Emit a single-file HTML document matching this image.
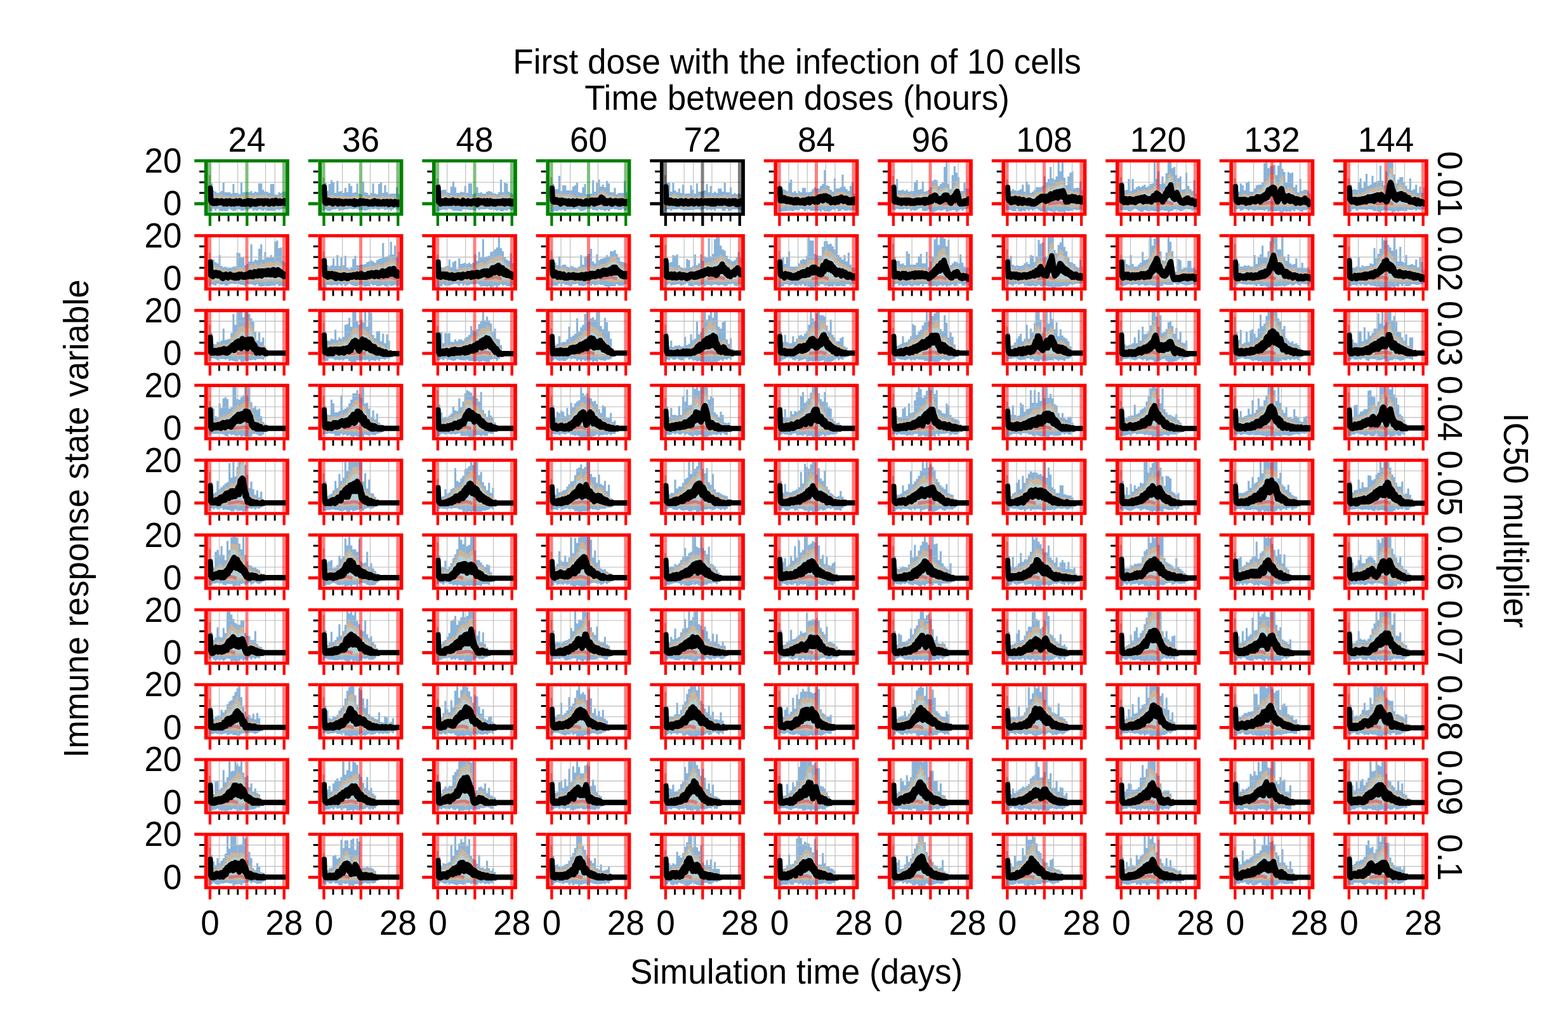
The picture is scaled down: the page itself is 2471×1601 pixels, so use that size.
<!DOCTYPE html><html><head><meta charset="utf-8"><style>html,body{margin:0;padding:0;background:#fff;}svg{display:block;}text{font-family:"Liberation Sans",Arial,sans-serif;font-size:53px;fill:#000;}</style></head><body>
<svg width="2471" height="1601" viewBox="0 0 2471 1601">
<rect width="2471" height="1601" fill="#fff"/>
<defs><clipPath id="pc" clipPathUnits="userSpaceOnUse"><rect x="327.7" y="256.1" width="122.4" height="78.9"/></clipPath></defs>
<text transform="translate(1256,115.5) scale(1,1.04)" text-anchor="middle">First dose with the infection of 10 cells</text>
<text transform="translate(1256,173.2) scale(1,1.04)" text-anchor="middle">Time between doses (hours)</text>
<text transform="translate(1255,1550) scale(1,1.04)" text-anchor="middle">Simulation time (days)</text>
<text transform="translate(139,817.3) rotate(-90) scale(1,1.04)" text-anchor="middle">Immune response state variable</text>
<text transform="translate(2370,820) rotate(90) scale(1,1.04)" text-anchor="middle">IC50 multiplier</text>
<text transform="translate(388.9,239) scale(1,1.04)" text-anchor="middle">24</text>
<text transform="translate(568.4,239) scale(1,1.04)" text-anchor="middle">36</text>
<text transform="translate(747.9,239) scale(1,1.04)" text-anchor="middle">48</text>
<text transform="translate(927.4,239) scale(1,1.04)" text-anchor="middle">60</text>
<text transform="translate(1106.9,239) scale(1,1.04)" text-anchor="middle">72</text>
<text transform="translate(1286.4,239) scale(1,1.04)" text-anchor="middle">84</text>
<text transform="translate(1465.9,239) scale(1,1.04)" text-anchor="middle">96</text>
<text transform="translate(1645.4,239) scale(1,1.04)" text-anchor="middle">108</text>
<text transform="translate(1824.9,239) scale(1,1.04)" text-anchor="middle">120</text>
<text transform="translate(2004.4,239) scale(1,1.04)" text-anchor="middle">132</text>
<text transform="translate(2183.9,239) scale(1,1.04)" text-anchor="middle">144</text>
<text transform="translate(286.5,272) scale(1,1.04)" text-anchor="end">20</text>
<text transform="translate(286.5,339.2) scale(1,1.04)" text-anchor="end">0</text>
<text transform="translate(2266,289.7) rotate(90) scale(1,1.04)" text-anchor="middle">0.01</text>
<text transform="translate(286.5,389.9) scale(1,1.04)" text-anchor="end">20</text>
<text transform="translate(286.5,457.1) scale(1,1.04)" text-anchor="end">0</text>
<text transform="translate(2266,407.6) rotate(90) scale(1,1.04)" text-anchor="middle">0.02</text>
<text transform="translate(286.5,507.8) scale(1,1.04)" text-anchor="end">20</text>
<text transform="translate(286.5,575) scale(1,1.04)" text-anchor="end">0</text>
<text transform="translate(2266,525.5) rotate(90) scale(1,1.04)" text-anchor="middle">0.03</text>
<text transform="translate(286.5,625.8) scale(1,1.04)" text-anchor="end">20</text>
<text transform="translate(286.5,693) scale(1,1.04)" text-anchor="end">0</text>
<text transform="translate(2266,643.5) rotate(90) scale(1,1.04)" text-anchor="middle">0.04</text>
<text transform="translate(286.5,743.7) scale(1,1.04)" text-anchor="end">20</text>
<text transform="translate(286.5,810.9) scale(1,1.04)" text-anchor="end">0</text>
<text transform="translate(2266,761.4) rotate(90) scale(1,1.04)" text-anchor="middle">0.05</text>
<text transform="translate(286.5,861.6) scale(1,1.04)" text-anchor="end">20</text>
<text transform="translate(286.5,928.8) scale(1,1.04)" text-anchor="end">0</text>
<text transform="translate(2266,879.3) rotate(90) scale(1,1.04)" text-anchor="middle">0.06</text>
<text transform="translate(286.5,979.5) scale(1,1.04)" text-anchor="end">20</text>
<text transform="translate(286.5,1046.7) scale(1,1.04)" text-anchor="end">0</text>
<text transform="translate(2266,997.2) rotate(90) scale(1,1.04)" text-anchor="middle">0.07</text>
<text transform="translate(286.5,1097.4) scale(1,1.04)" text-anchor="end">20</text>
<text transform="translate(286.5,1164.6) scale(1,1.04)" text-anchor="end">0</text>
<text transform="translate(2266,1115.1) rotate(90) scale(1,1.04)" text-anchor="middle">0.08</text>
<text transform="translate(286.5,1215.4) scale(1,1.04)" text-anchor="end">20</text>
<text transform="translate(286.5,1282.6) scale(1,1.04)" text-anchor="end">0</text>
<text transform="translate(2266,1233.1) rotate(90) scale(1,1.04)" text-anchor="middle">0.09</text>
<text transform="translate(286.5,1333.3) scale(1,1.04)" text-anchor="end">20</text>
<text transform="translate(286.5,1400.5) scale(1,1.04)" text-anchor="end">0</text>
<text transform="translate(2266,1351) rotate(90) scale(1,1.04)" text-anchor="middle">0.1</text>
<text transform="translate(330.9,1472.6) scale(1,1.04)" text-anchor="middle">0</text>
<text transform="translate(447.7,1472.6) scale(1,1.04)" text-anchor="middle">28</text>
<text transform="translate(510.4,1472.6) scale(1,1.04)" text-anchor="middle">0</text>
<text transform="translate(627.2,1472.6) scale(1,1.04)" text-anchor="middle">28</text>
<text transform="translate(689.9,1472.6) scale(1,1.04)" text-anchor="middle">0</text>
<text transform="translate(806.7,1472.6) scale(1,1.04)" text-anchor="middle">28</text>
<text transform="translate(869.4,1472.6) scale(1,1.04)" text-anchor="middle">0</text>
<text transform="translate(986.2,1472.6) scale(1,1.04)" text-anchor="middle">28</text>
<text transform="translate(1048.9,1472.6) scale(1,1.04)" text-anchor="middle">0</text>
<text transform="translate(1165.7,1472.6) scale(1,1.04)" text-anchor="middle">28</text>
<text transform="translate(1228.4,1472.6) scale(1,1.04)" text-anchor="middle">0</text>
<text transform="translate(1345.2,1472.6) scale(1,1.04)" text-anchor="middle">28</text>
<text transform="translate(1407.9,1472.6) scale(1,1.04)" text-anchor="middle">0</text>
<text transform="translate(1524.7,1472.6) scale(1,1.04)" text-anchor="middle">28</text>
<text transform="translate(1587.4,1472.6) scale(1,1.04)" text-anchor="middle">0</text>
<text transform="translate(1704.2,1472.6) scale(1,1.04)" text-anchor="middle">28</text>
<text transform="translate(1766.9,1472.6) scale(1,1.04)" text-anchor="middle">0</text>
<text transform="translate(1883.7,1472.6) scale(1,1.04)" text-anchor="middle">28</text>
<text transform="translate(1946.4,1472.6) scale(1,1.04)" text-anchor="middle">0</text>
<text transform="translate(2063.2,1472.6) scale(1,1.04)" text-anchor="middle">28</text>
<text transform="translate(2125.9,1472.6) scale(1,1.04)" text-anchor="middle">0</text>
<text transform="translate(2242.7,1472.6) scale(1,1.04)" text-anchor="middle">28</text>
<g transform="translate(0,0)">
<g clip-path="url(#pc)">
<path transform="translate(328.8 0)scale(3.128 1)" d="M0 333V289h1V289h1V300h1V302h1V304h1V303h1V301h1V288h1V303h1V303h1V303h1V305h1V290h1V304h1V304h1V306h1V288h1V303h1V303h1V302h1V303h1V301h1V304h1V302h1V303h1V289h1V289h1V299h1V302h1V302h1V304h1V290h1V290h1V306h1V307h1V303h1V304h1V302h1V302h1V297h1V332h-1V329h-1V329h-1V330h-1V331h-1V330h-1V332h-1V332h-1V332h-1V332h-1V332h-1V330h-1V332h-1V331h-1V330h-1V332h-1V331h-1V332h-1V329h-1V330h-1V332h-1V330h-1V332h-1V332h-1V330h-1V330h-1V332h-1V333h-1V331h-1V329h-1V332h-1V333h-1V332h-1V333h-1V332h-1V329h-1V332h-1V329h-1V333h-1V333h-1Z" fill="#88b3da"/>
<path transform="translate(328.8 0)scale(3.128 1)" d="M0 327V276h1V295h1V306h1V308h1V309h1V308h1V306h1V309h1V308h1V309h1V309h1V310h1V308h1V310h1V310h1V310h1V309h1V309h1V308h1V307h1V308h1V308h1V309h1V307h1V308h1V308h1V307h1V307h1V308h1V308h1V310h1V309h1V310h1V309h1V310h1V309h1V308h1V307h1V308h1V309h1V326h-1V325h-1V325h-1V326h-1V326h-1V325h-1V326h-1V327h-1V326h-1V326h-1V327h-1V327h-1V327h-1V326h-1V326h-1V326h-1V326h-1V326h-1V326h-1V325h-1V326h-1V327h-1V326h-1V326h-1V325h-1V325h-1V326h-1V325h-1V325h-1V326h-1V326h-1V326h-1V326h-1V325h-1V326h-1V325h-1V325h-1V326h-1V326h-1V327h-1Z" fill="#cdb498"/>
<path transform="translate(328.8 0)scale(3.128 1)" d="M0 322V284h1V300h1V310h1V312h1V312h1V311h1V311h1V312h1V311h1V311h1V312h1V312h1V312h1V313h1V313h1V313h1V313h1V313h1V313h1V312h1V312h1V311h1V313h1V311h1V311h1V311h1V311h1V311h1V311h1V312h1V313h1V312h1V313h1V313h1V313h1V312h1V312h1V311h1V311h1V312h1V322h-1V322h-1V322h-1V322h-1V322h-1V322h-1V322h-1V322h-1V322h-1V322h-1V322h-1V322h-1V322h-1V322h-1V322h-1V322h-1V322h-1V322h-1V322h-1V322h-1V322h-1V322h-1V322h-1V322h-1V322h-1V322h-1V322h-1V322h-1V322h-1V322h-1V322h-1V322h-1V322h-1V322h-1V322h-1V322h-1V322h-1V322h-1V322h-1V322h-1Z" fill="#b3cfd4"/>
<path d="M345.5 256.1V335M374.7 256.1V335M418.5 256.1V335M433.1 256.1V335M327.7 287.2H450.1" stroke="#bababa" stroke-width="1.1" fill="none"/>
<path d="M330.6 256.1V335M389 256.1V335M447.4 256.1V335" stroke="#008000" stroke-opacity="0.5" stroke-width="5" fill="none"/>

<g fill="#000" stroke="#000" stroke-linejoin="round"><path d="M330.9 296.5l0.5 0 0.8 16 1.6 3 1.6 1 1.6 0 1.6 1 1.6-1 1.6 0 1.6 0 1.6 1 1.6 0 1.6-1 1.6 0 1.6 1 1.6 1 1.6-1 1.6-1 1.6 1 1.6 0 1.6-1 1.6 0 1.6 2 1.6-1 1.6 0 1.6 0 1.6 0 1.6-1 1.6 1 1.6 0 1.6-1 1.6 0 1.6 2 1.6 0 1.6 0 1.6-1 1.6 1 1.6-1 1.6-1 1.6 0 1.6 0 1.6 2 1.6-2 1.6 1 1.6 0 1.6 1 1.6-1 1.6 0 1.6-1 1.6 0 1.6 1 1.6-1 1.6 1 1.6-1 1.6 2 1.6-2 1.6 0 1.6 1 1.6-1 1.6 2 1.6 0 1.6-1 1.6-1 1.6 0 1.6 1 1.6 0 1.6-2 1.6 2 1.6 0 1.6 0 1.6-1 1.6 1 1.6 0 1.6 0 1.6-1 1.6 0 0 4-1.6-2-1.6 1-1.6 0-1.6 1-1.6-1-1.6 1-1.6 0-1.6-1-1.6-1-1.6 2-1.6 1-1.6-2-1.6-1-1.6 1-1.6 2-1.6 0-1.6-1-1.6-1-1.6 0-1.6 0-1.6 2-1.6-3-1.6 1-1.6-1-1.6 2-1.6-2-1.6 2-1.6 1-1.6 0-1.6 0-1.6-1-1.6 0-1.6-1-1.6 3-1.6-3-1.6-1-1.6 1-1.6 2-1.6 0-1.6 0-1.6 0-1.6 0-1.6 0-1.6-2-1.6 0-1.6 1-1.6 0-1.6 0-1.6 0-1.6 1-1.6-1-1.6 0-1.6 1-1.6-1-1.6-1-1.6 1-1.6 1-1.6-1-1.6 0-1.6 1-1.6-2-1.6 0-1.6-1-1.6 1-1.6 0-1.6 0-1.6 1-1.6-1-1.6 1-1.6 0-1.6 0-1.6-1-1.6-3-0.8-16-0.5 0Z" stroke-width="8.4"/></g>
</g>
<path d="M321.9 251H455.9V339.9H321.9ZM327.7 256.1V335H450.1V256.1Z" fill="#008000" fill-rule="evenodd"/>
<path d="M306.3 253.4H321.9M306.3 321H321.9" stroke="#008000" stroke-width="4.8"/>
<path d="M314.2 304.1H321.9M314.2 287.2H321.9M314.2 270.3H321.9" stroke="#000" stroke-width="3"/>
<path d="M330.9 339.9V355.9M389.3 339.9V355.9M447.7 339.9V355.9" stroke="#008000" stroke-width="4.3"/>
<path d="M345.5 339.9V348.7M360.1 339.9V348.7M374.7 339.9V348.7M403.9 339.9V348.7M418.5 339.9V348.7M433.1 339.9V348.7" stroke="#000" stroke-width="2.9"/>
</g>
<g transform="translate(179.5,0)">
<g clip-path="url(#pc)">
<path transform="translate(328.8 0)scale(3.128 1)" d="M0 332V289h1V288h1V301h1V290h1V284h1V287h1V304h1V285h1V302h1V301h1V304h1V296h1V303h1V289h1V293h1V304h1V303h1V289h1V305h1V306h1V286h1V303h1V304h1V307h1V304h1V289h1V305h1V306h1V290h1V287h1V304h1V292h1V303h1V306h1V305h1V305h1V305h1V295h1V306h1V306h1V332h-1V331h-1V330h-1V328h-1V330h-1V332h-1V330h-1V330h-1V331h-1V329h-1V329h-1V331h-1V330h-1V329h-1V330h-1V329h-1V330h-1V331h-1V332h-1V331h-1V331h-1V331h-1V329h-1V329h-1V330h-1V329h-1V329h-1V330h-1V330h-1V331h-1V331h-1V332h-1V329h-1V330h-1V330h-1V331h-1V333h-1V332h-1V330h-1V332h-1Z" fill="#88b3da"/>
<path transform="translate(328.8 0)scale(3.128 1)" d="M0 325V280h1V297h1V309h1V309h1V307h1V308h1V309h1V309h1V309h1V308h1V309h1V310h1V309h1V310h1V310h1V309h1V307h1V309h1V310h1V310h1V309h1V309h1V310h1V311h1V309h1V309h1V310h1V310h1V311h1V309h1V308h1V310h1V309h1V310h1V310h1V309h1V311h1V311h1V312h1V311h1V325h-1V326h-1V325h-1V326h-1V326h-1V326h-1V325h-1V326h-1V326h-1V325h-1V327h-1V326h-1V325h-1V325h-1V325h-1V326h-1V325h-1V326h-1V325h-1V325h-1V324h-1V325h-1V325h-1V325h-1V325h-1V326h-1V325h-1V325h-1V327h-1V326h-1V325h-1V326h-1V326h-1V326h-1V326h-1V326h-1V326h-1V326h-1V325h-1V325h-1Z" fill="#cdb498"/>
<path transform="translate(328.8 0)scale(3.128 1)" d="M0 322V287h1V303h1V312h1V311h1V311h1V312h1V312h1V313h1V313h1V312h1V313h1V313h1V313h1V313h1V313h1V312h1V311h1V312h1V312h1V312h1V312h1V312h1V314h1V314h1V313h1V312h1V314h1V313h1V313h1V313h1V312h1V313h1V312h1V313h1V313h1V312h1V313h1V314h1V314h1V314h1V322h-1V322h-1V322h-1V322h-1V322h-1V322h-1V322h-1V322h-1V322h-1V322h-1V322h-1V322h-1V322h-1V322h-1V322h-1V322h-1V322h-1V322h-1V322h-1V322h-1V322h-1V322h-1V322h-1V322h-1V322h-1V322h-1V322h-1V322h-1V322h-1V322h-1V322h-1V322h-1V322h-1V322h-1V322h-1V322h-1V322h-1V322h-1V322h-1V322h-1Z" fill="#b3cfd4"/>
<path d="M360.1 256.1V335M403.9 256.1V335M433.1 256.1V335M327.7 287.2H450.1" stroke="#bababa" stroke-width="1.1" fill="none"/>
<path d="M330.6 256.1V335M389 256.1V335M447.4 256.1V335" stroke="#008000" stroke-opacity="0.5" stroke-width="5" fill="none"/>

<g fill="#000" stroke="#000" stroke-linejoin="round"><path d="M330.9 294.4l0.5 0 0.8 20 1.6 2 1.6 0 1.6-1 1.6 0 1.6 1 1.6 0 1.6 0 1.6 2 1.6-2 1.6 0 1.6 0 1.6 1 1.6 1 1.6-2 1.6 2 1.6-1 1.6 0 1.6 1 1.6 0 1.6-1 1.6 0 1.6 0 1.6 1 1.6-1 1.6 0 1.6 0 1.6 1 1.6 0 1.6-2 1.6 2 1.6-1 1.6 1 1.6 0 1.6 0 1.6-2 1.6 1 1.6 0 1.6-1 1.6 1 1.6 1 1.6-1 1.6 0 1.6 2 1.6-1 1.6 0 1.6 0 1.6-1 1.6 1 1.6-2 1.6 1 1.6 0 1.6 1 1.6-1 1.6 1 1.6 0 1.6 1 1.6-1 1.6-1 1.6 1 1.6 0 1.6-1 1.6 0 1.6 2 1.6-1 1.6-1 1.6 1 1.6 0 1.6 0 1.6-1 1.6 1 1.6 0 1.6 1 1.6-1 0 3-1.6 1-1.6-1-1.6 0-1.6 0-1.6 1-1.6-1-1.6 0-1.6-2-1.6 2-1.6 1-1.6-2-1.6 0-1.6 0-1.6 1-1.6-1-1.6 0-1.6 1-1.6-1-1.6 1-1.6 0-1.6 0-1.6-1-1.6 0-1.6-1-1.6 2-1.6-1-1.6 1-1.6 0-1.6-1-1.6 1-1.6-2-1.6 1-1.6 0-1.6 0-1.6 0-1.6 0-1.6-1-1.6 0-1.6 2-1.6 0-1.6-1-1.6 0-1.6 2-1.6-2-1.6 1-1.6-1-1.6 0-1.6 0-1.6-1-1.6 1-1.6-1-1.6 0-1.6 0-1.6 2-1.6 0-1.6-1-1.6-1-1.6 1-1.6-1-1.6 2-1.6-1-1.6-2-1.6 1-1.6 0-1.6 2-1.6-1-1.6-1-1.6 0-1.6-1-1.6 1-1.6 1-1.6 0-1.6-2-0.8-20-0.5 0Z" stroke-width="8.4"/></g>
</g>
<path d="M321.9 251H455.9V339.9H321.9ZM327.7 256.1V335H450.1V256.1Z" fill="#008000" fill-rule="evenodd"/>
<path d="M306.3 253.4H321.9M306.3 321H321.9" stroke="#008000" stroke-width="4.8"/>
<path d="M314.2 304.1H321.9M314.2 287.2H321.9M314.2 270.3H321.9" stroke="#000" stroke-width="3"/>
<path d="M330.9 339.9V355.9M389.3 339.9V355.9M447.7 339.9V355.9" stroke="#008000" stroke-width="4.3"/>
<path d="M345.5 339.9V348.7M360.1 339.9V348.7M374.7 339.9V348.7M403.9 339.9V348.7M418.5 339.9V348.7M433.1 339.9V348.7" stroke="#000" stroke-width="2.9"/>
</g>
<g transform="translate(359,0)">
<g clip-path="url(#pc)">
<path transform="translate(328.8 0)scale(3.128 1)" d="M0 333V290h1V290h1V300h1V299h1V299h1V303h1V304h1V294h1V286h1V295h1V304h1V304h1V302h1V303h1V293h1V304h1V289h1V289h1V306h1V304h1V295h1V304h1V303h1V305h1V305h1V302h1V301h1V302h1V304h1V305h1V306h1V303h1V283h1V303h1V288h1V289h1V302h1V304h1V306h1V304h1V330h-1V331h-1V331h-1V330h-1V332h-1V331h-1V333h-1V333h-1V331h-1V332h-1V331h-1V330h-1V331h-1V330h-1V329h-1V330h-1V330h-1V330h-1V331h-1V329h-1V332h-1V331h-1V331h-1V331h-1V330h-1V330h-1V330h-1V333h-1V333h-1V332h-1V332h-1V332h-1V330h-1V329h-1V330h-1V331h-1V330h-1V331h-1V332h-1V333h-1Z" fill="#88b3da"/>
<path transform="translate(328.8 0)scale(3.128 1)" d="M0 326V281h1V298h1V307h1V305h1V306h1V308h1V310h1V307h1V308h1V309h1V310h1V309h1V308h1V307h1V308h1V309h1V310h1V310h1V310h1V310h1V308h1V309h1V309h1V310h1V309h1V308h1V307h1V307h1V308h1V308h1V310h1V309h1V307h1V307h1V307h1V308h1V308h1V309h1V310h1V310h1V326h-1V326h-1V325h-1V325h-1V326h-1V326h-1V327h-1V327h-1V326h-1V326h-1V325h-1V326h-1V326h-1V326h-1V326h-1V326h-1V326h-1V326h-1V325h-1V325h-1V326h-1V326h-1V327h-1V326h-1V325h-1V325h-1V325h-1V326h-1V326h-1V326h-1V325h-1V325h-1V325h-1V325h-1V325h-1V325h-1V325h-1V325h-1V325h-1V326h-1Z" fill="#cdb498"/>
<path transform="translate(328.8 0)scale(3.128 1)" d="M0 322V285h1V301h1V310h1V309h1V310h1V311h1V312h1V311h1V312h1V312h1V313h1V312h1V311h1V311h1V311h1V312h1V313h1V312h1V312h1V313h1V312h1V312h1V313h1V313h1V312h1V312h1V312h1V312h1V312h1V311h1V312h1V312h1V311h1V311h1V311h1V311h1V311h1V312h1V312h1V312h1V322h-1V322h-1V322h-1V322h-1V322h-1V322h-1V322h-1V322h-1V322h-1V322h-1V322h-1V322h-1V322h-1V322h-1V322h-1V322h-1V322h-1V322h-1V322h-1V322h-1V322h-1V322h-1V322h-1V322h-1V322h-1V322h-1V322h-1V322h-1V322h-1V322h-1V322h-1V322h-1V322h-1V322h-1V322h-1V322h-1V322h-1V322h-1V322h-1V322h-1Z" fill="#b3cfd4"/>
<path d="M345.5 256.1V335M374.7 256.1V335M418.5 256.1V335M327.7 287.2H450.1" stroke="#bababa" stroke-width="1.1" fill="none"/>
<path d="M330.6 256.1V335M389 256.1V335M447.4 256.1V335" stroke="#008000" stroke-opacity="0.5" stroke-width="5" fill="none"/>

<g fill="#000" stroke="#000" stroke-linejoin="round"><path d="M330.9 295.4l0.5 0 0.8 19 1.6 1 1.6 1 1.6 0 1.6 1 1.6-1 1.6 1 1.6-2 1.6 1 1.6 0 1.6 1 1.6-1 1.6 0 1.6 1 1.6-2 1.6 1 1.6 0 1.6 2 1.6-2 1.6 0 1.6 2 1.6 0 1.6 0 1.6 0 1.6-3 1.6 3 1.6-1 1.6 0 1.6 0 1.6-1 1.6 2 1.6-1 1.6 0 1.6 0 1.6-1 1.6 0 1.6 2 1.6-2 1.6 2 1.6-3 1.6 2 1.6-1 1.6 0 1.6 1 1.6 0 1.6-1 1.6 2 1.6 0 1.6-2 1.6 1 1.6 1 1.6-2 1.6 1 1.6 0 1.6 1 1.6-1 1.6 1 1.6-1 1.6 0 1.6 0 1.6 0 1.6 0 1.6 0 1.6-1 1.6 0 1.6 2 1.6-2 1.6 2 1.6-1 1.6-1 1.6 0 1.6 2 1.6-1 1.6 0 0 4-1.6 0-1.6 0-1.6-1-1.6 0-1.6-1-1.6 1-1.6-1-1.6 2-1.6-1-1.6-2-1.6 2-1.6 0-1.6 0-1.6-1-1.6 1-1.6 0-1.6 1-1.6-1-1.6 1-1.6-1-1.6-1-1.6 0-1.6 2-1.6 0-1.6-2-1.6 2-1.6 0-1.6-2-1.6 0-1.6 0-1.6-1-1.6 0-1.6 2-1.6-2-1.6 4-1.6-4-1.6 2-1.6-1-1.6 0-1.6 1-1.6 1-1.6-2-1.6 1-1.6-1-1.6 2-1.6-1-1.6 0-1.6 0-1.6-2-1.6 3-1.6-1-1.6 0-1.6 0-1.6-1-1.6 0-1.6 1-1.6-1-1.6 0-1.6-1-1.6 2-1.6 0-1.6-2-1.6 2-1.6-1-1.6 1-1.6-1-1.6 1-1.6-1-1.6 1-1.6 0-1.6 1-1.6-2-1.6-1-0.8-19-0.5 0Z" stroke-width="8.4"/></g>
</g>
<path d="M321.9 251H455.9V339.9H321.9ZM327.7 256.1V335H450.1V256.1Z" fill="#008000" fill-rule="evenodd"/>
<path d="M306.3 253.4H321.9M306.3 321H321.9" stroke="#008000" stroke-width="4.8"/>
<path d="M314.2 304.1H321.9M314.2 287.2H321.9M314.2 270.3H321.9" stroke="#000" stroke-width="3"/>
<path d="M330.9 339.9V355.9M389.3 339.9V355.9M447.7 339.9V355.9" stroke="#008000" stroke-width="4.3"/>
<path d="M345.5 339.9V348.7M360.1 339.9V348.7M374.7 339.9V348.7M403.9 339.9V348.7M418.5 339.9V348.7M433.1 339.9V348.7" stroke="#000" stroke-width="2.9"/>
</g>
<g transform="translate(538.5,0)">
<g clip-path="url(#pc)">
<path transform="translate(328.8 0)scale(3.128 1)" d="M0 334V291h1V290h1V298h1V298h1V277h1V301h1V292h1V292h1V300h1V300h1V300h1V294h1V292h1V288h1V303h1V304h1V295h1V290h1V306h1V306h1V305h1V284h1V302h1V288h1V283h1V294h1V291h1V295h1V285h1V289h1V303h1V303h1V296h1V306h1V304h1V304h1V304h1V285h1V303h1V304h1V330h-1V331h-1V332h-1V329h-1V331h-1V331h-1V330h-1V330h-1V329h-1V330h-1V333h-1V331h-1V333h-1V331h-1V331h-1V330h-1V332h-1V331h-1V331h-1V329h-1V329h-1V329h-1V331h-1V332h-1V333h-1V331h-1V329h-1V330h-1V330h-1V330h-1V330h-1V330h-1V333h-1V331h-1V331h-1V331h-1V333h-1V332h-1V334h-1V334h-1Z" fill="#88b3da"/>
<path transform="translate(328.8 0)scale(3.128 1)" d="M0 325V279h1V295h1V304h1V305h1V305h1V307h1V306h1V306h1V306h1V306h1V307h1V307h1V310h1V310h1V309h1V310h1V309h1V309h1V310h1V309h1V309h1V308h1V307h1V308h1V305h1V301h1V300h1V302h1V305h1V307h1V307h1V307h1V309h1V310h1V309h1V309h1V310h1V309h1V310h1V309h1V327h-1V326h-1V327h-1V326h-1V326h-1V326h-1V325h-1V325h-1V325h-1V325h-1V326h-1V325h-1V326h-1V325h-1V326h-1V326h-1V326h-1V325h-1V325h-1V326h-1V326h-1V326h-1V325h-1V326h-1V326h-1V325h-1V326h-1V326h-1V326h-1V327h-1V326h-1V326h-1V325h-1V326h-1V325h-1V325h-1V325h-1V325h-1V326h-1V325h-1Z" fill="#cdb498"/>
<path transform="translate(328.8 0)scale(3.128 1)" d="M0 322V289h1V301h1V309h1V309h1V310h1V311h1V309h1V309h1V309h1V310h1V310h1V311h1V313h1V313h1V313h1V313h1V312h1V312h1V313h1V312h1V312h1V311h1V311h1V311h1V309h1V306h1V305h1V307h1V309h1V310h1V310h1V310h1V312h1V313h1V312h1V313h1V313h1V313h1V313h1V313h1V322h-1V322h-1V322h-1V322h-1V322h-1V322h-1V322h-1V322h-1V322h-1V322h-1V322h-1V322h-1V322h-1V322h-1V322h-1V322h-1V322h-1V322h-1V322h-1V322h-1V322h-1V322h-1V322h-1V322h-1V322h-1V322h-1V322h-1V322h-1V322h-1V322h-1V322h-1V322h-1V322h-1V322h-1V322h-1V322h-1V322h-1V322h-1V322h-1V322h-1Z" fill="#b3cfd4"/>
<path d="M345.5 256.1V335M360.1 256.1V335M403.9 256.1V335M327.7 287.2H450.1" stroke="#bababa" stroke-width="1.1" fill="none"/>
<path d="M330.6 256.1V335M389 256.1V335M447.4 256.1V335" stroke="#008000" stroke-opacity="0.5" stroke-width="5" fill="none"/>

<g fill="#000" stroke="#000" stroke-linejoin="round"><path d="M330.9 296.5l0.5 0 0.8 17 1.6 2 1.6-1 1.6 0 1.6 0 1.6 2 1.6 0 1.6-1 1.6 2 1.6-2 1.6 0 1.6 2 1.6 0 1.6-1 1.6 2 1.6-1 1.6-1 1.6 2 1.6 0 1.6-1 1.6-1 1.6 2 1.6-1 1.6 1 1.6-2 1.6 1 1.6 0 1.6 0 1.6 0 1.6 1 1.6 0 1.6 0 1.6 0 1.6-2 1.6 0 1.6 2 1.6 0 1.6-2 1.6-1 1.6 0 1.6 0 1.6 2 1.6-2 1.6 2 1.6-2 1.6 1 1.6-2 1.6-1 1.6-3 1.6 1 1.6 1 1.6 4 1.6 0 1.6 0 1.6 0 1.6 0 1.6 0 1.6-1 1.6 2 1.6 0 1.6 0 1.6-1 1.6 0 1.6 0 1.6 1 1.6 0 1.6-1 1.6 1 1.6-1 1.6 0 1.6 1 1.6 1 1.6 0 1.6-1 0 3-1.6 0-1.6 0-1.6 0-1.6-2-1.6 1-1.6 2-1.6-1-1.6 1-1.6-1-1.6-1-1.6 0-1.6 0-1.6 1-1.6 1-1.6 0-1.6-2-1.6 0-1.6-1-1.6 2-1.6 0-1.6 0-1.6 0-1.6-3-1.6 0-1.6-2-1.6 3-1.6-1-1.6 2-1.6-1-1.6 2-1.6-1-1.6 2-1.6-2-1.6-1-1.6 0-1.6 0-1.6 3-1.6 0-1.6-2-1.6 0-1.6 2-1.6-1-1.6 1-1.6 0-1.6-1-1.6-1-1.6 0-1.6 1-1.6-1-1.6 2-1.6-1-1.6 2-1.6-2-1.6 0-1.6 1-1.6 0-1.6-2-1.6 2-1.6-1-1.6-1-1.6 0-1.6 0-1.6-2-1.6 0-1.6 4-1.6-2-1.6 0-1.6-1-1.6 0-1.6 0-1.6-1-1.6 1-1.6-2-0.8-16-0.5 0Z" stroke-width="8.4"/></g>
</g>
<path d="M321.9 251H455.9V339.9H321.9ZM327.7 256.1V335H450.1V256.1Z" fill="#008000" fill-rule="evenodd"/>
<path d="M306.3 253.4H321.9M306.3 321H321.9" stroke="#008000" stroke-width="4.8"/>
<path d="M314.2 304.1H321.9M314.2 287.2H321.9M314.2 270.3H321.9" stroke="#000" stroke-width="3"/>
<path d="M330.9 339.9V355.9M389.3 339.9V355.9M447.7 339.9V355.9" stroke="#008000" stroke-width="4.3"/>
<path d="M345.5 339.9V348.7M360.1 339.9V348.7M374.7 339.9V348.7M403.9 339.9V348.7M418.5 339.9V348.7M433.1 339.9V348.7" stroke="#000" stroke-width="2.9"/>
</g>
<g transform="translate(718,0)">
<g clip-path="url(#pc)">
<path transform="translate(328.8 0)scale(3.128 1)" d="M0 333V287h1V288h1V288h1V302h1V288h1V300h1V303h1V297h1V304h1V291h1V305h1V305h1V305h1V292h1V299h1V305h1V289h1V302h1V302h1V301h1V300h1V290h1V303h1V293h1V304h1V302h1V304h1V297h1V297h1V302h1V288h1V303h1V303h1V295h1V306h1V304h1V306h1V305h1V306h1V307h1V331h-1V331h-1V330h-1V330h-1V330h-1V330h-1V332h-1V332h-1V329h-1V332h-1V332h-1V329h-1V329h-1V329h-1V332h-1V330h-1V331h-1V330h-1V331h-1V329h-1V330h-1V331h-1V330h-1V330h-1V330h-1V331h-1V331h-1V331h-1V331h-1V331h-1V331h-1V330h-1V329h-1V330h-1V330h-1V330h-1V332h-1V330h-1V330h-1V333h-1Z" fill="#88b3da"/>
<path transform="translate(328.8 0)scale(3.128 1)" d="M0 327V276h1V298h1V308h1V308h1V306h1V306h1V308h1V310h1V310h1V308h1V309h1V310h1V309h1V309h1V311h1V311h1V310h1V308h1V308h1V308h1V307h1V309h1V309h1V309h1V310h1V308h1V310h1V310h1V309h1V308h1V306h1V309h1V309h1V311h1V310h1V310h1V310h1V309h1V310h1V312h1V326h-1V326h-1V325h-1V325h-1V326h-1V326h-1V326h-1V326h-1V326h-1V326h-1V326h-1V326h-1V326h-1V325h-1V326h-1V326h-1V326h-1V326h-1V326h-1V326h-1V326h-1V326h-1V326h-1V325h-1V325h-1V326h-1V326h-1V326h-1V327h-1V326h-1V326h-1V326h-1V325h-1V326h-1V326h-1V325h-1V325h-1V325h-1V327h-1V327h-1Z" fill="#cdb498"/>
<path transform="translate(328.8 0)scale(3.128 1)" d="M0 322V286h1V304h1V312h1V311h1V310h1V310h1V312h1V313h1V313h1V312h1V312h1V313h1V313h1V312h1V314h1V313h1V313h1V312h1V311h1V311h1V311h1V311h1V312h1V312h1V313h1V311h1V313h1V313h1V312h1V311h1V311h1V312h1V313h1V314h1V314h1V312h1V313h1V313h1V313h1V314h1V322h-1V322h-1V322h-1V322h-1V322h-1V322h-1V322h-1V322h-1V322h-1V322h-1V322h-1V322h-1V322h-1V322h-1V322h-1V322h-1V322h-1V322h-1V322h-1V322h-1V322h-1V322h-1V322h-1V322h-1V322h-1V322h-1V322h-1V322h-1V322h-1V322h-1V322h-1V322h-1V322h-1V322h-1V322h-1V322h-1V322h-1V322h-1V322h-1V322h-1Z" fill="#b3cfd4"/>
<path d="M360.1 256.1V335M374.7 256.1V335M403.9 256.1V335M433.1 256.1V335M327.7 287.2H450.1" stroke="#bababa" stroke-width="1.1" fill="none"/>
<path d="M330.6 256.1V335M389 256.1V335M447.4 256.1V335" stroke="#000000" stroke-opacity="0.5" stroke-width="5" fill="none"/>

<g fill="#000" stroke="#000" stroke-linejoin="round"><path d="M330.9 294.4l0.5 0 0.8 20 1.6 2 1.6-1 1.6 2 1.6-2 1.6 1 1.6 0 1.6 1 1.6 1 1.6-2 1.6 2 1.6 0 1.6-1 1.6 0 1.6-1 1.6 0 1.6 1 1.6 1 1.6-1 1.6-1 1.6 2 1.6-1 1.6 1 1.6 0 1.6-2 1.6 0 1.6 0 1.6 2 1.6 0 1.6-1 1.6-1 1.6 1 1.6 1 1.6-1 1.6-1 1.6 2 1.6 0 1.6-1 1.6-1 1.6 1 1.6-1 1.6 0 1.6 0 1.6 0 1.6 2 1.6-2 1.6 1 1.6-1 1.6 2 1.6-2 1.6 0 1.6 0 1.6 1 1.6 0 1.6-1 1.6 2 1.6-2 1.6 0 1.6 0 1.6 1 1.6 1 1.6 0 1.6-2 1.6 2 1.6 0 1.6-2 1.6 0 1.6 0 1.6 0 1.6 2 1.6 0 1.6 0 1.6-1 1.6-1 0 4-1.6 1-1.6 0-1.6 1-1.6 0-1.6-3-1.6 1-1.6 0-1.6 0-1.6 0-1.6 1-1.6-2-1.6 2-1.6-1-1.6 0-1.6-2-1.6 0-1.6 0-1.6 2-1.6-1-1.6 1-1.6 0-1.6-1-1.6-1-1.6 1-1.6 2-1.6-1-1.6 1-1.6-2-1.6 2-1.6-1-1.6-1-1.6 1-1.6 0-1.6-1-1.6 0-1.6 0-1.6 1-1.6 0-1.6-2-1.6 1-1.6 2-1.6-1-1.6-1-1.6 0-1.6 1-1.6 1-1.6-2-1.6 1-1.6-1-1.6 1-1.6 1-1.6 0-1.6-1-1.6-1-1.6 1-1.6 1-1.6-1-1.6 0-1.6 0-1.6 0-1.6 1-1.6 0-1.6 0-1.6-1-1.6 0-1.6 0-1.6 0-1.6-1-1.6-1-1.6 2-1.6-1-1.6 0-1.6 0-0.8-21-0.5 0Z" stroke-width="8.4"/></g>
</g>
<path d="M321.9 251H455.9V339.9H321.9ZM327.7 256.1V335H450.1V256.1Z" fill="#000000" fill-rule="evenodd"/>
<path d="M306.3 253.4H321.9M306.3 321H321.9" stroke="#000000" stroke-width="4.8"/>
<path d="M314.2 304.1H321.9M314.2 287.2H321.9M314.2 270.3H321.9" stroke="#000" stroke-width="3"/>
<path d="M330.9 339.9V355.9M389.3 339.9V355.9M447.7 339.9V355.9" stroke="#000000" stroke-width="4.3"/>
<path d="M345.5 339.9V348.7M360.1 339.9V348.7M374.7 339.9V348.7M403.9 339.9V348.7M418.5 339.9V348.7M433.1 339.9V348.7" stroke="#000" stroke-width="2.9"/>
</g>
<g transform="translate(897.5,0)">
<g clip-path="url(#pc)">
<path transform="translate(328.8 0)scale(3.128 1)" d="M0 334V294h1V294h1V298h1V299h1V301h1V288h1V283h1V303h1V301h1V304h1V301h1V303h1V296h1V296h1V303h1V303h1V302h1V298h1V295h1V297h1V297h1V293h1V290h1V268h1V292h1V293h1V299h1V302h1V281h1V297h1V297h1V295h1V275h1V294h1V298h1V301h1V293h1V287h1V305h1V302h1V333h-1V332h-1V331h-1V332h-1V331h-1V332h-1V332h-1V330h-1V332h-1V333h-1V329h-1V331h-1V330h-1V332h-1V334h-1V333h-1V333h-1V331h-1V334h-1V332h-1V332h-1V332h-1V332h-1V332h-1V330h-1V330h-1V333h-1V330h-1V329h-1V331h-1V331h-1V331h-1V333h-1V332h-1V332h-1V332h-1V333h-1V333h-1V334h-1V334h-1Z" fill="#88b3da"/>
<path transform="translate(328.8 0)scale(3.128 1)" d="M0 327V285h1V299h1V305h1V305h1V305h1V305h1V308h1V309h1V308h1V309h1V307h1V308h1V308h1V309h1V307h1V309h1V308h1V305h1V302h1V305h1V303h1V302h1V298h1V299h1V299h1V300h1V306h1V307h1V307h1V303h1V302h1V302h1V302h1V303h1V305h1V305h1V308h1V309h1V309h1V309h1V325h-1V326h-1V327h-1V327h-1V326h-1V325h-1V325h-1V325h-1V325h-1V325h-1V326h-1V326h-1V325h-1V325h-1V325h-1V325h-1V325h-1V326h-1V325h-1V325h-1V326h-1V326h-1V326h-1V325h-1V325h-1V325h-1V326h-1V325h-1V325h-1V326h-1V325h-1V325h-1V325h-1V326h-1V326h-1V325h-1V325h-1V327h-1V327h-1V327h-1Z" fill="#cdb498"/>
<path transform="translate(328.8 0)scale(3.128 1)" d="M0 322V290h1V303h1V308h1V308h1V309h1V310h1V311h1V312h1V312h1V312h1V310h1V312h1V312h1V312h1V311h1V312h1V311h1V310h1V307h1V308h1V307h1V306h1V304h1V304h1V304h1V304h1V309h1V311h1V310h1V307h1V307h1V307h1V308h1V307h1V309h1V309h1V311h1V312h1V312h1V312h1V322h-1V322h-1V322h-1V322h-1V322h-1V322h-1V322h-1V322h-1V322h-1V322h-1V322h-1V322h-1V322h-1V322h-1V322h-1V322h-1V322h-1V322h-1V322h-1V322h-1V322h-1V322h-1V322h-1V322h-1V322h-1V322h-1V322h-1V322h-1V322h-1V322h-1V322h-1V322h-1V322h-1V322h-1V322h-1V322h-1V322h-1V322h-1V322h-1V322h-1Z" fill="#b3cfd4"/>
<path d="M345.5 256.1V335M360.1 256.1V335M374.7 256.1V335M403.9 256.1V335M418.5 256.1V335M327.7 287.2H450.1" stroke="#bababa" stroke-width="1.1" fill="none"/>
<path d="M330.6 256.1V335M389 256.1V335M447.4 256.1V335" stroke="#ff0000" stroke-opacity="0.5" stroke-width="5" fill="none"/>

<g fill="#000" stroke="#000" stroke-linejoin="round"><path d="M330.9 297.5l0.5 0 0.8 13 1.6 2 1.6 1 1.6-2 1.6 0 1.6 1 1.6 1 1.6 1 1.6-1 1.6 1 1.6 1 1.6-1 1.6 1 1.6 0 1.6 1 1.6-2 1.6 1 1.6-1 1.6 2 1.6 1 1.6-1 1.6 1 1.6-2 1.6 0 1.6 1 1.6-1 1.6-1 1.6 1 1.6-2 1.6 2 1.6-1 1.6-1 1.6 0 1.6 0 1.6 2 1.6-1 1.6-2 1.6 1 1.6-3 1.6 0 1.6-1 1.6 2 1.6-1 1.6-2 1.6 1 1.6-1 1.6 1 1.6 2 1.6-1 1.6 3 1.6 2 1.6 0 1.6-1 1.6-1 1.6 2 1.6-1 1.6-2 1.6 1 1.6-1 1.6-1 1.6-1 1.6 1 1.6 2 1.6-1 1.6 0 1.6 0 1.6 1 1.6 1 1.6 1 1.6 0 1.6-1 1.6 0 1.6 1 1.6-2 0 3-1.6 3-1.6-2-1.6 1-1.6 1-1.6-1-1.6 1-1.6-1-1.6-1-1.6-1-1.6 0-1.6 1-1.6-2-1.6-1-1.6 1-1.6 1-1.6 2-1.6-2-1.6 1-1.6 2-1.6-2-1.6 1-1.6-1-1.6 2-1.6-3-1.6-1-1.6 1-1.6-3-1.6 0-1.6 0-1.6-1-1.6 4-1.6-1-1.6-1-1.6 1-1.6 0-1.6 3-1.6-3-1.6 2-1.6 1-1.6-1-1.6-1-1.6 0-1.6 1-1.6 2-1.6-2-1.6 1-1.6 0-1.6 0-1.6 2-1.6-3-1.6 0-1.6 2-1.6 0-1.6 0-1.6-1-1.6-1-1.6 2-1.6-1-1.6 1-1.6 0-1.6-1-1.6-1-1.6 1-1.6-1-1.6 0-1.6 0-1.6 0-1.6-1-1.6 0-1.6-1-1.6 1-1.6-1-1.6 1-0.8-16-0.5 0Z" stroke-width="8.4"/></g>
</g>
<path d="M321.9 251H455.9V339.9H321.9ZM327.7 256.1V335H450.1V256.1Z" fill="#ff0000" fill-rule="evenodd"/>
<path d="M306.3 253.4H321.9M306.3 321H321.9" stroke="#ff0000" stroke-width="4.8"/>
<path d="M314.2 304.1H321.9M314.2 287.2H321.9M314.2 270.3H321.9" stroke="#000" stroke-width="3"/>
<path d="M330.9 339.9V355.9M389.3 339.9V355.9M447.7 339.9V355.9" stroke="#ff0000" stroke-width="4.3"/>
<path d="M345.5 339.9V348.7M360.1 339.9V348.7M374.7 339.9V348.7M403.9 339.9V348.7M418.5 339.9V348.7M433.1 339.9V348.7" stroke="#000" stroke-width="2.9"/>
</g>
<g transform="translate(1077,0)">
<g clip-path="url(#pc)">
<path transform="translate(328.8 0)scale(3.128 1)" d="M0 330V289h1V290h1V282h1V300h1V300h1V299h1V301h1V299h1V302h1V301h1V301h1V287h1V284h1V299h1V298h1V286h1V302h1V301h1V299h1V295h1V285h1V283h1V284h1V293h1V290h1V287h1V263h1V253h1V290h1V298h1V276h1V262h1V272h1V279h1V301h1V301h1V288h1V297h1V297h1V299h1V332h-1V329h-1V329h-1V330h-1V332h-1V330h-1V332h-1V334h-1V331h-1V331h-1V332h-1V333h-1V334h-1V330h-1V331h-1V332h-1V331h-1V332h-1V334h-1V335h-1V333h-1V330h-1V332h-1V333h-1V332h-1V328h-1V329h-1V331h-1V332h-1V331h-1V332h-1V329h-1V330h-1V329h-1V330h-1V330h-1V330h-1V329h-1V331h-1V330h-1Z" fill="#88b3da"/>
<path transform="translate(328.8 0)scale(3.128 1)" d="M0 325V277h1V297h1V306h1V306h1V307h1V305h1V306h1V305h1V308h1V306h1V308h1V309h1V307h1V307h1V305h1V305h1V306h1V306h1V303h1V301h1V293h1V291h1V293h1V300h1V297h1V297h1V295h1V294h1V298h1V305h1V297h1V291h1V285h1V290h1V308h1V307h1V305h1V303h1V304h1V304h1V326h-1V326h-1V325h-1V326h-1V326h-1V324h-1V325h-1V325h-1V326h-1V326h-1V326h-1V325h-1V326h-1V326h-1V325h-1V325h-1V325h-1V326h-1V325h-1V327h-1V326h-1V325h-1V326h-1V326h-1V325h-1V325h-1V326h-1V325h-1V326h-1V325h-1V327h-1V327h-1V325h-1V326h-1V325h-1V325h-1V325h-1V326h-1V325h-1V325h-1Z" fill="#cdb498"/>
<path transform="translate(328.8 0)scale(3.128 1)" d="M0 322V286h1V302h1V310h1V311h1V310h1V309h1V311h1V310h1V312h1V311h1V311h1V311h1V311h1V310h1V308h1V308h1V309h1V308h1V307h1V306h1V299h1V298h1V301h1V306h1V302h1V301h1V299h1V297h1V302h1V308h1V302h1V296h1V293h1V296h1V312h1V312h1V310h1V308h1V308h1V309h1V322h-1V322h-1V322h-1V322h-1V322h-1V322h-1V322h-1V322h-1V322h-1V322h-1V322h-1V322h-1V322h-1V322h-1V322h-1V322h-1V322h-1V322h-1V322h-1V322h-1V322h-1V322h-1V322h-1V322h-1V322h-1V322h-1V322h-1V322h-1V322h-1V322h-1V322h-1V322h-1V322h-1V322h-1V322h-1V322h-1V322h-1V322h-1V322h-1V322h-1Z" fill="#b3cfd4"/>
<path d="M360.1 256.1V335M418.5 256.1V335M433.1 256.1V335M327.7 287.2H450.1" stroke="#bababa" stroke-width="1.1" fill="none"/>
<path d="M330.6 256.1V335M389 256.1V335M447.4 256.1V335" stroke="#ff0000" stroke-opacity="0.5" stroke-width="5" fill="none"/>
<path d="M407.6 321L418.1 319.9L425.6 318.9L431.4 320.3L434.8 321.6" fill="none" stroke="#f00" stroke-opacity="0.4" stroke-width="5" stroke-linejoin="round"/>
<g fill="#000" stroke="#000" stroke-linejoin="round"><path d="M330.9 295.4l0.5 0 0.8 17 1.6 2 1.6-1 1.6 1 1.6 1 1.6 0 1.6 0 1.6 1 1.6-1 1.6 0 1.6 2 1.6-2 1.6 1 1.6-1 1.6 2 1.6-2 1.6 2 1.6-1 1.6 1 1.6-1 1.6 1 1.6-1 1.6-1 1.6 0 1.6 0 1.6 0 1.6 1 1.6-1 1.6 0 1.6-1 1.6 1 1.6-1 1.6 0 1.6 2 1.6-1 1.6-2 1.6-3 1.6 1 1.6-2 1.6-1 1.6-1 1.6 1 1.6 4 1.6 0 1.6 2 1.6 1 1.6-3 1.6 0 1.6-1 1.6-3 1.6-1 1.6 0 1.6 0 1.6 3 1.6 1 1.6 4 1.6 1 1.6-4 1.6-2 1.6-2 1.6-2 1.6-3 1.6-2 1.6 6 1.6 7 1.6 4 1.6 0 1.6 0 1.6 0 1.6-2 1.6 0 1.6 0 1.6 0 1.6-3 0 4-1.6 3-1.6-1-1.6 1-1.6-1-1.6 2-1.6 0-1.6-1-1.6 1-1.6-3-1.6-7-1.6-3-1.6 3-1.6 2-1.6 3-1.6 0-1.6 0-1.6 4-1.6-1-1.6-3-1.6-3-1.6 0-1.6 1-1.6 0-1.6-1-1.6 2-1.6 1-1.6-1-1.6 3-1.6-1-1.6-2-1.6 1-1.6-4-1.6 2-1.6 0-1.6 0-1.6 3-1.6-3-1.6 4-1.6-1-1.6 2-1.6-2-1.6 0-1.6 3-1.6-2-1.6-1-1.6 1-1.6 1-1.6 0-1.6 0-1.6 0-1.6 0-1.6 0-1.6 1-1.6 0-1.6 0-1.6-1-1.6 1-1.6-2-1.6 1-1.6 0-1.6 1-1.6-3-1.6 2-1.6-1-1.6 1-1.6 1-1.6-1-1.6 0-1.6 0-1.6-2-1.6 1-1.6 0-1.6-1-0.8-18-0.5 0Z" stroke-width="8.4"/></g>
</g>
<path d="M321.9 251H455.9V339.9H321.9ZM327.7 256.1V335H450.1V256.1Z" fill="#ff0000" fill-rule="evenodd"/>
<path d="M306.3 253.4H321.9M306.3 321H321.9" stroke="#ff0000" stroke-width="4.8"/>
<path d="M314.2 304.1H321.9M314.2 287.2H321.9M314.2 270.3H321.9" stroke="#000" stroke-width="3"/>
<path d="M330.9 339.9V355.9M389.3 339.9V355.9M447.7 339.9V355.9" stroke="#ff0000" stroke-width="4.3"/>
<path d="M345.5 339.9V348.7M360.1 339.9V348.7M374.7 339.9V348.7M403.9 339.9V348.7M418.5 339.9V348.7M433.1 339.9V348.7" stroke="#000" stroke-width="2.9"/>
</g>
<g transform="translate(1256.5,0)">
<g clip-path="url(#pc)">
<path transform="translate(328.8 0)scale(3.128 1)" d="M0 331V291h1V291h1V301h1V298h1V300h1V301h1V300h1V298h1V291h1V302h1V286h1V291h1V304h1V302h1V299h1V295h1V295h1V295h1V293h1V278h1V287h1V282h1V263h1V281h1V283h1V278h1V250h1V270h1V250h1V280h1V292h1V278h1V272h1V270h1V297h1V296h1V296h1V286h1V299h1V278h1V333h-1V332h-1V330h-1V331h-1V331h-1V330h-1V332h-1V332h-1V333h-1V332h-1V335h-1V334h-1V334h-1V334h-1V332h-1V335h-1V334h-1V333h-1V332h-1V335h-1V334h-1V333h-1V333h-1V331h-1V329h-1V330h-1V332h-1V330h-1V332h-1V330h-1V333h-1V332h-1V334h-1V333h-1V329h-1V333h-1V333h-1V331h-1V331h-1V331h-1Z" fill="#88b3da"/>
<path transform="translate(328.8 0)scale(3.128 1)" d="M0 325V283h1V296h1V306h1V305h1V306h1V307h1V306h1V306h1V307h1V306h1V308h1V307h1V307h1V307h1V306h1V303h1V302h1V302h1V299h1V297h1V295h1V292h1V294h1V293h1V292h1V288h1V287h1V284h1V284h1V290h1V299h1V301h1V300h1V302h1V303h1V302h1V303h1V305h1V305h1V304h1V325h-1V325h-1V325h-1V326h-1V327h-1V327h-1V326h-1V327h-1V326h-1V325h-1V325h-1V326h-1V326h-1V326h-1V325h-1V325h-1V325h-1V327h-1V326h-1V326h-1V326h-1V326h-1V327h-1V326h-1V326h-1V326h-1V325h-1V326h-1V325h-1V326h-1V326h-1V326h-1V327h-1V326h-1V326h-1V325h-1V325h-1V326h-1V325h-1V325h-1Z" fill="#cdb498"/>
<path transform="translate(328.8 0)scale(3.128 1)" d="M0 322V290h1V301h1V308h1V308h1V310h1V310h1V310h1V309h1V310h1V310h1V311h1V310h1V310h1V310h1V310h1V308h1V306h1V306h1V303h1V301h1V301h1V297h1V299h1V298h1V297h1V294h1V293h1V291h1V291h1V296h1V304h1V305h1V304h1V305h1V306h1V306h1V307h1V308h1V308h1V308h1V322h-1V322h-1V322h-1V322h-1V322h-1V322h-1V322h-1V322h-1V322h-1V322h-1V322h-1V322h-1V322h-1V322h-1V322h-1V322h-1V322h-1V322h-1V322h-1V322h-1V322h-1V322h-1V322h-1V322h-1V322h-1V322h-1V322h-1V322h-1V322h-1V322h-1V322h-1V322h-1V322h-1V322h-1V322h-1V322h-1V322h-1V322h-1V322h-1V322h-1Z" fill="#b3cfd4"/>
<path d="M345.5 256.1V335M360.1 256.1V335M374.7 256.1V335M403.9 256.1V335M433.1 256.1V335M327.7 287.2H450.1" stroke="#bababa" stroke-width="1.1" fill="none"/>
<path d="M330.6 256.1V335M389 256.1V335M447.4 256.1V335" stroke="#ff0000" stroke-opacity="0.5" stroke-width="5" fill="none"/>
<path d="M395.1 321L405.6 319.9L413.1 318.9L418.9 320.3L422.2 321.6" fill="none" stroke="#f00" stroke-opacity="0.4" stroke-width="5" stroke-linejoin="round"/>
<g fill="#000" stroke="#000" stroke-linejoin="round"><path d="M330.9 295.4l0.5 0 0.8 16 1.6 1 1.6 2 1.6 0 1.6-1 1.6 0 1.6 2 1.6-3 1.6 1 1.6 1 1.6 1 1.6-2 1.6 1 1.6 1 1.6 1 1.6-2 1.6 2 1.6 0 1.6 1 1.6 0 1.6-2 1.6 0 1.6 1 1.6 1 1.6 1 1.6-1 1.6 0 1.6 0 1.6-1 1.6-2 1.6-2 1.6 0 1.6-2 1.6-1 1.6 0 1.6 1 1.6-1 1.6 1 1.6-1 1.6 0 1.6-1 1.6-1 1.6-2 1.6 3 1.6-1 1.6-2 1.6-2 1.6 0 1.6-1 1.6 2 1.6-1 1.6-2 1.6 0 1.6 1 1.6-2 1.6 4 1.6 4 1.6 5 1.6-1 1.6 1 1.6-3 1.6 1 1.6 1 1.6-3 1.6 2 1.6 0 1.6-1 1.6 2 1.6 0 1.6 1 1.6-2 1.6 3 1.6-1 1.6-1 0 5-1.6 1-1.6-1-1.6 0-1.6 0-1.6 0-1.6 0-1.6-2-1.6 0-1.6 1-1.6-2-1.6 2-1.6-2-1.6 1-1.6 3-1.6-1-1.6 1-1.6-5-1.6-2-1.6-4-1.6 3-1.6-2-1.6-1-1.6 3-1.6 2-1.6-4-1.6 2-1.6-1-1.6 3-1.6 0-1.6 1-1.6 0-1.6 1-1.6-1-1.6 3-1.6 0-1.6 1-1.6-2-1.6 0-1.6-1-1.6-1-1.6 0-1.6 3-1.6 0-1.6 2-1.6 1-1.6 1-1.6 1-1.6-1-1.6 1-1.6 0-1.6-1-1.6-2-1.6-1-1.6 3-1.6-1-1.6 0-1.6 0-1.6 0-1.6 1-1.6-1-1.6 0-1.6-2-1.6 3-1.6-2-1.6-1-1.6-2-1.6 3-1.6-1-1.6 1-1.6 1-1.6-2-1.6-1-1.6-2-0.8-15-0.5 0Z" stroke-width="8.4"/></g>
</g>
<path d="M321.9 251H455.9V339.9H321.9ZM327.7 256.1V335H450.1V256.1Z" fill="#ff0000" fill-rule="evenodd"/>
<path d="M306.3 253.4H321.9M306.3 321H321.9" stroke="#ff0000" stroke-width="4.8"/>
<path d="M314.2 304.1H321.9M314.2 287.2H321.9M314.2 270.3H321.9" stroke="#000" stroke-width="3"/>
<path d="M330.9 339.9V355.9M389.3 339.9V355.9M447.7 339.9V355.9" stroke="#ff0000" stroke-width="4.3"/>
<path d="M345.5 339.9V348.7M360.1 339.9V348.7M374.7 339.9V348.7M403.9 339.9V348.7M418.5 339.9V348.7M433.1 339.9V348.7" stroke="#000" stroke-width="2.9"/>
</g>
<g transform="translate(1436,0)">
<g clip-path="url(#pc)">
<path transform="translate(328.8 0)scale(3.128 1)" d="M0 331V289h1V287h1V300h1V299h1V282h1V301h1V282h1V298h1V295h1V293h1V295h1V293h1V291h1V295h1V293h1V290h1V289h1V252h1V282h1V270h1V290h1V278h1V289h1V273h1V250h1V255h1V265h1V263h1V276h1V281h1V278h1V299h1V298h1V272h1V293h1V298h1V301h1V284h1V305h1V305h1V331h-1V331h-1V330h-1V332h-1V330h-1V330h-1V329h-1V330h-1V332h-1V333h-1V331h-1V330h-1V330h-1V332h-1V333h-1V335h-1V332h-1V332h-1V331h-1V332h-1V334h-1V333h-1V333h-1V332h-1V332h-1V333h-1V332h-1V331h-1V334h-1V334h-1V332h-1V330h-1V329h-1V331h-1V333h-1V333h-1V331h-1V331h-1V331h-1V331h-1Z" fill="#88b3da"/>
<path transform="translate(328.8 0)scale(3.128 1)" d="M0 325V279h1V295h1V305h1V306h1V305h1V305h1V305h1V304h1V303h1V300h1V301h1V299h1V299h1V301h1V300h1V298h1V297h1V293h1V292h1V294h1V298h1V302h1V296h1V283h1V275h1V273h1V278h1V292h1V286h1V288h1V301h1V304h1V305h1V301h1V299h1V304h1V307h1V308h1V309h1V309h1V325h-1V325h-1V325h-1V326h-1V326h-1V326h-1V324h-1V325h-1V326h-1V325h-1V324h-1V324h-1V325h-1V325h-1V326h-1V325h-1V325h-1V326h-1V326h-1V325h-1V326h-1V326h-1V326h-1V325h-1V326h-1V325h-1V325h-1V325h-1V325h-1V326h-1V326h-1V325h-1V325h-1V326h-1V326h-1V325h-1V326h-1V326h-1V325h-1V325h-1Z" fill="#cdb498"/>
<path transform="translate(328.8 0)scale(3.128 1)" d="M0 322V287h1V301h1V309h1V309h1V308h1V310h1V310h1V309h1V308h1V307h1V307h1V304h1V303h1V305h1V305h1V305h1V303h1V299h1V296h1V298h1V301h1V304h1V299h1V289h1V281h1V280h1V287h1V299h1V296h1V295h1V307h1V310h1V310h1V307h1V305h1V309h1V311h1V311h1V313h1V314h1V322h-1V322h-1V322h-1V322h-1V322h-1V322h-1V322h-1V322h-1V322h-1V322h-1V322h-1V322h-1V322h-1V322h-1V322h-1V322h-1V322h-1V322h-1V322h-1V322h-1V322h-1V322h-1V322h-1V322h-1V322h-1V322h-1V322h-1V322h-1V322h-1V322h-1V322h-1V322h-1V322h-1V322h-1V322h-1V322h-1V322h-1V322h-1V322h-1V322h-1Z" fill="#b3cfd4"/>
<path d="M345.5 256.1V335M374.7 256.1V335M418.5 256.1V335M433.1 256.1V335M327.7 287.2H450.1" stroke="#bababa" stroke-width="1.1" fill="none"/>
<path d="M330.6 256.1V335M389 256.1V335M447.4 256.1V335" stroke="#ff0000" stroke-opacity="0.5" stroke-width="5" fill="none"/>
<path d="M386 321L396.4 319.9L403.9 318.9L409.7 320.3L413.1 321.6" fill="none" stroke="#f00" stroke-opacity="0.4" stroke-width="5" stroke-linejoin="round"/>
<g fill="#000" stroke="#000" stroke-linejoin="round"><path d="M330.9 292.2l0.5 0 0.8 19 1.6 2 1.6 1 1.6-1 1.6 0 1.6 2 1.6 0 1.6-2 1.6 0 1.6 2 1.6-1 1.6 0 1.6 1 1.6 0 1.6-2 1.6 1 1.6-2 1.6 0 1.6 0 1.6-1 1.6 0 1.6 1 1.6-2 1.6 2 1.6 0 1.6 1 1.6 0 1.6 0 1.6 0 1.6 0 1.6-2 1.6-3 1.6 1 1.6-1 1.6-4 1.6 2 1.6 0 1.6 2 1.6 1 1.6 3 1.6 2 1.6-5 1.6-1 1.6-4 1.6-2 1.6-4 1.6-2 1.6-1 1.6-4 1.6 10 1.6 5 1.6 2 1.6 1 1.6-4 1.6-2 1.6 4 1.6 4 1.6 3 1.6 2 1.6 1 1.6 0 1.6 0 1.6-3 1.6 1 1.6-3 1.6 0 1.6 3 1.6 0 1.6 2 1.6-2 1.6 1 1.6 1 1.6 2 1.6-2 0 3-1.6 2-1.6-3-1.6 1-1.6-2-1.6 2-1.6-1-1.6 0-1.6-3-1.6 1-1.6 2-1.6-1-1.6 2-1.6 0-1.6-1-1.6 0-1.6-2-1.6-2-1.6-2-1.6-3-1.6 2-1.6 2-1.6-1-1.6-2-1.6-4-1.6-6-1.6 6-1.6 0-1.6-1-1.6 3-1.6 1-1.6 4-1.6 0-1.6 4-1.6-3-1.6-3-1.6 1-1.6 1-1.6 0-1.6-3-1.6 4-1.6-2-1.6 0-1.6 2-1.6 3-1.6-2-1.6 1-1.6-1-1.6 1-1.6 0-1.6-1-1.6 0-1.6 2-1.6-3-1.6-1-1.6 1-1.6 1-1.6 0-1.6 1-1.6-1-1.6 3-1.6-1-1.6 0-1.6 0-1.6 0-1.6-1-1.6-1-1.6 3-1.6 0-1.6-1-1.6-2-1.6 3-1.6-2-1.6 0-0.8-21-0.5 0Z" stroke-width="8.4"/></g>
</g>
<path d="M321.9 251H455.9V339.9H321.9ZM327.7 256.1V335H450.1V256.1Z" fill="#ff0000" fill-rule="evenodd"/>
<path d="M306.3 253.4H321.9M306.3 321H321.9" stroke="#ff0000" stroke-width="4.8"/>
<path d="M314.2 304.1H321.9M314.2 287.2H321.9M314.2 270.3H321.9" stroke="#000" stroke-width="3"/>
<path d="M330.9 339.9V355.9M389.3 339.9V355.9M447.7 339.9V355.9" stroke="#ff0000" stroke-width="4.3"/>
<path d="M345.5 339.9V348.7M360.1 339.9V348.7M374.7 339.9V348.7M403.9 339.9V348.7M418.5 339.9V348.7M433.1 339.9V348.7" stroke="#000" stroke-width="2.9"/>
</g>
<g transform="translate(1615.5,0)">
<g clip-path="url(#pc)">
<path transform="translate(328.8 0)scale(3.128 1)" d="M0 334V289h1V289h1V302h1V289h1V292h1V300h1V288h1V286h1V302h1V302h1V297h1V292h1V291h1V291h1V288h1V257h1V250h1V265h1V262h1V261h1V260h1V276h1V261h1V250h1V266h1V271h1V288h1V271h1V273h1V272h1V295h1V291h1V303h1V282h1V301h1V299h1V299h1V301h1V305h1V304h1V331h-1V331h-1V329h-1V331h-1V331h-1V334h-1V333h-1V331h-1V330h-1V333h-1V331h-1V334h-1V333h-1V334h-1V333h-1V336h-1V336h-1V332h-1V333h-1V333h-1V333h-1V332h-1V334h-1V330h-1V332h-1V331h-1V331h-1V331h-1V331h-1V332h-1V331h-1V330h-1V332h-1V330h-1V329h-1V331h-1V332h-1V329h-1V330h-1V334h-1Z" fill="#88b3da"/>
<path transform="translate(328.8 0)scale(3.128 1)" d="M0 325V281h1V297h1V308h1V308h1V306h1V305h1V306h1V308h1V306h1V307h1V304h1V302h1V298h1V299h1V295h1V288h1V284h1V279h1V275h1V275h1V275h1V286h1V290h1V279h1V277h1V294h1V298h1V295h1V296h1V298h1V301h1V305h1V307h1V306h1V305h1V305h1V305h1V308h1V311h1V310h1V326h-1V326h-1V326h-1V325h-1V326h-1V326h-1V326h-1V326h-1V325h-1V325h-1V325h-1V326h-1V326h-1V326h-1V325h-1V325h-1V325h-1V325h-1V326h-1V325h-1V325h-1V326h-1V326h-1V326h-1V326h-1V326h-1V326h-1V326h-1V326h-1V325h-1V325h-1V326h-1V325h-1V326h-1V325h-1V325h-1V325h-1V325h-1V325h-1V325h-1Z" fill="#cdb498"/>
<path transform="translate(328.8 0)scale(3.128 1)" d="M0 322V288h1V303h1V311h1V311h1V310h1V310h1V310h1V311h1V310h1V309h1V308h1V305h1V303h1V303h1V300h1V294h1V290h1V286h1V283h1V282h1V282h1V293h1V297h1V287h1V284h1V300h1V303h1V301h1V302h1V304h1V306h1V308h1V311h1V309h1V308h1V309h1V309h1V311h1V314h1V314h1V322h-1V322h-1V322h-1V322h-1V322h-1V322h-1V322h-1V322h-1V322h-1V322h-1V322h-1V322h-1V322h-1V322h-1V322h-1V322h-1V322h-1V322h-1V322h-1V322h-1V322h-1V322h-1V322h-1V322h-1V322h-1V322h-1V322h-1V322h-1V322h-1V322h-1V322h-1V322h-1V322h-1V322h-1V322h-1V322h-1V322h-1V322h-1V322h-1V322h-1Z" fill="#b3cfd4"/>
<path d="M360.1 256.1V335M403.9 256.1V335M433.1 256.1V335M327.7 287.2H450.1" stroke="#bababa" stroke-width="1.1" fill="none"/>
<path d="M330.6 256.1V335M389 256.1V335M447.4 256.1V335" stroke="#ff0000" stroke-opacity="0.5" stroke-width="5" fill="none"/>
<path d="M368 321L378.4 319.9L386 318.9L391.8 320.3L395.1 321.6" fill="none" stroke="#f00" stroke-opacity="0.4" stroke-width="5" stroke-linejoin="round"/>
<g fill="#000" stroke="#000" stroke-linejoin="round"><path d="M330.9 294.2l0.5 0 0.8 19 1.6 3 1.6 0 1.6-1 1.6-1 1.6 1 1.6-1 1.6 1 1.6-1 1.6 0 1.6 2 1.6-1 1.6 1 1.6-1 1.6 1 1.6-3 1.6 1 1.6-1 1.6 0 1.6 0 1.6-1 1.6-2 1.6 1 1.6-1 1.6 1 1.6-1 1.6 0 1.6-2 1.6-1 1.6-1 1.6 0 1.6-3 1.6-4 1.6 1 1.6-2 1.6-2 1.6-1 1.6 0 1.6 1 1.6 8 1.6 6 1.6 3 1.6-3 1.6-4 1.6-7 1.6-2 1.6 7 1.6 3 1.6 7 1.6-2 1.6-3 1.6 0 1.6-1 1.6 3 1.6-1 1.6 0 1.6 1 1.6 1 1.6 1 1.6 2 1.6-2 1.6 2 1.6-1 1.6 2 1.6 0 1.6-1 1.6-1 1.6 0 1.6-2 1.6 3 1.6 0 1.6 1 1.6 3 1.6 0 0 2-1.6 1-1.6-3-1.6 0-1.6 0-1.6-4-1.6 3-1.6 0-1.6 1-1.6 0-1.6 1-1.6-3-1.6 1-1.6-1-1.6 3-1.6-2-1.6-2-1.6 1-1.6-2-1.6 2-1.6 0-1.6-4-1.6 0-1.6 1-1.6 2-1.6 2-1.6-5-1.6 0-1.6-5-1.6-1-1.6 5-1.6 3-1.6 3-1.6-3-1.6-5-1.6-4-1.6-2-1.6 1-1.6-1-1.6 1-1.6 1-1.6 0-1.6 5-1.6 0-1.6 2-1.6-2-1.6 1-1.6 3-1.6 0-1.6 3-1.6-3-1.6 0-1.6-1-1.6 3-1.6 1-1.6-2-1.6 1-1.6 0-1.6-1-1.6 3-1.6-2-1.6 2-1.6-2-1.6 3-1.6-2-1.6-1-1.6 1-1.6 0-1.6-1-1.6 0-1.6 2-1.6 0-1.6-1-1.6-2-0.8-18-0.5 0Z" stroke-width="8.4"/></g>
</g>
<path d="M321.9 251H455.9V339.9H321.9ZM327.7 256.1V335H450.1V256.1Z" fill="#ff0000" fill-rule="evenodd"/>
<path d="M306.3 253.4H321.9M306.3 321H321.9" stroke="#ff0000" stroke-width="4.8"/>
<path d="M314.2 304.1H321.9M314.2 287.2H321.9M314.2 270.3H321.9" stroke="#000" stroke-width="3"/>
<path d="M330.9 339.9V355.9M389.3 339.9V355.9M447.7 339.9V355.9" stroke="#ff0000" stroke-width="4.3"/>
<path d="M345.5 339.9V348.7M360.1 339.9V348.7M374.7 339.9V348.7M403.9 339.9V348.7M418.5 339.9V348.7M433.1 339.9V348.7" stroke="#000" stroke-width="2.9"/>
</g>
<g transform="translate(1795,0)">
<g clip-path="url(#pc)">
<path transform="translate(328.8 0)scale(3.128 1)" d="M0 337V292h1V291h1V299h1V298h1V299h1V287h1V281h1V296h1V286h1V274h1V293h1V291h1V277h1V288h1V286h1V285h1V261h1V285h1V292h1V270h1V250h1V250h1V250h1V275h1V289h1V283h1V279h1V279h1V287h1V293h1V298h1V281h1V300h1V298h1V291h1V304h1V294h1V304h1V295h1V306h1V332h-1V330h-1V330h-1V331h-1V330h-1V332h-1V330h-1V331h-1V331h-1V330h-1V333h-1V332h-1V332h-1V332h-1V334h-1V332h-1V334h-1V335h-1V332h-1V332h-1V332h-1V331h-1V332h-1V335h-1V334h-1V332h-1V333h-1V331h-1V330h-1V330h-1V331h-1V330h-1V330h-1V330h-1V330h-1V332h-1V329h-1V330h-1V334h-1V337h-1Z" fill="#88b3da"/>
<path transform="translate(328.8 0)scale(3.128 1)" d="M0 325V281h1V297h1V306h1V306h1V307h1V304h1V306h1V303h1V302h1V299h1V300h1V297h1V297h1V295h1V295h1V295h1V292h1V294h1V298h1V297h1V278h1V265h1V265h1V286h1V298h1V293h1V289h1V291h1V296h1V299h1V302h1V303h1V306h1V305h1V308h1V309h1V307h1V309h1V312h1V312h1V325h-1V326h-1V326h-1V325h-1V325h-1V326h-1V326h-1V326h-1V327h-1V327h-1V325h-1V327h-1V326h-1V326h-1V326h-1V325h-1V326h-1V327h-1V326h-1V327h-1V327h-1V326h-1V326h-1V325h-1V325h-1V327h-1V326h-1V325h-1V325h-1V325h-1V326h-1V326h-1V326h-1V325h-1V326h-1V326h-1V325h-1V325h-1V325h-1V325h-1Z" fill="#cdb498"/>
<path transform="translate(328.8 0)scale(3.128 1)" d="M0 322V289h1V301h1V308h1V309h1V309h1V309h1V310h1V307h1V306h1V304h1V304h1V302h1V303h1V302h1V301h1V301h1V300h1V300h1V303h1V303h1V285h1V274h1V278h1V294h1V303h1V299h1V295h1V298h1V302h1V304h1V307h1V308h1V310h1V309h1V311h1V312h1V311h1V312h1V315h1V315h1V322h-1V322h-1V322h-1V322h-1V322h-1V322h-1V322h-1V322h-1V322h-1V322h-1V322h-1V322h-1V322h-1V322h-1V322h-1V322h-1V322h-1V322h-1V322h-1V322h-1V322h-1V322h-1V322h-1V322h-1V322h-1V322h-1V322h-1V322h-1V322h-1V322h-1V322h-1V322h-1V322h-1V322h-1V322h-1V322h-1V322h-1V322h-1V322h-1V322h-1Z" fill="#b3cfd4"/>
<path d="M345.5 256.1V335M374.7 256.1V335M403.9 256.1V335M418.5 256.1V335M327.7 287.2H450.1" stroke="#bababa" stroke-width="1.1" fill="none"/>
<path d="M330.6 256.1V335M389 256.1V335M447.4 256.1V335" stroke="#ff0000" stroke-opacity="0.5" stroke-width="5" fill="none"/>
<path d="M373.4 321L383.9 319.9L391.4 318.9L397.2 320.3L400.6 321.6" fill="none" stroke="#f00" stroke-opacity="0.4" stroke-width="5" stroke-linejoin="round"/>
<g fill="#000" stroke="#000" stroke-linejoin="round"><path d="M330.9 296.3l0.5 0 0.8 15 1.6 2 1.6 1 1.6 0 1.6 1 1.6-1 1.6 0 1.6 2 1.6 0 1.6-2 1.6 1 1.6 0 1.6-2 1.6 2 1.6-1 1.6-2 1.6 2 1.6-2 1.6-2 1.6 1 1.6-1 1.6 0 1.6 1 1.6-2 1.6 1 1.6-2 1.6 0 1.6-1 1.6 0 1.6 1 1.6-1 1.6-1 1.6 2 1.6 2 1.6 1 1.6-1 1.6 3 1.6-2 1.6-9 1.6-9 1.6-6 1.6 3 1.6 7 1.6 4 1.6 5 1.6 3 1.6-1 1.6-1 1.6-1 1.6 0 1.6-1 1.6 0 1.6 3 1.6 0 1.6-1 1.6 2 1.6 2 1.6 1 1.6-1 1.6 3 1.6 1 1.6 0 1.6 0 1.6 0 1.6-1 1.6 2 1.6 1 1.6-2 1.6 3 1.6 0 1.6-1 1.6 1 1.6 0 1.6 1 0 2-1.6-1-1.6 0-1.6-1-1.6 2-1.6-1-1.6-2-1.6 3-1.6-1-1.6-3-1.6 2-1.6-1-1.6 0-1.6 0-1.6 0-1.6-4-1.6 1-1.6 0-1.6 0-1.6-1-1.6 0-1.6 0-1.6-4-1.6-1-1.6 3-1.6 0-1.6 0-1.6 3-1.6-1-1.6-1-1.6-3-1.6-3-1.6-8-1.6 1-1.6 5-1.6 7-1.6 4-1.6 2-1.6-4-1.6 1-1.6-1-1.6 0-1.6-2-1.6 3-1.6-1-1.6-1-1.6 0-1.6 1-1.6 0-1.6 3-1.6-1-1.6 0-1.6 0-1.6-1-1.6 1-1.6-1-1.6 1-1.6 2-1.6-2-1.6 1-1.6 1-1.6-2-1.6 2-1.6 1-1.6 0-1.6 0-1.6 1-1.6-1-1.6-1-1.6 0-1.6-1-1.6 1-1.6-2-1.6-2-0.8-14-0.5 0Z" stroke-width="8.4"/></g>
</g>
<path d="M321.9 251H455.9V339.9H321.9ZM327.7 256.1V335H450.1V256.1Z" fill="#ff0000" fill-rule="evenodd"/>
<path d="M306.3 253.4H321.9M306.3 321H321.9" stroke="#ff0000" stroke-width="4.8"/>
<path d="M314.2 304.1H321.9M314.2 287.2H321.9M314.2 270.3H321.9" stroke="#000" stroke-width="3"/>
<path d="M330.9 339.9V355.9M389.3 339.9V355.9M447.7 339.9V355.9" stroke="#ff0000" stroke-width="4.3"/>
<path d="M345.5 339.9V348.7M360.1 339.9V348.7M374.7 339.9V348.7M403.9 339.9V348.7M418.5 339.9V348.7M433.1 339.9V348.7" stroke="#000" stroke-width="2.9"/>
</g>
<g transform="translate(0,117.9)">
<g clip-path="url(#pc)">
<path transform="translate(328.8 0)scale(3.128 1)" d="M0 333V291h1V290h1V291h1V295h1V297h1V284h1V301h1V303h1V302h1V304h1V304h1V304h1V302h1V302h1V280h1V281h1V287h1V288h1V300h1V298h1V294h1V267h1V294h1V291h1V292h1V274h1V267h1V291h1V279h1V288h1V288h1V284h1V288h1V263h1V261h1V273h1V272h1V293h1V295h1V294h1V330h-1V334h-1V333h-1V332h-1V333h-1V330h-1V332h-1V332h-1V332h-1V333h-1V333h-1V332h-1V333h-1V334h-1V333h-1V330h-1V332h-1V331h-1V330h-1V330h-1V330h-1V333h-1V331h-1V331h-1V330h-1V329h-1V330h-1V329h-1V329h-1V330h-1V332h-1V332h-1V330h-1V331h-1V330h-1V329h-1V332h-1V331h-1V330h-1V333h-1Z" fill="#88b3da"/>
<path transform="translate(328.8 0)scale(3.128 1)" d="M0 327V280h1V292h1V299h1V301h1V303h1V305h1V307h1V308h1V307h1V309h1V309h1V309h1V307h1V308h1V306h1V304h1V304h1V306h1V306h1V305h1V301h1V299h1V300h1V297h1V300h1V300h1V296h1V298h1V298h1V295h1V295h1V294h1V296h1V295h1V293h1V295h1V297h1V300h1V302h1V302h1V326h-1V326h-1V325h-1V326h-1V325h-1V326h-1V325h-1V326h-1V325h-1V325h-1V326h-1V326h-1V326h-1V327h-1V326h-1V325h-1V325h-1V325h-1V326h-1V326h-1V326h-1V325h-1V325h-1V325h-1V325h-1V325h-1V325h-1V325h-1V326h-1V326h-1V325h-1V325h-1V326h-1V326h-1V325h-1V325h-1V325h-1V326h-1V327h-1V327h-1Z" fill="#cdb498"/>
<path transform="translate(328.8 0)scale(3.128 1)" d="M0 322V289h1V299h1V304h1V305h1V307h1V309h1V309h1V311h1V310h1V311h1V312h1V312h1V311h1V312h1V311h1V309h1V310h1V310h1V309h1V309h1V306h1V305h1V305h1V304h1V304h1V304h1V302h1V303h1V304h1V302h1V302h1V301h1V301h1V300h1V299h1V300h1V301h1V305h1V308h1V308h1V322h-1V322h-1V322h-1V322h-1V322h-1V322h-1V322h-1V322h-1V322h-1V322h-1V322h-1V322h-1V322h-1V322h-1V322h-1V322h-1V322h-1V322h-1V322h-1V322h-1V322h-1V322h-1V322h-1V322h-1V322h-1V322h-1V322h-1V322h-1V322h-1V322h-1V322h-1V322h-1V322h-1V322h-1V322h-1V322h-1V322h-1V322h-1V322h-1V322h-1Z" fill="#b3cfd4"/>
<path d="M345.5 256.1V335M374.7 256.1V335M418.5 256.1V335M433.1 256.1V335M327.7 304.1H450.1M327.7 287.2H450.1" stroke="#bababa" stroke-width="1.1" fill="none"/>
<path d="M330.6 256.1V335M389 256.1V335M447.4 256.1V335" stroke="#ff0000" stroke-opacity="0.5" stroke-width="5" fill="none"/>

<g fill="#000" stroke="#000" stroke-linejoin="round"><path d="M330.9 295.1l0.5 0 0.8 14 1.6 1 1.6 2 1.6 0 1.6 0 1.6-1 1.6 2 1.6 0 1.6-1 1.6 1 1.6 1 1.6 1 1.6 1 1.6-1 1.6 0 1.6-1 1.6 3 1.6-1 1.6-1 1.6-1 1.6 1 1.6 1 1.6 0 1.6 0 1.6 0 1.6 0 1.6-1 1.6 1 1.6-2 1.6 1 1.6-1 1.6 1 1.6 1 1.6-1 1.6 0 1.6-1 1.6 1 1.6-1 1.6-2 1.6-1 1.6 2 1.6 0 1.6 0 1.6-3 1.6 2 1.6-1 1.6 1 1.6-3 1.6 3 1.6-3 1.6 2 1.6-2 1.6 2 1.6-2 1.6 0 1.6 0 1.6-1 1.6 0 1.6 2 1.6-1 1.6 1 1.6-3 1.6 0 1.6 3 1.6 0 1.6-1 1.6-2 1.6 1 1.6 2 1.6 0 1.6 2 1.6 1 1.6 1 1.6 0 0 3-1.6 1-1.6-1-1.6-1-1.6-2-1.6 1-1.6-1-1.6-3-1.6 3-1.6 2-1.6 0-1.6-4-1.6 0-1.6 3-1.6-2-1.6 2-1.6-3-1.6 1-1.6 2-1.6-2-1.6 1-1.6 1-1.6-1-1.6 3-1.6-2-1.6 1-1.6-2-1.6 3-1.6-1-1.6-1-1.6-1-1.6 4-1.6-1-1.6 1-1.6-3-1.6 1-1.6 2-1.6 0-1.6 0-1.6 1-1.6-1-1.6 1-1.6-1-1.6 0-1.6 0-1.6 0-1.6 2-1.6-2-1.6 2-1.6 0-1.6 0-1.6-1-1.6 0-1.6-1-1.6-1-1.6 1-1.6 2-1.6-1-1.6-2-1.6 1-1.6 1-1.6 2-1.6-1-1.6-3-1.6 0-1.6-2-1.6 2-1.6-1-1.6-2-1.6 1-1.6 2-1.6 1-1.6-4-1.6 2-0.8-17-0.5 0Z" stroke-width="8.4"/></g>
</g>
<path d="M321.9 251H455.9V339.9H321.9ZM327.7 256.1V335H450.1V256.1Z" fill="#ff0000" fill-rule="evenodd"/>
<path d="M306.3 253.4H321.9M306.3 321H321.9" stroke="#ff0000" stroke-width="4.8"/>
<path d="M314.2 304.1H321.9M314.2 287.2H321.9M314.2 270.3H321.9" stroke="#000" stroke-width="3"/>
<path d="M330.9 339.9V355.9M389.3 339.9V355.9M447.7 339.9V355.9" stroke="#ff0000" stroke-width="4.3"/>
<path d="M345.5 339.9V348.7M360.1 339.9V348.7M374.7 339.9V348.7M403.9 339.9V348.7M418.5 339.9V348.7M433.1 339.9V348.7" stroke="#000" stroke-width="2.9"/>
</g>
<g transform="translate(179.5,117.9)">
<g clip-path="url(#pc)">
<path transform="translate(328.8 0)scale(3.128 1)" d="M0 335V288h1V288h1V300h1V302h1V300h1V289h1V301h1V284h1V301h1V288h1V300h1V285h1V304h1V306h1V303h1V290h1V285h1V300h1V300h1V299h1V299h1V298h1V295h1V294h1V292h1V294h1V296h1V292h1V290h1V289h1V265h1V287h1V286h1V284h1V263h1V283h1V269h1V287h1V279h1V296h1V331h-1V332h-1V333h-1V331h-1V332h-1V333h-1V331h-1V334h-1V333h-1V331h-1V332h-1V333h-1V333h-1V331h-1V332h-1V330h-1V333h-1V333h-1V334h-1V332h-1V330h-1V331h-1V333h-1V333h-1V332h-1V331h-1V329h-1V331h-1V333h-1V330h-1V332h-1V330h-1V332h-1V331h-1V331h-1V332h-1V331h-1V331h-1V335h-1V335h-1Z" fill="#88b3da"/>
<path transform="translate(328.8 0)scale(3.128 1)" d="M0 327V278h1V296h1V307h1V308h1V308h1V308h1V308h1V308h1V307h1V308h1V307h1V307h1V308h1V309h1V308h1V309h1V307h1V307h1V308h1V305h1V304h1V303h1V302h1V302h1V301h1V301h1V301h1V299h1V298h1V299h1V299h1V295h1V295h1V294h1V289h1V291h1V294h1V295h1V300h1V303h1V325h-1V325h-1V325h-1V325h-1V325h-1V325h-1V325h-1V326h-1V325h-1V326h-1V325h-1V325h-1V325h-1V325h-1V325h-1V326h-1V326h-1V325h-1V325h-1V326h-1V326h-1V327h-1V327h-1V326h-1V326h-1V326h-1V327h-1V326h-1V327h-1V326h-1V326h-1V326h-1V325h-1V325h-1V326h-1V325h-1V327h-1V326h-1V327h-1V327h-1Z" fill="#cdb498"/>
<path transform="translate(328.8 0)scale(3.128 1)" d="M0 322V282h1V300h1V310h1V311h1V311h1V311h1V311h1V311h1V312h1V312h1V310h1V311h1V311h1V312h1V311h1V312h1V310h1V311h1V311h1V310h1V309h1V308h1V308h1V307h1V307h1V307h1V306h1V305h1V302h1V304h1V303h1V301h1V301h1V300h1V297h1V297h1V299h1V302h1V304h1V307h1V322h-1V322h-1V322h-1V322h-1V322h-1V322h-1V322h-1V322h-1V322h-1V322h-1V322h-1V322h-1V322h-1V322h-1V322h-1V322h-1V322h-1V322h-1V322h-1V322h-1V322h-1V322h-1V322h-1V322h-1V322h-1V322h-1V322h-1V322h-1V322h-1V322h-1V322h-1V322h-1V322h-1V322h-1V322h-1V322h-1V322h-1V322h-1V322h-1V322h-1Z" fill="#b3cfd4"/>
<path d="M360.1 256.1V335M403.9 256.1V335M433.1 256.1V335M327.7 304.1H450.1M327.7 287.2H450.1" stroke="#bababa" stroke-width="1.1" fill="none"/>
<path d="M330.6 256.1V335M389 256.1V335M447.4 256.1V335" stroke="#ff0000" stroke-opacity="0.5" stroke-width="5" fill="none"/>
<path d="M418.1 321L428.5 319.9L436 318.9L441.8 320.3L445.2 321.6" fill="none" stroke="#f00" stroke-opacity="0.4" stroke-width="5" stroke-linejoin="round"/>
<g fill="#000" stroke="#000" stroke-linejoin="round"><path d="M330.9 293l0.5 0 0.8 19 1.6 3 1.6-2 1.6 3 1.6-3 1.6 2 1.6 0 1.6-2 1.6 2 1.6 1 1.6-2 1.6 2 1.6-1 1.6 1 1.6 0 1.6 0 1.6 1 1.6-1 1.6 0 1.6-1 1.6 1 1.6 0 1.6 1 1.6 0 1.6-1 1.6 0 1.6 0 1.6 0 1.6-1 1.6 0 1.6 0 1.6 1 1.6-2 1.6 1 1.6 0 1.6-1 1.6-1 1.6 2 1.6 1 1.6-1 1.6 0 1.6 0 1.6-1 1.6-1 1.6 2 1.6-2 1.6-1 1.6 2 1.6-2 1.6 2 1.6-2 1.6-1 1.6 1 1.6 1 1.6-1 1.6 0 1.6-2 1.6-1 1.6 2 1.6-1 1.6 0 1.6-1 1.6 0 1.6-2 1.6-1 1.6 0 1.6 2 1.6-2 1.6-1 1.6 4 1.6 1 1.6 0 1.6 2 1.6 0 0 5-1.6-1-1.6 1-1.6-1-1.6-1-1.6-2-1.6 0-1.6 1-1.6-3-1.6 2-1.6 0-1.6 3-1.6 0-1.6-1-1.6 1-1.6 1-1.6-2-1.6-2-1.6 3-1.6 0-1.6 2-1.6-2-1.6 0-1.6 1-1.6 1-1.6-3-1.6 2-1.6-1-1.6 0-1.6 2-1.6-1-1.6 1-1.6 1-1.6-1-1.6 1-1.6 0-1.6 0-1.6-3-1.6 3-1.6 0-1.6-1-1.6-1-1.6 2-1.6-1-1.6 0-1.6-1-1.6 2-1.6 0-1.6 0-1.6 0-1.6 2-1.6 0-1.6-2-1.6 1-1.6-2-1.6 1-1.6 2-1.6 0-1.6-2-1.6 1-1.6 0-1.6-1-1.6 2-1.6-3-1.6 1-1.6-1-1.6-2-1.6 2-1.6 0-1.6-2-1.6 3-1.6-3-1.6 1-1.6-1-0.8-20-0.5 0Z" stroke-width="8.4"/></g>
</g>
<path d="M321.9 251H455.9V339.9H321.9ZM327.7 256.1V335H450.1V256.1Z" fill="#ff0000" fill-rule="evenodd"/>
<path d="M306.3 253.4H321.9M306.3 321H321.9" stroke="#ff0000" stroke-width="4.8"/>
<path d="M314.2 304.1H321.9M314.2 287.2H321.9M314.2 270.3H321.9" stroke="#000" stroke-width="3"/>
<path d="M330.9 339.9V355.9M389.3 339.9V355.9M447.7 339.9V355.9" stroke="#ff0000" stroke-width="4.3"/>
<path d="M345.5 339.9V348.7M360.1 339.9V348.7M374.7 339.9V348.7M403.9 339.9V348.7M418.5 339.9V348.7M433.1 339.9V348.7" stroke="#000" stroke-width="2.9"/>
</g>
<g transform="translate(359,117.9)">
<g clip-path="url(#pc)">
<path transform="translate(328.8 0)scale(3.128 1)" d="M0 337V291h1V291h1V303h1V304h1V302h1V301h1V291h1V303h1V295h1V293h1V306h1V289h1V298h1V297h1V296h1V298h1V296h1V298h1V296h1V283h1V293h1V279h1V288h1V259h1V287h1V286h1V285h1V279h1V278h1V275h1V272h1V250h1V273h1V278h1V287h1V291h1V293h1V281h1V297h1V298h1V333h-1V331h-1V334h-1V333h-1V333h-1V331h-1V332h-1V330h-1V332h-1V335h-1V332h-1V334h-1V335h-1V333h-1V334h-1V333h-1V333h-1V334h-1V331h-1V329h-1V330h-1V330h-1V330h-1V331h-1V332h-1V330h-1V332h-1V329h-1V332h-1V330h-1V329h-1V330h-1V331h-1V332h-1V332h-1V332h-1V330h-1V333h-1V335h-1V337h-1Z" fill="#88b3da"/>
<path transform="translate(328.8 0)scale(3.128 1)" d="M0 325V283h1V296h1V307h1V308h1V306h1V305h1V307h1V309h1V310h1V310h1V311h1V306h1V305h1V305h1V304h1V305h1V303h1V305h1V304h1V300h1V299h1V297h1V295h1V296h1V297h1V294h1V292h1V290h1V290h1V288h1V287h1V284h1V285h1V290h1V296h1V299h1V302h1V303h1V304h1V305h1V326h-1V326h-1V325h-1V326h-1V326h-1V326h-1V325h-1V327h-1V326h-1V327h-1V326h-1V326h-1V325h-1V326h-1V325h-1V325h-1V325h-1V325h-1V325h-1V326h-1V326h-1V325h-1V325h-1V326h-1V326h-1V325h-1V326h-1V325h-1V325h-1V326h-1V326h-1V326h-1V325h-1V326h-1V326h-1V325h-1V325h-1V326h-1V325h-1V325h-1Z" fill="#cdb498"/>
<path transform="translate(328.8 0)scale(3.128 1)" d="M0 322V289h1V302h1V310h1V311h1V310h1V310h1V310h1V312h1V313h1V313h1V313h1V311h1V309h1V309h1V309h1V309h1V307h1V308h1V308h1V306h1V304h1V302h1V302h1V302h1V302h1V300h1V298h1V296h1V297h1V295h1V293h1V293h1V292h1V295h1V299h1V303h1V305h1V306h1V309h1V308h1V322h-1V322h-1V322h-1V322h-1V322h-1V322h-1V322h-1V322h-1V322h-1V322h-1V322h-1V322h-1V322h-1V322h-1V322h-1V322h-1V322h-1V322h-1V322h-1V322h-1V322h-1V322h-1V322h-1V322h-1V322h-1V322h-1V322h-1V322h-1V322h-1V322h-1V322h-1V322h-1V322h-1V322h-1V322h-1V322h-1V322h-1V322h-1V322h-1V322h-1Z" fill="#b3cfd4"/>
<path d="M345.5 256.1V335M374.7 256.1V335M418.5 256.1V335M327.7 304.1H450.1M327.7 287.2H450.1" stroke="#bababa" stroke-width="1.1" fill="none"/>
<path d="M330.6 256.1V335M389 256.1V335M447.4 256.1V335" stroke="#ff0000" stroke-opacity="0.5" stroke-width="5" fill="none"/>
<path d="M404.3 321L414.7 319.9L422.2 318.9L428.1 320.3L431.4 321.6" fill="none" stroke="#f00" stroke-opacity="0.4" stroke-width="5" stroke-linejoin="round"/>
<g fill="#000" stroke="#000" stroke-linejoin="round"><path d="M330.9 295.1l0.5 0 0.8 17 1.6 2 1.6 1 1.6-1 1.6 0 1.6 0 1.6 0 1.6 1 1.6-1 1.6 1 1.6 1 1.6 0 1.6 0 1.6-1 1.6 2 1.6-1 1.6 1 1.6-1 1.6 1 1.6-2 1.6 1 1.6-1 1.6 1 1.6 0 1.6-2 1.6 1 1.6 0 1.6 0 1.6-1 1.6-1 1.6 1 1.6-1 1.6 2 1.6-3 1.6 1 1.6 0 1.6-1 1.6 0 1.6-1 1.6 1 1.6 0 1.6 0 1.6 0 1.6-2 1.6 1 1.6-2 1.6 1 1.6-1 1.6 0 1.6 1 1.6-1 1.6 0 1.6-2 1.6-3 1.6 0 1.6 2 1.6-3 1.6-1 1.6-1 1.6-1 1.6 4 1.6-1 1.6 1 1.6 0 1.6 4 1.6 1 1.6-1 1.6 3 1.6-1 1.6 2 1.6 1 1.6 0 1.6 1 1.6 1 0 4-1.6-2-1.6 0-1.6 0-1.6-1-1.6-1-1.6 1-1.6-2-1.6 1-1.6-1-1.6-3-1.6-2-1.6 0-1.6 4-1.6-5-1.6 0-1.6 3-1.6 0-1.6 1-1.6-3-1.6 0-1.6 4-1.6 2-1.6 0-1.6 1-1.6 0-1.6-3-1.6 1-1.6-1-1.6 2-1.6 0-1.6 1-1.6 1-1.6 0-1.6 1-1.6-2-1.6 0-1.6 1-1.6 1-1.6 0-1.6-3-1.6 4-1.6-2-1.6 0-1.6-1-1.6 2-1.6-1-1.6 0-1.6 1-1.6 0-1.6 2-1.6 0-1.6-2-1.6 1-1.6-2-1.6 2-1.6 0-1.6 2-1.6-1-1.6 1-1.6-2-1.6 0-1.6 1-1.6 0-1.6-2-1.6-1-1.6 2-1.6-2-1.6 0-1.6 1-1.6 0-1.6 1-1.6-1-1.6 0-0.8-19-0.5 0Z" stroke-width="8.4"/></g>
</g>
<path d="M321.9 251H455.9V339.9H321.9ZM327.7 256.1V335H450.1V256.1Z" fill="#ff0000" fill-rule="evenodd"/>
<path d="M306.3 253.4H321.9M306.3 321H321.9" stroke="#ff0000" stroke-width="4.8"/>
<path d="M314.2 304.1H321.9M314.2 287.2H321.9M314.2 270.3H321.9" stroke="#000" stroke-width="3"/>
<path d="M330.9 339.9V355.9M389.3 339.9V355.9M447.7 339.9V355.9" stroke="#ff0000" stroke-width="4.3"/>
<path d="M345.5 339.9V348.7M360.1 339.9V348.7M374.7 339.9V348.7M403.9 339.9V348.7M418.5 339.9V348.7M433.1 339.9V348.7" stroke="#000" stroke-width="2.9"/>
</g>
<g transform="translate(538.5,117.9)">
<g clip-path="url(#pc)">
<path transform="translate(328.8 0)scale(3.128 1)" d="M0 337V290h1V289h1V296h1V300h1V286h1V301h1V299h1V299h1V302h1V303h1V301h1V302h1V304h1V305h1V302h1V284h1V299h1V286h1V285h1V282h1V274h1V294h1V297h1V283h1V292h1V290h1V289h1V288h1V284h1V286h1V278h1V278h1V276h1V282h1V288h1V294h1V295h1V296h1V297h1V276h1V331h-1V330h-1V330h-1V332h-1V332h-1V332h-1V330h-1V333h-1V333h-1V333h-1V335h-1V334h-1V333h-1V331h-1V331h-1V330h-1V331h-1V332h-1V330h-1V332h-1V330h-1V330h-1V332h-1V333h-1V332h-1V332h-1V329h-1V330h-1V330h-1V333h-1V332h-1V331h-1V331h-1V329h-1V333h-1V329h-1V332h-1V332h-1V332h-1V337h-1Z" fill="#88b3da"/>
<path transform="translate(328.8 0)scale(3.128 1)" d="M0 325V277h1V292h1V303h1V305h1V306h1V305h1V305h1V305h1V308h1V309h1V307h1V307h1V309h1V309h1V306h1V304h1V305h1V303h1V304h1V303h1V300h1V301h1V303h1V301h1V300h1V298h1V298h1V298h1V295h1V293h1V289h1V287h1V285h1V291h1V296h1V301h1V302h1V303h1V304h1V306h1V326h-1V325h-1V326h-1V326h-1V326h-1V326h-1V326h-1V327h-1V326h-1V326h-1V326h-1V325h-1V324h-1V324h-1V324h-1V325h-1V325h-1V325h-1V325h-1V325h-1V326h-1V327h-1V326h-1V325h-1V325h-1V326h-1V326h-1V326h-1V325h-1V326h-1V325h-1V326h-1V326h-1V325h-1V327h-1V326h-1V326h-1V326h-1V326h-1V325h-1Z" fill="#cdb498"/>
<path transform="translate(328.8 0)scale(3.128 1)" d="M0 322V284h1V298h1V306h1V308h1V309h1V309h1V309h1V309h1V312h1V312h1V311h1V311h1V312h1V311h1V310h1V310h1V310h1V308h1V308h1V308h1V305h1V306h1V307h1V305h1V304h1V302h1V303h1V302h1V301h1V298h1V296h1V294h1V294h1V297h1V300h1V304h1V305h1V306h1V307h1V309h1V322h-1V322h-1V322h-1V322h-1V322h-1V322h-1V322h-1V322h-1V322h-1V322h-1V322h-1V322h-1V322h-1V322h-1V322h-1V322h-1V322h-1V322h-1V322h-1V322h-1V322h-1V322h-1V322h-1V322h-1V322h-1V322h-1V322h-1V322h-1V322h-1V322h-1V322h-1V322h-1V322h-1V322h-1V322h-1V322h-1V322h-1V322h-1V322h-1V322h-1Z" fill="#b3cfd4"/>
<path d="M345.5 256.1V335M360.1 256.1V335M403.9 256.1V335M327.7 304.1H450.1M327.7 287.2H450.1" stroke="#bababa" stroke-width="1.1" fill="none"/>
<path d="M330.6 256.1V335M389 256.1V335M447.4 256.1V335" stroke="#ff0000" stroke-opacity="0.5" stroke-width="5" fill="none"/>
<path d="M406.8 321L417.2 319.9L424.7 318.9L430.6 320.3L433.9 321.6" fill="none" stroke="#f00" stroke-opacity="0.4" stroke-width="5" stroke-linejoin="round"/>
<g fill="#000" stroke="#000" stroke-linejoin="round"><path d="M330.9 295.1l0.5 0 0.8 16 1.6 1 1.6-1 1.6 0 1.6 1 1.6 2 1.6 1 1.6-2 1.6 3 1.6-2 1.6 2 1.6-2 1.6 3 1.6 0 1.6 0 1.6 0 1.6-2 1.6 1 1.6 0 1.6 0 1.6-1 1.6 0 1.6 1 1.6 0 1.6 0 1.6 0 1.6 1 1.6-1 1.6-1 1.6 0 1.6 0 1.6 2 1.6 0 1.6-3 1.6 2 1.6 0 1.6 0 1.6-3 1.6 0 1.6 0 1.6 0 1.6 0 1.6 0 1.6 0 1.6-1 1.6-2 1.6 2 1.6 0 1.6-2 1.6-1 1.6-1 1.6 0 1.6 0 1.6 1 1.6-1 1.6 0 1.6-1 1.6-1 1.6 1 1.6-3 1.6-1 1.6 1 1.6-1 1.6 4 1.6 0 1.6 2 1.6 1 1.6 1 1.6 1 1.6 1 1.6 1 1.6-1 1.6 1 1.6-1 0 5-1.6 0-1.6 0-1.6 0-1.6-1-1.6 0-1.6-2-1.6-2-1.6-1-1.6-1-1.6 1-1.6-2-1.6 2-1.6-3-1.6 3-1.6 1-1.6-2-1.6 1-1.6 1-1.6 1-1.6 0-1.6 0-1.6-2-1.6 0-1.6 3-1.6-2-1.6 4-1.6-1-1.6-1-1.6 2-1.6 0-1.6 1-1.6-2-1.6 1-1.6 1-1.6-1-1.6 0-1.6 3-1.6 0-1.6-1-1.6-1-1.6 3-1.6 0-1.6-2-1.6 0-1.6 1-1.6 0-1.6 0-1.6-1-1.6-1-1.6 2-1.6 0-1.6-2-1.6 1-1.6 0-1.6 0-1.6 0-1.6-1-1.6 2-1.6 0-1.6 0-1.6 0-1.6-3-1.6 2-1.6-1-1.6 1-1.6-2-1.6 1-1.6 1-1.6-2-1.6-1-1.6 0-1.6 1-1.6-3-0.8-15-0.5 0Z" stroke-width="8.4"/></g>
</g>
<path d="M321.9 251H455.9V339.9H321.9ZM327.7 256.1V335H450.1V256.1Z" fill="#ff0000" fill-rule="evenodd"/>
<path d="M306.3 253.4H321.9M306.3 321H321.9" stroke="#ff0000" stroke-width="4.8"/>
<path d="M314.2 304.1H321.9M314.2 287.2H321.9M314.2 270.3H321.9" stroke="#000" stroke-width="3"/>
<path d="M330.9 339.9V355.9M389.3 339.9V355.9M447.7 339.9V355.9" stroke="#ff0000" stroke-width="4.3"/>
<path d="M345.5 339.9V348.7M360.1 339.9V348.7M374.7 339.9V348.7M403.9 339.9V348.7M418.5 339.9V348.7M433.1 339.9V348.7" stroke="#000" stroke-width="2.9"/>
</g>
<g transform="translate(718,117.9)">
<g clip-path="url(#pc)">
<path transform="translate(328.8 0)scale(3.128 1)" d="M0 335V286h1V287h1V296h1V295h1V284h1V285h1V283h1V300h1V303h1V305h1V305h1V290h1V292h1V303h1V301h1V283h1V300h1V297h1V283h1V293h1V286h1V288h1V257h1V286h1V282h1V259h1V250h1V250h1V269h1V275h1V277h1V285h1V290h1V292h1V294h1V292h1V287h1V279h1V288h1V297h1V333h-1V331h-1V330h-1V333h-1V332h-1V329h-1V330h-1V330h-1V332h-1V333h-1V331h-1V331h-1V332h-1V331h-1V330h-1V331h-1V332h-1V331h-1V331h-1V333h-1V330h-1V331h-1V333h-1V331h-1V331h-1V333h-1V333h-1V332h-1V328h-1V330h-1V331h-1V332h-1V330h-1V330h-1V331h-1V331h-1V332h-1V329h-1V331h-1V335h-1Z" fill="#88b3da"/>
<path transform="translate(328.8 0)scale(3.128 1)" d="M0 326V268h1V293h1V303h1V302h1V304h1V306h1V305h1V304h1V307h1V308h1V309h1V308h1V309h1V308h1V305h1V305h1V305h1V304h1V303h1V300h1V295h1V296h1V294h1V296h1V293h1V291h1V289h1V288h1V283h1V287h1V288h1V294h1V297h1V298h1V300h1V299h1V295h1V289h1V295h1V303h1V325h-1V327h-1V326h-1V327h-1V326h-1V326h-1V325h-1V325h-1V326h-1V326h-1V327h-1V326h-1V326h-1V326h-1V326h-1V326h-1V325h-1V326h-1V325h-1V325h-1V326h-1V327h-1V326h-1V326h-1V326h-1V327h-1V326h-1V326h-1V326h-1V325h-1V325h-1V326h-1V325h-1V326h-1V325h-1V326h-1V327h-1V326h-1V326h-1V326h-1Z" fill="#cdb498"/>
<path transform="translate(328.8 0)scale(3.128 1)" d="M0 322V281h1V299h1V308h1V307h1V309h1V309h1V308h1V307h1V310h1V311h1V312h1V311h1V311h1V310h1V309h1V308h1V308h1V307h1V306h1V304h1V300h1V300h1V299h1V301h1V299h1V298h1V296h1V294h1V290h1V293h1V293h1V299h1V302h1V303h1V304h1V303h1V300h1V297h1V301h1V307h1V322h-1V322h-1V322h-1V322h-1V322h-1V322h-1V322h-1V322h-1V322h-1V322h-1V322h-1V322h-1V322h-1V322h-1V322h-1V322h-1V322h-1V322h-1V322h-1V322h-1V322h-1V322h-1V322h-1V322h-1V322h-1V322h-1V322h-1V322h-1V322h-1V322h-1V322h-1V322h-1V322h-1V322h-1V322h-1V322h-1V322h-1V322h-1V322h-1V322h-1Z" fill="#b3cfd4"/>
<path d="M360.1 256.1V335M374.7 256.1V335M403.9 256.1V335M433.1 256.1V335M327.7 304.1H450.1M327.7 287.2H450.1" stroke="#bababa" stroke-width="1.1" fill="none"/>
<path d="M330.6 256.1V335M389 256.1V335M447.4 256.1V335" stroke="#ff0000" stroke-opacity="0.5" stroke-width="5" fill="none"/>
<path d="M397.2 321L407.6 319.9L415.2 318.9L421 320.3L424.3 321.6" fill="none" stroke="#f00" stroke-opacity="0.4" stroke-width="5" stroke-linejoin="round"/>
<g fill="#000" stroke="#000" stroke-linejoin="round"><path d="M330.9 293l0.5 0 0.8 19 1.6 2 1.6 0 1.6 1 1.6 0 1.6-1 1.6 2 1.6-1 1.6-1 1.6 2 1.6 0 1.6 0 1.6-1 1.6-1 1.6 2 1.6 1 1.6-2 1.6 0 1.6 1 1.6 0 1.6 1 1.6-1 1.6 0 1.6-1 1.6-1 1.6 0 1.6 0 1.6 1 1.6-1 1.6 1 1.6-2 1.6 1 1.6-2 1.6 1 1.6-2 1.6-1 1.6 1 1.6 0 1.6-3 1.6 1 1.6 0 1.6-3 1.6 3 1.6-1 1.6-1 1.6 1 1.6-1 1.6 0 1.6-1 1.6 2 1.6-1 1.6-2 1.6-1 1.6-1 1.6-2 1.6-3 1.6 5 1.6 0 1.6 2 1.6 4 1.6-2 1.6 4 1.6 0 1.6 1 1.6-1 1.6 0 1.6-1 1.6-1 1.6-2 1.6 0 1.6-3 1.6 2 1.6 2 1.6 3 0 4-1.6-2-1.6-2-1.6-2-1.6 3-1.6 0-1.6 3-1.6-1-1.6 1-1.6 0-1.6 3-1.6-2-1.6 1-1.6-5-1.6 2-1.6-2-1.6-3-1.6-1-1.6-3-1.6 5-1.6-1-1.6 0-1.6 2-1.6 4-1.6 1-1.6-3-1.6 1-1.6 0-1.6 0-1.6-2-1.6 1-1.6 1-1.6-2-1.6 0-1.6 1-1.6-1-1.6 3-1.6 1-1.6-1-1.6 0-1.6 2-1.6-1-1.6 2-1.6-1-1.6 2-1.6-2-1.6 2-1.6-1-1.6-1-1.6 1-1.6 0-1.6 2-1.6-1-1.6 2-1.6-1-1.6-1-1.6 0-1.6-1-1.6 2-1.6-2-1.6 0-1.6 1-1.6 0-1.6 1-1.6 0-1.6-4-1.6 2-1.6 2-1.6-3-1.6 2-1.6 0-1.6-1-1.6 1-1.6-1-0.8-22-0.5 0Z" stroke-width="8.4"/></g>
</g>
<path d="M321.9 251H455.9V339.9H321.9ZM327.7 256.1V335H450.1V256.1Z" fill="#ff0000" fill-rule="evenodd"/>
<path d="M306.3 253.4H321.9M306.3 321H321.9" stroke="#ff0000" stroke-width="4.8"/>
<path d="M314.2 304.1H321.9M314.2 287.2H321.9M314.2 270.3H321.9" stroke="#000" stroke-width="3"/>
<path d="M330.9 339.9V355.9M389.3 339.9V355.9M447.7 339.9V355.9" stroke="#ff0000" stroke-width="4.3"/>
<path d="M345.5 339.9V348.7M360.1 339.9V348.7M374.7 339.9V348.7M403.9 339.9V348.7M418.5 339.9V348.7M433.1 339.9V348.7" stroke="#000" stroke-width="2.9"/>
</g>
<g transform="translate(897.5,117.9)">
<g clip-path="url(#pc)">
<path transform="translate(328.8 0)scale(3.128 1)" d="M0 337V290h1V289h1V288h1V298h1V287h1V278h1V302h1V302h1V302h1V302h1V297h1V292h1V290h1V291h1V285h1V251h1V261h1V261h1V282h1V284h1V285h1V285h1V271h1V262h1V262h1V267h1V266h1V270h1V275h1V255h1V284h1V288h1V291h1V284h1V294h1V280h1V299h1V304h1V304h1V306h1V330h-1V330h-1V329h-1V332h-1V330h-1V330h-1V333h-1V333h-1V332h-1V333h-1V333h-1V331h-1V334h-1V333h-1V334h-1V332h-1V332h-1V330h-1V330h-1V333h-1V331h-1V334h-1V335h-1V335h-1V334h-1V332h-1V333h-1V330h-1V332h-1V331h-1V332h-1V332h-1V330h-1V331h-1V332h-1V330h-1V330h-1V333h-1V334h-1V337h-1Z" fill="#88b3da"/>
<path transform="translate(328.8 0)scale(3.128 1)" d="M0 326V277h1V294h1V305h1V305h1V304h1V305h1V307h1V308h1V307h1V306h1V302h1V297h1V299h1V299h1V297h1V292h1V291h1V292h1V292h1V294h1V293h1V292h1V283h1V277h1V274h1V279h1V278h1V281h1V285h1V290h1V293h1V296h1V298h1V299h1V301h1V304h1V305h1V309h1V310h1V312h1V325h-1V325h-1V325h-1V326h-1V326h-1V326h-1V325h-1V325h-1V325h-1V326h-1V326h-1V325h-1V326h-1V326h-1V326h-1V327h-1V327h-1V326h-1V326h-1V326h-1V326h-1V325h-1V326h-1V325h-1V326h-1V325h-1V326h-1V325h-1V325h-1V325h-1V325h-1V325h-1V325h-1V325h-1V326h-1V326h-1V327h-1V327h-1V326h-1V326h-1Z" fill="#cdb498"/>
<path transform="translate(328.8 0)scale(3.128 1)" d="M0 322V284h1V299h1V309h1V309h1V309h1V309h1V310h1V312h1V311h1V309h1V307h1V303h1V304h1V303h1V302h1V299h1V298h1V298h1V298h1V299h1V301h1V299h1V291h1V285h1V285h1V288h1V287h1V290h1V295h1V296h1V300h1V301h1V304h1V305h1V306h1V309h1V310h1V313h1V314h1V314h1V322h-1V322h-1V322h-1V322h-1V322h-1V322h-1V322h-1V322h-1V322h-1V322h-1V322h-1V322h-1V322h-1V322h-1V322h-1V322h-1V322h-1V322h-1V322h-1V322h-1V322h-1V322h-1V322h-1V322h-1V322h-1V322h-1V322h-1V322h-1V322h-1V322h-1V322h-1V322h-1V322h-1V322h-1V322h-1V322h-1V322h-1V322h-1V322h-1V322h-1Z" fill="#b3cfd4"/>
<path d="M345.5 256.1V335M360.1 256.1V335M374.7 256.1V335M403.9 256.1V335M418.5 256.1V335M327.7 304.1H450.1M327.7 287.2H450.1" stroke="#bababa" stroke-width="1.1" fill="none"/>
<path d="M330.6 256.1V335M389 256.1V335M447.4 256.1V335" stroke="#ff0000" stroke-opacity="0.5" stroke-width="5" fill="none"/>
<path d="M381.4 321L391.8 319.9L399.3 318.9L405.1 320.3L408.5 321.6" fill="none" stroke="#f00" stroke-opacity="0.4" stroke-width="5" stroke-linejoin="round"/>
<g fill="#000" stroke="#000" stroke-linejoin="round"><path d="M330.9 295.1l0.5 0 0.8 17 1.6 2 1.6 0 1.6 1 1.6 1 1.6-3 1.6 2 1.6 0 1.6-1 1.6 3 1.6-2 1.6 2 1.6 0 1.6 0 1.6-1 1.6 1 1.6-2 1.6 0 1.6-2 1.6 1 1.6 0 1.6-3 1.6 1 1.6-2 1.6 1 1.6-1 1.6 0 1.6-3 1.6 2 1.6 0 1.6-3 1.6-2 1.6-1 1.6 3 1.6-3 1.6 2 1.6 2 1.6-1 1.6 1 1.6 1 1.6 2 1.6-3 1.6-7 1.6 1 1.6-2 1.6-5 1.6 3 1.6-1 1.6 2 1.6-1 1.6 1 1.6 5 1.6-1 1.6 3 1.6 1 1.6 2 1.6 0 1.6 1 1.6-1 1.6 2 1.6 2 1.6-3 1.6 2 1.6 0 1.6 0 1.6 2 1.6 2 1.6 1 1.6-2 1.6 1 1.6 1 1.6 2 1.6-1 1.6 0 0 3-1.6-1-1.6 1-1.6-2-1.6 0-1.6 0-1.6 1-1.6 0-1.6-1-1.6-3-1.6 1-1.6-1-1.6 0-1.6 2-1.6-2-1.6-2-1.6 0-1.6-1-1.6 3-1.6-3-1.6-1-1.6-3-1.6 1-1.6-3-1.6 0-1.6 1-1.6-2-1.6 0-1.6-1-1.6 3-1.6 3-1.6-2-1.6 6-1.6 1-1.6-2-1.6 1-1.6-2-1.6 0-1.6 0-1.6-1-1.6 1-1.6 0-1.6 0-1.6 0-1.6 1-1.6 2-1.6-3-1.6 3-1.6 1-1.6 0-1.6 0-1.6 0-1.6-2-1.6 3-1.6 1-1.6-2-1.6 4-1.6-1-1.6 1-1.6-1-1.6 1-1.6 0-1.6 0-1.6-2-1.6 1-1.6-1-1.6-1-1.6 1-1.6-1-1.6 3-1.6-2-1.6-1-1.6 0-1.6-2-0.8-16-0.5 0Z" stroke-width="8.4"/></g>
</g>
<path d="M321.9 251H455.9V339.9H321.9ZM327.7 256.1V335H450.1V256.1Z" fill="#ff0000" fill-rule="evenodd"/>
<path d="M306.3 253.4H321.9M306.3 321H321.9" stroke="#ff0000" stroke-width="4.8"/>
<path d="M314.2 304.1H321.9M314.2 287.2H321.9M314.2 270.3H321.9" stroke="#000" stroke-width="3"/>
<path d="M330.9 339.9V355.9M389.3 339.9V355.9M447.7 339.9V355.9" stroke="#ff0000" stroke-width="4.3"/>
<path d="M345.5 339.9V348.7M360.1 339.9V348.7M374.7 339.9V348.7M403.9 339.9V348.7M418.5 339.9V348.7M433.1 339.9V348.7" stroke="#000" stroke-width="2.9"/>
</g>
<g transform="translate(1077,117.9)">
<g clip-path="url(#pc)">
<path transform="translate(328.8 0)scale(3.128 1)" d="M0 334V287h1V287h1V293h1V293h1V298h1V297h1V300h1V278h1V282h1V299h1V299h1V299h1V296h1V286h1V282h1V297h1V297h1V279h1V303h1V294h1V286h1V259h1V255h1V268h1V250h1V256h1V258h1V270h1V260h1V300h1V297h1V294h1V295h1V297h1V283h1V296h1V302h1V305h1V303h1V305h1V331h-1V332h-1V329h-1V332h-1V332h-1V329h-1V329h-1V332h-1V333h-1V330h-1V332h-1V332h-1V334h-1V331h-1V333h-1V331h-1V332h-1V334h-1V332h-1V333h-1V332h-1V332h-1V330h-1V330h-1V333h-1V330h-1V332h-1V332h-1V331h-1V333h-1V333h-1V331h-1V332h-1V332h-1V333h-1V331h-1V332h-1V329h-1V330h-1V334h-1Z" fill="#88b3da"/>
<path transform="translate(328.8 0)scale(3.128 1)" d="M0 326V266h1V288h1V300h1V302h1V304h1V304h1V305h1V303h1V303h1V306h1V305h1V305h1V302h1V303h1V303h1V304h1V304h1V307h1V309h1V301h1V296h1V290h1V288h1V279h1V276h1V273h1V273h1V283h1V296h1V306h1V305h1V302h1V301h1V303h1V308h1V311h1V310h1V312h1V309h1V311h1V326h-1V325h-1V325h-1V326h-1V326h-1V325h-1V326h-1V326h-1V326h-1V327h-1V326h-1V326h-1V326h-1V325h-1V326h-1V326h-1V325h-1V326h-1V325h-1V325h-1V325h-1V326h-1V325h-1V326h-1V326h-1V325h-1V326h-1V326h-1V325h-1V326h-1V326h-1V325h-1V325h-1V325h-1V326h-1V325h-1V325h-1V326h-1V325h-1V326h-1Z" fill="#cdb498"/>
<path transform="translate(328.8 0)scale(3.128 1)" d="M0 322V275h1V295h1V305h1V307h1V308h1V309h1V310h1V309h1V309h1V309h1V309h1V309h1V307h1V308h1V308h1V308h1V309h1V310h1V312h1V306h1V302h1V298h1V296h1V290h1V288h1V283h1V284h1V289h1V300h1V309h1V309h1V305h1V304h1V306h1V311h1V314h1V314h1V315h1V313h1V315h1V322h-1V322h-1V322h-1V322h-1V322h-1V322h-1V322h-1V322h-1V322h-1V322h-1V322h-1V322h-1V322h-1V322h-1V322h-1V322h-1V322h-1V322h-1V322h-1V322h-1V322h-1V322h-1V322h-1V322h-1V322h-1V322h-1V322h-1V322h-1V322h-1V322h-1V322h-1V322h-1V322h-1V322h-1V322h-1V322h-1V322h-1V322h-1V322h-1V322h-1Z" fill="#b3cfd4"/>
<path d="M360.1 256.1V335M418.5 256.1V335M433.1 256.1V335M327.7 304.1H450.1M327.7 287.2H450.1" stroke="#bababa" stroke-width="1.1" fill="none"/>
<path d="M330.6 256.1V335M389 256.1V335M447.4 256.1V335" stroke="#ff0000" stroke-opacity="0.5" stroke-width="5" fill="none"/>
<path d="M387.6 321L398.1 319.9L405.6 318.9L411.4 320.3L414.7 321.6" fill="none" stroke="#f00" stroke-opacity="0.4" stroke-width="5" stroke-linejoin="round"/>
<g fill="#000" stroke="#000" stroke-linejoin="round"><path d="M330.9 295.1l0.5 0 0.8 18 1.6 1 1.6 0 1.6-1 1.6 0 1.6 1 1.6 1 1.6-1 1.6-1 1.6 0 1.6 1 1.6-1 1.6 2 1.6 0 1.6 0 1.6-1 1.6 0 1.6 1 1.6-2 1.6 0 1.6 1 1.6-2 1.6 1 1.6 0 1.6-1 1.6 2 1.6-1 1.6-1 1.6 1 1.6 0 1.6 1 1.6-1 1.6 1 1.6 1 1.6 1 1.6 0 1.6-2 1.6-2 1.6-1 1.6-2 1.6-2 1.6-2 1.6 0 1.6-4 1.6 0 1.6-1 1.6-4 1.6 1 1.6 0 1.6-5 1.6 6 1.6 4 1.6 4 1.6 5 1.6 2 1.6 3 1.6 1 1.6 0 1.6-3 1.6-2 1.6-1 1.6 1 1.6-2 1.6 3 1.6 2 1.6 1 1.6 1 1.6 1 1.6-2 1.6 1 1.6 0 1.6 0 1.6 1 1.6 1 0 3-1.6-2-1.6-1-1.6 1-1.6 0-1.6-1-1.6 2-1.6-1-1.6 0-1.6-2-1.6-1-1.6-3-1.6 3-1.6-1-1.6 0-1.6 2-1.6 2-1.6 0-1.6-1-1.6-3-1.6 0-1.6-2-1.6-2-1.6-4-1.6-5-1.6 4-1.6 0-1.6-3-1.6 5-1.6-2-1.6 2-1.6 2-1.6 1-1.6 2-1.6 1-1.6 2-1.6 0-1.6 2-1.6 1-1.6 1-1.6-2-1.6-1-1.6 0-1.6 0-1.6 0-1.6-1-1.6-1-1.6 2-1.6 0-1.6-1-1.6 1-1.6 0-1.6-1-1.6 2-1.6-2-1.6 0-1.6 1-1.6 0-1.6 1-1.6 0-1.6 0-1.6 1-1.6-3-1.6 2-1.6-2-1.6 0-1.6 1-1.6 2-1.6-1-1.6-1-1.6-1-1.6 1-1.6 0-1.6 0-0.8-19-0.5 0Z" stroke-width="8.4"/></g>
</g>
<path d="M321.9 251H455.9V339.9H321.9ZM327.7 256.1V335H450.1V256.1Z" fill="#ff0000" fill-rule="evenodd"/>
<path d="M306.3 253.4H321.9M306.3 321H321.9" stroke="#ff0000" stroke-width="4.8"/>
<path d="M314.2 304.1H321.9M314.2 287.2H321.9M314.2 270.3H321.9" stroke="#000" stroke-width="3"/>
<path d="M330.9 339.9V355.9M389.3 339.9V355.9M447.7 339.9V355.9" stroke="#ff0000" stroke-width="4.3"/>
<path d="M345.5 339.9V348.7M360.1 339.9V348.7M374.7 339.9V348.7M403.9 339.9V348.7M418.5 339.9V348.7M433.1 339.9V348.7" stroke="#000" stroke-width="2.9"/>
</g>
<g transform="translate(1256.5,117.9)">
<g clip-path="url(#pc)">
<path transform="translate(328.8 0)scale(3.128 1)" d="M0 334V290h1V289h1V285h1V299h1V301h1V300h1V301h1V301h1V300h1V297h1V295h1V298h1V284h1V285h1V295h1V286h1V260h1V266h1V264h1V288h1V286h1V250h1V253h1V250h1V276h1V281h1V268h1V264h1V250h1V271h1V278h1V288h1V295h1V296h1V298h1V302h1V304h1V291h1V302h1V304h1V330h-1V328h-1V329h-1V329h-1V329h-1V330h-1V331h-1V330h-1V332h-1V334h-1V332h-1V333h-1V334h-1V334h-1V334h-1V336h-1V336h-1V334h-1V334h-1V333h-1V332h-1V334h-1V333h-1V331h-1V333h-1V333h-1V332h-1V333h-1V333h-1V332h-1V332h-1V329h-1V330h-1V331h-1V329h-1V330h-1V333h-1V331h-1V330h-1V334h-1Z" fill="#88b3da"/>
<path transform="translate(328.8 0)scale(3.128 1)" d="M0 325V275h1V294h1V305h1V304h1V307h1V308h1V308h1V307h1V307h1V306h1V303h1V305h1V305h1V304h1V302h1V296h1V289h1V293h1V294h1V296h1V293h1V279h1V266h1V264h1V284h1V289h1V278h1V275h1V278h1V285h1V288h1V298h1V302h1V303h1V306h1V309h1V310h1V309h1V308h1V309h1V326h-1V326h-1V326h-1V326h-1V327h-1V327h-1V327h-1V325h-1V326h-1V326h-1V326h-1V326h-1V327h-1V326h-1V326h-1V326h-1V326h-1V326h-1V325h-1V325h-1V326h-1V325h-1V325h-1V325h-1V325h-1V325h-1V325h-1V325h-1V326h-1V326h-1V326h-1V326h-1V326h-1V325h-1V326h-1V325h-1V325h-1V325h-1V326h-1V325h-1Z" fill="#cdb498"/>
<path transform="translate(328.8 0)scale(3.128 1)" d="M0 322V282h1V299h1V308h1V308h1V310h1V311h1V310h1V311h1V310h1V310h1V308h1V308h1V309h1V308h1V306h1V302h1V296h1V298h1V298h1V301h1V299h1V286h1V274h1V274h1V291h1V295h1V286h1V283h1V286h1V293h1V297h1V302h1V306h1V307h1V309h1V311h1V312h1V312h1V311h1V312h1V322h-1V322h-1V322h-1V322h-1V322h-1V322h-1V322h-1V322h-1V322h-1V322h-1V322h-1V322h-1V322h-1V322h-1V322h-1V322h-1V322h-1V322h-1V322h-1V322h-1V322h-1V322h-1V322h-1V322h-1V322h-1V322h-1V322h-1V322h-1V322h-1V322h-1V322h-1V322h-1V322h-1V322h-1V322h-1V322h-1V322h-1V322h-1V322h-1V322h-1Z" fill="#b3cfd4"/>
<path d="M345.5 256.1V335M360.1 256.1V335M374.7 256.1V335M403.9 256.1V335M433.1 256.1V335M327.7 304.1H450.1M327.7 287.2H450.1" stroke="#bababa" stroke-width="1.1" fill="none"/>
<path d="M330.6 256.1V335M389 256.1V335M447.4 256.1V335" stroke="#ff0000" stroke-opacity="0.5" stroke-width="5" fill="none"/>
<path d="M378.4 321L388.9 319.9L396.4 318.9L402.2 320.3L405.6 321.6" fill="none" stroke="#f00" stroke-opacity="0.4" stroke-width="5" stroke-linejoin="round"/>
<g fill="#000" stroke="#000" stroke-linejoin="round"><path d="M330.9 295.1l0.5 0 0.8 17 1.6 3 1.6-2 1.6 3 1.6-1 1.6-1 1.6 0 1.6 1 1.6-1 1.6 2 1.6 1 1.6-2 1.6 1 1.6 0 1.6 0 1.6-1 1.6 0 1.6 0 1.6 1 1.6-1 1.6 0 1.6-1 1.6-1 1.6 2 1.6-2 1.6-2 1.6 2 1.6-2 1.6-3 1.6 0 1.6 0 1.6-4 1.6-2 1.6 4 1.6 1 1.6 2 1.6-1 1.6 0 1.6 3 1.6-7 1.6-4 1.6-5 1.6-4 1.6-6 1.6 9 1.6 11 1.6 9 1.6-4 1.6-2 1.6-3 1.6-3 1.6-5 1.6 1 1.6 2 1.6 3 1.6 1 1.6 1 1.6 2 1.6 0 1.6 2 1.6 2 1.6 0 1.6 1 1.6 4 1.6-2 1.6 2 1.6-2 1.6 0 1.6 2 1.6 1 1.6 1 1.6-2 1.6 1 1.6 0 0 3-1.6 0-1.6 0-1.6 0-1.6 0-1.6-1-1.6-1-1.6-1-1.6 2-1.6-1-1.6 1-1.6-2-1.6-1-1.6-1-1.6-1-1.6-3-1.6 2-1.6-3-1.6 1-1.6-2-1.6 0-1.6-2-1.6-4-1.6 5-1.6 3-1.6 3-1.6-1-1.6 4-1.6-5-1.6-9-1.6-7-1.6 5-1.6 4-1.6 4-1.6 1-1.6 7-1.6-5-1.6 3-1.6 1-1.6-2-1.6-2-1.6-1-1.6 1-1.6 3-1.6 0-1.6-1-1.6 2-1.6 1-1.6-1-1.6 0-1.6 1-1.6 0-1.6 1-1.6-1-1.6 1-1.6 1-1.6-1-1.6 0-1.6 0-1.6 1-1.6 0-1.6 0-1.6 0-1.6 1-1.6-1-1.6-1-1.6 1-1.6-2-1.6 0-1.6 1-1.6 1-1.6-3-1.6 2-1.6 0-0.8-19-0.5 0Z" stroke-width="8.4"/></g>
</g>
<path d="M321.9 251H455.9V339.9H321.9ZM327.7 256.1V335H450.1V256.1Z" fill="#ff0000" fill-rule="evenodd"/>
<path d="M306.3 253.4H321.9M306.3 321H321.9" stroke="#ff0000" stroke-width="4.8"/>
<path d="M314.2 304.1H321.9M314.2 287.2H321.9M314.2 270.3H321.9" stroke="#000" stroke-width="3"/>
<path d="M330.9 339.9V355.9M389.3 339.9V355.9M447.7 339.9V355.9" stroke="#ff0000" stroke-width="4.3"/>
<path d="M345.5 339.9V348.7M360.1 339.9V348.7M374.7 339.9V348.7M403.9 339.9V348.7M418.5 339.9V348.7M433.1 339.9V348.7" stroke="#000" stroke-width="2.9"/>
</g>
<g transform="translate(1436,117.9)">
<g clip-path="url(#pc)">
<path transform="translate(328.8 0)scale(3.128 1)" d="M0 331V291h1V290h1V291h1V298h1V300h1V284h1V298h1V302h1V302h1V299h1V296h1V279h1V292h1V291h1V289h1V250h1V269h1V258h1V250h1V250h1V278h1V292h1V293h1V280h1V250h1V263h1V278h1V312h1V310h1V290h1V292h1V306h1V304h1V303h1V293h1V293h1V305h1V305h1V307h1V294h1V332h-1V331h-1V331h-1V330h-1V331h-1V331h-1V332h-1V331h-1V330h-1V329h-1V331h-1V330h-1V328h-1V331h-1V331h-1V331h-1V331h-1V330h-1V332h-1V333h-1V336h-1V336h-1V332h-1V332h-1V331h-1V331h-1V332h-1V332h-1V330h-1V331h-1V332h-1V330h-1V330h-1V331h-1V331h-1V330h-1V331h-1V332h-1V333h-1V331h-1Z" fill="#88b3da"/>
<path transform="translate(328.8 0)scale(3.128 1)" d="M0 327V284h1V298h1V306h1V304h1V306h1V306h1V306h1V307h1V307h1V306h1V303h1V302h1V300h1V298h1V295h1V287h1V280h1V274h1V267h1V272h1V287h1V297h1V298h1V290h1V280h1V276h1V287h1V315h1V314h1V310h1V308h1V310h1V309h1V308h1V311h1V311h1V311h1V311h1V312h1V312h1V326h-1V327h-1V326h-1V326h-1V326h-1V326h-1V326h-1V326h-1V326h-1V326h-1V326h-1V326h-1V326h-1V325h-1V326h-1V326h-1V326h-1V326h-1V326h-1V326h-1V326h-1V325h-1V326h-1V325h-1V325h-1V326h-1V326h-1V325h-1V326h-1V326h-1V325h-1V326h-1V326h-1V326h-1V326h-1V326h-1V325h-1V326h-1V326h-1V327h-1Z" fill="#cdb498"/>
<path transform="translate(328.8 0)scale(3.128 1)" d="M0 322V287h1V301h1V309h1V309h1V310h1V309h1V310h1V311h1V310h1V310h1V309h1V308h1V306h1V304h1V302h1V295h1V290h1V284h1V277h1V281h1V292h1V301h1V304h1V298h1V288h1V285h1V295h1V318h1V316h1V314h1V313h1V314h1V314h1V313h1V314h1V314h1V314h1V314h1V316h1V315h1V322h-1V322h-1V322h-1V322h-1V322h-1V322h-1V322h-1V322h-1V322h-1V322h-1V322h-1V322h-1V322h-1V322h-1V322h-1V322h-1V322h-1V322h-1V322h-1V322h-1V322h-1V322h-1V322h-1V322h-1V322h-1V322h-1V322h-1V322h-1V322h-1V322h-1V322h-1V322h-1V322h-1V322h-1V322h-1V322h-1V322h-1V322h-1V322h-1V322h-1Z" fill="#b3cfd4"/>
<path d="M345.5 256.1V335M374.7 256.1V335M418.5 256.1V335M433.1 256.1V335M327.7 304.1H450.1M327.7 287.2H450.1" stroke="#bababa" stroke-width="1.1" fill="none"/>
<path d="M330.6 256.1V335M389 256.1V335M447.4 256.1V335" stroke="#ff0000" stroke-opacity="0.5" stroke-width="5" fill="none"/>
<path d="M363.9 321L374.3 319.9L381.8 318.9L387.6 320.3L391 321.6" fill="none" stroke="#f00" stroke-opacity="0.4" stroke-width="5" stroke-linejoin="round"/>
<g fill="#000" stroke="#000" stroke-linejoin="round"><path d="M330.9 295.3l0.5 0 0.8 18 1.6 3 1.6-1 1.6 0 1.6-1 1.6 2 1.6-2 1.6 2 1.6 0 1.6 1 1.6-2 1.6 1 1.6-1 1.6 1 1.6-1 1.6 0 1.6 0 1.6 1 1.6-2 1.6-1 1.6 1 1.6-1 1.6 1 1.6-1 1.6 0 1.6 0 1.6-2 1.6 1 1.6-3 1.6-4 1.6-3 1.6-3 1.6-3 1.6-3 1.6-4 1.6 2 1.6 8 1.6 2 1.6 5 1.6 3 1.6 0 1.6 1 1.6 3 1.6-1 1.6-3 1.6-5 1.6-2 1.6-5 1.6-3 1.6 11 1.6 10 1.6 7 1.6-1 1.6-1 1.6-1 1.6 1 1.6-1 1.6 0 1.6-1 1.6 1 1.6-2 1.6 0 1.6 0 1.6 0 1.6 1 1.6 0 1.6-1 1.6 1 1.6 0 1.6-1 1.6 0 1.6 1 1.6 1 1.6-1 0 2-1.6 2-1.6-2-1.6 0-1.6-1-1.6 1-1.6 0-1.6 0-1.6 1-1.6 0-1.6-2-1.6 1-1.6 0-1.6 0-1.6 1-1.6-1-1.6 2-1.6 0-1.6 0-1.6-1-1.6 1-1.6-1-1.6 1-1.6-4-1.6-9-1.6-5-1.6 3-1.6 3-1.6 0-1.6 4-1.6 2-1.6 1-1.6-2-1.6 1-1.6-2-1.6-3-1.6-4-1.6 2-1.6-9-1.6-3-1.6 6-1.6 2-1.6 4-1.6 0-1.6 3-1.6 1-1.6 5-1.6-1-1.6 1-1.6 0-1.6-1-1.6 2-1.6-2-1.6 0-1.6 1-1.6 0-1.6 1-1.6-1-1.6 1-1.6-1-1.6 2-1.6-1-1.6-1-1.6 0-1.6 2-1.6 0-1.6-1-1.6-2-1.6 2-1.6-1-1.6 0-1.6 1-1.6 1-1.6-3-0.8-18-0.5 0Z" stroke-width="8.4"/></g>
</g>
<path d="M321.9 251H455.9V339.9H321.9ZM327.7 256.1V335H450.1V256.1Z" fill="#ff0000" fill-rule="evenodd"/>
<path d="M306.3 253.4H321.9M306.3 321H321.9" stroke="#ff0000" stroke-width="4.8"/>
<path d="M314.2 304.1H321.9M314.2 287.2H321.9M314.2 270.3H321.9" stroke="#000" stroke-width="3"/>
<path d="M330.9 339.9V355.9M389.3 339.9V355.9M447.7 339.9V355.9" stroke="#ff0000" stroke-width="4.3"/>
<path d="M345.5 339.9V348.7M360.1 339.9V348.7M374.7 339.9V348.7M403.9 339.9V348.7M418.5 339.9V348.7M433.1 339.9V348.7" stroke="#000" stroke-width="2.9"/>
</g>
<g transform="translate(1615.5,117.9)">
<g clip-path="url(#pc)">
<path transform="translate(328.8 0)scale(3.128 1)" d="M0 336V287h1V289h1V297h1V302h1V302h1V300h1V301h1V300h1V302h1V302h1V284h1V298h1V287h1V283h1V269h1V288h1V288h1V278h1V262h1V250h1V250h1V250h1V275h1V275h1V252h1V286h1V293h1V283h1V297h1V299h1V298h1V289h1V304h1V304h1V296h1V305h1V305h1V304h1V307h1V308h1V329h-1V329h-1V332h-1V330h-1V330h-1V329h-1V332h-1V331h-1V329h-1V331h-1V332h-1V330h-1V331h-1V332h-1V334h-1V332h-1V333h-1V333h-1V334h-1V333h-1V337h-1V336h-1V336h-1V334h-1V332h-1V333h-1V333h-1V330h-1V333h-1V331h-1V330h-1V331h-1V330h-1V331h-1V330h-1V330h-1V329h-1V329h-1V331h-1V336h-1Z" fill="#88b3da"/>
<path transform="translate(328.8 0)scale(3.128 1)" d="M0 327V267h1V295h1V308h1V307h1V307h1V307h1V308h1V306h1V307h1V307h1V306h1V304h1V302h1V299h1V297h1V297h1V297h1V288h1V276h1V263h1V266h1V280h1V287h1V287h1V287h1V295h1V301h1V304h1V305h1V305h1V305h1V307h1V310h1V310h1V312h1V310h1V310h1V310h1V311h1V312h1V326h-1V325h-1V325h-1V325h-1V327h-1V326h-1V326h-1V326h-1V325h-1V327h-1V327h-1V326h-1V326h-1V326h-1V325h-1V325h-1V325h-1V325h-1V327h-1V326h-1V326h-1V327h-1V326h-1V327h-1V327h-1V326h-1V325h-1V325h-1V327h-1V326h-1V326h-1V325h-1V327h-1V326h-1V325h-1V326h-1V327h-1V327h-1V326h-1V327h-1Z" fill="#cdb498"/>
<path transform="translate(328.8 0)scale(3.128 1)" d="M0 322V277h1V301h1V312h1V311h1V310h1V311h1V311h1V310h1V310h1V311h1V310h1V309h1V307h1V304h1V302h1V302h1V302h1V293h1V281h1V272h1V274h1V287h1V294h1V293h1V293h1V301h1V306h1V308h1V309h1V309h1V310h1V310h1V312h1V313h1V314h1V313h1V314h1V314h1V315h1V315h1V322h-1V322h-1V322h-1V322h-1V322h-1V322h-1V322h-1V322h-1V322h-1V322h-1V322h-1V322h-1V322h-1V322h-1V322h-1V322h-1V322h-1V322h-1V322h-1V322h-1V322h-1V322h-1V322h-1V322h-1V322h-1V322h-1V322h-1V322h-1V322h-1V322h-1V322h-1V322h-1V322h-1V322h-1V322h-1V322h-1V322h-1V322h-1V322h-1V322h-1Z" fill="#b3cfd4"/>
<path d="M360.1 256.1V335M403.9 256.1V335M433.1 256.1V335M327.7 304.1H450.1M327.7 287.2H450.1" stroke="#bababa" stroke-width="1.1" fill="none"/>
<path d="M330.6 256.1V335M389 256.1V335M447.4 256.1V335" stroke="#ff0000" stroke-opacity="0.5" stroke-width="5" fill="none"/>
<path d="M368 321L378.4 319.9L386 318.9L391.8 320.3L395.1 321.6" fill="none" stroke="#f00" stroke-opacity="0.4" stroke-width="5" stroke-linejoin="round"/>
<g fill="#000" stroke="#000" stroke-linejoin="round"><path d="M330.9 295.3l0.5 0 0.8 20 1.6 3 1.6-2 1.6 2 1.6-2 1.6 1 1.6 0 1.6 0 1.6 0 1.6 0 1.6 0 1.6-2 1.6 0 1.6 2 1.6-1 1.6-1 1.6 2 1.6-1 1.6 0 1.6-1 1.6 1 1.6-1 1.6 0 1.6-1 1.6-2 1.6 2 1.6-3 1.6 0 1.6 1 1.6-3 1.6 1 1.6-1 1.6-2 1.6-5 1.6-4 1.6-4 1.6-6 1.6-4 1.6 6 1.6 7 1.6 3 1.6 3 1.6 1 1.6-5 1.6 2 1.6 3 1.6 4 1.6 0 1.6 4 1.6-1 1.6-1 1.6 2 1.6 1 1.6 0 1.6 2 1.6 0 1.6 1 1.6-1 1.6 0 1.6 1 1.6 0 1.6 2 1.6 0 1.6 1 1.6-2 1.6 2 1.6-1 1.6 1 1.6-2 1.6 0 1.6 1 1.6 0 1.6 0 1.6 1 0 2-1.6-1-1.6 0-1.6 0-1.6-1-1.6 1-1.6 1-1.6 0-1.6 0-1.6-1-1.6 1-1.6 0-1.6 0-1.6-2-1.6-1-1.6 0-1.6 0-1.6 2-1.6-2-1.6 0-1.6-2-1.6 2-1.6-2-1.6-2-1.6 3-1.6 0-1.6-5-1.6 0-1.6-2-1.6-4-1.6 1-1.6 4-1.6-1-1.6-3-1.6-1-1.6-7-1.6-3-1.6 5-1.6 3-1.6 2-1.6 3-1.6 3-1.6 1-1.6 2-1.6 0-1.6 2-1.6 0-1.6-1-1.6 2-1.6-3-1.6 3-1.6 1-1.6-1-1.6 1-1.6 0-1.6 1-1.6-1-1.6 1-1.6-1-1.6 0-1.6 0-1.6-1-1.6 1-1.6 1-1.6 0-1.6-1-1.6 1-1.6-1-1.6 0-1.6 0-1.6 2-1.6-1-1.6 1-1.6-1-0.8-21-0.5 0Z" stroke-width="8.4"/></g>
</g>
<path d="M321.9 251H455.9V339.9H321.9ZM327.7 256.1V335H450.1V256.1Z" fill="#ff0000" fill-rule="evenodd"/>
<path d="M306.3 253.4H321.9M306.3 321H321.9" stroke="#ff0000" stroke-width="4.8"/>
<path d="M314.2 304.1H321.9M314.2 287.2H321.9M314.2 270.3H321.9" stroke="#000" stroke-width="3"/>
<path d="M330.9 339.9V355.9M389.3 339.9V355.9M447.7 339.9V355.9" stroke="#ff0000" stroke-width="4.3"/>
<path d="M345.5 339.9V348.7M360.1 339.9V348.7M374.7 339.9V348.7M403.9 339.9V348.7M418.5 339.9V348.7M433.1 339.9V348.7" stroke="#000" stroke-width="2.9"/>
</g>
<g transform="translate(1795,117.9)">
<g clip-path="url(#pc)">
<path transform="translate(328.8 0)scale(3.128 1)" d="M0 335V287h1V287h1V304h1V304h1V302h1V287h1V303h1V300h1V302h1V301h1V301h1V297h1V298h1V273h1V289h1V282h1V274h1V250h1V261h1V261h1V268h1V272h1V277h1V255h1V275h1V294h1V271h1V294h1V296h1V284h1V300h1V299h1V298h1V300h1V291h1V303h1V287h1V295h1V307h1V305h1V332h-1V328h-1V330h-1V330h-1V331h-1V331h-1V330h-1V330h-1V332h-1V333h-1V333h-1V330h-1V333h-1V330h-1V334h-1V333h-1V335h-1V334h-1V336h-1V336h-1V337h-1V337h-1V337h-1V336h-1V334h-1V334h-1V333h-1V332h-1V332h-1V330h-1V332h-1V332h-1V330h-1V332h-1V330h-1V332h-1V331h-1V331h-1V333h-1V335h-1Z" fill="#88b3da"/>
<path transform="translate(328.8 0)scale(3.128 1)" d="M0 327V270h1V295h1V310h1V310h1V308h1V307h1V309h1V308h1V307h1V307h1V305h1V303h1V303h1V302h1V299h1V293h1V288h1V283h1V274h1V273h1V279h1V282h1V285h1V291h1V300h1V301h1V301h1V301h1V302h1V302h1V306h1V305h1V306h1V306h1V308h1V308h1V310h1V311h1V313h1V311h1V325h-1V326h-1V325h-1V325h-1V326h-1V326h-1V326h-1V327h-1V325h-1V326h-1V326h-1V326h-1V325h-1V327h-1V326h-1V327h-1V326h-1V326h-1V326h-1V325h-1V326h-1V326h-1V326h-1V326h-1V325h-1V325h-1V325h-1V326h-1V327h-1V325h-1V327h-1V326h-1V327h-1V326h-1V325h-1V325h-1V325h-1V325h-1V325h-1V327h-1Z" fill="#cdb498"/>
<path transform="translate(328.8 0)scale(3.128 1)" d="M0 322V280h1V300h1V313h1V313h1V311h1V310h1V312h1V311h1V311h1V310h1V309h1V307h1V307h1V306h1V302h1V298h1V294h1V290h1V282h1V283h1V287h1V289h1V292h1V296h1V305h1V306h1V305h1V306h1V307h1V306h1V308h1V309h1V310h1V310h1V311h1V311h1V312h1V314h1V316h1V314h1V322h-1V322h-1V322h-1V322h-1V322h-1V322h-1V322h-1V322h-1V322h-1V322h-1V322h-1V322h-1V322h-1V322h-1V322h-1V322h-1V322h-1V322h-1V322h-1V322h-1V322h-1V322h-1V322h-1V322h-1V322h-1V322h-1V322h-1V322h-1V322h-1V322h-1V322h-1V322h-1V322h-1V322h-1V322h-1V322h-1V322h-1V322h-1V322h-1V322h-1Z" fill="#b3cfd4"/>
<path d="M345.5 256.1V335M374.7 256.1V335M403.9 256.1V335M418.5 256.1V335M327.7 304.1H450.1M327.7 287.2H450.1" stroke="#bababa" stroke-width="1.1" fill="none"/>
<path d="M330.6 256.1V335M389 256.1V335M447.4 256.1V335" stroke="#ff0000" stroke-opacity="0.5" stroke-width="5" fill="none"/>
<path d="M365.5 321L375.9 319.9L383.5 318.9L389.3 320.3L392.6 321.6" fill="none" stroke="#f00" stroke-opacity="0.4" stroke-width="5" stroke-linejoin="round"/>
<g fill="#000" stroke="#000" stroke-linejoin="round"><path d="M330.9 293.1l0.5 0 0.8 22 1.6 3 1.6 1 1.6-1 1.6 0 1.6-2 1.6 2 1.6-1 1.6-1 1.6 0 1.6 0 1.6 0 1.6 0 1.6-1 1.6 2 1.6-3 1.6 2 1.6-2 1.6 1 1.6 0 1.6-2 1.6 1 1.6-2 1.6 1 1.6-1 1.6-2 1.6 0 1.6 0 1.6-1 1.6-1 1.6-3 1.6-2 1.6-3 1.6 0 1.6-6 1.6 0 1.6-2 1.6 4 1.6 2 1.6 0 1.6 1 1.6 1 1.6 2 1.6 2 1.6 6 1.6 1 1.6 1 1.6-1 1.6 2 1.6-3 1.6 1 1.6 2 1.6-1 1.6 1 1.6-1 1.6 0 1.6 2 1.6 0 1.6-1 1.6 0 1.6 2 1.6-1 1.6 2 1.6-1 1.6 0 1.6 2 1.6-1 1.6 0 1.6 1 1.6 0 1.6 2 1.6-1 1.6 1 1.6 0 0 3-1.6-1-1.6-1-1.6 2-1.6-3-1.6 0-1.6 0-1.6 0-1.6 1-1.6-3-1.6 3-1.6-1-1.6-1-1.6 0-1.6 0-1.6-1-1.6-1-1.6 1-1.6-1-1.6 1-1.6 1-1.6-1-1.6 0-1.6-1-1.6-1-1.6 2-1.6-1-1.6 0-1.6 0-1.6-2-1.6-3-1.6-4-1.6 0-1.6 2-1.6-2-1.6-2-1.6-1-1.6-4-1.6 6-1.6-4-1.6 5-1.6-1-1.6 4-1.6 1-1.6 1-1.6 1-1.6 2-1.6 0-1.6-2-1.6 4-1.6 1-1.6-2-1.6 1-1.6 1-1.6-1-1.6 1-1.6-1-1.6 3-1.6-2-1.6 2-1.6-2-1.6 2-1.6-1-1.6 1-1.6-1-1.6 0-1.6 2-1.6 0-1.6-2-1.6 1-1.6 0-1.6 1-1.6-1-1.6-1-0.8-22-0.5 0Z" stroke-width="8.4"/></g>
</g>
<path d="M321.9 251H455.9V339.9H321.9ZM327.7 256.1V335H450.1V256.1Z" fill="#ff0000" fill-rule="evenodd"/>
<path d="M306.3 253.4H321.9M306.3 321H321.9" stroke="#ff0000" stroke-width="4.8"/>
<path d="M314.2 304.1H321.9M314.2 287.2H321.9M314.2 270.3H321.9" stroke="#000" stroke-width="3"/>
<path d="M330.9 339.9V355.9M389.3 339.9V355.9M447.7 339.9V355.9" stroke="#ff0000" stroke-width="4.3"/>
<path d="M345.5 339.9V348.7M360.1 339.9V348.7M374.7 339.9V348.7M403.9 339.9V348.7M418.5 339.9V348.7M433.1 339.9V348.7" stroke="#000" stroke-width="2.9"/>
</g>
<g transform="translate(0,235.8)">
<g clip-path="url(#pc)">
<path transform="translate(328.8 0)scale(3.128 1)" d="M0 333V288h1V289h1V306h1V307h1V303h1V303h1V301h1V282h1V300h1V299h1V298h1V289h1V259h1V276h1V250h1V250h1V250h1V264h1V251h1V250h1V259h1V266h1V271h1V287h1V301h1V288h1V303h1V296h1V310h1V321h1V321h-1V328h-1V331h-1V330h-1V330h-1V330h-1V332h-1V331h-1V332h-1V332h-1V333h-1V333h-1V335h-1V335h-1V331h-1V334h-1V334h-1V333h-1V332h-1V333h-1V330h-1V331h-1V330h-1V330h-1V330h-1V332h-1V330h-1V329h-1V329h-1V333h-1Z" fill="#88b3da"/>
<path transform="translate(328.8 0)scale(3.128 1)" d="M0 327V276h1V298h1V310h1V311h1V308h1V308h1V307h1V306h1V307h1V306h1V304h1V296h1V294h1V289h1V286h1V280h1V278h1V278h1V281h1V277h1V270h1V276h1V283h1V296h1V308h1V310h1V309h1V308h1V313h1V321h1V321h-1V325h-1V327h-1V326h-1V326h-1V325h-1V325h-1V325h-1V325h-1V326h-1V327h-1V326h-1V325h-1V325h-1V325h-1V326h-1V325h-1V326h-1V325h-1V325h-1V326h-1V325h-1V326h-1V325h-1V325h-1V325h-1V326h-1V325h-1V326h-1V327h-1Z" fill="#cdb498"/>
<path transform="translate(328.8 0)scale(3.128 1)" d="M0 322V286h1V304h1V314h1V314h1V312h1V312h1V311h1V309h1V310h1V309h1V308h1V303h1V301h1V298h1V294h1V291h1V287h1V287h1V290h1V287h1V281h1V285h1V291h1V300h1V311h1V312h1V312h1V312h1V316h1V321h1V321h-1V322h-1V322h-1V322h-1V322h-1V322h-1V322h-1V322h-1V322h-1V322h-1V322h-1V322h-1V322h-1V322h-1V322h-1V322h-1V322h-1V322h-1V322h-1V322h-1V322h-1V322h-1V322h-1V322h-1V322h-1V322h-1V322h-1V322h-1V322h-1V322h-1Z" fill="#b3cfd4"/>
<path d="M345.5 256.1V335M374.7 256.1V335M418.5 256.1V335M433.1 256.1V335M327.7 287.2H450.1M327.7 270.3H450.1" stroke="#bababa" stroke-width="1.1" fill="none"/>
<path d="M330.6 256.1V335M389 256.1V335M447.4 256.1V335" stroke="#ff0000" stroke-opacity="0.5" stroke-width="5" fill="none"/>
<path d="M372.6 321L383 319.9L390.5 318.9L396.4 320.3L399.7 321.6" fill="none" stroke="#f00" stroke-opacity="0.4" stroke-width="5" stroke-linejoin="round"/>
<g fill="#000" stroke="#000" stroke-linejoin="round"><path d="M330.9 295.6l0.5 0 0.8 19 1.6 3 1.6 0 1.6-1 1.6 0 1.6 0 1.6 0 1.6 1 1.6-2 1.6 1 1.6-1 1.6-1 1.6 1 1.6-2 1.6 1 1.6 0 1.6 0 1.6-1 1.6 1 1.6-3 1.6 0 1.6-3 1.6-1 1.6 2 1.6-4 1.6-2 1.6 1 1.6-3 1.6 0 1.6 0 1.6 1 1.6-5 1.6 3 1.6 0 1.6-1 1.6 3 1.6 0 1.6-4 1.6 1 1.6-1 1.6 0 1.6 5 1.6 2 1.6 2 1.6 3 1.6 5 1.6-1 1.6 0 1.6 1 1.6 0 1.6 0 1.6 1 1.6-1 1.6 3 1.6 0 1.6 2 0.8 0 29.2 0 0 0-29.2 0-0.8 1-1.6 0-1.6-1-1.6-2-1.6 1-1.6-1-1.6 1-1.6 1-1.6-1-1.6 0-1.6 1-1.6-5-1.6 0-1.6-1-1.6-2-1.6-3-1.6 1-1.6-3-1.6-1-1.6 7-1.6-1-1.6-6-1.6 2-1.6 0-1.6-1-1.6 6-1.6-2-1.6 0-1.6 0-1.6 1-1.6 0-1.6 2-1.6 2-1.6-3-1.6-1-1.6 3-1.6 1-1.6 2-1.6 1-1.6 1-1.6 0-1.6-2-1.6-1-1.6 2-1.6-2-1.6 1-1.6 2-1.6-2-1.6 2-1.6 0-1.6-1-1.6 0-1.6 1-1.6 0-1.6 0-1.6-1-0.8-21-0.5 0Z" stroke-width="8.4"/></g>
</g>
<path d="M321.9 251H455.9V339.9H321.9ZM327.7 256.1V335H450.1V256.1Z" fill="#ff0000" fill-rule="evenodd"/>
<path d="M306.3 253.4H321.9M306.3 321H321.9" stroke="#ff0000" stroke-width="4.8"/>
<path d="M314.2 304.1H321.9M314.2 287.2H321.9M314.2 270.3H321.9" stroke="#000" stroke-width="3"/>
<path d="M330.9 339.9V355.9M389.3 339.9V355.9M447.7 339.9V355.9" stroke="#ff0000" stroke-width="4.3"/>
<path d="M345.5 339.9V348.7M360.1 339.9V348.7M374.7 339.9V348.7M403.9 339.9V348.7M418.5 339.9V348.7M433.1 339.9V348.7" stroke="#000" stroke-width="2.9"/>
</g>
<g transform="translate(179.5,235.8)">
<g clip-path="url(#pc)">
<path transform="translate(328.8 0)scale(3.128 1)" d="M0 331V287h1V286h1V301h1V301h1V298h1V299h1V284h1V300h1V296h1V298h1V295h1V276h1V275h1V265h1V279h1V250h1V250h1V270h1V276h1V268h1V272h1V250h1V279h1V252h1V257h1V292h1V297h1V286h1V286h1V302h1V290h1V305h1V291h1V301h1V317h1V321h1V321h-1V324h-1V330h-1V329h-1V331h-1V330h-1V330h-1V333h-1V331h-1V333h-1V332h-1V332h-1V334h-1V331h-1V332h-1V331h-1V332h-1V332h-1V332h-1V336h-1V335h-1V335h-1V333h-1V330h-1V330h-1V332h-1V331h-1V332h-1V331h-1V332h-1V330h-1V329h-1V329h-1V333h-1V333h-1V331h-1Z" fill="#88b3da"/>
<path transform="translate(328.8 0)scale(3.128 1)" d="M0 326V273h1V294h1V307h1V307h1V306h1V305h1V305h1V304h1V302h1V304h1V302h1V300h1V301h1V295h1V289h1V281h1V281h1V281h1V288h1V281h1V283h1V283h1V287h1V290h1V294h1V298h1V303h1V303h1V306h1V307h1V308h1V311h1V312h1V313h1V318h1V321h1V321h-1V323h-1V325h-1V326h-1V326h-1V326h-1V326h-1V325h-1V326h-1V326h-1V326h-1V325h-1V325h-1V325h-1V324h-1V325h-1V326h-1V325h-1V325h-1V325h-1V325h-1V326h-1V327h-1V326h-1V326h-1V325h-1V325h-1V326h-1V326h-1V326h-1V326h-1V325h-1V325h-1V326h-1V326h-1V326h-1Z" fill="#cdb498"/>
<path transform="translate(328.8 0)scale(3.128 1)" d="M0 322V279h1V299h1V310h1V310h1V309h1V309h1V309h1V309h1V308h1V308h1V306h1V304h1V306h1V302h1V297h1V291h1V290h1V290h1V296h1V291h1V291h1V292h1V293h1V297h1V301h1V304h1V307h1V308h1V310h1V311h1V311h1V313h1V314h1V316h1V319h1V321h1V321h-1V322h-1V322h-1V322h-1V322h-1V322h-1V322h-1V322h-1V322h-1V322h-1V322h-1V322h-1V322h-1V322h-1V322h-1V322h-1V322h-1V322h-1V322h-1V322h-1V322h-1V322h-1V322h-1V322h-1V322h-1V322h-1V322h-1V322h-1V322h-1V322h-1V322h-1V322h-1V322h-1V322h-1V322h-1V322h-1Z" fill="#b3cfd4"/>
<path d="M360.1 256.1V335M403.9 256.1V335M433.1 256.1V335M327.7 287.2H450.1M327.7 270.3H450.1" stroke="#bababa" stroke-width="1.1" fill="none"/>
<path d="M330.6 256.1V335M389 256.1V335M447.4 256.1V335" stroke="#ff0000" stroke-opacity="0.5" stroke-width="5" fill="none"/>
<path d="M369.7 321L380.1 319.9L387.6 318.9L393.5 320.3L396.8 321.6" fill="none" stroke="#f00" stroke-opacity="0.4" stroke-width="5" stroke-linejoin="round"/>
<g fill="#000" stroke="#000" stroke-linejoin="round"><path d="M330.9 292.5l0.5 0 0.8 22 1.6 1 1.6 1 1.6 0 1.6-1 1.6 0 1.6-1 1.6 1 1.6 0 1.6-1 1.6 0 1.6 0 1.6 0 1.6 0 1.6 1 1.6-1 1.6 0 1.6 0 1.6-1 1.6 0 1.6 0 1.6 0 1.6-1 1.6 0 1.6 1 1.6-4 1.6-2 1.6-2 1.6-3 1.6 0 1.6-2 1.6 1 1.6 1 1.6 3 1.6 3 1.6-3 1.6-3 1.6-4 1.6 3 1.6-1 1.6 0 1.6 3 1.6 0 1.6 0 1.6 2 1.6 3 1.6 1 1.6 0 1.6 1 1.6 0 1.6 3 1.6 1 1.6 1 1.6 0 1.6 0 1.6 2 1.6 0 1.6 0 1.6 2 1.6 0 1.6-1 1.6 2 1.6 0 1.6 1 1.6 0 1.6-1 1.6 2 1.1-1 11.3 0 0 0-11.3 0-1.1 1-1.6 0-1.6 0-1.6 0-1.6 0-1.6 0-1.6-1-1.6 1-1.6 0-1.6-2-1.6 1-1.6-1-1.6-1-1.6 1-1.6 0-1.6 0-1.6-1-1.6-3-1.6 1-1.6 0-1.6-1-1.6 0-1.6-4-1.6-2-1.6 0-1.6 3-1.6-4-1.6-1-1.6 3-1.6-5-1.6 5-1.6 3-1.6 3-1.6-2-1.6-3-1.6-2-1.6-1-1.6 1-1.6 0-1.6 2-1.6 4-1.6-1-1.6 3-1.6-2-1.6 1-1.6 1-1.6-1-1.6 3-1.6-1-1.6 0-1.6 0-1.6-1-1.6 2-1.6-1-1.6-1-1.6-1-1.6 1-1.6 1-1.6 2-1.6 0-1.6-3-1.6 3-1.6 0-1.6 0-1.6-2-1.6 1-1.6-1-0.8-23-0.5 0Z" stroke-width="8.4"/></g>
</g>
<path d="M321.9 251H455.9V339.9H321.9ZM327.7 256.1V335H450.1V256.1Z" fill="#ff0000" fill-rule="evenodd"/>
<path d="M306.3 253.4H321.9M306.3 321H321.9" stroke="#ff0000" stroke-width="4.8"/>
<path d="M314.2 304.1H321.9M314.2 287.2H321.9M314.2 270.3H321.9" stroke="#000" stroke-width="3"/>
<path d="M330.9 339.9V355.9M389.3 339.9V355.9M447.7 339.9V355.9" stroke="#ff0000" stroke-width="4.3"/>
<path d="M345.5 339.9V348.7M360.1 339.9V348.7M374.7 339.9V348.7M403.9 339.9V348.7M418.5 339.9V348.7M433.1 339.9V348.7" stroke="#000" stroke-width="2.9"/>
</g>
<g transform="translate(359,235.8)">
<g clip-path="url(#pc)">
<path transform="translate(328.8 0)scale(3.128 1)" d="M0 332V288h1V287h1V288h1V305h1V289h1V290h1V289h1V303h1V303h1V299h1V302h1V299h1V299h1V301h1V297h1V295h1V292h1V278h1V285h1V286h1V283h1V275h1V270h1V250h1V269h1V263h1V269h1V274h1V287h1V282h1V298h1V299h1V308h1V321h1V321h-1V326h-1V330h-1V333h-1V330h-1V330h-1V331h-1V335h-1V335h-1V334h-1V333h-1V334h-1V335h-1V333h-1V334h-1V333h-1V333h-1V333h-1V331h-1V332h-1V332h-1V332h-1V331h-1V330h-1V332h-1V333h-1V332h-1V331h-1V331h-1V329h-1V332h-1V330h-1V332h-1V332h-1Z" fill="#88b3da"/>
<path transform="translate(328.8 0)scale(3.128 1)" d="M0 325V278h1V298h1V310h1V310h1V309h1V308h1V308h1V307h1V308h1V306h1V308h1V307h1V306h1V307h1V303h1V302h1V299h1V296h1V293h1V295h1V293h1V286h1V282h1V281h1V282h1V277h1V279h1V285h1V296h1V301h1V304h1V310h1V316h1V321h1V321h-1V324h-1V325h-1V326h-1V326h-1V326h-1V325h-1V325h-1V326h-1V326h-1V325h-1V325h-1V326h-1V326h-1V325h-1V325h-1V326h-1V326h-1V325h-1V325h-1V325h-1V325h-1V326h-1V327h-1V326h-1V327h-1V326h-1V325h-1V327h-1V326h-1V326h-1V326h-1V326h-1V325h-1Z" fill="#cdb498"/>
<path transform="translate(328.8 0)scale(3.128 1)" d="M0 322V287h1V303h1V314h1V313h1V313h1V312h1V311h1V310h1V311h1V310h1V311h1V310h1V310h1V310h1V307h1V307h1V305h1V301h1V300h1V300h1V298h1V294h1V292h1V290h1V291h1V286h1V285h1V291h1V300h1V304h1V308h1V314h1V318h1V321h1V321h-1V322h-1V322h-1V322h-1V322h-1V322h-1V322h-1V322h-1V322h-1V322h-1V322h-1V322h-1V322h-1V322h-1V322h-1V322h-1V322h-1V322h-1V322h-1V322h-1V322h-1V322h-1V322h-1V322h-1V322h-1V322h-1V322h-1V322h-1V322h-1V322h-1V322h-1V322h-1V322h-1V322h-1Z" fill="#b3cfd4"/>
<path d="M345.5 256.1V335M374.7 256.1V335M418.5 256.1V335M327.7 287.2H450.1M327.7 270.3H450.1" stroke="#bababa" stroke-width="1.1" fill="none"/>
<path d="M330.6 256.1V335M389 256.1V335M447.4 256.1V335" stroke="#ff0000" stroke-opacity="0.5" stroke-width="5" fill="none"/>
<path d="M387.6 321L398.1 319.9L405.6 318.9L411.4 320.3L414.7 321.6" fill="none" stroke="#f00" stroke-opacity="0.4" stroke-width="5" stroke-linejoin="round"/>
<g fill="#000" stroke="#000" stroke-linejoin="round"><path d="M330.9 292.5l0.5 0 0.8 23 1.6 3 1.6 0 1.6 0 1.6-1 1.6 0 1.6 0 1.6 0 1.6-1 1.6 1 1.6 0 1.6 0 1.6 0 1.6-2 1.6 0 1.6 1 1.6-2 1.6 1 1.6 0 1.6 1 1.6-1 1.6 0 1.6 0 1.6 0 1.6-1 1.6-1 1.6 1 1.6-2 1.6 0 1.6 1 1.6-1 1.6-2 1.6 1 1.6-1 1.6 0 1.6-2 1.6 1 1.6-2 1.6-2 1.6 0 1.6-1 1.6-1 1.6-2 1.6 0 1.6-2 1.6 2 1.6-2 1.6-3 1.6 2 1.6-1 1.6 2 1.6 3 1.6 2 1.6 3 1.6 1 1.6 3 1.6 2 1.6 0 1.6 3 1.6 3 1.6 1 1.6 0 1.6 2 1.6-1 0.5 0 16.7 0 0 0-16.7 0-0.5 1-1.6-1-1.6 1-1.6-1-1.6 1-1.6-3-1.6 0-1.6 0-1.6-2-1.6-2-1.6-2-1.6-3-1.6 1-1.6-4-1.6-2-1.6 2-1.6-2-1.6 5-1.6 0-1.6-2-1.6 4-1.6 0-1.6-1-1.6 0-1.6 0-1.6-1-1.6 5-1.6 0-1.6 1-1.6 1-1.6-1-1.6 1-1.6-1-1.6 2-1.6 1-1.6 0-1.6-1-1.6 2-1.6-2-1.6 0-1.6 1-1.6-1-1.6 2-1.6-1-1.6 1-1.6 0-1.6 0-1.6-2-1.6 3-1.6-1-1.6-1-1.6 2-1.6 0-1.6 1-1.6-2-1.6-1-1.6 1-1.6 1-1.6-1-1.6 1-1.6 0-1.6 0-1.6 1-1.6-3-0.8-23-0.5 0Z" stroke-width="8.4"/></g>
</g>
<path d="M321.9 251H455.9V339.9H321.9ZM327.7 256.1V335H450.1V256.1Z" fill="#ff0000" fill-rule="evenodd"/>
<path d="M306.3 253.4H321.9M306.3 321H321.9" stroke="#ff0000" stroke-width="4.8"/>
<path d="M314.2 304.1H321.9M314.2 287.2H321.9M314.2 270.3H321.9" stroke="#000" stroke-width="3"/>
<path d="M330.9 339.9V355.9M389.3 339.9V355.9M447.7 339.9V355.9" stroke="#ff0000" stroke-width="4.3"/>
<path d="M345.5 339.9V348.7M360.1 339.9V348.7M374.7 339.9V348.7M403.9 339.9V348.7M418.5 339.9V348.7M433.1 339.9V348.7" stroke="#000" stroke-width="2.9"/>
</g>
<g transform="translate(538.5,235.8)">
<g clip-path="url(#pc)">
<path transform="translate(328.8 0)scale(3.128 1)" d="M0 337V290h1V291h1V309h1V306h1V294h1V304h1V303h1V303h1V299h1V279h1V295h1V293h1V290h1V266h1V286h1V280h1V276h1V259h1V256h1V271h1V266h1V264h1V268h1V255h1V254h1V278h1V283h1V265h1V272h1V286h1V298h1V313h1V319h1V322h-1V327h-1V330h-1V331h-1V331h-1V333h-1V332h-1V332h-1V331h-1V334h-1V333h-1V335h-1V332h-1V331h-1V332h-1V333h-1V331h-1V334h-1V331h-1V333h-1V330h-1V329h-1V330h-1V329h-1V331h-1V333h-1V333h-1V332h-1V333h-1V332h-1V330h-1V332h-1V337h-1Z" fill="#88b3da"/>
<path transform="translate(328.8 0)scale(3.128 1)" d="M0 326V282h1V302h1V312h1V310h1V309h1V309h1V309h1V308h1V306h1V306h1V304h1V302h1V300h1V298h1V294h1V292h1V289h1V285h1V286h1V281h1V277h1V278h1V280h1V283h1V287h1V287h1V293h1V297h1V303h1V307h1V310h1V316h1V320h1V322h-1V324h-1V326h-1V326h-1V325h-1V325h-1V326h-1V327h-1V327h-1V326h-1V327h-1V325h-1V327h-1V326h-1V326h-1V326h-1V327h-1V326h-1V326h-1V326h-1V325h-1V325h-1V326h-1V325h-1V326h-1V326h-1V325h-1V326h-1V326h-1V327h-1V326h-1V326h-1V326h-1Z" fill="#cdb498"/>
<path transform="translate(328.8 0)scale(3.128 1)" d="M0 322V286h1V305h1V314h1V313h1V313h1V313h1V312h1V312h1V310h1V310h1V309h1V307h1V305h1V303h1V302h1V298h1V296h1V294h1V293h1V289h1V288h1V288h1V290h1V293h1V294h1V294h1V299h1V303h1V307h1V309h1V312h1V317h1V321h1V321h-1V322h-1V322h-1V322h-1V322h-1V322h-1V322h-1V322h-1V322h-1V322h-1V322h-1V322h-1V322h-1V322h-1V322h-1V322h-1V322h-1V322h-1V322h-1V322h-1V322h-1V322h-1V322h-1V322h-1V322h-1V322h-1V322h-1V322h-1V322h-1V322h-1V322h-1V322h-1V322h-1Z" fill="#b3cfd4"/>
<path d="M345.5 256.1V335M360.1 256.1V335M403.9 256.1V335M327.7 287.2H450.1M327.7 270.3H450.1" stroke="#bababa" stroke-width="1.1" fill="none"/>
<path d="M330.6 256.1V335M389 256.1V335M447.4 256.1V335" stroke="#ff0000" stroke-opacity="0.5" stroke-width="5" fill="none"/>
<path d="M370.9 321L381.4 319.9L388.9 318.9L394.7 320.3L398.1 321.6" fill="none" stroke="#f00" stroke-opacity="0.4" stroke-width="5" stroke-linejoin="round"/>
<g fill="#000" stroke="#000" stroke-linejoin="round"><path d="M330.9 294.6l0.5 0 0.8 21 1.6 1 1.6 0 1.6 2 1.6-2 1.6 0 1.6 1 1.6-1 1.6-1 1.6 1 1.6 0 1.6 0 1.6 0 1.6 0 1.6 0 1.6 0 1.6 0 1.6-2 1.6-2 1.6 1 1.6-2 1.6 0 1.6 1 1.6-1 1.6-1 1.6 0 1.6-1 1.6-2 1.6-1 1.6 1 1.6-1 1.6-2 1.6 0 1.6-2 1.6 2 1.6-2 1.6-3 1.6-2 1.6-1 1.6 3 1.6-2 1.6 3 1.6 3 1.6-1 1.6 0 1.6 1 1.6-1 1.6-2 1.6 4 1.6 0 1.6 3 1.6 1 1.6 2 1.6 2 1.6-1 1.6 2 1.6 2 1.6 1 1.6 1 1.6 3 1.6 0 1.6 0 1.2 0 19.2 0 0 0-19.2 0-1.2 1-1.6 0-1.6 0-1.6 0-1.6-2-1.6 0-1.6 0-1.6-4-1.6 2-1.6-1-1.6-3-1.6 2-1.6-4-1.6 0-1.6 0-1.6 0-1.6-1-1.6 1-1.6 0-1.6 0-1.6 1-1.6-3-1.6 1-1.6-3-1.6 1-1.6-2-1.6 3-1.6 4-1.6-1-1.6 1-1.6-2-1.6 1-1.6 3-1.6-2-1.6 0-1.6 4-1.6-2-1.6 2-1.6-2-1.6 3-1.6 0-1.6-2-1.6 2-1.6 0-1.6 1-1.6 1-1.6 1-1.6 0-1.6-1-1.6 0-1.6 1-1.6-1-1.6-1-1.6 2-1.6 0-1.6 0-1.6 0-1.6-2-1.6 2-1.6-1-1.6 0-1.6 1-0.8-24-0.5 0Z" stroke-width="8.4"/></g>
</g>
<path d="M321.9 251H455.9V339.9H321.9ZM327.7 256.1V335H450.1V256.1Z" fill="#ff0000" fill-rule="evenodd"/>
<path d="M306.3 253.4H321.9M306.3 321H321.9" stroke="#ff0000" stroke-width="4.8"/>
<path d="M314.2 304.1H321.9M314.2 287.2H321.9M314.2 270.3H321.9" stroke="#000" stroke-width="3"/>
<path d="M330.9 339.9V355.9M389.3 339.9V355.9M447.7 339.9V355.9" stroke="#ff0000" stroke-width="4.3"/>
<path d="M345.5 339.9V348.7M360.1 339.9V348.7M374.7 339.9V348.7M403.9 339.9V348.7M418.5 339.9V348.7M433.1 339.9V348.7" stroke="#000" stroke-width="2.9"/>
</g>
<g transform="translate(718,235.8)">
<g clip-path="url(#pc)">
<path transform="translate(328.8 0)scale(3.128 1)" d="M0 335V288h1V289h1V310h1V301h1V311h1V309h1V309h1V308h1V310h1V310h1V295h1V308h1V306h1V291h1V300h1V298h1V271h1V291h1V288h1V281h1V250h1V268h1V261h1V250h1V265h1V250h1V250h1V279h1V282h1V272h1V270h1V299h1V306h1V297h1V314h1V321h1V321h-1V326h-1V331h-1V329h-1V331h-1V330h-1V333h-1V331h-1V333h-1V336h-1V335h-1V337h-1V336h-1V335h-1V336h-1V336h-1V335h-1V334h-1V333h-1V334h-1V332h-1V332h-1V330h-1V331h-1V328h-1V329h-1V332h-1V332h-1V331h-1V329h-1V331h-1V331h-1V329h-1V332h-1V331h-1V335h-1Z" fill="#88b3da"/>
<path transform="translate(328.8 0)scale(3.128 1)" d="M0 326V276h1V299h1V315h1V316h1V315h1V314h1V314h1V313h1V314h1V314h1V313h1V313h1V312h1V311h1V309h1V305h1V302h1V300h1V297h1V290h1V283h1V278h1V272h1V272h1V277h1V273h1V284h1V298h1V303h1V301h1V300h1V306h1V311h1V311h1V317h1V321h1V321h-1V323h-1V325h-1V325h-1V326h-1V326h-1V327h-1V327h-1V326h-1V326h-1V325h-1V326h-1V326h-1V326h-1V326h-1V326h-1V326h-1V326h-1V327h-1V326h-1V326h-1V326h-1V326h-1V325h-1V325h-1V325h-1V325h-1V326h-1V325h-1V325h-1V325h-1V326h-1V326h-1V326h-1V326h-1V326h-1Z" fill="#cdb498"/>
<path transform="translate(328.8 0)scale(3.128 1)" d="M0 322V282h1V303h1V317h1V318h1V317h1V316h1V316h1V315h1V316h1V316h1V316h1V315h1V315h1V314h1V312h1V309h1V306h1V303h1V301h1V297h1V291h1V289h1V283h1V283h1V285h1V283h1V290h1V302h1V307h1V306h1V305h1V309h1V314h1V315h1V319h1V321h1V321h-1V321h-1V322h-1V322h-1V322h-1V322h-1V322h-1V322h-1V322h-1V322h-1V322h-1V322h-1V322h-1V322h-1V322h-1V322h-1V322h-1V322h-1V322h-1V322h-1V322h-1V322h-1V322h-1V322h-1V322h-1V322h-1V322h-1V322h-1V322h-1V322h-1V322h-1V322h-1V322h-1V322h-1V322h-1V322h-1Z" fill="#b3cfd4"/>
<path d="M360.1 256.1V335M374.7 256.1V335M403.9 256.1V335M433.1 256.1V335M327.7 287.2H450.1M327.7 270.3H450.1" stroke="#bababa" stroke-width="1.1" fill="none"/>
<path d="M330.6 256.1V335M389 256.1V335M447.4 256.1V335" stroke="#ff0000" stroke-opacity="0.5" stroke-width="5" fill="none"/>
<path d="M384.7 321L395.1 319.9L402.6 318.9L408.5 320.3L411.8 321.6" fill="none" stroke="#f00" stroke-opacity="0.4" stroke-width="5" stroke-linejoin="round"/>
<g fill="#000" stroke="#000" stroke-linejoin="round"><path d="M330.9 294.6l0.5 0 0.8 20 1.6 4 1.6 1 1.6 2 1.6-2 1.6 0 1.6 1 1.6 0 1.6-1 1.6 0 1.6 1 1.6-2 1.6 1 1.6 0 1.6 0 1.6-1 1.6 0 1.6-1 1.6 2 1.6 0 1.6-2 1.6 1 1.6-1 1.6 1 1.6 1 1.6-2 1.6 2 1.6-3 1.6-1 1.6-1 1.6-3 1.6-2 1.6 1 1.6-4 1.6 0 1.6 0 1.6-1 1.6-4 1.6-1 1.6 1 1.6-4 1.6 4 1.6-4 1.6-2 1.6 1 1.6 1 1.6-5 1.6 3 1.6-1 1.6 8 1.6 3 1.6 4 1.6 4 1.6 0 1.6 1 1.6-1 1.6-3 1.6 1 1.6 3 1.6 2 1.6 1 1.6 0 1.6 1 1.6 2 1.6-1 1.6 1 1.6 0 1.5 0 10.9 0 0 0-10.9 0-1.5 0-1.6 1-1.6-1-1.6 0-1.6 0-1.6 0-1.6 0-1.6 0-1.6 0-1.6-4-1.6 0-1.6 1-1.6 2-1.6-2-1.6 1-1.6-3-1.6-2-1.6-1-1.6-8-1.6 4-1.6-2-1.6 2-1.6 0-1.6-5-1.6 7-1.6 0-1.6-6-1.6 6-1.6-4-1.6 4-1.6 2-1.6 1-1.6 2-1.6 0-1.6 2-1.6-3-1.6 2-1.6 2-1.6 1-1.6 1-1.6 0-1.6 0-1.6 1-1.6 0-1.6 0-1.6 0-1.6 0-1.6 0-1.6 0-1.6-1-1.6 1-1.6 0-1.6 0-1.6 0-1.6 0-1.6-1-1.6 0-1.6 1-1.6 0-1.6-1-1.6 1-1.6 0-1.6 0-1.6 0-1.6 0-1.6 0-1.6-4-0.8-20-0.5 0Z" stroke-width="8.4"/></g>
</g>
<path d="M321.9 251H455.9V339.9H321.9ZM327.7 256.1V335H450.1V256.1Z" fill="#ff0000" fill-rule="evenodd"/>
<path d="M306.3 253.4H321.9M306.3 321H321.9" stroke="#ff0000" stroke-width="4.8"/>
<path d="M314.2 304.1H321.9M314.2 287.2H321.9M314.2 270.3H321.9" stroke="#000" stroke-width="3"/>
<path d="M330.9 339.9V355.9M389.3 339.9V355.9M447.7 339.9V355.9" stroke="#ff0000" stroke-width="4.3"/>
<path d="M345.5 339.9V348.7M360.1 339.9V348.7M374.7 339.9V348.7M403.9 339.9V348.7M418.5 339.9V348.7M433.1 339.9V348.7" stroke="#000" stroke-width="2.9"/>
</g>
<g transform="translate(897.5,235.8)">
<g clip-path="url(#pc)">
<path transform="translate(328.8 0)scale(3.128 1)" d="M0 337V286h1V287h1V303h1V292h1V303h1V305h1V305h1V294h1V303h1V298h1V293h1V292h1V294h1V290h1V286h1V276h1V250h1V266h1V270h1V258h1V253h1V261h1V261h1V263h1V277h1V286h1V268h1V292h1V296h1V302h1V302h1V297h1V295h1V310h1V312h1V321h1V321h-1V325h-1V328h-1V331h-1V330h-1V332h-1V329h-1V331h-1V333h-1V335h-1V335h-1V335h-1V336h-1V332h-1V333h-1V334h-1V332h-1V333h-1V335h-1V333h-1V334h-1V334h-1V330h-1V331h-1V332h-1V333h-1V330h-1V332h-1V331h-1V329h-1V328h-1V328h-1V330h-1V331h-1V333h-1V337h-1Z" fill="#88b3da"/>
<path transform="translate(328.8 0)scale(3.128 1)" d="M0 327V269h1V296h1V310h1V309h1V309h1V311h1V311h1V311h1V309h1V304h1V299h1V299h1V300h1V299h1V295h1V287h1V282h1V276h1V282h1V285h1V284h1V273h1V272h1V273h1V283h1V293h1V295h1V300h1V302h1V306h1V307h1V310h1V311h1V313h1V318h1V321h1V321h-1V324h-1V326h-1V326h-1V325h-1V326h-1V325h-1V326h-1V325h-1V326h-1V326h-1V326h-1V325h-1V325h-1V325h-1V326h-1V326h-1V326h-1V325h-1V327h-1V326h-1V326h-1V327h-1V327h-1V326h-1V325h-1V325h-1V324h-1V325h-1V325h-1V325h-1V325h-1V326h-1V325h-1V325h-1V327h-1Z" fill="#cdb498"/>
<path transform="translate(328.8 0)scale(3.128 1)" d="M0 322V275h1V301h1V313h1V313h1V313h1V315h1V315h1V314h1V311h1V308h1V305h1V305h1V304h1V303h1V300h1V295h1V290h1V286h1V290h1V292h1V290h1V284h1V282h1V283h1V290h1V298h1V301h1V304h1V307h1V310h1V311h1V315h1V314h1V316h1V319h1V321h1V321h-1V322h-1V322h-1V322h-1V322h-1V322h-1V322h-1V322h-1V322h-1V322h-1V322h-1V322h-1V322h-1V322h-1V322h-1V322h-1V322h-1V322h-1V322h-1V322h-1V322h-1V322h-1V322h-1V322h-1V322h-1V322h-1V322h-1V322h-1V322h-1V322h-1V322h-1V322h-1V322h-1V322h-1V322h-1V322h-1Z" fill="#b3cfd4"/>
<path d="M345.5 256.1V335M360.1 256.1V335M374.7 256.1V335M403.9 256.1V335M418.5 256.1V335M327.7 287.2H450.1M327.7 270.3H450.1" stroke="#bababa" stroke-width="1.1" fill="none"/>
<path d="M330.6 256.1V335M389 256.1V335M447.4 256.1V335" stroke="#ff0000" stroke-opacity="0.5" stroke-width="5" fill="none"/>
<path d="M377.6 321L388 319.9L395.6 318.9L401.4 320.3L404.7 321.6" fill="none" stroke="#f00" stroke-opacity="0.4" stroke-width="5" stroke-linejoin="round"/>
<g fill="#000" stroke="#000" stroke-linejoin="round"><path d="M330.9 294.6l0.5 0 0.8 20 1.6 3 1.6 0 1.6 1 1.6-2 1.6 1 1.6 0 1.6 0 1.6 1 1.6-1 1.6 1 1.6-1 1.6 1 1.6-1 1.6-1 1.6 0 1.6-3 1.6 0 1.6-2 1.6-2 1.6 0 1.6 2 1.6-1 1.6-2 1.6 0 1.6 0 1.6 0 1.6-1 1.6-4 1.6-1 1.6-4 1.6 0 1.6-1 1.6 3 1.6 0 1.6 3 1.6 3 1.6-2 1.6-2 1.6-2 1.6-1 1.6-4 1.6-3 1.6-1 1.6 5 1.6 1 1.6 6 1.6 0 1.6 2 1.6 2 1.6 2 1.6 1 1.6 2 1.6 0 1.6 1 1.6 3 1.6 0 1.6-1 1.6 3 1.6-1 1.6 1 1.6 0 1.6 1 1.6 0 1.6 0 1.6 2 1.6-1 1.5 0 10.9 0 0 0-10.9 0-1.5 1-1.6 0-1.6 0-1.6 0-1.6 0-1.6-1-1.6 1-1.6-1-1.6 0-1.6 0-1.6 1-1.6 0-1.6-4-1.6-1-1.6 2-1.6-3-1.6 0-1.6-1-1.6-2-1.6 0-1.6-2-1.6-5-1.6 0-1.6-5-1.6 1-1.6 3-1.6 3-1.6 0-1.6 2-1.6 1-1.6 2-1.6 0-1.6-4-1.6 1-1.6-3-1.6-1-1.6 4-1.6 0-1.6 0-1.6 4-1.6 1-1.6 1-1.6 1-1.6 0-1.6 1-1.6 0-1.6-1-1.6 0-1.6 0-1.6 1-1.6 1-1.6 1-1.6 0-1.6 2-1.6 0-1.6-1-1.6 1-1.6-1-1.6 0-1.6 1-1.6-1-1.6 1-1.6-1-1.6 0-1.6 0-1.6 0-1.6-1-0.8-22-0.5 0Z" stroke-width="8.4"/></g>
</g>
<path d="M321.9 251H455.9V339.9H321.9ZM327.7 256.1V335H450.1V256.1Z" fill="#ff0000" fill-rule="evenodd"/>
<path d="M306.3 253.4H321.9M306.3 321H321.9" stroke="#ff0000" stroke-width="4.8"/>
<path d="M314.2 304.1H321.9M314.2 287.2H321.9M314.2 270.3H321.9" stroke="#000" stroke-width="3"/>
<path d="M330.9 339.9V355.9M389.3 339.9V355.9M447.7 339.9V355.9" stroke="#ff0000" stroke-width="4.3"/>
<path d="M345.5 339.9V348.7M360.1 339.9V348.7M374.7 339.9V348.7M403.9 339.9V348.7M418.5 339.9V348.7M433.1 339.9V348.7" stroke="#000" stroke-width="2.9"/>
</g>
<g transform="translate(1077,235.8)">
<g clip-path="url(#pc)">
<path transform="translate(328.8 0)scale(3.128 1)" d="M0 333V290h1V290h1V309h1V308h1V306h1V294h1V304h1V303h1V299h1V294h1V275h1V277h1V292h1V286h1V284h1V277h1V272h1V250h1V270h1V250h1V262h1V258h1V253h1V250h1V283h1V286h1V261h1V273h1V296h1V288h1V295h1V307h1V315h1V321h1V321h-1V326h-1V329h-1V330h-1V331h-1V333h-1V332h-1V331h-1V330h-1V332h-1V335h-1V335h-1V335h-1V334h-1V334h-1V336h-1V333h-1V333h-1V331h-1V331h-1V331h-1V330h-1V332h-1V331h-1V332h-1V330h-1V331h-1V332h-1V331h-1V331h-1V330h-1V329h-1V333h-1V333h-1Z" fill="#88b3da"/>
<path transform="translate(328.8 0)scale(3.128 1)" d="M0 326V281h1V301h1V313h1V313h1V311h1V309h1V308h1V308h1V306h1V301h1V299h1V299h1V299h1V296h1V294h1V290h1V285h1V284h1V279h1V275h1V275h1V273h1V268h1V274h1V292h1V296h1V295h1V298h1V303h1V307h1V309h1V311h1V317h1V321h1V321h-1V323h-1V325h-1V325h-1V326h-1V325h-1V326h-1V325h-1V326h-1V326h-1V325h-1V326h-1V326h-1V325h-1V326h-1V326h-1V326h-1V326h-1V326h-1V326h-1V326h-1V326h-1V326h-1V326h-1V326h-1V326h-1V326h-1V325h-1V326h-1V325h-1V325h-1V326h-1V325h-1V326h-1Z" fill="#cdb498"/>
<path transform="translate(328.8 0)scale(3.128 1)" d="M0 322V288h1V305h1V316h1V315h1V314h1V312h1V311h1V311h1V309h1V307h1V306h1V304h1V303h1V300h1V300h1V297h1V294h1V293h1V287h1V282h1V281h1V282h1V281h1V283h1V298h1V302h1V300h1V303h1V307h1V311h1V312h1V314h1V318h1V321h1V321h-1V322h-1V322h-1V322h-1V322h-1V322h-1V322h-1V322h-1V322h-1V322h-1V322h-1V322h-1V322h-1V322h-1V322h-1V322h-1V322h-1V322h-1V322h-1V322h-1V322h-1V322h-1V322h-1V322h-1V322h-1V322h-1V322h-1V322h-1V322h-1V322h-1V322h-1V322h-1V322h-1V322h-1Z" fill="#b3cfd4"/>
<path d="M360.1 256.1V335M418.5 256.1V335M433.1 256.1V335M327.7 287.2H450.1M327.7 270.3H450.1" stroke="#bababa" stroke-width="1.1" fill="none"/>
<path d="M330.6 256.1V335M389 256.1V335M447.4 256.1V335" stroke="#ff0000" stroke-opacity="0.5" stroke-width="5" fill="none"/>
<path d="M376.4 321L386.8 319.9L394.3 318.9L400.1 320.3L403.5 321.6" fill="none" stroke="#f00" stroke-opacity="0.4" stroke-width="5" stroke-linejoin="round"/>
<g fill="#000" stroke="#000" stroke-linejoin="round"><path d="M330.9 294.6l0.5 0 0.8 21 1.6 3 1.6 0 1.6 1 1.6 0 1.6-2 1.6 0 1.6-1 1.6 1 1.6 0 1.6-1 1.6-1 1.6-1 1.6 1 1.6 0 1.6 1 1.6-3 1.6 0 1.6 0 1.6-2 1.6-1 1.6 0 1.6 0 1.6-2 1.6 0 1.6-1 1.6-2 1.6-1 1.6-2 1.6 2 1.6-2 1.6 2 1.6-3 1.6-3 1.6 2 1.6-4 1.6 0 1.6-4 1.6 1 1.6 0 1.6-1 1.6 2 1.6-2 1.6 5 1.6 6 1.6 5 1.6 0 1.6-2 1.6 2 1.6-1 1.6 4 1.6-1 1.6 2 1.6 1 1.6 3 1.6-2 1.6 1 1.6 2 1.6 0 1.6 1 1.6 2 1.6 0 1.6 0 1.6-1 0.1 1 17.1 0 0 0-17.1 0-0.1 0-1.6 1-1.6 0-1.6 0-1.6 0-1.6-1-1.6 0-1.6 0-1.6-1-1.6 1-1.6-2-1.6 0-1.6-3-1.6 3-1.6-3-1.6 1-1.6-2-1.6 3-1.6-1-1.6-6-1.6-1-1.6-7-1.6-1-1.6 1-1.6 2-1.6 0-1.6-3-1.6 3-1.6 2-1.6 2-1.6-1-1.6 0-1.6 4-1.6-1-1.6 2-1.6-3-1.6 1-1.6 3-1.6 1-1.6 1-1.6 0-1.6 2-1.6-1-1.6-1-1.6 1-1.6 3-1.6 0-1.6-1-1.6 2-1.6-1-1.6-1-1.6 0-1.6 0-1.6 2-1.6 1-1.6-1-1.6 0-1.6 1-1.6 0-1.6-1-1.6 0-1.6 1-1.6 0-1.6-1-0.8-23-0.5 0Z" stroke-width="8.4"/></g>
</g>
<path d="M321.9 251H455.9V339.9H321.9ZM327.7 256.1V335H450.1V256.1Z" fill="#ff0000" fill-rule="evenodd"/>
<path d="M306.3 253.4H321.9M306.3 321H321.9" stroke="#ff0000" stroke-width="4.8"/>
<path d="M314.2 304.1H321.9M314.2 287.2H321.9M314.2 270.3H321.9" stroke="#000" stroke-width="3"/>
<path d="M330.9 339.9V355.9M389.3 339.9V355.9M447.7 339.9V355.9" stroke="#ff0000" stroke-width="4.3"/>
<path d="M345.5 339.9V348.7M360.1 339.9V348.7M374.7 339.9V348.7M403.9 339.9V348.7M418.5 339.9V348.7M433.1 339.9V348.7" stroke="#000" stroke-width="2.9"/>
</g>
<g transform="translate(1256.5,235.8)">
<g clip-path="url(#pc)">
<path transform="translate(328.8 0)scale(3.128 1)" d="M0 334V291h1V289h1V309h1V308h1V304h1V298h1V294h1V290h1V302h1V298h1V276h1V298h1V282h1V288h1V273h1V250h1V250h1V268h1V289h1V280h1V250h1V274h1V250h1V267h1V283h1V272h1V294h1V283h1V293h1V296h1V298h1V302h1V310h1V319h1V323h-1V328h-1V330h-1V330h-1V333h-1V332h-1V331h-1V333h-1V331h-1V330h-1V332h-1V332h-1V332h-1V333h-1V332h-1V333h-1V331h-1V334h-1V333h-1V333h-1V330h-1V331h-1V329h-1V329h-1V331h-1V331h-1V332h-1V331h-1V329h-1V328h-1V329h-1V330h-1V330h-1V334h-1Z" fill="#88b3da"/>
<path transform="translate(328.8 0)scale(3.128 1)" d="M0 326V279h1V298h1V313h1V311h1V310h1V310h1V310h1V308h1V308h1V304h1V302h1V303h1V299h1V296h1V283h1V278h1V277h1V282h1V297h1V288h1V286h1V285h1V280h1V281h1V292h1V302h1V302h1V301h1V301h1V304h1V306h1V309h1V315h1V320h1V322h-1V325h-1V325h-1V326h-1V327h-1V326h-1V326h-1V326h-1V326h-1V326h-1V326h-1V325h-1V326h-1V326h-1V326h-1V325h-1V326h-1V325h-1V326h-1V326h-1V325h-1V325h-1V326h-1V325h-1V326h-1V326h-1V325h-1V327h-1V326h-1V326h-1V327h-1V325h-1V326h-1V326h-1Z" fill="#cdb498"/>
<path transform="translate(328.8 0)scale(3.128 1)" d="M0 322V285h1V303h1V315h1V314h1V313h1V313h1V313h1V311h1V311h1V309h1V306h1V308h1V306h1V301h1V289h1V285h1V283h1V288h1V301h1V296h1V293h1V290h1V287h1V288h1V296h1V305h1V306h1V307h1V306h1V309h1V310h1V313h1V317h1V320h1V321h-1V322h-1V322h-1V322h-1V322h-1V322h-1V322h-1V322h-1V322h-1V322h-1V322h-1V322h-1V322h-1V322h-1V322h-1V322h-1V322h-1V322h-1V322h-1V322h-1V322h-1V322h-1V322h-1V322h-1V322h-1V322h-1V322h-1V322h-1V322h-1V322h-1V322h-1V322h-1V322h-1V322h-1Z" fill="#b3cfd4"/>
<path d="M345.5 256.1V335M360.1 256.1V335M374.7 256.1V335M403.9 256.1V335M433.1 256.1V335M327.7 287.2H450.1M327.7 270.3H450.1" stroke="#bababa" stroke-width="1.1" fill="none"/>
<path d="M330.6 256.1V335M389 256.1V335M447.4 256.1V335" stroke="#ff0000" stroke-opacity="0.5" stroke-width="5" fill="none"/>
<path d="M356.8 321L367.2 319.9L374.7 318.9L380.5 320.3L383.9 321.6" fill="none" stroke="#f00" stroke-opacity="0.4" stroke-width="5" stroke-linejoin="round"/>
<g fill="#000" stroke="#000" stroke-linejoin="round"><path d="M330.9 294.6l0.5 0 0.8 20 1.6 4 1.6 1 1.6-1 1.6 0 1.6 1 1.6-1 1.6-2 1.6 2 1.6-1 1.6-1 1.6-2 1.6 0 1.6 1 1.6 1 1.6-3 1.6 1 1.6 0 1.6-1 1.6-1 1.6 0 1.6 1 1.6 0 1.6-2 1.6 0 1.6-1 1.6-4 1.6-5 1.6 0 1.6-8 1.6 0 1.6 3 1.6 7 1.6 3 1.6 3 1.6-2 1.6-2 1.6-1 1.6-4 1.6 1 1.6-2 1.6-1 1.6-3 1.6 0 1.6 4 1.6 3 1.6 4 1.6 4 1.6 0 1.6 0 1.6 0 1.6 1 1.6 2 1.6-2 1.6 1 1.6 2 1.6-1 1.6 3 1.6 0 1.6 2 1.6 0 1.6 1 1.6 1 1.6 0 1.3 0 15.9 0 0 0-15.9 0-1.3 0-1.6 0-1.6 1-1.6 0-1.6 0-1.6-1-1.6 0-1.6-1-1.6 0-1.6-1-1.6-3-1.6 2-1.6 0-1.6-1-1.6 1-1.6-1-1.6-2-1.6 0-1.6-6-1.6-2-1.6 1-1.6-1-1.6 0-1.6 1-1.6 5-1.6-5-1.6 4-1.6 2-1.6 0-1.6 3-1.6-3-1.6 0-1.6-6-1.6-3-1.6-1-1.6 8-1.6-2-1.6 4-1.6 3-1.6 2-1.6-2-1.6 3-1.6-2-1.6 1-1.6-2-1.6 3-1.6 1-1.6-2-1.6 0-1.6 3-1.6 0-1.6-3-1.6 1-1.6 0-1.6 2-1.6 0-1.6-1-1.6 1-1.6 0-1.6-1-1.6 1-1.6 0-1.6-1-1.6-3-0.8-20-0.5 0Z" stroke-width="8.4"/></g>
</g>
<path d="M321.9 251H455.9V339.9H321.9ZM327.7 256.1V335H450.1V256.1Z" fill="#ff0000" fill-rule="evenodd"/>
<path d="M306.3 253.4H321.9M306.3 321H321.9" stroke="#ff0000" stroke-width="4.8"/>
<path d="M314.2 304.1H321.9M314.2 287.2H321.9M314.2 270.3H321.9" stroke="#000" stroke-width="3"/>
<path d="M330.9 339.9V355.9M389.3 339.9V355.9M447.7 339.9V355.9" stroke="#ff0000" stroke-width="4.3"/>
<path d="M345.5 339.9V348.7M360.1 339.9V348.7M374.7 339.9V348.7M403.9 339.9V348.7M418.5 339.9V348.7M433.1 339.9V348.7" stroke="#000" stroke-width="2.9"/>
</g>
<g transform="translate(1436,235.8)">
<g clip-path="url(#pc)">
<path transform="translate(328.8 0)scale(3.128 1)" d="M0 333V287h1V286h1V307h1V309h1V308h1V307h1V305h1V296h1V305h1V284h1V301h1V279h1V291h1V290h1V286h1V277h1V250h1V250h1V263h1V279h1V261h1V289h1V287h1V283h1V272h1V270h1V278h1V290h1V281h1V299h1V287h1V304h1V305h1V301h1V317h1V322h-1V327h-1V329h-1V332h-1V329h-1V331h-1V333h-1V334h-1V335h-1V335h-1V336h-1V333h-1V330h-1V330h-1V332h-1V333h-1V337h-1V335h-1V332h-1V331h-1V332h-1V333h-1V330h-1V332h-1V330h-1V329h-1V331h-1V332h-1V331h-1V330h-1V329h-1V330h-1V330h-1V331h-1V333h-1Z" fill="#88b3da"/>
<path transform="translate(328.8 0)scale(3.128 1)" d="M0 326V269h1V294h1V312h1V313h1V313h1V311h1V311h1V311h1V310h1V309h1V306h1V303h1V299h1V297h1V293h1V288h1V277h1V271h1V275h1V288h1V296h1V296h1V294h1V291h1V282h1V281h1V287h1V298h1V303h1V304h1V306h1V309h1V311h1V313h1V319h1V322h-1V325h-1V325h-1V325h-1V326h-1V326h-1V326h-1V326h-1V326h-1V326h-1V325h-1V325h-1V325h-1V326h-1V326h-1V325h-1V327h-1V327h-1V327h-1V326h-1V327h-1V327h-1V326h-1V326h-1V326h-1V327h-1V327h-1V326h-1V326h-1V326h-1V326h-1V325h-1V326h-1V326h-1V326h-1Z" fill="#cdb498"/>
<path transform="translate(328.8 0)scale(3.128 1)" d="M0 322V279h1V299h1V315h1V315h1V315h1V314h1V314h1V314h1V313h1V312h1V310h1V308h1V304h1V301h1V298h1V295h1V286h1V279h1V282h1V296h1V302h1V301h1V300h1V298h1V290h1V291h1V296h1V304h1V309h1V309h1V311h1V313h1V315h1V316h1V320h1V321h-1V322h-1V322h-1V322h-1V322h-1V322h-1V322h-1V322h-1V322h-1V322h-1V322h-1V322h-1V322h-1V322h-1V322h-1V322h-1V322h-1V322h-1V322h-1V322h-1V322h-1V322h-1V322h-1V322h-1V322h-1V322h-1V322h-1V322h-1V322h-1V322h-1V322h-1V322h-1V322h-1V322h-1V322h-1Z" fill="#b3cfd4"/>
<path d="M345.5 256.1V335M374.7 256.1V335M418.5 256.1V335M433.1 256.1V335M327.7 287.2H450.1M327.7 270.3H450.1" stroke="#bababa" stroke-width="1.1" fill="none"/>
<path d="M330.6 256.1V335M389 256.1V335M447.4 256.1V335" stroke="#ff0000" stroke-opacity="0.5" stroke-width="5" fill="none"/>
<path d="M362.2 321L372.6 319.9L380.1 318.9L386 320.3L389.3 321.6" fill="none" stroke="#f00" stroke-opacity="0.4" stroke-width="5" stroke-linejoin="round"/>
<g fill="#000" stroke="#000" stroke-linejoin="round"><path d="M330.9 292.5l0.5 0 0.8 23 1.6 4 1.6 2 1.6-2 1.6 0 1.6 1 1.6-1 1.6-1 1.6 1 1.6-1 1.6 0 1.6 1 1.6-1 1.6 1 1.6-1 1.6-2 1.6-1 1.6-1 1.6 0 1.6 1 1.6-1 1.6-2 1.6-1 1.6 0 1.6 1 1.6-3 1.6 0 1.6-1 1.6-3 1.6-1 1.6-2 1.6-2 1.6-5 1.6-3 1.6 5 1.6 8 1.6 4 1.6 0 1.6-2 1.6 0 1.6 3 1.6-1 1.6-2 1.6 0 1.6-1 1.6 0 1.6-3 1.6-1 1.6 0 1.6 4 1.6 4 1.6 2 1.6 2 1.6-1 1.6 2 1.6 1 1.6-1 1.6 2 1.6 0 1.6 0 1.6 1 1.6 1 1.6 1 1.6 1 1.6 0 1.6 1 1.5-1 12.5 0 0 0-12.5 0-1.5 0-1.6 1-1.6 0-1.6-1-1.6 1-1.6-1-1.6 0-1.6 0-1.6 0-1.6-1-1.6-1-1.6 0-1.6-2-1.6 4-1.6-2-1.6-4-1.6-3-1.6-3-1.6 2-1.6 2-1.6 1-1.6-3-1.6 3-1.6 0-1.6 2-1.6 0-1.6-2-1.6-1-1.6 3-1.6-1-1.6-3-1.6-6-1.6 0-1.6 2-1.6 1-1.6 2-1.6 0-1.6 3-1.6-1-1.6 3-1.6-1-1.6 2-1.6-1-1.6 1-1.6 0-1.6 2-1.6 1-1.6-1-1.6 0-1.6 1-1.6 0-1.6 0-1.6 2-1.6-1-1.6 1-1.6 0-1.6 0-1.6-1-1.6 0-1.6 1-1.6 0-1.6 0-1.6 0-1.6 0-1.6 0-1.6-1-0.8-25-0.5 0Z" stroke-width="8.4"/></g>
</g>
<path d="M321.9 251H455.9V339.9H321.9ZM327.7 256.1V335H450.1V256.1Z" fill="#ff0000" fill-rule="evenodd"/>
<path d="M306.3 253.4H321.9M306.3 321H321.9" stroke="#ff0000" stroke-width="4.8"/>
<path d="M314.2 304.1H321.9M314.2 287.2H321.9M314.2 270.3H321.9" stroke="#000" stroke-width="3"/>
<path d="M330.9 339.9V355.9M389.3 339.9V355.9M447.7 339.9V355.9" stroke="#ff0000" stroke-width="4.3"/>
<path d="M345.5 339.9V348.7M360.1 339.9V348.7M374.7 339.9V348.7M403.9 339.9V348.7M418.5 339.9V348.7M433.1 339.9V348.7" stroke="#000" stroke-width="2.9"/>
</g>
<g transform="translate(1615.5,235.8)">
<g clip-path="url(#pc)">
<path transform="translate(328.8 0)scale(3.128 1)" d="M0 335V287h1V288h1V300h1V284h1V306h1V304h1V287h1V303h1V285h1V283h1V290h1V296h1V282h1V260h1V278h1V274h1V262h1V250h1V254h1V250h1V250h1V250h1V266h1V271h1V283h1V278h1V297h1V301h1V304h1V302h1V306h1V305h1V308h1V312h1V320h1V322h-1V328h-1V332h-1V330h-1V331h-1V330h-1V332h-1V330h-1V332h-1V332h-1V331h-1V333h-1V336h-1V338h-1V337h-1V334h-1V338h-1V335h-1V337h-1V335h-1V335h-1V333h-1V334h-1V332h-1V332h-1V333h-1V331h-1V330h-1V330h-1V330h-1V328h-1V329h-1V330h-1V332h-1V335h-1Z" fill="#88b3da"/>
<path transform="translate(328.8 0)scale(3.128 1)" d="M0 326V264h1V290h1V305h1V306h1V310h1V309h1V308h1V309h1V308h1V306h1V305h1V302h1V300h1V296h1V291h1V287h1V275h1V271h1V266h1V259h1V261h1V272h1V277h1V282h1V291h1V299h1V304h1V307h1V309h1V309h1V310h1V311h1V312h1V315h1V320h1V321h-1V325h-1V325h-1V326h-1V327h-1V326h-1V326h-1V326h-1V326h-1V326h-1V327h-1V327h-1V327h-1V327h-1V326h-1V327h-1V326h-1V325h-1V326h-1V326h-1V326h-1V326h-1V325h-1V325h-1V326h-1V326h-1V326h-1V326h-1V326h-1V325h-1V326h-1V325h-1V327h-1V326h-1V326h-1Z" fill="#cdb498"/>
<path transform="translate(328.8 0)scale(3.128 1)" d="M0 322V272h1V298h1V309h1V312h1V314h1V313h1V312h1V313h1V312h1V311h1V309h1V307h1V305h1V302h1V298h1V293h1V285h1V279h1V275h1V268h1V271h1V279h1V285h1V288h1V296h1V302h1V306h1V309h1V312h1V312h1V313h1V313h1V315h1V317h1V320h1V321h-1V322h-1V322h-1V322h-1V322h-1V322h-1V322h-1V322h-1V322h-1V322h-1V322h-1V322h-1V322h-1V322h-1V322h-1V322h-1V322h-1V322h-1V322h-1V322h-1V322h-1V322h-1V322h-1V322h-1V322h-1V322h-1V322h-1V322h-1V322h-1V322h-1V322h-1V322h-1V322h-1V322h-1V322h-1Z" fill="#b3cfd4"/>
<path d="M360.1 256.1V335M403.9 256.1V335M433.1 256.1V335M327.7 287.2H450.1M327.7 270.3H450.1" stroke="#bababa" stroke-width="1.1" fill="none"/>
<path d="M330.6 256.1V335M389 256.1V335M447.4 256.1V335" stroke="#ff0000" stroke-opacity="0.5" stroke-width="5" fill="none"/>
<path d="M367.6 321L378 319.9L385.5 318.9L391.4 320.3L394.7 321.6" fill="none" stroke="#f00" stroke-opacity="0.4" stroke-width="5" stroke-linejoin="round"/>
<g fill="#000" stroke="#000" stroke-linejoin="round"><path d="M330.9 295.6l0.5 0 0.8 18 1.6 3 1.6 0 1.6 1 1.6 0 1.6-1 1.6 0 1.6 1 1.6 1 1.6 0 1.6-2 1.6 1 1.6-1 1.6 0 1.6 1 1.6-3 1.6 1 1.6 1 1.6-2 1.6 0 1.6-1 1.6-3 1.6 0 1.6-1 1.6-2 1.6 2 1.6-5 1.6 2 1.6-4 1.6 0 1.6-6 1.6-2 1.6 1 1.6-3 1.6-5 1.6 2 1.6-4 1.6 1 1.6 2 1.6 4 1.6-2 1.6 5 1.6 2 1.6 1 1.6-1 1.6 6 1.6 6 1.6-1 1.6 0 1.6 2 1.6 2 1.6 1 1.6 0 1.6 1 1.6 1 1.6 0 1.6 1 1.6 1 1.6-1 1.6 0 1.6 3 1.6 0 1.6-1 1.6 1 1.6 0 1.6 0 1.1 1 12.9 0 0 0-12.9 0-1.1 1-1.6 0-1.6 0-1.6 0-1.6 0-1.6-1-1.6 0-1.6-1-1.6 2-1.6-3-1.6 0-1.6 1-1.6-1-1.6-1-1.6 0-1.6 1-1.6-3-1.6-1-1.6 1-1.6 0-1.6-6-1.6-3-1.6 2-1.6-3-1.6 1-1.6-3-1.6 1-1.6 0-1.6-2-1.6-5-1.6 5-1.6-1-1.6 4-1.6 2-1.6-5-1.6 3-1.6 5-1.6 0-1.6 3-1.6-3-1.6 6-1.6-4-1.6 3-1.6 2-1.6-1-1.6 1-1.6 0-1.6 1-1.6 1-1.6 0-1.6 0-1.6 1-1.6 0-1.6 0-1.6 0-1.6 0-1.6 1-1.6 0-1.6 0-1.6-1-1.6 0-1.6 1-1.6 0-1.6-1-1.6 0-1.6-1-0.8-21-0.5 0Z" stroke-width="8.4"/></g>
</g>
<path d="M321.9 251H455.9V339.9H321.9ZM327.7 256.1V335H450.1V256.1Z" fill="#ff0000" fill-rule="evenodd"/>
<path d="M306.3 253.4H321.9M306.3 321H321.9" stroke="#ff0000" stroke-width="4.8"/>
<path d="M314.2 304.1H321.9M314.2 287.2H321.9M314.2 270.3H321.9" stroke="#000" stroke-width="3"/>
<path d="M330.9 339.9V355.9M389.3 339.9V355.9M447.7 339.9V355.9" stroke="#ff0000" stroke-width="4.3"/>
<path d="M345.5 339.9V348.7M360.1 339.9V348.7M374.7 339.9V348.7M403.9 339.9V348.7M418.5 339.9V348.7M433.1 339.9V348.7" stroke="#000" stroke-width="2.9"/>
</g>
<g transform="translate(1795,235.8)">
<g clip-path="url(#pc)">
<path transform="translate(328.8 0)scale(3.128 1)" d="M0 333V287h1V287h1V299h1V304h1V305h1V286h1V286h1V302h1V280h1V299h1V287h1V293h1V289h1V282h1V282h1V258h1V274h1V256h1V277h1V272h1V250h1V250h1V269h1V262h1V271h1V287h1V288h1V296h1V301h1V291h1V309h1V296h1V296h1V316h1V321h1V321h-1V326h-1V331h-1V330h-1V329h-1V329h-1V331h-1V332h-1V333h-1V331h-1V330h-1V330h-1V332h-1V332h-1V336h-1V334h-1V330h-1V331h-1V332h-1V332h-1V331h-1V330h-1V330h-1V330h-1V333h-1V332h-1V329h-1V329h-1V331h-1V330h-1V331h-1V331h-1V329h-1V331h-1V333h-1Z" fill="#88b3da"/>
<path transform="translate(328.8 0)scale(3.128 1)" d="M0 325V276h1V298h1V312h1V310h1V310h1V310h1V309h1V306h1V305h1V306h1V305h1V300h1V295h1V292h1V291h1V288h1V284h1V282h1V285h1V283h1V276h1V274h1V286h1V292h1V293h1V296h1V299h1V302h1V306h1V308h1V311h1V311h1V313h1V317h1V321h1V321h-1V324h-1V326h-1V326h-1V327h-1V327h-1V326h-1V326h-1V326h-1V326h-1V327h-1V326h-1V326h-1V327h-1V326h-1V326h-1V325h-1V325h-1V327h-1V326h-1V325h-1V325h-1V326h-1V326h-1V327h-1V327h-1V326h-1V326h-1V326h-1V326h-1V326h-1V326h-1V325h-1V325h-1V325h-1Z" fill="#cdb498"/>
<path transform="translate(328.8 0)scale(3.128 1)" d="M0 322V285h1V303h1V315h1V313h1V313h1V313h1V311h1V310h1V309h1V310h1V308h1V305h1V302h1V299h1V299h1V296h1V291h1V290h1V292h1V289h1V283h1V283h1V293h1V299h1V299h1V301h1V304h1V306h1V310h1V311h1V314h1V314h1V315h1V319h1V321h1V321h-1V322h-1V322h-1V322h-1V322h-1V322h-1V322h-1V322h-1V322h-1V322h-1V322h-1V322h-1V322h-1V322h-1V322h-1V322h-1V322h-1V322h-1V322h-1V322h-1V322h-1V322h-1V322h-1V322h-1V322h-1V322h-1V322h-1V322h-1V322h-1V322h-1V322h-1V322h-1V322h-1V322h-1V322h-1Z" fill="#b3cfd4"/>
<path d="M345.5 256.1V335M374.7 256.1V335M403.9 256.1V335M418.5 256.1V335M327.7 287.2H450.1M327.7 270.3H450.1" stroke="#bababa" stroke-width="1.1" fill="none"/>
<path d="M330.6 256.1V335M389 256.1V335M447.4 256.1V335" stroke="#ff0000" stroke-opacity="0.5" stroke-width="5" fill="none"/>
<path d="M370.9 321L381.4 319.9L388.9 318.9L394.7 320.3L398.1 321.6" fill="none" stroke="#f00" stroke-opacity="0.4" stroke-width="5" stroke-linejoin="round"/>
<g fill="#000" stroke="#000" stroke-linejoin="round"><path d="M330.9 292.6l0.5 0 0.8 22 1.6 3 1.6 1 1.6-2 1.6 0 1.6-1 1.6 2 1.6-2 1.6 1 1.6-1 1.6 1 1.6 0 1.6-1 1.6 0 1.6 0 1.6-1 1.6-1 1.6 0 1.6-1 1.6 2 1.6-3 1.6-2 1.6-1 1.6-1 1.6-1 1.6-1 1.6 2 1.6-3 1.6 1 1.6-4 1.6 2 1.6-3 1.6-2 1.6 0 1.6 4 1.6 1 1.6-3 1.6-2 1.6-7 1.6 0 1.6 5 1.6 6 1.6 1 1.6 1 1.6 0 1.6 2 1.6 3 1.6 1 1.6-1 1.6 2 1.6 0 1.6 1 1.6 1 1.6 1 1.6 0 1.6 2 1.6 0 1.6 1 1.6 0 1.6 2 1.6-1 1.6 2 1.6 0 1.6 0 1.6-1 1.6 1 0.2 0 13.8 0 0 0-13.8 0-0.2 1-1.6 0-1.6 0-1.6 0-1.6 0-1.6 0-1.6 0-1.6-1-1.6 1-1.6-2-1.6 1-1.6-1-1.6-1-1.6 0-1.6-2-1.6 0-1.6 2-1.6-4-1.6 1-1.6 2-1.6-4-1.6-1-1.6 0-1.6 0-1.6-3-1.6-5-1.6 1-1.6-2-1.6 2-1.6 2-1.6 3-1.6 0-1.6-2-1.6-1-1.6 3-1.6 1-1.6-1-1.6 4-1.6-4-1.6 3-1.6 1-1.6 0-1.6 1-1.6-1-1.6 1-1.6 3-1.6 1-1.6-1-1.6 1-1.6-2-1.6 1-1.6 1-1.6 1-1.6-1-1.6 1-1.6 0-1.6 0-1.6 1-1.6-2-1.6 1-1.6 0-1.6 0-1.6 0-1.6 1-1.6 0-1.6-2-0.8-24-0.5 0Z" stroke-width="8.4"/></g>
</g>
<path d="M321.9 251H455.9V339.9H321.9ZM327.7 256.1V335H450.1V256.1Z" fill="#ff0000" fill-rule="evenodd"/>
<path d="M306.3 253.4H321.9M306.3 321H321.9" stroke="#ff0000" stroke-width="4.8"/>
<path d="M314.2 304.1H321.9M314.2 287.2H321.9M314.2 270.3H321.9" stroke="#000" stroke-width="3"/>
<path d="M330.9 339.9V355.9M389.3 339.9V355.9M447.7 339.9V355.9" stroke="#ff0000" stroke-width="4.3"/>
<path d="M345.5 339.9V348.7M360.1 339.9V348.7M374.7 339.9V348.7M403.9 339.9V348.7M418.5 339.9V348.7M433.1 339.9V348.7" stroke="#000" stroke-width="2.9"/>
</g>
<g transform="translate(0,353.8)">
<g clip-path="url(#pc)">
<path transform="translate(328.8 0)scale(3.128 1)" d="M0 332V288h1V287h1V290h1V302h1V303h1V282h1V289h1V274h1V272h1V275h1V290h1V288h1V256h1V250h1V275h1V276h1V272h1V269h1V250h1V269h1V250h1V280h1V289h1V286h1V292h1V290h1V302h1V311h1V314h1V321h1V321h-1V327h-1V331h-1V333h-1V333h-1V331h-1V330h-1V330h-1V334h-1V336h-1V334h-1V334h-1V333h-1V335h-1V332h-1V333h-1V333h-1V331h-1V332h-1V330h-1V334h-1V333h-1V331h-1V330h-1V330h-1V330h-1V330h-1V330h-1V330h-1V332h-1Z" fill="#88b3da"/>
<path transform="translate(328.8 0)scale(3.128 1)" d="M0 325V278h1V300h1V310h1V309h1V308h1V306h1V304h1V300h1V301h1V299h1V297h1V295h1V290h1V289h1V285h1V286h1V283h1V281h1V279h1V279h1V281h1V289h1V297h1V306h1V309h1V310h1V312h1V314h1V317h1V321h1V321h-1V323h-1V325h-1V326h-1V326h-1V326h-1V326h-1V325h-1V326h-1V325h-1V325h-1V325h-1V325h-1V325h-1V326h-1V326h-1V325h-1V325h-1V325h-1V326h-1V326h-1V325h-1V327h-1V326h-1V325h-1V326h-1V326h-1V325h-1V325h-1V325h-1Z" fill="#cdb498"/>
<path transform="translate(328.8 0)scale(3.128 1)" d="M0 322V283h1V303h1V312h1V312h1V311h1V309h1V308h1V305h1V306h1V304h1V302h1V301h1V296h1V294h1V292h1V293h1V290h1V289h1V288h1V286h1V287h1V296h1V304h1V310h1V313h1V314h1V315h1V317h1V319h1V321h1V321h-1V322h-1V322h-1V322h-1V322h-1V322h-1V322h-1V322h-1V322h-1V322h-1V322h-1V322h-1V322h-1V322h-1V322h-1V322h-1V322h-1V322h-1V322h-1V322h-1V322h-1V322h-1V322h-1V322h-1V322h-1V322h-1V322h-1V322h-1V322h-1V322h-1Z" fill="#b3cfd4"/>
<path d="M345.5 256.1V335M374.7 256.1V335M418.5 256.1V335M433.1 256.1V335M327.7 304.1H450.1M327.7 287.2H450.1M327.7 270.3H450.1" stroke="#bababa" stroke-width="1.1" fill="none"/>
<path d="M330.6 256.1V335M389 256.1V335M447.4 256.1V335" stroke="#ff0000" stroke-opacity="0.5" stroke-width="5" fill="none"/>
<path d="M367.2 321L377.6 319.9L385.1 318.9L391 320.3L394.3 321.6" fill="none" stroke="#f00" stroke-opacity="0.4" stroke-width="5" stroke-linejoin="round"/>
<g fill="#000" stroke="#000" stroke-linejoin="round"><path d="M330.9 292.2l0.5 0 0.8 23 1.6 2 1.6-1 1.6 0 1.6 0 1.6 0 1.6 0 1.6-1 1.6 0 1.6 0 1.6-1 1.6-1 1.6-1 1.6 0 1.6 1 1.6-1 1.6-1 1.6 0 1.6 0 1.6 0 1.6 0 1.6-3 1.6 2 1.6-5 1.6 0 1.6-3 1.6 1 1.6-4 1.6 0 1.6 1 1.6-2 1.6 0 1.6 0 1.6-1 1.6-3 1.6 0 1.6 3 1.6-2 1.6 4 1.6 3 1.6 7 1.6 4 1.6 3 1.6 0 1.6-1 1.6 3 1.6-2 1.6 2 1.6 1 1.6-1 1.6 2 1.6 1 1.6 0 1.6 0 1.6-1 1.6 0 0.8 1 29.2 0 0 0-29.2 0-0.8 1-1.6 0-1.6 0-1.6 0-1.6 0-1.6 0-1.6-2-1.6 2-1.6 0-1.6-1-1.6 1-1.6-3-1.6 1-1.6 0-1.6-2-1.6-2-1.6-8-1.6-3-1.6-1-1.6 4-1.6-5-1.6 3-1.6-1-1.6 2-1.6 1-1.6-2-1.6 4-1.6-3-1.6-1-1.6 4-1.6-3-1.6 4-1.6 0-1.6 4-1.6 0-1.6 4-1.6-1-1.6 0-1.6-3-1.6 1-1.6 1-1.6 3-1.6-2-1.6 1-1.6 0-1.6 2-1.6-1-1.6 0-1.6-1-1.6 1-1.6 0-1.6 0-1.6 0-1.6 0-1.6 2-1.6-3-0.8-23-0.5 0Z" stroke-width="8.4"/></g>
</g>
<path d="M321.9 251H455.9V339.9H321.9ZM327.7 256.1V335H450.1V256.1Z" fill="#ff0000" fill-rule="evenodd"/>
<path d="M306.3 253.4H321.9M306.3 321H321.9" stroke="#ff0000" stroke-width="4.8"/>
<path d="M314.2 304.1H321.9M314.2 287.2H321.9M314.2 270.3H321.9" stroke="#000" stroke-width="3"/>
<path d="M330.9 339.9V355.9M389.3 339.9V355.9M447.7 339.9V355.9" stroke="#ff0000" stroke-width="4.3"/>
<path d="M345.5 339.9V348.7M360.1 339.9V348.7M374.7 339.9V348.7M403.9 339.9V348.7M418.5 339.9V348.7M433.1 339.9V348.7" stroke="#000" stroke-width="2.9"/>
</g>
<g transform="translate(179.5,353.8)">
<g clip-path="url(#pc)">
<path transform="translate(328.8 0)scale(3.128 1)" d="M0 331V285h1V286h1V300h1V300h1V276h1V282h1V296h1V296h1V294h1V269h1V292h1V290h1V288h1V282h1V276h1V266h1V266h1V261h1V267h1V273h1V254h1V282h1V281h1V290h1V303h1V293h1V307h1V298h1V312h1V315h1V321h1V321h-1V328h-1V329h-1V330h-1V332h-1V332h-1V331h-1V333h-1V332h-1V331h-1V335h-1V335h-1V336h-1V334h-1V333h-1V335h-1V334h-1V332h-1V333h-1V331h-1V332h-1V330h-1V333h-1V333h-1V333h-1V330h-1V330h-1V329h-1V330h-1V330h-1V331h-1Z" fill="#88b3da"/>
<path transform="translate(328.8 0)scale(3.128 1)" d="M0 327V271h1V295h1V306h1V305h1V303h1V302h1V302h1V303h1V301h1V299h1V300h1V297h1V296h1V290h1V287h1V281h1V277h1V276h1V280h1V282h1V286h1V289h1V298h1V305h1V308h1V310h1V311h1V314h1V316h1V318h1V321h1V321h-1V324h-1V325h-1V326h-1V325h-1V325h-1V326h-1V326h-1V327h-1V326h-1V326h-1V326h-1V327h-1V326h-1V327h-1V326h-1V326h-1V326h-1V326h-1V326h-1V325h-1V325h-1V326h-1V326h-1V325h-1V326h-1V325h-1V326h-1V326h-1V326h-1V327h-1Z" fill="#cdb498"/>
<path transform="translate(328.8 0)scale(3.128 1)" d="M0 322V282h1V301h1V310h1V309h1V308h1V306h1V305h1V306h1V305h1V304h1V303h1V301h1V300h1V295h1V292h1V287h1V285h1V284h1V288h1V289h1V292h1V296h1V303h1V308h1V312h1V314h1V314h1V316h1V318h1V319h1V321h1V321h-1V322h-1V322h-1V322h-1V322h-1V322h-1V322h-1V322h-1V322h-1V322h-1V322h-1V322h-1V322h-1V322h-1V322h-1V322h-1V322h-1V322h-1V322h-1V322h-1V322h-1V322h-1V322h-1V322h-1V322h-1V322h-1V322h-1V322h-1V322h-1V322h-1V322h-1Z" fill="#b3cfd4"/>
<path d="M360.1 256.1V335M403.9 256.1V335M433.1 256.1V335M327.7 304.1H450.1M327.7 287.2H450.1M327.7 270.3H450.1" stroke="#bababa" stroke-width="1.1" fill="none"/>
<path d="M330.6 256.1V335M389 256.1V335M447.4 256.1V335" stroke="#ff0000" stroke-opacity="0.5" stroke-width="5" fill="none"/>
<path d="M361.3 321L371.8 319.9L379.3 318.9L385.1 320.3L388.5 321.6" fill="none" stroke="#f00" stroke-opacity="0.4" stroke-width="5" stroke-linejoin="round"/>
<g fill="#000" stroke="#000" stroke-linejoin="round"><path d="M330.9 292.2l0.5 0 0.8 21 1.6 2 1.6-1 1.6 1 1.6-1 1.6 1 1.6 0 1.6 0 1.6-1 1.6-2 1.6 1 1.6-1 1.6 1 1.6 0 1.6-1 1.6-1 1.6-1 1.6-1 1.6 1 1.6 1 1.6-2 1.6 1 1.6-2 1.6 0 1.6-1 1.6-2 1.6-2 1.6 1 1.6-5 1.6 3 1.6-3 1.6-1 1.6-4 1.6 0 1.6 4 1.6-2 1.6 4 1.6 1 1.6 3 1.6 0 1.6 5 1.6 1 1.6 0 1.6 4 1.6 2 1.6 0 1.6 0 1.6 2 1.6-1 1.6 0 1.6 1 1.6 1 1.6 1 1.6 1 1.6-1 1.6 1 1.6 1 1.6-2 0.9 1 25.9 0 0 0-25.9 0-0.9 1-1.6-1-1.6 1-1.6 0-1.6 0-1.6 0-1.6-1-1.6 0-1.6 1-1.6-1-1.6 1-1.6 0-1.6-1-1.6-1-1.6-1-1.6-2-1.6-1-1.6 1-1.6-6-1.6 3-1.6-6-1.6 1-1.6-2-1.6 0-1.6-5-1.6 3-1.6 3-1.6 4-1.6 1-1.6-5-1.6 3-1.6 1-1.6 0-1.6 3-1.6 1-1.6-2-1.6 2-1.6 1-1.6 0-1.6-2-1.6-1-1.6 1-1.6 1-1.6 2-1.6-1-1.6 2-1.6-3-1.6 2-1.6 1-1.6 0-1.6 2-1.6 0-1.6-1-1.6-1-1.6 2-1.6-1-1.6 0-1.6-1-0.8-23-0.5 0Z" stroke-width="8.4"/></g>
</g>
<path d="M321.9 251H455.9V339.9H321.9ZM327.7 256.1V335H450.1V256.1Z" fill="#ff0000" fill-rule="evenodd"/>
<path d="M306.3 253.4H321.9M306.3 321H321.9" stroke="#ff0000" stroke-width="4.8"/>
<path d="M314.2 304.1H321.9M314.2 287.2H321.9M314.2 270.3H321.9" stroke="#000" stroke-width="3"/>
<path d="M330.9 339.9V355.9M389.3 339.9V355.9M447.7 339.9V355.9" stroke="#ff0000" stroke-width="4.3"/>
<path d="M345.5 339.9V348.7M360.1 339.9V348.7M374.7 339.9V348.7M403.9 339.9V348.7M418.5 339.9V348.7M433.1 339.9V348.7" stroke="#000" stroke-width="2.9"/>
</g>
<g transform="translate(359,353.8)">
<g clip-path="url(#pc)">
<path transform="translate(328.8 0)scale(3.128 1)" d="M0 337V284h1V284h1V296h1V305h1V303h1V304h1V301h1V298h1V287h1V293h1V294h1V274h1V288h1V279h1V266h1V261h1V263h1V265h1V270h1V250h1V274h1V279h1V264h1V292h1V298h1V303h1V293h1V301h1V304h1V312h1V319h1V322h-1V326h-1V330h-1V330h-1V329h-1V333h-1V333h-1V332h-1V334h-1V332h-1V332h-1V332h-1V336h-1V337h-1V336h-1V333h-1V333h-1V333h-1V333h-1V329h-1V330h-1V331h-1V330h-1V331h-1V330h-1V330h-1V331h-1V330h-1V330h-1V333h-1V337h-1Z" fill="#88b3da"/>
<path transform="translate(328.8 0)scale(3.128 1)" d="M0 326V261h1V292h1V311h1V310h1V309h1V309h1V307h1V304h1V303h1V299h1V299h1V298h1V297h1V289h1V279h1V276h1V276h1V277h1V283h1V286h1V285h1V289h1V294h1V298h1V303h1V307h1V307h1V308h1V310h1V316h1V320h1V321h-1V324h-1V326h-1V325h-1V325h-1V325h-1V325h-1V326h-1V326h-1V325h-1V325h-1V325h-1V325h-1V325h-1V325h-1V325h-1V327h-1V326h-1V326h-1V326h-1V326h-1V326h-1V325h-1V326h-1V325h-1V325h-1V326h-1V325h-1V325h-1V326h-1V326h-1Z" fill="#cdb498"/>
<path transform="translate(328.8 0)scale(3.128 1)" d="M0 322V279h1V299h1V315h1V314h1V313h1V313h1V311h1V309h1V308h1V304h1V305h1V302h1V303h1V297h1V289h1V284h1V285h1V285h1V288h1V290h1V293h1V297h1V300h1V303h1V307h1V310h1V310h1V311h1V313h1V317h1V320h1V321h-1V322h-1V322h-1V322h-1V322h-1V322h-1V322h-1V322h-1V322h-1V322h-1V322h-1V322h-1V322h-1V322h-1V322h-1V322h-1V322h-1V322h-1V322h-1V322h-1V322h-1V322h-1V322h-1V322h-1V322h-1V322h-1V322h-1V322h-1V322h-1V322h-1V322h-1Z" fill="#b3cfd4"/>
<path d="M345.5 256.1V335M374.7 256.1V335M418.5 256.1V335M327.7 304.1H450.1M327.7 287.2H450.1M327.7 270.3H450.1" stroke="#bababa" stroke-width="1.1" fill="none"/>
<path d="M330.6 256.1V335M389 256.1V335M447.4 256.1V335" stroke="#ff0000" stroke-opacity="0.5" stroke-width="5" fill="none"/>
<path d="M356.3 321L366.8 319.9L374.3 318.9L380.1 320.3L383.5 321.6" fill="none" stroke="#f00" stroke-opacity="0.4" stroke-width="5" stroke-linejoin="round"/>
<g fill="#000" stroke="#000" stroke-linejoin="round"><path d="M330.9 292.2l0.5 0 0.8 23 1.6 4 1.6-1 1.6 2 1.6 0 1.6-2 1.6 1 1.6 0 1.6-1 1.6-1 1.6 1 1.6-1 1.6-1 1.6 0 1.6 0 1.6-2 1.6-1 1.6 1 1.6-1 1.6 0 1.6-2 1.6 0 1.6-1 1.6 1 1.6-3 1.6 0 1.6-6 1.6-3 1.6-2 1.6-3 1.6-1 1.6 3 1.6 0 1.6 0 1.6 2 1.6 2 1.6 0 1.6 2 1.6 1 1.6-1 1.6 3 1.6 2 1.6 3 1.6-1 1.6 2 1.6 2 1.6 1 1.6 3 1.6-1 1.6 0 1.6 2 1.6-2 1.6 3 1.6-1 1.6 3 1.6-2 1.6 2 1.6-1 1.3 1 25.5 0 0 0-25.5 0-1.3 1-1.6 0-1.6 0-1.6 0-1.6 0-1.6 0-1.6-2-1.6 2-1.6-1-1.6-1-1.6 1-1.6-4-1.6 0-1.6 1-1.6-4-1.6 2-1.6-2-1.6-2-1.6-3-1.6 0-1.6 0-1.6-1-1.6 3-1.6-5-1.6 1-1.6-1-1.6 0-1.6-1-1.6 1-1.6 0-1.6 0-1.6 3-1.6 5-1.6-1-1.6 2-1.6 0-1.6 3-1.6 1-1.6 1-1.6-1-1.6 0-1.6-1-1.6 0-1.6 3-1.6-2-1.6 0-1.6 2-1.6 1-1.6 0-1.6 0-1.6 0-1.6 0-1.6 0-1.6 0-1.6 0-1.6 0-1.6 0-1.6-1-0.8-25-0.5 0Z" stroke-width="8.4"/></g>
</g>
<path d="M321.9 251H455.9V339.9H321.9ZM327.7 256.1V335H450.1V256.1Z" fill="#ff0000" fill-rule="evenodd"/>
<path d="M306.3 253.4H321.9M306.3 321H321.9" stroke="#ff0000" stroke-width="4.8"/>
<path d="M314.2 304.1H321.9M314.2 287.2H321.9M314.2 270.3H321.9" stroke="#000" stroke-width="3"/>
<path d="M330.9 339.9V355.9M389.3 339.9V355.9M447.7 339.9V355.9" stroke="#ff0000" stroke-width="4.3"/>
<path d="M345.5 339.9V348.7M360.1 339.9V348.7M374.7 339.9V348.7M403.9 339.9V348.7M418.5 339.9V348.7M433.1 339.9V348.7" stroke="#000" stroke-width="2.9"/>
</g>
<g transform="translate(538.5,353.8)">
<g clip-path="url(#pc)">
<path transform="translate(328.8 0)scale(3.128 1)" d="M0 335V285h1V285h1V305h1V295h1V297h1V293h1V295h1V302h1V289h1V300h1V281h1V288h1V282h1V279h1V277h1V250h1V266h1V269h1V266h1V273h1V274h1V279h1V278h1V283h1V291h1V297h1V285h1V287h1V305h1V305h1V297h1V311h1V309h1V318h1V324h-1V330h-1V330h-1V332h-1V330h-1V332h-1V331h-1V332h-1V332h-1V334h-1V331h-1V333h-1V334h-1V336h-1V334h-1V335h-1V336h-1V335h-1V336h-1V334h-1V332h-1V333h-1V332h-1V331h-1V329h-1V329h-1V331h-1V330h-1V330h-1V332h-1V330h-1V331h-1V330h-1V335h-1Z" fill="#88b3da"/>
<path transform="translate(328.8 0)scale(3.128 1)" d="M0 327V270h1V295h1V310h1V312h1V309h1V311h1V310h1V310h1V309h1V307h1V303h1V296h1V292h1V288h1V286h1V281h1V280h1V282h1V291h1V285h1V283h1V287h1V290h1V295h1V300h1V304h1V308h1V309h1V311h1V312h1V312h1V315h1V316h1V319h1V323h-1V325h-1V326h-1V325h-1V326h-1V326h-1V325h-1V326h-1V327h-1V325h-1V326h-1V326h-1V325h-1V326h-1V326h-1V326h-1V325h-1V325h-1V326h-1V325h-1V326h-1V325h-1V326h-1V326h-1V326h-1V326h-1V325h-1V326h-1V325h-1V325h-1V325h-1V326h-1V327h-1V327h-1Z" fill="#cdb498"/>
<path transform="translate(328.8 0)scale(3.128 1)" d="M0 322V282h1V301h1V314h1V315h1V313h1V314h1V313h1V313h1V312h1V310h1V306h1V301h1V298h1V295h1V292h1V288h1V287h1V289h1V296h1V290h1V289h1V292h1V295h1V299h1V303h1V308h1V311h1V312h1V314h1V315h1V315h1V318h1V318h1V320h1V321h-1V322h-1V322h-1V322h-1V322h-1V322h-1V322h-1V322h-1V322h-1V322h-1V322h-1V322h-1V322h-1V322h-1V322h-1V322h-1V322h-1V322h-1V322h-1V322h-1V322h-1V322h-1V322h-1V322h-1V322h-1V322h-1V322h-1V322h-1V322h-1V322h-1V322h-1V322h-1V322h-1V322h-1Z" fill="#b3cfd4"/>
<path d="M345.5 256.1V335M360.1 256.1V335M403.9 256.1V335M327.7 304.1H450.1M327.7 287.2H450.1M327.7 270.3H450.1" stroke="#bababa" stroke-width="1.1" fill="none"/>
<path d="M330.6 256.1V335M389 256.1V335M447.4 256.1V335" stroke="#ff0000" stroke-opacity="0.5" stroke-width="5" fill="none"/>
<path d="M358.4 321L368.9 319.9L376.4 318.9L382.2 320.3L385.5 321.6" fill="none" stroke="#f00" stroke-opacity="0.4" stroke-width="5" stroke-linejoin="round"/>
<g fill="#000" stroke="#000" stroke-linejoin="round"><path d="M330.9 292.2l0.5 0 0.8 23 1.6 2 1.6 1 1.6-2 1.6 2 1.6 0 1.6 0 1.6-1 1.6 1 1.6-2 1.6 2 1.6 0 1.6 0 1.6-1 1.6 0 1.6 0 1.6-1 1.6-2 1.6 0 1.6 0 1.6-3 1.6 0 1.6-3 1.6-3 1.6-1 1.6 0 1.6-2 1.6-3 1.6-2 1.6 1 1.6-3 1.6 1 1.6 5 1.6 6 1.6-1 1.6-4 1.6-3 1.6-4 1.6 2 1.6 1 1.6 6 1.6 2 1.6-1 1.6 2 1.6 3 1.6 2 1.6-2 1.6 3 1.6 2 1.6-1 1.6 1 1.6 0 1.6 2 1.6 1 1.6 0 1.6 0 1.6 1 1.6 0 1.6 1 1.6 0 1.6 0 1.6 1 1.6 1 1.6-1 1.6-1 0.6 1 15 0 0 0-15 0-0.6 1-1.6-1-1.6 1-1.6 0-1.6 0-1.6 0-1.6 0-1.6 0-1.6 0-1.6-1-1.6 0-1.6 0-1.6-1-1.6-1-1.6-1-1.6 1-1.6 0-1.6 0-1.6-4-1.6 2-1.6-1-1.6-1-1.6-2-1.6 0-1.6 1-1.6-9-1.6 0-1.6-1-1.6 4-1.6 4-1.6 3-1.6 1-1.6-7-1.6-3-1.6-1-1.6 1-1.6-1-1.6 4-1.6 2-1.6 3-1.6-2-1.6 2-1.6 1-1.6 2-1.6 1-1.6 0-1.6 3-1.6 0-1.6 1-1.6-1-1.6 0-1.6 1-1.6-1-1.6 1-1.6-1-1.6 0-1.6 0-1.6 0-1.6 0-1.6 1-1.6 0-1.6-2-1.6 1-1.6 0-1.6-2-0.8-23-0.5 0Z" stroke-width="8.4"/></g>
</g>
<path d="M321.9 251H455.9V339.9H321.9ZM327.7 256.1V335H450.1V256.1Z" fill="#ff0000" fill-rule="evenodd"/>
<path d="M306.3 253.4H321.9M306.3 321H321.9" stroke="#ff0000" stroke-width="4.8"/>
<path d="M314.2 304.1H321.9M314.2 287.2H321.9M314.2 270.3H321.9" stroke="#000" stroke-width="3"/>
<path d="M330.9 339.9V355.9M389.3 339.9V355.9M447.7 339.9V355.9" stroke="#ff0000" stroke-width="4.3"/>
<path d="M345.5 339.9V348.7M360.1 339.9V348.7M374.7 339.9V348.7M403.9 339.9V348.7M418.5 339.9V348.7M433.1 339.9V348.7" stroke="#000" stroke-width="2.9"/>
</g>
<g transform="translate(718,353.8)">
<g clip-path="url(#pc)">
<path transform="translate(328.8 0)scale(3.128 1)" d="M0 337V287h1V287h1V303h1V289h1V300h1V300h1V301h1V286h1V300h1V271h1V279h1V260h1V285h1V284h1V250h1V259h1V250h1V262h1V250h1V250h1V250h1V250h1V276h1V271h1V273h1V296h1V299h1V303h1V295h1V300h1V312h1V313h1V312h1V321h1V321h-1V327h-1V332h-1V331h-1V329h-1V332h-1V330h-1V332h-1V331h-1V331h-1V332h-1V333h-1V337h-1V338h-1V337h-1V331h-1V332h-1V333h-1V332h-1V335h-1V333h-1V332h-1V330h-1V332h-1V329h-1V331h-1V331h-1V329h-1V331h-1V329h-1V331h-1V332h-1V331h-1V337h-1Z" fill="#88b3da"/>
<path transform="translate(328.8 0)scale(3.128 1)" d="M0 327V273h1V296h1V309h1V309h1V307h1V307h1V308h1V306h1V306h1V301h1V298h1V294h1V292h1V292h1V284h1V274h1V272h1V275h1V282h1V267h1V261h1V269h1V290h1V300h1V301h1V304h1V307h1V309h1V312h1V314h1V316h1V316h1V318h1V321h1V321h-1V323h-1V326h-1V326h-1V326h-1V326h-1V326h-1V326h-1V327h-1V326h-1V326h-1V326h-1V325h-1V325h-1V325h-1V326h-1V325h-1V325h-1V325h-1V326h-1V326h-1V327h-1V327h-1V326h-1V326h-1V326h-1V325h-1V325h-1V325h-1V326h-1V326h-1V325h-1V326h-1V327h-1Z" fill="#cdb498"/>
<path transform="translate(328.8 0)scale(3.128 1)" d="M0 322V280h1V300h1V312h1V312h1V310h1V311h1V312h1V310h1V309h1V306h1V304h1V301h1V300h1V298h1V291h1V285h1V282h1V286h1V291h1V275h1V270h1V278h1V297h1V306h1V306h1V308h1V310h1V313h1V315h1V317h1V317h1V318h1V319h1V321h1V321h-1V322h-1V322h-1V322h-1V322h-1V322h-1V322h-1V322h-1V322h-1V322h-1V322h-1V322h-1V322h-1V322h-1V322h-1V322h-1V322h-1V322h-1V322h-1V322h-1V322h-1V322h-1V322h-1V322h-1V322h-1V322h-1V322h-1V322h-1V322h-1V322h-1V322h-1V322h-1V322h-1V322h-1Z" fill="#b3cfd4"/>
<path d="M360.1 256.1V335M374.7 256.1V335M403.9 256.1V335M433.1 256.1V335M327.7 304.1H450.1M327.7 287.2H450.1M327.7 270.3H450.1" stroke="#bababa" stroke-width="1.1" fill="none"/>
<path d="M330.6 256.1V335M389 256.1V335M447.4 256.1V335" stroke="#ff0000" stroke-opacity="0.5" stroke-width="5" fill="none"/>
<path d="M370.1 321L380.5 319.9L388 318.9L393.9 320.3L397.2 321.6" fill="none" stroke="#f00" stroke-opacity="0.4" stroke-width="5" stroke-linejoin="round"/>
<g fill="#000" stroke="#000" stroke-linejoin="round"><path d="M330.9 294.3l0.5 0 0.8 21 1.6 2 1.6 0 1.6 0 1.6 0 1.6 0 1.6-1 1.6 1 1.6 0 1.6-2 1.6 0 1.6 0 1.6 0 1.6-1 1.6 2 1.6-2 1.6 0 1.6-1 1.6-2 1.6 1 1.6-1 1.6-1 1.6-1 1.6-1 1.6-2 1.6 0 1.6-3 1.6 1 1.6-3 1.6-6 1.6 1 1.6 0 1.6 3 1.6 1 1.6 3 1.6-4 1.6-5 1.6-6 1.6-3 1.6 5 1.6 6 1.6 9 1.6 7 1.6 1 1.6 0 1.6-1 1.6 2 1.6 1 1.6 1 1.6 0 1.6 0 1.6 1 1.6 2 1.6 0 1.6 1 1.6 0 1.6 0 1.6 0 1.6 0 1.6 0 1.6 1 1.6-1 1.6 0 1.6 2 0.1-1 17.1 0 0 0-17.1 0-0.1 1-1.6 0-1.6 0-1.6 0-1.6 0-1.6 0-1.6 0-1.6-1-1.6 0-1.6 1-1.6 0-1.6-1-1.6 1-1.6-2-1.6 1-1.6 0-1.6-2-1.6 0-1.6-2-1.6 1-1.6 2-1.6-2-1.6-4-1.6-10-1.6-3-1.6 1-1.6-1-1.6 5-1.6 2-1.6 3-1.6-3-1.6-1-1.6 1-1.6-1-1.6-3-1.6 5-1.6 1-1.6 1-1.6 5-1.6-1-1.6 2-1.6 0-1.6 0-1.6 0-1.6 1-1.6-2-1.6 3-1.6 0-1.6 0-1.6 0-1.6 1-1.6-1-1.6 0-1.6 1-1.6 0-1.6 1-1.6 0-1.6 0-1.6 0-1.6 1-1.6-2-1.6 1-1.6 0-1.6-3-0.8-20-0.5 0Z" stroke-width="8.4"/></g>
</g>
<path d="M321.9 251H455.9V339.9H321.9ZM327.7 256.1V335H450.1V256.1Z" fill="#ff0000" fill-rule="evenodd"/>
<path d="M306.3 253.4H321.9M306.3 321H321.9" stroke="#ff0000" stroke-width="4.8"/>
<path d="M314.2 304.1H321.9M314.2 287.2H321.9M314.2 270.3H321.9" stroke="#000" stroke-width="3"/>
<path d="M330.9 339.9V355.9M389.3 339.9V355.9M447.7 339.9V355.9" stroke="#ff0000" stroke-width="4.3"/>
<path d="M345.5 339.9V348.7M360.1 339.9V348.7M374.7 339.9V348.7M403.9 339.9V348.7M418.5 339.9V348.7M433.1 339.9V348.7" stroke="#000" stroke-width="2.9"/>
</g>
<g transform="translate(897.5,353.8)">
<g clip-path="url(#pc)">
<path transform="translate(328.8 0)scale(3.128 1)" d="M0 336V286h1V287h1V304h1V291h1V304h1V304h1V294h1V299h1V294h1V295h1V293h1V270h1V264h1V281h1V278h1V274h1V265h1V250h1V250h1V254h1V266h1V275h1V279h1V264h1V280h1V288h1V290h1V306h1V310h1V313h1V312h1V321h1V321h-1V325h-1V330h-1V331h-1V331h-1V331h-1V332h-1V332h-1V334h-1V331h-1V333h-1V336h-1V336h-1V335h-1V337h-1V333h-1V333h-1V334h-1V331h-1V333h-1V332h-1V332h-1V332h-1V329h-1V330h-1V332h-1V332h-1V331h-1V331h-1V330h-1V331h-1V336h-1Z" fill="#88b3da"/>
<path transform="translate(328.8 0)scale(3.128 1)" d="M0 327V276h1V299h1V310h1V311h1V310h1V309h1V308h1V305h1V302h1V301h1V300h1V298h1V295h1V291h1V289h1V284h1V275h1V264h1V269h1V269h1V278h1V286h1V289h1V295h1V303h1V307h1V309h1V311h1V314h1V316h1V319h1V321h1V321h-1V323h-1V325h-1V325h-1V326h-1V325h-1V326h-1V326h-1V327h-1V326h-1V326h-1V326h-1V325h-1V325h-1V325h-1V326h-1V325h-1V325h-1V326h-1V326h-1V327h-1V325h-1V325h-1V325h-1V325h-1V326h-1V326h-1V326h-1V325h-1V326h-1V327h-1V327h-1Z" fill="#cdb498"/>
<path transform="translate(328.8 0)scale(3.128 1)" d="M0 322V281h1V302h1V313h1V314h1V312h1V312h1V311h1V309h1V307h1V305h1V305h1V302h1V300h1V296h1V294h1V291h1V285h1V275h1V276h1V276h1V283h1V292h1V295h1V300h1V306h1V310h1V312h1V314h1V316h1V317h1V319h1V321h1V321h-1V322h-1V322h-1V322h-1V322h-1V322h-1V322h-1V322h-1V322h-1V322h-1V322h-1V322h-1V322h-1V322h-1V322h-1V322h-1V322h-1V322h-1V322h-1V322h-1V322h-1V322h-1V322h-1V322h-1V322h-1V322h-1V322h-1V322h-1V322h-1V322h-1V322h-1V322h-1Z" fill="#b3cfd4"/>
<path d="M345.5 256.1V335M360.1 256.1V335M374.7 256.1V335M403.9 256.1V335M418.5 256.1V335M327.7 304.1H450.1M327.7 287.2H450.1M327.7 270.3H450.1" stroke="#bababa" stroke-width="1.1" fill="none"/>
<path d="M330.6 256.1V335M389 256.1V335M447.4 256.1V335" stroke="#ff0000" stroke-opacity="0.5" stroke-width="5" fill="none"/>
<path d="M363 321L373.4 319.9L381 318.9L386.8 320.3L390.1 321.6" fill="none" stroke="#f00" stroke-opacity="0.4" stroke-width="5" stroke-linejoin="round"/>
<g fill="#000" stroke="#000" stroke-linejoin="round"><path d="M330.9 292.2l0.5 0 0.8 23 1.6 2 1.6 2 1.6-2 1.6 0 1.6 1 1.6-2 1.6 1 1.6-1 1.6 1 1.6-1 1.6-2 1.6 1 1.6 0 1.6 0 1.6 0 1.6-3 1.6-1 1.6 1 1.6-1 1.6 1 1.6-3 1.6-1 1.6-1 1.6-1 1.6 1 1.6-3 1.6-2 1.6 1 1.6-2 1.6 2 1.6-2 1.6-3 1.6-5 1.6-2 1.6 1 1.6-1 1.6 7 1.6 3 1.6 2 1.6-1 1.6 3 1.6 2 1.6 1 1.6 1 1.6 4 1.6 1 1.6 0 1.6 1 1.6 0 1.6 3 1.6-1 1.6 3 1.6-1 1.6 1 1.6 0 1.6 0 1.6 1 1.6 0 1.6-1 0.2 1 23.4 0 0 0-23.4 0-0.2 1-1.6 0-1.6 0-1.6-1-1.6 1-1.6 0-1.6 0-1.6 0-1.6-2-1.6 1-1.6-1-1.6-1-1.6-1-1.6 1-1.6 0-1.6-3-1.6-2-1.6 1-1.6-2-1.6-4-1.6 1-1.6-1-1.6 1-1.6-6-1.6-3-1.6 7-1.6-1-1.6-1-1.6 4-1.6 4-1.6-7-1.6 1-1.6 0-1.6 3-1.6 4-1.6-3-1.6 1-1.6 0-1.6 2-1.6 2-1.6-1-1.6 2-1.6-2-1.6 0-1.6 3-1.6 1-1.6 1-1.6 0-1.6-1-1.6 1-1.6 1-1.6-1-1.6 1-1.6-1-1.6 1-1.6 0-1.6 0-1.6 0-1.6 0-1.6-3-0.8-23-0.5 0Z" stroke-width="8.4"/></g>
</g>
<path d="M321.9 251H455.9V339.9H321.9ZM327.7 256.1V335H450.1V256.1Z" fill="#ff0000" fill-rule="evenodd"/>
<path d="M306.3 253.4H321.9M306.3 321H321.9" stroke="#ff0000" stroke-width="4.8"/>
<path d="M314.2 304.1H321.9M314.2 287.2H321.9M314.2 270.3H321.9" stroke="#000" stroke-width="3"/>
<path d="M330.9 339.9V355.9M389.3 339.9V355.9M447.7 339.9V355.9" stroke="#ff0000" stroke-width="4.3"/>
<path d="M345.5 339.9V348.7M360.1 339.9V348.7M374.7 339.9V348.7M403.9 339.9V348.7M418.5 339.9V348.7M433.1 339.9V348.7" stroke="#000" stroke-width="2.9"/>
</g>
<g transform="translate(1077,353.8)">
<g clip-path="url(#pc)">
<path transform="translate(328.8 0)scale(3.128 1)" d="M0 331V285h1V286h1V302h1V304h1V304h1V290h1V288h1V302h1V282h1V297h1V296h1V277h1V264h1V255h1V259h1V273h1V269h1V262h1V250h1V261h1V251h1V267h1V261h1V291h1V293h1V297h1V298h1V282h1V285h1V300h1V304h1V306h1V307h1V309h1V315h1V321h1V321h-1V325h-1V329h-1V331h-1V331h-1V330h-1V332h-1V329h-1V329h-1V330h-1V330h-1V330h-1V333h-1V330h-1V335h-1V333h-1V336h-1V337h-1V334h-1V334h-1V332h-1V334h-1V334h-1V330h-1V330h-1V332h-1V332h-1V332h-1V333h-1V331h-1V331h-1V331h-1V330h-1V332h-1V330h-1V331h-1Z" fill="#88b3da"/>
<path transform="translate(328.8 0)scale(3.128 1)" d="M0 324V267h1V295h1V307h1V308h1V309h1V309h1V309h1V309h1V307h1V305h1V304h1V298h1V296h1V293h1V288h1V285h1V283h1V275h1V273h1V272h1V266h1V279h1V291h1V299h1V301h1V303h1V305h1V304h1V307h1V306h1V310h1V312h1V312h1V314h1V317h1V321h1V321h-1V323h-1V326h-1V325h-1V325h-1V327h-1V326h-1V325h-1V326h-1V326h-1V325h-1V325h-1V325h-1V325h-1V326h-1V325h-1V326h-1V325h-1V325h-1V326h-1V327h-1V326h-1V325h-1V326h-1V326h-1V326h-1V326h-1V326h-1V325h-1V325h-1V325h-1V326h-1V326h-1V325h-1V325h-1V324h-1Z" fill="#cdb498"/>
<path transform="translate(328.8 0)scale(3.128 1)" d="M0 322V276h1V300h1V311h1V311h1V313h1V312h1V313h1V313h1V311h1V308h1V307h1V303h1V300h1V297h1V294h1V293h1V289h1V284h1V280h1V280h1V275h1V286h1V297h1V304h1V306h1V308h1V308h1V308h1V311h1V311h1V313h1V315h1V315h1V317h1V319h1V321h1V321h-1V322h-1V322h-1V322h-1V322h-1V322h-1V322h-1V322h-1V322h-1V322h-1V322h-1V322h-1V322h-1V322h-1V322h-1V322h-1V322h-1V322h-1V322h-1V322h-1V322h-1V322h-1V322h-1V322h-1V322h-1V322h-1V322h-1V322h-1V322h-1V322h-1V322h-1V322h-1V322h-1V322h-1V322h-1V322h-1Z" fill="#b3cfd4"/>
<path d="M360.1 256.1V335M418.5 256.1V335M433.1 256.1V335M327.7 304.1H450.1M327.7 287.2H450.1M327.7 270.3H450.1" stroke="#bababa" stroke-width="1.1" fill="none"/>
<path d="M330.6 256.1V335M389 256.1V335M447.4 256.1V335" stroke="#ff0000" stroke-opacity="0.5" stroke-width="5" fill="none"/>
<path d="M368 321L378.4 319.9L386 318.9L391.8 320.3L395.1 321.6" fill="none" stroke="#f00" stroke-opacity="0.4" stroke-width="5" stroke-linejoin="round"/>
<g fill="#000" stroke="#000" stroke-linejoin="round"><path d="M330.9 292.2l0.5 0 0.8 23 1.6 2 1.6 1 1.6 0 1.6 0 1.6 0 1.6-1 1.6 1 1.6-1 1.6 0 1.6-1 1.6 1 1.6 0 1.6-2 1.6 1 1.6-1 1.6 1 1.6 0 1.6-3 1.6-1 1.6 1 1.6-2 1.6 1 1.6-3 1.6 0 1.6-3 1.6 2 1.6-1 1.6-1 1.6-4 1.6-1 1.6-3 1.6-1 1.6 1 1.6-4 1.6 0 1.6-3 1.6 1 1.6-1 1.6 8 1.6 4 1.6 5 1.6 1 1.6 2 1.6 0 1.6 2 1.6 1 1.6 0 1.6 0 1.6 0 1.6 0 1.6 2 1.6 0 1.6 0 1.6-1 1.6 2 1.6 0 1.6 1 1.6 0 1.6 0 1.6 0 1.6 3 1.6-2 1.6 1 1.6 1 1.6-1 1.6 1 1.5 0 10.9 0 0 0-10.9 0-1.5 1-1.6-1-1.6 0-1.6 1-1.6-1-1.6 1-1.6-1-1.6 1-1.6-1-1.6 1-1.6-1-1.6 0-1.6-2-1.6 1-1.6 1-1.6-1-1.6-2-1.6 2-1.6-2-1.6 0-1.6 0-1.6 1-1.6-1-1.6-1-1.6-3-1.6 0-1.6-1-1.6-4-1.6-6-1.6 0-1.6-4-1.6 7-1.6-3-1.6 8-1.6-4-1.6-1-1.6 4-1.6 1-1.6 6-1.6-1-1.6-2-1.6-2-1.6 4-1.6 0-1.6 1-1.6 0-1.6 2-1.6-3-1.6 1-1.6 3-1.6 0-1.6-1-1.6 0-1.6 0-1.6 2-1.6 0-1.6-3-1.6 3-1.6 0-1.6 0-1.6-1-1.6 2-1.6 0-1.6 0-1.6-1-1.6 1-1.6-4-0.8-22-0.5 0Z" stroke-width="8.4"/></g>
</g>
<path d="M321.9 251H455.9V339.9H321.9ZM327.7 256.1V335H450.1V256.1Z" fill="#ff0000" fill-rule="evenodd"/>
<path d="M306.3 253.4H321.9M306.3 321H321.9" stroke="#ff0000" stroke-width="4.8"/>
<path d="M314.2 304.1H321.9M314.2 287.2H321.9M314.2 270.3H321.9" stroke="#000" stroke-width="3"/>
<path d="M330.9 339.9V355.9M389.3 339.9V355.9M447.7 339.9V355.9" stroke="#ff0000" stroke-width="4.3"/>
<path d="M345.5 339.9V348.7M360.1 339.9V348.7M374.7 339.9V348.7M403.9 339.9V348.7M418.5 339.9V348.7M433.1 339.9V348.7" stroke="#000" stroke-width="2.9"/>
</g>
<g transform="translate(1256.5,353.8)">
<g clip-path="url(#pc)">
<path transform="translate(328.8 0)scale(3.128 1)" d="M0 336V290h1V288h1V300h1V285h1V300h1V302h1V301h1V281h1V284h1V295h1V291h1V290h1V261h1V281h1V261h1V281h1V264h1V278h1V250h1V274h1V250h1V273h1V267h1V274h1V283h1V285h1V297h1V304h1V297h1V305h1V307h1V303h1V303h1V312h1V320h1V322h-1V328h-1V331h-1V331h-1V329h-1V331h-1V329h-1V332h-1V333h-1V333h-1V333h-1V332h-1V332h-1V337h-1V336h-1V333h-1V334h-1V334h-1V333h-1V332h-1V334h-1V333h-1V331h-1V331h-1V329h-1V329h-1V329h-1V332h-1V330h-1V330h-1V330h-1V330h-1V332h-1V335h-1V336h-1Z" fill="#88b3da"/>
<path transform="translate(328.8 0)scale(3.128 1)" d="M0 326V279h1V296h1V307h1V308h1V306h1V307h1V307h1V306h1V305h1V302h1V300h1V299h1V296h1V292h1V292h1V291h1V291h1V288h1V284h1V286h1V284h1V283h1V281h1V286h1V290h1V293h1V303h1V309h1V310h1V311h1V312h1V314h1V314h1V316h1V320h1V321h-1V325h-1V326h-1V325h-1V326h-1V326h-1V325h-1V325h-1V325h-1V326h-1V326h-1V326h-1V326h-1V325h-1V325h-1V326h-1V326h-1V326h-1V326h-1V326h-1V325h-1V326h-1V326h-1V325h-1V326h-1V326h-1V326h-1V327h-1V326h-1V325h-1V326h-1V325h-1V327h-1V326h-1V326h-1Z" fill="#cdb498"/>
<path transform="translate(328.8 0)scale(3.128 1)" d="M0 322V284h1V300h1V310h1V311h1V310h1V311h1V311h1V310h1V308h1V307h1V304h1V302h1V300h1V299h1V299h1V298h1V298h1V294h1V290h1V291h1V290h1V289h1V289h1V292h1V295h1V298h1V306h1V313h1V314h1V314h1V315h1V316h1V317h1V318h1V321h1V321h-1V322h-1V322h-1V322h-1V322h-1V322h-1V322h-1V322h-1V322h-1V322h-1V322h-1V322h-1V322h-1V322h-1V322h-1V322h-1V322h-1V322h-1V322h-1V322h-1V322h-1V322h-1V322h-1V322h-1V322h-1V322h-1V322h-1V322h-1V322h-1V322h-1V322h-1V322h-1V322h-1V322h-1V322h-1Z" fill="#b3cfd4"/>
<path d="M345.5 256.1V335M360.1 256.1V335M374.7 256.1V335M403.9 256.1V335M433.1 256.1V335M327.7 304.1H450.1M327.7 287.2H450.1M327.7 270.3H450.1" stroke="#bababa" stroke-width="1.1" fill="none"/>
<path d="M330.6 256.1V335M389 256.1V335M447.4 256.1V335" stroke="#ff0000" stroke-opacity="0.5" stroke-width="5" fill="none"/>
<path d="M373.4 321L383.9 319.9L391.4 318.9L397.2 320.3L400.6 321.6" fill="none" stroke="#f00" stroke-opacity="0.4" stroke-width="5" stroke-linejoin="round"/>
<g fill="#000" stroke="#000" stroke-linejoin="round"><path d="M330.9 294.3l0.5 0 0.8 20 1.6 1 1.6 0 1.6 0 1.6 1 1.6 0 1.6 0 1.6-1 1.6 1 1.6-2 1.6 1 1.6 0 1.6 1 1.6-1 1.6 0 1.6-1 1.6-1 1.6 1 1.6-1 1.6-2 1.6 0 1.6-2 1.6 3 1.6-3 1.6-2 1.6 0 1.6 1 1.6-2 1.6 1 1.6-1 1.6-3 1.6 2 1.6 1 1.6-2 1.6-2 1.6 2 1.6-6 1.6 3 1.6-4 1.6 2 1.6-2 1.6 3 1.6 1 1.6-2 1.6 4 1.6 3 1.6 1 1.6 1 1.6 2 1.6 2 1.6 4 1.6 1 1.6 1 1.6 1 1.6-1 1.6 1 1.6 1 1.6-2 1.6 2 1.6-1 1.6 0 1.6 1 1.6 1 1.6-1 1.6 0 1.6 1 1.1 0 12.9 0 0 0-12.9 0-1.1 1-1.6 0-1.6-1-1.6 0-1.6 1-1.6 0-1.6 0-1.6 0-1.6-1-1.6 1-1.6-1-1.6 1-1.6 0-1.6-1-1.6-1-1.6-1-1.6-3-1.6 1-1.6-2-1.6-2-1.6 1-1.6-1-1.6-7-1.6 3-1.6 0-1.6-1-1.6 0-1.6 0-1.6 0-1.6-1-1.6 4-1.6-2-1.6 5-1.6-3-1.6 2-1.6 1-1.6 1-1.6 1-1.6-3-1.6 3-1.6-1-1.6-2-1.6 4-1.6 2-1.6-4-1.6 2-1.6-1-1.6 4-1.6 0-1.6-1-1.6-1-1.6 1-1.6 2-1.6 0-1.6 0-1.6-1-1.6-1-1.6 3-1.6-1-1.6-1-1.6 1-1.6 0-1.6-2-1.6 1-1.6 0-1.6-3-0.8-19-0.5 0Z" stroke-width="8.4"/></g>
</g>
<path d="M321.9 251H455.9V339.9H321.9ZM327.7 256.1V335H450.1V256.1Z" fill="#ff0000" fill-rule="evenodd"/>
<path d="M306.3 253.4H321.9M306.3 321H321.9" stroke="#ff0000" stroke-width="4.8"/>
<path d="M314.2 304.1H321.9M314.2 287.2H321.9M314.2 270.3H321.9" stroke="#000" stroke-width="3"/>
<path d="M330.9 339.9V355.9M389.3 339.9V355.9M447.7 339.9V355.9" stroke="#ff0000" stroke-width="4.3"/>
<path d="M345.5 339.9V348.7M360.1 339.9V348.7M374.7 339.9V348.7M403.9 339.9V348.7M418.5 339.9V348.7M433.1 339.9V348.7" stroke="#000" stroke-width="2.9"/>
</g>
<g transform="translate(1436,353.8)">
<g clip-path="url(#pc)">
<path transform="translate(328.8 0)scale(3.128 1)" d="M0 334V289h1V288h1V305h1V305h1V302h1V301h1V301h1V284h1V299h1V297h1V292h1V290h1V288h1V279h1V270h1V258h1V250h1V250h1V258h1V275h1V282h1V258h1V291h1V296h1V300h1V300h1V302h1V303h1V299h1V308h1V312h1V318h1V324h-1V328h-1V329h-1V331h-1V331h-1V331h-1V331h-1V333h-1V332h-1V331h-1V333h-1V334h-1V335h-1V336h-1V334h-1V336h-1V332h-1V332h-1V331h-1V332h-1V330h-1V330h-1V330h-1V331h-1V329h-1V330h-1V333h-1V331h-1V332h-1V333h-1V333h-1V334h-1Z" fill="#88b3da"/>
<path transform="translate(328.8 0)scale(3.128 1)" d="M0 327V278h1V297h1V311h1V310h1V309h1V308h1V306h1V306h1V305h1V303h1V299h1V298h1V296h1V288h1V282h1V275h1V262h1V262h1V273h1V287h1V292h1V296h1V299h1V303h1V307h1V307h1V309h1V309h1V312h1V313h1V315h1V319h1V323h-1V326h-1V326h-1V326h-1V326h-1V325h-1V326h-1V326h-1V326h-1V326h-1V327h-1V326h-1V325h-1V325h-1V325h-1V326h-1V326h-1V325h-1V325h-1V326h-1V326h-1V326h-1V325h-1V327h-1V327h-1V326h-1V325h-1V325h-1V326h-1V325h-1V325h-1V327h-1Z" fill="#cdb498"/>
<path transform="translate(328.8 0)scale(3.128 1)" d="M0 322V283h1V301h1V314h1V313h1V311h1V311h1V310h1V310h1V309h1V306h1V303h1V302h1V300h1V295h1V291h1V285h1V272h1V273h1V279h1V290h1V296h1V299h1V303h1V306h1V309h1V311h1V312h1V312h1V314h1V315h1V317h1V320h1V321h-1V322h-1V322h-1V322h-1V322h-1V322h-1V322h-1V322h-1V322h-1V322h-1V322h-1V322h-1V322h-1V322h-1V322h-1V322h-1V322h-1V322h-1V322h-1V322h-1V322h-1V322h-1V322h-1V322h-1V322h-1V322h-1V322h-1V322h-1V322h-1V322h-1V322h-1V322h-1Z" fill="#b3cfd4"/>
<path d="M345.5 256.1V335M374.7 256.1V335M418.5 256.1V335M433.1 256.1V335M327.7 304.1H450.1M327.7 287.2H450.1M327.7 270.3H450.1" stroke="#bababa" stroke-width="1.1" fill="none"/>
<path d="M330.6 256.1V335M389 256.1V335M447.4 256.1V335" stroke="#ff0000" stroke-opacity="0.5" stroke-width="5" fill="none"/>
<path d="M360.1 321L370.5 319.9L378 318.9L383.9 320.3L387.2 321.6" fill="none" stroke="#f00" stroke-opacity="0.4" stroke-width="5" stroke-linejoin="round"/>
<g fill="#000" stroke="#000" stroke-linejoin="round"><path d="M330.9 294.3l0.5 0 0.8 21 1.6 3 1.6-2 1.6 2 1.6 0 1.6 0 1.6-1 1.6 0 1.6-2 1.6 2 1.6 0 1.6-1 1.6 1 1.6-2 1.6 0 1.6 0 1.6-1 1.6-1 1.6 0 1.6-1 1.6-3 1.6 0 1.6 0 1.6-2 1.6 0 1.6-3 1.6 1 1.6-2 1.6-3 1.6-6 1.6-4 1.6-2 1.6-3 1.6 6 1.6 3 1.6 5 1.6-1 1.6 5 1.6 0 1.6 3 1.6 0 1.6 4 1.6 1 1.6 0 1.6 1 1.6 3 1.6 1 1.6 0 1.6 0 1.6 1 1.6 0 1.6 2 1.6 1 1.6 0 1.6-1 1.6 2 1.6 0 1.6-1 1.6 0 1.6 2 1.6-1 0.7 0 21.3 0 0 0-21.3 0-0.7 1-1.6-1-1.6 1-1.6 0-1.6-1-1.6 1-1.6 0-1.6 0-1.6-1-1.6 1-1.6-2-1.6 1-1.6-1-1.6 1-1.6-2-1.6 1-1.6-1-1.6-1-1.6 0-1.6-2-1.6-4-1.6-1-1.6-3-1.6 3-1.6-3-1.6 0-1.6-3-1.6 0-1.6-8-1.6 5-1.6-1-1.6 5-1.6 1-1.6 6-1.6-1-1.6 1-1.6 1-1.6 2-1.6 1-1.6-1-1.6-2-1.6 4-1.6-1-1.6 2-1.6-1-1.6 1-1.6 1-1.6 0-1.6 1-1.6-1-1.6 1-1.6-1-1.6-1-1.6 1-1.6 0-1.6 1-1.6 0-1.6 0-1.6 0-1.6 0-1.6-1-0.8-22-0.5 0Z" stroke-width="8.4"/></g>
</g>
<path d="M321.9 251H455.9V339.9H321.9ZM327.7 256.1V335H450.1V256.1Z" fill="#ff0000" fill-rule="evenodd"/>
<path d="M306.3 253.4H321.9M306.3 321H321.9" stroke="#ff0000" stroke-width="4.8"/>
<path d="M314.2 304.1H321.9M314.2 287.2H321.9M314.2 270.3H321.9" stroke="#000" stroke-width="3"/>
<path d="M330.9 339.9V355.9M389.3 339.9V355.9M447.7 339.9V355.9" stroke="#ff0000" stroke-width="4.3"/>
<path d="M345.5 339.9V348.7M360.1 339.9V348.7M374.7 339.9V348.7M403.9 339.9V348.7M418.5 339.9V348.7M433.1 339.9V348.7" stroke="#000" stroke-width="2.9"/>
</g>
<g transform="translate(1615.5,353.8)">
<g clip-path="url(#pc)">
<path transform="translate(328.8 0)scale(3.128 1)" d="M0 331V288h1V289h1V303h1V294h1V304h1V302h1V301h1V290h1V299h1V277h1V297h1V292h1V274h1V286h1V286h1V277h1V269h1V250h1V250h1V250h1V261h1V278h1V254h1V281h1V292h1V297h1V288h1V304h1V303h1V306h1V291h1V302h1V304h1V310h1V311h1V303h1V302h1V318h1V324h-1V329h-1V330h-1V329h-1V330h-1V331h-1V330h-1V331h-1V332h-1V333h-1V333h-1V332h-1V332h-1V332h-1V334h-1V333h-1V333h-1V335h-1V332h-1V333h-1V334h-1V335h-1V333h-1V333h-1V332h-1V332h-1V332h-1V332h-1V331h-1V332h-1V332h-1V331h-1V330h-1V331h-1V332h-1V330h-1V332h-1V331h-1Z" fill="#88b3da"/>
<path transform="translate(328.8 0)scale(3.128 1)" d="M0 325V271h1V297h1V308h1V307h1V309h1V307h1V306h1V304h1V304h1V304h1V303h1V298h1V297h1V294h1V292h1V286h1V282h1V267h1V262h1V258h1V271h1V285h1V292h1V293h1V301h1V305h1V305h1V308h1V307h1V311h1V310h1V313h1V313h1V313h1V314h1V314h1V316h1V319h1V323h-1V326h-1V327h-1V327h-1V326h-1V326h-1V326h-1V326h-1V326h-1V325h-1V326h-1V326h-1V325h-1V325h-1V325h-1V326h-1V327h-1V326h-1V325h-1V325h-1V325h-1V326h-1V326h-1V325h-1V326h-1V325h-1V325h-1V325h-1V325h-1V326h-1V326h-1V326h-1V326h-1V325h-1V325h-1V326h-1V326h-1V325h-1Z" fill="#cdb498"/>
<path transform="translate(328.8 0)scale(3.128 1)" d="M0 322V281h1V302h1V311h1V311h1V312h1V311h1V310h1V308h1V307h1V308h1V307h1V303h1V303h1V301h1V298h1V292h1V287h1V275h1V272h1V269h1V280h1V291h1V298h1V300h1V306h1V310h1V310h1V312h1V312h1V315h1V315h1V316h1V317h1V316h1V317h1V317h1V318h1V320h1V321h-1V322h-1V322h-1V322h-1V322h-1V322h-1V322h-1V322h-1V322h-1V322h-1V322h-1V322h-1V322h-1V322h-1V322h-1V322h-1V322h-1V322h-1V322h-1V322h-1V322h-1V322h-1V322h-1V322h-1V322h-1V322h-1V322h-1V322h-1V322h-1V322h-1V322h-1V322h-1V322h-1V322h-1V322h-1V322h-1V322h-1V322h-1Z" fill="#b3cfd4"/>
<path d="M360.1 256.1V335M403.9 256.1V335M433.1 256.1V335M327.7 304.1H450.1M327.7 287.2H450.1M327.7 270.3H450.1" stroke="#bababa" stroke-width="1.1" fill="none"/>
<path d="M330.6 256.1V335M389 256.1V335M447.4 256.1V335" stroke="#ff0000" stroke-opacity="0.5" stroke-width="5" fill="none"/>
<path d="M364.3 321L374.7 319.9L382.2 318.9L388 320.3L391.4 321.6" fill="none" stroke="#f00" stroke-opacity="0.4" stroke-width="5" stroke-linejoin="round"/>
<g fill="#000" stroke="#000" stroke-linejoin="round"><path d="M330.9 294.1l0.5 0 0.8 21 1.6 2 1.6 1 1.6-1 1.6 0 1.6 2 1.6-1 1.6 1 1.6-1 1.6 1 1.6-2 1.6-1 1.6 1 1.6 0 1.6-1 1.6 0 1.6-2 1.6 0 1.6 1 1.6-2 1.6-2 1.6-1 1.6 0 1.6 1 1.6-2 1.6-2 1.6-2 1.6 1 1.6-3 1.6 1 1.6-4 1.6-2 1.6-4 1.6-5 1.6-2 1.6-1 1.6 3 1.6 1 1.6 4 1.6 7 1.6 3 1.6 1 1.6 0 1.6 3 1.6 0 1.6 4 1.6 3 1.6-1 1.6 0 1.6 2 1.6 0 1.6 0 1.6 1 1.6 0 1.6 1 1.6 0 1.6 0 1.6 2 1.6-1 1.6 0 1.6 2 1.6-2 1.6 1 1.6 0 1.6-1 1.6 2 1.6 0 1.6-1 1.6 0 1.6 0 1.6 0 1.6 2 1.6-2 0.3 1 2.5 0 0 0-2.5 0-0.3 1-1.6 0-1.6 0-1.6 0-1.6 0-1.6 0-1.6 0-1.6 0-1.6 0-1.6 0-1.6 0-1.6-1-1.6 1-1.6-1-1.6 1-1.6 0-1.6 0-1.6-1-1.6 1-1.6-2-1.6 0-1.6 0-1.6 1-1.6-1-1.6-2-1.6 0-1.6 3-1.6-2-1.6-4-1.6 2-1.6-3-1.6-1-1.6-2-1.6-1-1.6-5-1.6-1-1.6-3-1.6-1-1.6-3-1.6 4-1.6 5-1.6 3-1.6-1-1.6 4-1.6-3-1.6 4-1.6-1-1.6 3-1.6 2-1.6-1-1.6 1-1.6-2-1.6 0-1.6 2-1.6 3-1.6-1-1.6-2-1.6 4-1.6 0-1.6 0-1.6 0-1.6-2-1.6 2-1.6 1-1.6-1-1.6 0-1.6 0-1.6 1-1.6 0-1.6 0-1.6 0-1.6-1-1.6-2-0.8-21-0.5 0Z" stroke-width="8.4"/></g>
</g>
<path d="M321.9 251H455.9V339.9H321.9ZM327.7 256.1V335H450.1V256.1Z" fill="#ff0000" fill-rule="evenodd"/>
<path d="M306.3 253.4H321.9M306.3 321H321.9" stroke="#ff0000" stroke-width="4.8"/>
<path d="M314.2 304.1H321.9M314.2 287.2H321.9M314.2 270.3H321.9" stroke="#000" stroke-width="3"/>
<path d="M330.9 339.9V355.9M389.3 339.9V355.9M447.7 339.9V355.9" stroke="#ff0000" stroke-width="4.3"/>
<path d="M345.5 339.9V348.7M360.1 339.9V348.7M374.7 339.9V348.7M403.9 339.9V348.7M418.5 339.9V348.7M433.1 339.9V348.7" stroke="#000" stroke-width="2.9"/>
</g>
<g transform="translate(1795,353.8)">
<g clip-path="url(#pc)">
<path transform="translate(328.8 0)scale(3.128 1)" d="M0 334V285h1V287h1V303h1V285h1V284h1V299h1V295h1V294h1V291h1V291h1V262h1V261h1V271h1V272h1V286h1V279h1V250h1V253h1V250h1V272h1V256h1V260h1V250h1V268h1V273h1V284h1V299h1V302h1V307h1V314h1V321h1V321h-1V326h-1V332h-1V330h-1V333h-1V333h-1V331h-1V333h-1V334h-1V336h-1V332h-1V334h-1V335h-1V338h-1V335h-1V334h-1V330h-1V333h-1V334h-1V333h-1V331h-1V333h-1V333h-1V331h-1V331h-1V330h-1V329h-1V331h-1V331h-1V333h-1V334h-1Z" fill="#88b3da"/>
<path transform="translate(328.8 0)scale(3.128 1)" d="M0 326V265h1V294h1V308h1V307h1V304h1V306h1V302h1V301h1V300h1V299h1V295h1V290h1V284h1V283h1V294h1V288h1V276h1V267h1V264h1V284h1V270h1V274h1V279h1V291h1V299h1V304h1V306h1V307h1V312h1V317h1V321h1V321h-1V324h-1V325h-1V326h-1V326h-1V325h-1V325h-1V325h-1V326h-1V326h-1V325h-1V326h-1V326h-1V326h-1V326h-1V325h-1V325h-1V325h-1V326h-1V327h-1V326h-1V325h-1V326h-1V326h-1V326h-1V325h-1V326h-1V327h-1V327h-1V326h-1V326h-1Z" fill="#cdb498"/>
<path transform="translate(328.8 0)scale(3.128 1)" d="M0 322V279h1V302h1V312h1V311h1V309h1V310h1V306h1V306h1V303h1V303h1V300h1V296h1V292h1V290h1V299h1V293h1V281h1V274h1V274h1V292h1V281h1V281h1V286h1V297h1V305h1V309h1V310h1V311h1V315h1V318h1V321h1V321h-1V322h-1V322h-1V322h-1V322h-1V322h-1V322h-1V322h-1V322h-1V322h-1V322h-1V322h-1V322h-1V322h-1V322h-1V322h-1V322h-1V322h-1V322h-1V322h-1V322h-1V322h-1V322h-1V322h-1V322h-1V322h-1V322h-1V322h-1V322h-1V322h-1V322h-1Z" fill="#b3cfd4"/>
<path d="M345.5 256.1V335M374.7 256.1V335M403.9 256.1V335M418.5 256.1V335M327.7 304.1H450.1M327.7 287.2H450.1M327.7 270.3H450.1" stroke="#bababa" stroke-width="1.1" fill="none"/>
<path d="M330.6 256.1V335M389 256.1V335M447.4 256.1V335" stroke="#ff0000" stroke-opacity="0.5" stroke-width="5" fill="none"/>
<path d="M361.8 321L372.2 319.9L379.7 318.9L385.5 320.3L388.9 321.6" fill="none" stroke="#f00" stroke-opacity="0.4" stroke-width="5" stroke-linejoin="round"/>
<g fill="#000" stroke="#000" stroke-linejoin="round"><path d="M330.9 292.6l0.5 0 0.8 22 1.6 2 1.6 0 1.6 0 1.6 0 1.6-2 1.6 1 1.6 0 1.6-1 1.6-1 1.6 0 1.6 0 1.6-1 1.6-2 1.6 2 1.6-2 1.6-2 1.6 0 1.6-1 1.6 0 1.6 0 1.6-1 1.6-3 1.6-1 1.6 2 1.6 2 1.6 0 1.6 3 1.6-3 1.6-4 1.6-2 1.6-4 1.6-7 1.6-2 1.6 3 1.6 9 1.6 5 1.6-3 1.6-7 1.6-2 1.6-2 1.6 7 1.6 6 1.6 4 1.6 2 1.6 2 1.6 1 1.6 0 1.6 2 1.6-1 1.6 1 1.6 2 1.6 1 1.6 0 1.6 2 1.6 0 1.6 1 1.6 0 0.9 0 25.9 0 0 0-25.9 0-0.9 0-1.6 1-1.6 0-1.6-1-1.6 1-1.6-1-1.6 1-1.6-3-1.6-1-1.6 2-1.6-3-1.6 4-1.6-2-1.6-4-1.6 1-1.6-4-1.6-5-1.6-3-1.6 2-1.6 2-1.6 2-1.6 6-1.6-5-1.6-9-1.6 0-1.6 3-1.6 3-1.6 0-1.6 1-1.6 5-1.6 2-1.6-1-1.6 1-1.6-1-1.6-3-1.6-1-1.6 5-1.6-1-1.6-2-1.6 1-1.6 1-1.6 0-1.6 2-1.6 0-1.6 0-1.6 2-1.6 1-1.6 0-1.6 0-1.6-1-1.6 2-1.6 0-1.6 0-1.6 0-1.6 1-1.6 0-1.6-2-1.6-1-0.8-23-0.5 0Z" stroke-width="8.4"/></g>
</g>
<path d="M321.9 251H455.9V339.9H321.9ZM327.7 256.1V335H450.1V256.1Z" fill="#ff0000" fill-rule="evenodd"/>
<path d="M306.3 253.4H321.9M306.3 321H321.9" stroke="#ff0000" stroke-width="4.8"/>
<path d="M314.2 304.1H321.9M314.2 287.2H321.9M314.2 270.3H321.9" stroke="#000" stroke-width="3"/>
<path d="M330.9 339.9V355.9M389.3 339.9V355.9M447.7 339.9V355.9" stroke="#ff0000" stroke-width="4.3"/>
<path d="M345.5 339.9V348.7M360.1 339.9V348.7M374.7 339.9V348.7M403.9 339.9V348.7M418.5 339.9V348.7M433.1 339.9V348.7" stroke="#000" stroke-width="2.9"/>
</g>
<g transform="translate(0,471.7)">
<g clip-path="url(#pc)">
<path transform="translate(328.8 0)scale(3.128 1)" d="M0 333V288h1V288h1V306h1V304h1V286h1V299h1V296h1V293h1V290h1V288h1V258h1V281h1V250h1V279h1V264h1V250h1V250h1V250h1V261h1V276h1V297h1V287h1V299h1V308h1V301h1V312h1V303h1V316h1V324h-1V328h-1V330h-1V329h-1V331h-1V329h-1V330h-1V329h-1V330h-1V334h-1V335h-1V333h-1V333h-1V333h-1V331h-1V334h-1V334h-1V332h-1V332h-1V331h-1V332h-1V329h-1V330h-1V331h-1V329h-1V331h-1V329h-1V333h-1Z" fill="#88b3da"/>
<path transform="translate(328.8 0)scale(3.128 1)" d="M0 325V272h1V295h1V311h1V309h1V308h1V306h1V302h1V301h1V296h1V296h1V293h1V289h1V291h1V288h1V275h1V264h1V250h1V250h1V275h1V297h1V304h1V310h1V312h1V313h1V314h1V315h1V315h1V319h1V322h-1V325h-1V325h-1V327h-1V325h-1V326h-1V325h-1V325h-1V326h-1V325h-1V326h-1V325h-1V326h-1V325h-1V325h-1V325h-1V325h-1V325h-1V326h-1V325h-1V325h-1V325h-1V325h-1V325h-1V326h-1V325h-1V326h-1V325h-1Z" fill="#cdb498"/>
<path transform="translate(328.8 0)scale(3.128 1)" d="M0 322V284h1V301h1V313h1V312h1V311h1V309h1V306h1V304h1V300h1V300h1V298h1V295h1V295h1V295h1V285h1V274h1V260h1V259h1V284h1V302h1V309h1V314h1V315h1V316h1V317h1V317h1V317h1V320h1V321h-1V322h-1V322h-1V322h-1V322h-1V322h-1V322h-1V322h-1V322h-1V322h-1V322h-1V322h-1V322h-1V322h-1V322h-1V322h-1V322h-1V322h-1V322h-1V322h-1V322h-1V322h-1V322h-1V322h-1V322h-1V322h-1V322h-1V322h-1Z" fill="#b3cfd4"/>
<path d="M345.5 256.1V335M374.7 256.1V335M418.5 256.1V335M433.1 256.1V335M327.7 270.3H450.1" stroke="#bababa" stroke-width="1.1" fill="none"/>
<path d="M330.6 256.1V335M389 256.1V335M447.4 256.1V335" stroke="#ff0000" stroke-opacity="0.5" stroke-width="5" fill="none"/>
<path d="M358.8 321L369.3 319.9L376.8 318.9L382.6 320.3L386 321.6" fill="none" stroke="#f00" stroke-opacity="0.4" stroke-width="5" stroke-linejoin="round"/>
<g fill="#000" stroke="#000" stroke-linejoin="round"><path d="M330.9 293.7l0.5 0 0.8 21 1.6 4 1.6-1 1.6 0 1.6 0 1.6-2 1.6 0 1.6 0 1.6-1 1.6-2 1.6-1 1.6 0 1.6-1 1.6-1 1.6-1 1.6-3 1.6 0 1.6-1 1.6 0 1.6 0 1.6-3 1.6 2 1.6-2 1.6 1 1.6 1 1.6-1 1.6-3 1.6-4 1.6 0 1.6-10 1.6-2 1.6-2 1.6 2 1.6 10 1.6 9 1.6 4 1.6 8 1.6 0 1.6 1 1.6 2 1.6 1 1.6 0 1.6 0 1.6 2 1.6 0 1.6-1 1.6 1 1.6 1 1.6 0 1.6-1 1.6 1 1.6-2 1.6 1 1 0 33.8 0 0 0-33.8 0-1 1-1.6 0-1.6 0-1.6 0-1.6 0-1.6 0-1.6 0-1.6 0-1.6 0-1.6 0-1.6 0-1.6 0-1.6 0-1.6 0-1.6-2-1.6 0-1.6 0-1.6-7-1.6-2-1.6-9-1.6-4-1.6 1-1.6 1-1.6-4-1.6 12-1.6-6-1.6 4-1.6 3-1.6 2-1.6-1-1.6-2-1.6 4-1.6-4-1.6 4-1.6 2-1.6-3-1.6 0-1.6 1-1.6 5-1.6-1-1.6 1-1.6 1-1.6 0-1.6 1-1.6 3-1.6 0-1.6-1-1.6-1-1.6 1-1.6 0-1.6 0-1.6 0-1.6-2-0.8-22-0.5 0Z" stroke-width="8.4"/></g>
</g>
<path d="M321.9 251H455.9V339.9H321.9ZM327.7 256.1V335H450.1V256.1Z" fill="#ff0000" fill-rule="evenodd"/>
<path d="M306.3 253.4H321.9M306.3 321H321.9" stroke="#ff0000" stroke-width="4.8"/>
<path d="M314.2 304.1H321.9M314.2 287.2H321.9M314.2 270.3H321.9" stroke="#000" stroke-width="3"/>
<path d="M330.9 339.9V355.9M389.3 339.9V355.9M447.7 339.9V355.9" stroke="#ff0000" stroke-width="4.3"/>
<path d="M345.5 339.9V348.7M360.1 339.9V348.7M374.7 339.9V348.7M403.9 339.9V348.7M418.5 339.9V348.7M433.1 339.9V348.7" stroke="#000" stroke-width="2.9"/>
</g>
<g transform="translate(179.5,471.7)">
<g clip-path="url(#pc)">
<path transform="translate(328.8 0)scale(3.128 1)" d="M0 334V288h1V287h1V310h1V308h1V306h1V301h1V286h1V297h1V275h1V286h1V281h1V250h1V270h1V250h1V250h1V250h1V250h1V250h1V255h1V250h1V287h1V274h1V298h1V284h1V305h1V306h1V311h1V319h1V323h-1V327h-1V329h-1V330h-1V329h-1V329h-1V330h-1V333h-1V330h-1V331h-1V332h-1V333h-1V334h-1V332h-1V335h-1V336h-1V332h-1V333h-1V334h-1V333h-1V332h-1V332h-1V331h-1V331h-1V332h-1V332h-1V333h-1V334h-1Z" fill="#88b3da"/>
<path transform="translate(328.8 0)scale(3.128 1)" d="M0 324V274h1V298h1V315h1V313h1V311h1V308h1V303h1V304h1V297h1V292h1V290h1V287h1V282h1V275h1V271h1V265h1V264h1V264h1V271h1V284h1V296h1V302h1V304h1V307h1V309h1V311h1V314h1V320h1V322h-1V324h-1V325h-1V326h-1V326h-1V325h-1V326h-1V326h-1V326h-1V326h-1V325h-1V325h-1V326h-1V325h-1V326h-1V326h-1V326h-1V327h-1V326h-1V325h-1V327h-1V326h-1V327h-1V326h-1V326h-1V326h-1V326h-1V324h-1Z" fill="#cdb498"/>
<path transform="translate(328.8 0)scale(3.128 1)" d="M0 322V282h1V302h1V317h1V315h1V314h1V311h1V308h1V308h1V303h1V298h1V296h1V294h1V288h1V284h1V279h1V276h1V275h1V274h1V277h1V289h1V302h1V307h1V309h1V312h1V312h1V313h1V317h1V320h1V321h-1V322h-1V322h-1V322h-1V322h-1V322h-1V322h-1V322h-1V322h-1V322h-1V322h-1V322h-1V322h-1V322h-1V322h-1V322h-1V322h-1V322h-1V322h-1V322h-1V322h-1V322h-1V322h-1V322h-1V322h-1V322h-1V322h-1V322h-1Z" fill="#b3cfd4"/>
<path d="M360.1 256.1V335M403.9 256.1V335M433.1 256.1V335M327.7 270.3H450.1" stroke="#bababa" stroke-width="1.1" fill="none"/>
<path d="M330.6 256.1V335M389 256.1V335M447.4 256.1V335" stroke="#ff0000" stroke-opacity="0.5" stroke-width="5" fill="none"/>
<path d="M361.3 321L371.8 319.9L379.3 318.9L385.1 320.3L388.5 321.6" fill="none" stroke="#f00" stroke-opacity="0.4" stroke-width="5" stroke-linejoin="round"/>
<g fill="#000" stroke="#000" stroke-linejoin="round"><path d="M330.9 293.7l0.5 0 0.8 21 1.6 5 1.6 1 1.6-1 1.6-1 1.6 0 1.6-1 1.6-1 1.6-1 1.6 0 1.6 1 1.6-1 1.6-2 1.6-2 1.6 0 1.6 0 1.6-1 1.6-6 1.6 0 1.6-1 1.6-4 1.6 0 1.6-3 1.6 3 1.6-2 1.6-5 1.6 1 1.6-2 1.6 3 1.6-5 1.6 3 1.6-2 1.6-4 1.6 3 1.6 2 1.6 4 1.6 8 1.6 4 1.6 6 1.6-1 1.6 2 1.6-1 1.6 2 1.6 1 1.6 0 1.6 0 1.6 1 1.6 1 1.6 0 1.6 1 1.6 1 1.6 0 1.6-1 0.6 1 34.2 0 0 0-34.2 0-0.6 0-1.6 1-1.6-1-1.6 1-1.6-1-1.6 1-1.6 0-1.6 0-1.6 0-1.6 0-1.6-1-1.6-4-1.6 3-1.6-1-1.6-1-1.6-3-1.6-1-1.6-11-1.6-1-1.6 1-1.6-4-1.6 4-1.6 0-1.6-2-1.6 2-1.6-3-1.6 2-1.6 2-1.6 3-1.6 5-1.6-5-1.6 5-1.6-2-1.6 1-1.6 0-1.6 2-1.6 5-1.6-2-1.6 2-1.6-2-1.6 2-1.6 3-1.6 1-1.6-1-1.6 0-1.6-1-1.6 2-1.6-1-1.6 1-1.6 0-1.6 0-1.6 0-1.6-3-0.8-22-0.5 0Z" stroke-width="8.4"/></g>
</g>
<path d="M321.9 251H455.9V339.9H321.9ZM327.7 256.1V335H450.1V256.1Z" fill="#ff0000" fill-rule="evenodd"/>
<path d="M306.3 253.4H321.9M306.3 321H321.9" stroke="#ff0000" stroke-width="4.8"/>
<path d="M314.2 304.1H321.9M314.2 287.2H321.9M314.2 270.3H321.9" stroke="#000" stroke-width="3"/>
<path d="M330.9 339.9V355.9M389.3 339.9V355.9M447.7 339.9V355.9" stroke="#ff0000" stroke-width="4.3"/>
<path d="M345.5 339.9V348.7M360.1 339.9V348.7M374.7 339.9V348.7M403.9 339.9V348.7M418.5 339.9V348.7M433.1 339.9V348.7" stroke="#000" stroke-width="2.9"/>
</g>
<g transform="translate(359,471.7)">
<g clip-path="url(#pc)">
<path transform="translate(328.8 0)scale(3.128 1)" d="M0 337V291h1V292h1V311h1V310h1V299h1V306h1V304h1V299h1V297h1V266h1V286h1V288h1V282h1V278h1V268h1V266h1V263h1V256h1V261h1V250h1V250h1V277h1V272h1V288h1V294h1V301h1V289h1V305h1V297h1V317h1V321h1V321h-1V324h-1V331h-1V329h-1V331h-1V332h-1V333h-1V333h-1V335h-1V335h-1V335h-1V335h-1V334h-1V337h-1V334h-1V337h-1V335h-1V335h-1V331h-1V331h-1V329h-1V329h-1V329h-1V330h-1V329h-1V331h-1V330h-1V330h-1V329h-1V330h-1V337h-1Z" fill="#88b3da"/>
<path transform="translate(328.8 0)scale(3.128 1)" d="M0 325V283h1V302h1V315h1V314h1V312h1V312h1V309h1V305h1V302h1V297h1V296h1V296h1V292h1V289h1V280h1V277h1V274h1V270h1V272h1V275h1V284h1V286h1V292h1V297h1V301h1V306h1V309h1V310h1V313h1V319h1V321h1V321h-1V323h-1V326h-1V325h-1V325h-1V325h-1V326h-1V326h-1V326h-1V326h-1V326h-1V325h-1V326h-1V326h-1V325h-1V325h-1V325h-1V325h-1V326h-1V325h-1V326h-1V326h-1V326h-1V326h-1V326h-1V326h-1V326h-1V325h-1V325h-1V325h-1V325h-1Z" fill="#cdb498"/>
<path transform="translate(328.8 0)scale(3.128 1)" d="M0 322V288h1V304h1V317h1V317h1V315h1V314h1V313h1V309h1V307h1V304h1V301h1V301h1V298h1V294h1V286h1V283h1V281h1V280h1V283h1V285h1V291h1V293h1V297h1V302h1V306h1V310h1V312h1V314h1V316h1V319h1V321h1V321h-1V322h-1V322h-1V322h-1V322h-1V322h-1V322h-1V322h-1V322h-1V322h-1V322h-1V322h-1V322h-1V322h-1V322h-1V322h-1V322h-1V322h-1V322h-1V322h-1V322h-1V322h-1V322h-1V322h-1V322h-1V322h-1V322h-1V322h-1V322h-1V322h-1V322h-1Z" fill="#b3cfd4"/>
<path d="M345.5 256.1V335M374.7 256.1V335M418.5 256.1V335M327.7 270.3H450.1" stroke="#bababa" stroke-width="1.1" fill="none"/>
<path d="M330.6 256.1V335M389 256.1V335M447.4 256.1V335" stroke="#ff0000" stroke-opacity="0.5" stroke-width="5" fill="none"/>
<path d="M358.4 321L368.9 319.9L376.4 318.9L382.2 320.3L385.5 321.6" fill="none" stroke="#f00" stroke-opacity="0.4" stroke-width="5" stroke-linejoin="round"/>
<g fill="#000" stroke="#000" stroke-linejoin="round"><path d="M330.9 296.9l0.5 0 0.8 18 1.6 4 1.6 2 1.6 0 1.6 0 1.6-1 1.6 1 1.6-2 1.6 0 1.6 0 1.6-2 1.6 0 1.6-1 1.6 1 1.6-3 1.6 0 1.6-2 1.6-2 1.6 0 1.6 1 1.6-2 1.6 0 1.6-3 1.6 0 1.6-1 1.6-4 1.6 0 1.6-4 1.6-1 1.6 0 1.6-5 1.6-1 1.6 1 1.6 3 1.6 3 1.6-1 1.6 2 1.6 0 1.6 2 1.6 5 1.6 0 1.6 2 1.6 2 1.6 1 1.6 1 1.6 2 1.6 0 1.6 2 1.6 0 1.6 1 1.6 3 1.6-1 1.6 2 1.6 0 1.6 0 1.6 1 1.6-1 1.3 1 27.1 0 0 0-27.1 0-1.3 1-1.6-1-1.6 1-1.6 0-1.6-1-1.6 1-1.6 0-1.6-2-1.6 1-1.6-1-1.6-1-1.6 0-1.6-2-1.6-1-1.6 0-1.6 0-1.6-1-1.6-2-1.6-6-1.6-1-1.6 2-1.6-1-1.6-2-1.6 1-1.6-3-1.6-4-1.6-1-1.6 6-1.6 0-1.6 4-1.6 2-1.6 1-1.6 3-1.6-2-1.6-1-1.6 4-1.6 2-1.6-2-1.6-1-1.6 1-1.6 3-1.6 1-1.6-1-1.6 3-1.6-1-1.6 1-1.6-1-1.6 2-1.6 0-1.6 0-1.6 0-1.6 0-1.6 0-1.6 0-1.6 0-1.6-1-1.6-2-0.8-19-0.5 0Z" stroke-width="8.4"/></g>
</g>
<path d="M321.9 251H455.9V339.9H321.9ZM327.7 256.1V335H450.1V256.1Z" fill="#ff0000" fill-rule="evenodd"/>
<path d="M306.3 253.4H321.9M306.3 321H321.9" stroke="#ff0000" stroke-width="4.8"/>
<path d="M314.2 304.1H321.9M314.2 287.2H321.9M314.2 270.3H321.9" stroke="#000" stroke-width="3"/>
<path d="M330.9 339.9V355.9M389.3 339.9V355.9M447.7 339.9V355.9" stroke="#ff0000" stroke-width="4.3"/>
<path d="M345.5 339.9V348.7M360.1 339.9V348.7M374.7 339.9V348.7M403.9 339.9V348.7M418.5 339.9V348.7M433.1 339.9V348.7" stroke="#000" stroke-width="2.9"/>
</g>
<g transform="translate(538.5,471.7)">
<g clip-path="url(#pc)">
<path transform="translate(328.8 0)scale(3.128 1)" d="M0 331V291h1V291h1V308h1V298h1V304h1V303h1V301h1V300h1V295h1V291h1V287h1V286h1V277h1V267h1V265h1V260h1V267h1V264h1V250h1V250h1V275h1V280h1V280h1V289h1V276h1V291h1V293h1V286h1V302h1V292h1V313h1V320h1V322h-1V328h-1V328h-1V328h-1V330h-1V330h-1V330h-1V332h-1V332h-1V331h-1V331h-1V330h-1V332h-1V334h-1V334h-1V334h-1V335h-1V336h-1V334h-1V334h-1V331h-1V330h-1V331h-1V329h-1V330h-1V331h-1V332h-1V329h-1V332h-1V331h-1V331h-1V331h-1Z" fill="#88b3da"/>
<path transform="translate(328.8 0)scale(3.128 1)" d="M0 327V283h1V301h1V312h1V312h1V309h1V308h1V307h1V307h1V302h1V298h1V296h1V295h1V289h1V279h1V277h1V272h1V280h1V277h1V274h1V282h1V287h1V291h1V298h1V296h1V296h1V296h1V299h1V304h1V307h1V310h1V315h1V321h1V321h-1V325h-1V326h-1V325h-1V326h-1V326h-1V326h-1V325h-1V326h-1V325h-1V326h-1V325h-1V326h-1V327h-1V326h-1V325h-1V326h-1V326h-1V326h-1V326h-1V326h-1V326h-1V325h-1V325h-1V325h-1V326h-1V326h-1V325h-1V325h-1V325h-1V325h-1V327h-1Z" fill="#cdb498"/>
<path transform="translate(328.8 0)scale(3.128 1)" d="M0 322V289h1V306h1V315h1V315h1V313h1V312h1V311h1V311h1V308h1V303h1V301h1V299h1V294h1V286h1V285h1V282h1V287h1V285h1V285h1V289h1V293h1V298h1V304h1V303h1V302h1V302h1V306h1V309h1V311h1V313h1V318h1V321h1V321h-1V322h-1V322h-1V322h-1V322h-1V322h-1V322h-1V322h-1V322h-1V322h-1V322h-1V322h-1V322h-1V322h-1V322h-1V322h-1V322h-1V322h-1V322h-1V322h-1V322h-1V322h-1V322h-1V322h-1V322h-1V322h-1V322h-1V322h-1V322h-1V322h-1V322h-1V322h-1Z" fill="#b3cfd4"/>
<path d="M345.5 256.1V335M360.1 256.1V335M403.9 256.1V335M327.7 270.3H450.1" stroke="#bababa" stroke-width="1.1" fill="none"/>
<path d="M330.6 256.1V335M389 256.1V335M447.4 256.1V335" stroke="#ff0000" stroke-opacity="0.5" stroke-width="5" fill="none"/>
<path d="M362.6 321L373 319.9L380.5 318.9L386.4 320.3L389.7 321.6" fill="none" stroke="#f00" stroke-opacity="0.4" stroke-width="5" stroke-linejoin="round"/>
<g fill="#000" stroke="#000" stroke-linejoin="round"><path d="M330.9 295.8l0.5 0 0.8 20 1.6 2 1.6 0 1.6 1 1.6-1 1.6 1 1.6-2 1.6 0 1.6 1 1.6-2 1.6-1 1.6 2 1.6-1 1.6-2 1.6 0 1.6 1 1.6-3 1.6 0 1.6-1 1.6-2 1.6-2 1.6-2 1.6-1 1.6-1 1.6 0 1.6-4 1.6-3 1.6-2 1.6 1 1.6 5 1.6 1 1.6 0 1.6-2 1.6-7 1.6 5 1.6 3 1.6 3 1.6-1 1.6 3 1.6 3 1.6 0 1.6 3 1.6-1 1.6 0 1.6 2 1.6-3 1.6 3 1.6-2 1.6 4 1.6-1 1.6 2 1.6 0 1.6 2 1.6-1 1.6 2 1.6 1 1.6 1 1.6 1 1.6 1 1.6-2 1.1 1 22.5 0 0 0-22.5 0-1.1 1-1.6 0-1.6 0-1.6 0-1.6 0-1.6-1-1.6 0-1.6 0-1.6-1-1.6 0-1.6-2-1.6 1-1.6-3-1.6 2-1.6-4-1.6 3-1.6 0-1.6-2-1.6 4-1.6-3-1.6 0-1.6-3-1.6-3-1.6 2-1.6-1-1.6-6-1.6-2-1.6 7-1.6-2-1.6 3-1.6 1-1.6-9-1.6 2-1.6-1-1.6 4-1.6 3-1.6-1-1.6 1-1.6 2-1.6 1-1.6 1-1.6 1-1.6 2-1.6 0-1.6 2-1.6 0-1.6 0-1.6 0-1.6 1-1.6-1-1.6 2-1.6 0-1.6-2-1.6 0-1.6 2-1.6 0-1.6-1-1.6 0-1.6 0-1.6-2-0.8-20-0.5 0Z" stroke-width="8.4"/></g>
</g>
<path d="M321.9 251H455.9V339.9H321.9ZM327.7 256.1V335H450.1V256.1Z" fill="#ff0000" fill-rule="evenodd"/>
<path d="M306.3 253.4H321.9M306.3 321H321.9" stroke="#ff0000" stroke-width="4.8"/>
<path d="M314.2 304.1H321.9M314.2 287.2H321.9M314.2 270.3H321.9" stroke="#000" stroke-width="3"/>
<path d="M330.9 339.9V355.9M389.3 339.9V355.9M447.7 339.9V355.9" stroke="#ff0000" stroke-width="4.3"/>
<path d="M345.5 339.9V348.7M360.1 339.9V348.7M374.7 339.9V348.7M403.9 339.9V348.7M418.5 339.9V348.7M433.1 339.9V348.7" stroke="#000" stroke-width="2.9"/>
</g>
<g transform="translate(718,471.7)">
<g clip-path="url(#pc)">
<path transform="translate(328.8 0)scale(3.128 1)" d="M0 338V289h1V290h1V307h1V305h1V305h1V284h1V298h1V295h1V295h1V289h1V283h1V281h1V251h1V275h1V255h1V267h1V263h1V253h1V250h1V267h1V274h1V266h1V288h1V292h1V275h1V299h1V304h1V304h1V306h1V308h1V309h1V310h1V315h1V321h1V321h-1V325h-1V330h-1V332h-1V330h-1V332h-1V330h-1V329h-1V331h-1V332h-1V331h-1V330h-1V331h-1V331h-1V336h-1V333h-1V337h-1V336h-1V332h-1V332h-1V334h-1V334h-1V332h-1V332h-1V333h-1V332h-1V330h-1V332h-1V332h-1V331h-1V329h-1V329h-1V331h-1V338h-1Z" fill="#88b3da"/>
<path transform="translate(328.8 0)scale(3.128 1)" d="M0 325V277h1V302h1V312h1V311h1V310h1V307h1V306h1V302h1V303h1V299h1V293h1V291h1V288h1V283h1V281h1V279h1V274h1V268h1V270h1V278h1V284h1V293h1V298h1V299h1V303h1V304h1V308h1V310h1V311h1V312h1V314h1V315h1V318h1V321h1V321h-1V324h-1V326h-1V326h-1V325h-1V326h-1V326h-1V325h-1V326h-1V326h-1V326h-1V327h-1V326h-1V326h-1V325h-1V326h-1V325h-1V325h-1V326h-1V326h-1V325h-1V326h-1V326h-1V325h-1V325h-1V325h-1V326h-1V327h-1V326h-1V325h-1V325h-1V325h-1V325h-1V325h-1Z" fill="#cdb498"/>
<path transform="translate(328.8 0)scale(3.128 1)" d="M0 322V285h1V305h1V315h1V314h1V313h1V311h1V311h1V308h1V308h1V305h1V302h1V298h1V295h1V293h1V291h1V287h1V281h1V277h1V279h1V285h1V290h1V297h1V302h1V304h1V307h1V309h1V312h1V313h1V315h1V316h1V317h1V318h1V319h1V321h1V321h-1V322h-1V322h-1V322h-1V322h-1V322h-1V322h-1V322h-1V322h-1V322h-1V322h-1V322h-1V322h-1V322h-1V322h-1V322h-1V322h-1V322h-1V322h-1V322h-1V322h-1V322h-1V322h-1V322h-1V322h-1V322h-1V322h-1V322h-1V322h-1V322h-1V322h-1V322h-1V322h-1V322h-1Z" fill="#b3cfd4"/>
<path d="M360.1 256.1V335M374.7 256.1V335M403.9 256.1V335M433.1 256.1V335M327.7 270.3H450.1" stroke="#bababa" stroke-width="1.1" fill="none"/>
<path d="M330.6 256.1V335M389 256.1V335M447.4 256.1V335" stroke="#ff0000" stroke-opacity="0.5" stroke-width="5" fill="none"/>
<path d="M360.5 321L370.9 319.9L378.4 318.9L384.3 320.3L387.6 321.6" fill="none" stroke="#f00" stroke-opacity="0.4" stroke-width="5" stroke-linejoin="round"/>
<g fill="#000" stroke="#000" stroke-linejoin="round"><path d="M330.9 293.7l0.5 0 0.8 21 1.6 3 1.6 1 1.6 0 1.6 0 1.6-1 1.6 0 1.6-1 1.6-1 1.6 0 1.6-1 1.6 1 1.6-1 1.6 0 1.6-1 1.6-2 1.6 0 1.6 0 1.6-3 1.6 1 1.6-3 1.6 2 1.6-5 1.6 1 1.6-1 1.6-1 1.6-1 1.6-1 1.6-4 1.6-3 1.6-2 1.6-1 1.6-1 1.6 0 1.6 5 1.6 3 1.6-2 1.6 3 1.6 5 1.6 1 1.6 1 1.6 1 1.6 3 1.6 2 1.6 0 1.6 0 1.6 2 1.6 2 1.6 1 1.6-1 1.6 0 1.6 2 1.6 1 1.6 0 1.6 2 1.6 0 1.6-1 1.6 1 1.6 0 1.6 0 1.6 0 1.6-1 1.6 1 1.6-1 0.1 1 17.1 0 0 0-17.1 0-0.1 0-1.6 1-1.6-1-1.6 1-1.6 0-1.6 0-1.6 0-1.6 0-1.6-1-1.6 1-1.6 0-1.6 0-1.6 0-1.6-2-1.6 0-1.6 2-1.6-1-1.6-2-1.6-3-1.6 0-1.6 1-1.6 0-1.6-2-1.6-2-1.6 2-1.6-2-1.6-4-1.6-5-1.6 5-1.6-5-1.6-2-1.6-2-1.6 3-1.6 1-1.6 2-1.6 1-1.6 3-1.6 0-1.6 0-1.6 2-1.6 1-1.6-3-1.6 5-1.6-1-1.6 0-1.6 1-1.6 3-1.6 1-1.6 0-1.6-1-1.6 1-1.6 0-1.6 2-1.6 0-1.6 1-1.6-1-1.6 1-1.6 0-1.6-1-1.6 1-1.6-1-1.6 1-1.6-1-1.6-2-0.8-22-0.5 0Z" stroke-width="8.4"/></g>
</g>
<path d="M321.9 251H455.9V339.9H321.9ZM327.7 256.1V335H450.1V256.1Z" fill="#ff0000" fill-rule="evenodd"/>
<path d="M306.3 253.4H321.9M306.3 321H321.9" stroke="#ff0000" stroke-width="4.8"/>
<path d="M314.2 304.1H321.9M314.2 287.2H321.9M314.2 270.3H321.9" stroke="#000" stroke-width="3"/>
<path d="M330.9 339.9V355.9M389.3 339.9V355.9M447.7 339.9V355.9" stroke="#ff0000" stroke-width="4.3"/>
<path d="M345.5 339.9V348.7M360.1 339.9V348.7M374.7 339.9V348.7M403.9 339.9V348.7M418.5 339.9V348.7M433.1 339.9V348.7" stroke="#000" stroke-width="2.9"/>
</g>
<g transform="translate(897.5,471.7)">
<g clip-path="url(#pc)">
<path transform="translate(328.8 0)scale(3.128 1)" d="M0 333V286h1V286h1V305h1V291h1V303h1V304h1V304h1V302h1V301h1V299h1V296h1V272h1V290h1V259h1V264h1V267h1V260h1V250h1V251h1V276h1V266h1V282h1V286h1V270h1V295h1V300h1V305h1V307h1V310h1V311h1V310h1V302h1V311h1V318h1V324h-1V329h-1V333h-1V332h-1V332h-1V332h-1V329h-1V330h-1V329h-1V330h-1V332h-1V333h-1V331h-1V333h-1V335h-1V335h-1V336h-1V333h-1V336h-1V333h-1V333h-1V331h-1V330h-1V330h-1V332h-1V333h-1V330h-1V330h-1V332h-1V333h-1V332h-1V329h-1V332h-1V333h-1Z" fill="#88b3da"/>
<path transform="translate(328.8 0)scale(3.128 1)" d="M0 325V269h1V292h1V310h1V311h1V308h1V309h1V309h1V308h1V307h1V305h1V302h1V300h1V297h1V292h1V287h1V278h1V273h1V277h1V283h1V285h1V289h1V291h1V294h1V296h1V301h1V305h1V309h1V311h1V313h1V314h1V314h1V314h1V315h1V320h1V322h-1V325h-1V325h-1V326h-1V327h-1V325h-1V326h-1V325h-1V325h-1V325h-1V325h-1V326h-1V326h-1V326h-1V324h-1V325h-1V326h-1V326h-1V327h-1V327h-1V327h-1V326h-1V326h-1V326h-1V325h-1V326h-1V326h-1V326h-1V325h-1V326h-1V326h-1V326h-1V325h-1V325h-1Z" fill="#cdb498"/>
<path transform="translate(328.8 0)scale(3.128 1)" d="M0 322V279h1V299h1V314h1V314h1V312h1V313h1V313h1V312h1V311h1V310h1V306h1V304h1V301h1V297h1V294h1V287h1V282h1V285h1V288h1V293h1V296h1V297h1V300h1V302h1V306h1V308h1V312h1V314h1V316h1V316h1V316h1V317h1V317h1V320h1V321h-1V322h-1V322h-1V322h-1V322h-1V322h-1V322h-1V322h-1V322h-1V322h-1V322h-1V322h-1V322h-1V322h-1V322h-1V322h-1V322h-1V322h-1V322h-1V322h-1V322h-1V322h-1V322h-1V322h-1V322h-1V322h-1V322h-1V322h-1V322h-1V322h-1V322h-1V322h-1V322h-1V322h-1Z" fill="#b3cfd4"/>
<path d="M345.5 256.1V335M360.1 256.1V335M374.7 256.1V335M403.9 256.1V335M418.5 256.1V335M327.7 270.3H450.1" stroke="#bababa" stroke-width="1.1" fill="none"/>
<path d="M330.6 256.1V335M389 256.1V335M447.4 256.1V335" stroke="#ff0000" stroke-opacity="0.5" stroke-width="5" fill="none"/>
<path d="M359.7 321L370.1 319.9L377.6 318.9L383.5 320.3L386.8 321.6" fill="none" stroke="#f00" stroke-opacity="0.4" stroke-width="5" stroke-linejoin="round"/>
<g fill="#000" stroke="#000" stroke-linejoin="round"><path d="M330.9 293.7l0.5 0 0.8 21 1.6 3 1.6 1 1.6 0 1.6 0 1.6 1 1.6-1 1.6-1 1.6 0 1.6 0 1.6-2 1.6 0 1.6 0 1.6 1 1.6-2 1.6 0 1.6 0 1.6-1 1.6-2 1.6 1 1.6-1 1.6-2 1.6 1 1.6-2 1.6-2 1.6 1 1.6-2 1.6-4 1.6 0 1.6-2 1.6-1 1.6-1 1.6-4 1.6 5 1.6 1 1.6 3 1.6 2 1.6 1 1.6 0 1.6 0 1.6 0 1.6 2 1.6 0 1.6 2 1.6 0 1.6 2 1.6 2 1.6 0 1.6 0 1.6 1 1.6 2 1.6 2 1.6 0 1.6 1 1.6-1 1.6 1 1.6 0 1.6 0 1.6 0 1.6 2 1.6 0 1.6-2 1.6 0 1.6 2 1.6-2 0.6 1 15 0 0 0-15 0-0.6 1-1.6 0-1.6 0-1.6 0-1.6 0-1.6 0-1.6-1-1.6 1-1.6 0-1.6 0-1.6 0-1.6 0-1.6 0-1.6-1-1.6 0-1.6-2-1.6 1-1.6-1-1.6 2-1.6-3-1.6-1-1.6 0-1.6 0-1.6-1-1.6-3-1.6 1-1.6-1-1.6 1-1.6-1-1.6-1-1.6-3-1.6-1-1.6-7-1.6 4-1.6 2-1.6 2-1.6 3-1.6-3-1.6 4-1.6 1-1.6-1-1.6 3-1.6 0-1.6 1-1.6 0-1.6 3-1.6-3-1.6 2-1.6 1-1.6 0-1.6 0-1.6 1-1.6-1-1.6-1-1.6 1-1.6 2-1.6-1-1.6 1-1.6 0-1.6 0-1.6-1-1.6 1-1.6 0-1.6-1-1.6-2-0.8-22-0.5 0Z" stroke-width="8.4"/></g>
</g>
<path d="M321.9 251H455.9V339.9H321.9ZM327.7 256.1V335H450.1V256.1Z" fill="#ff0000" fill-rule="evenodd"/>
<path d="M306.3 253.4H321.9M306.3 321H321.9" stroke="#ff0000" stroke-width="4.8"/>
<path d="M314.2 304.1H321.9M314.2 287.2H321.9M314.2 270.3H321.9" stroke="#000" stroke-width="3"/>
<path d="M330.9 339.9V355.9M389.3 339.9V355.9M447.7 339.9V355.9" stroke="#ff0000" stroke-width="4.3"/>
<path d="M345.5 339.9V348.7M360.1 339.9V348.7M374.7 339.9V348.7M403.9 339.9V348.7M418.5 339.9V348.7M433.1 339.9V348.7" stroke="#000" stroke-width="2.9"/>
</g>
<g transform="translate(1077,471.7)">
<g clip-path="url(#pc)">
<path transform="translate(328.8 0)scale(3.128 1)" d="M0 336V290h1V291h1V308h1V308h1V306h1V293h1V302h1V300h1V291h1V271h1V291h1V287h1V283h1V278h1V270h1V250h1V266h1V250h1V265h1V260h1V264h1V269h1V283h1V288h1V293h1V296h1V299h1V291h1V305h1V307h1V308h1V314h1V320h1V322h-1V329h-1V331h-1V331h-1V330h-1V331h-1V333h-1V332h-1V330h-1V331h-1V333h-1V334h-1V336h-1V333h-1V334h-1V330h-1V331h-1V332h-1V335h-1V330h-1V330h-1V332h-1V330h-1V332h-1V331h-1V330h-1V330h-1V330h-1V332h-1V330h-1V331h-1V334h-1V336h-1Z" fill="#88b3da"/>
<path transform="translate(328.8 0)scale(3.128 1)" d="M0 327V278h1V301h1V312h1V312h1V311h1V310h1V307h1V307h1V305h1V301h1V299h1V295h1V292h1V287h1V283h1V279h1V277h1V283h1V278h1V273h1V278h1V284h1V292h1V296h1V301h1V303h1V306h1V309h1V310h1V311h1V311h1V316h1V320h1V321h-1V324h-1V327h-1V326h-1V325h-1V325h-1V325h-1V325h-1V326h-1V325h-1V326h-1V325h-1V325h-1V325h-1V325h-1V326h-1V326h-1V327h-1V325h-1V325h-1V326h-1V325h-1V327h-1V327h-1V326h-1V326h-1V326h-1V326h-1V326h-1V326h-1V326h-1V326h-1V327h-1Z" fill="#cdb498"/>
<path transform="translate(328.8 0)scale(3.128 1)" d="M0 322V287h1V306h1V315h1V314h1V314h1V313h1V310h1V310h1V308h1V306h1V304h1V301h1V298h1V294h1V291h1V290h1V289h1V289h1V285h1V282h1V286h1V291h1V300h1V303h1V305h1V307h1V309h1V313h1V314h1V315h1V315h1V318h1V321h1V321h-1V322h-1V322h-1V322h-1V322h-1V322h-1V322h-1V322h-1V322h-1V322h-1V322h-1V322h-1V322h-1V322h-1V322h-1V322h-1V322h-1V322h-1V322h-1V322h-1V322h-1V322h-1V322h-1V322h-1V322h-1V322h-1V322h-1V322h-1V322h-1V322h-1V322h-1V322h-1V322h-1Z" fill="#b3cfd4"/>
<path d="M360.1 256.1V335M418.5 256.1V335M433.1 256.1V335M327.7 270.3H450.1" stroke="#bababa" stroke-width="1.1" fill="none"/>
<path d="M330.6 256.1V335M389 256.1V335M447.4 256.1V335" stroke="#ff0000" stroke-opacity="0.5" stroke-width="5" fill="none"/>
<path d="M369.3 321L379.7 319.9L387.2 318.9L393 320.3L396.4 321.6" fill="none" stroke="#f00" stroke-opacity="0.4" stroke-width="5" stroke-linejoin="round"/>
<g fill="#000" stroke="#000" stroke-linejoin="round"><path d="M330.9 294.8l0.5 0 0.8 20 1.6 4 1.6 0 1.6 0 1.6-1 1.6-1 1.6 1 1.6-1 1.6-1 1.6 2 1.6-2 1.6 1 1.6 0 1.6-1 1.6-2 1.6-1 1.6 0 1.6 1 1.6-4 1.6-1 1.6 0 1.6-2 1.6 0 1.6-2 1.6 0 1.6-3 1.6 0 1.6-3 1.6 3 1.6-1 1.6 0 1.6-1 1.6 0 1.6-1 1.6 0 1.6-1 1.6-1 1.6 0 1.6-1 1.6 4 1.6 5 1.6 0 1.6 2 1.6 1 1.6 0 1.6 2 1.6 2 1.6 0 1.6 3 1.6 1 1.6 1 1.6 0 1.6 1 1.6-1 1.6 1 1.6 1 1.6 1 1.6-1 1.6 1 1.6 0 1.6 1 1.6-1 1.2 1 19.2 0 0 0-19.2 0-1.2 1-1.6 0-1.6 0-1.6-1-1.6 1-1.6 0-1.6-1-1.6 0-1.6 0-1.6 1-1.6-1-1.6 1-1.6-1-1.6-2-1.6-2-1.6 1-1.6-2-1.6-1-1.6-1-1.6 0-1.6-2-1.6 2-1.6-5-1.6-3-1.6-1-1.6 0-1.6 4-1.6-2-1.6 1-1.6 0-1.6 0-1.6 3-1.6-3-1.6 2-1.6-3-1.6 3-1.6-1-1.6 3-1.6-1-1.6 1-1.6 1-1.6 3-1.6-1-1.6 1-1.6 3-1.6-2-1.6 1-1.6 0-1.6 2-1.6 1-1.6 1-1.6-3-1.6 1-1.6 0-1.6 1-1.6 0-1.6-1-1.6 1-1.6 0-1.6 1-1.6-1-1.6-2-0.8-21-0.5 0Z" stroke-width="8.4"/></g>
</g>
<path d="M321.9 251H455.9V339.9H321.9ZM327.7 256.1V335H450.1V256.1Z" fill="#ff0000" fill-rule="evenodd"/>
<path d="M306.3 253.4H321.9M306.3 321H321.9" stroke="#ff0000" stroke-width="4.8"/>
<path d="M314.2 304.1H321.9M314.2 287.2H321.9M314.2 270.3H321.9" stroke="#000" stroke-width="3"/>
<path d="M330.9 339.9V355.9M389.3 339.9V355.9M447.7 339.9V355.9" stroke="#ff0000" stroke-width="4.3"/>
<path d="M345.5 339.9V348.7M360.1 339.9V348.7M374.7 339.9V348.7M403.9 339.9V348.7M418.5 339.9V348.7M433.1 339.9V348.7" stroke="#000" stroke-width="2.9"/>
</g>
<g transform="translate(1256.5,471.7)">
<g clip-path="url(#pc)">
<path transform="translate(328.8 0)scale(3.128 1)" d="M0 333V290h1V289h1V310h1V306h1V304h1V289h1V284h1V299h1V278h1V289h1V282h1V275h1V271h1V273h1V272h1V273h1V276h1V275h1V278h1V252h1V281h1V265h1V276h1V296h1V299h1V305h1V305h1V293h1V293h1V307h1V308h1V309h1V309h1V312h1V318h1V321h1V321h-1V324h-1V330h-1V329h-1V331h-1V331h-1V329h-1V330h-1V330h-1V329h-1V330h-1V332h-1V331h-1V332h-1V332h-1V332h-1V333h-1V333h-1V331h-1V331h-1V331h-1V331h-1V331h-1V333h-1V330h-1V331h-1V334h-1V331h-1V332h-1V331h-1V330h-1V330h-1V330h-1V329h-1V333h-1V333h-1Z" fill="#88b3da"/>
<path transform="translate(328.8 0)scale(3.128 1)" d="M0 327V277h1V299h1V313h1V310h1V308h1V308h1V306h1V306h1V304h1V298h1V292h1V285h1V281h1V284h1V283h1V282h1V283h1V285h1V288h1V290h1V292h1V299h1V302h1V303h1V305h1V309h1V310h1V312h1V312h1V312h1V314h1V314h1V314h1V315h1V319h1V321h1V321h-1V323h-1V326h-1V326h-1V327h-1V326h-1V326h-1V325h-1V327h-1V327h-1V325h-1V325h-1V326h-1V326h-1V325h-1V325h-1V327h-1V327h-1V326h-1V325h-1V325h-1V325h-1V326h-1V326h-1V327h-1V327h-1V326h-1V326h-1V325h-1V325h-1V325h-1V326h-1V325h-1V326h-1V325h-1V327h-1Z" fill="#cdb498"/>
<path transform="translate(328.8 0)scale(3.128 1)" d="M0 322V282h1V302h1V316h1V314h1V312h1V312h1V309h1V309h1V307h1V303h1V297h1V292h1V288h1V291h1V292h1V292h1V292h1V292h1V294h1V295h1V297h1V302h1V306h1V307h1V309h1V312h1V313h1V314h1V315h1V315h1V316h1V316h1V317h1V317h1V320h1V321h1V321h-1V321h-1V322h-1V322h-1V322h-1V322h-1V322h-1V322h-1V322h-1V322h-1V322h-1V322h-1V322h-1V322h-1V322h-1V322h-1V322h-1V322h-1V322h-1V322h-1V322h-1V322h-1V322h-1V322h-1V322h-1V322h-1V322h-1V322h-1V322h-1V322h-1V322h-1V322h-1V322h-1V322h-1V322h-1V322h-1Z" fill="#b3cfd4"/>
<path d="M345.5 256.1V335M360.1 256.1V335M374.7 256.1V335M403.9 256.1V335M433.1 256.1V335M327.7 270.3H450.1" stroke="#bababa" stroke-width="1.1" fill="none"/>
<path d="M330.6 256.1V335M389 256.1V335M447.4 256.1V335" stroke="#ff0000" stroke-opacity="0.5" stroke-width="5" fill="none"/>
<path d="M348.4 321L358.8 319.9L366.4 318.9L372.2 320.3L375.5 321.6" fill="none" stroke="#f00" stroke-opacity="0.4" stroke-width="5" stroke-linejoin="round"/>
<g fill="#000" stroke="#000" stroke-linejoin="round"><path d="M330.9 294.8l0.5 0 0.8 20 1.6 5 1.6 1 1.6 0 1.6-2 1.6 1 1.6-1 1.6 0 1.6-2 1.6 0 1.6-1 1.6 0 1.6 0 1.6-2 1.6 0 1.6 1 1.6-1 1.6-5 1.6 2 1.6-3 1.6-1 1.6-1 1.6-4 1.6-1 1.6 1 1.6 0 1.6 0 1.6-2 1.6 1 1.6 1 1.6 2 1.6-3 1.6 0 1.6 0 1.6 4 1.6-2 1.6 0 1.6 3 1.6 0 1.6 2 1.6 1 1.6 1 1.6 3 1.6 0 1.6 2 1.6-1 1.6 1 1.6 1 1.6 0 1.6 2 1.6-1 1.6 3 1.6 0 1.6-1 1.6 2 1.6 0 1.6-1 1.6 1 1.6-2 1.6 1 1.6 1 1.6 0 1.6 0 1.6 0 1.6 0 1.6 0 1.6 0 0.7 0 11.7 0 0 0-11.7 0-0.7 1-1.6 0-1.6 0-1.6-1-1.6 1-1.6 0-1.6 0-1.6 0-1.6-1-1.6 1-1.6 0-1.6-1-1.6 1-1.6-1-1.6 0-1.6 1-1.6-1-1.6 1-1.6-2-1.6 1-1.6-1-1.6 0-1.6 1-1.6-4-1.6 1-1.6 0-1.6-2-1.6 0-1.6-1-1.6 0-1.6-3-1.6 1-1.6 0-1.6-3-1.6 1-1.6-4-1.6 5-1.6-2-1.6-2-1.6 2-1.6 0-1.6-1-1.6 3-1.6-4-1.6 1-1.6 2-1.6 1-1.6 2-1.6 2-1.6-3-1.6 5-1.6 3-1.6-2-1.6-1-1.6 2-1.6 1-1.6-1-1.6 2-1.6-1-1.6 0-1.6 0-1.6 0-1.6 0-1.6 1-1.6 0-1.6 0-1.6-2-0.8-22-0.5 0Z" stroke-width="8.4"/></g>
</g>
<path d="M321.9 251H455.9V339.9H321.9ZM327.7 256.1V335H450.1V256.1Z" fill="#ff0000" fill-rule="evenodd"/>
<path d="M306.3 253.4H321.9M306.3 321H321.9" stroke="#ff0000" stroke-width="4.8"/>
<path d="M314.2 304.1H321.9M314.2 287.2H321.9M314.2 270.3H321.9" stroke="#000" stroke-width="3"/>
<path d="M330.9 339.9V355.9M389.3 339.9V355.9M447.7 339.9V355.9" stroke="#ff0000" stroke-width="4.3"/>
<path d="M345.5 339.9V348.7M360.1 339.9V348.7M374.7 339.9V348.7M403.9 339.9V348.7M418.5 339.9V348.7M433.1 339.9V348.7" stroke="#000" stroke-width="2.9"/>
</g>
<g transform="translate(1436,471.7)">
<g clip-path="url(#pc)">
<path transform="translate(328.8 0)scale(3.128 1)" d="M0 331V287h1V286h1V308h1V296h1V308h1V291h1V303h1V293h1V298h1V295h1V289h1V290h1V256h1V250h1V273h1V265h1V258h1V250h1V250h1V270h1V265h1V279h1V294h1V278h1V279h1V282h1V303h1V305h1V308h1V305h1V319h1V323h-1V330h-1V331h-1V329h-1V332h-1V332h-1V332h-1V331h-1V330h-1V335h-1V334h-1V333h-1V336h-1V333h-1V335h-1V334h-1V332h-1V332h-1V330h-1V331h-1V333h-1V330h-1V329h-1V330h-1V332h-1V333h-1V333h-1V332h-1V330h-1V333h-1V331h-1Z" fill="#88b3da"/>
<path transform="translate(328.8 0)scale(3.128 1)" d="M0 326V269h1V293h1V313h1V313h1V312h1V310h1V309h1V306h1V303h1V302h1V296h1V298h1V295h1V286h1V282h1V278h1V272h1V279h1V280h1V280h1V278h1V288h1V299h1V304h1V305h1V307h1V308h1V311h1V313h1V314h1V319h1V322h-1V325h-1V326h-1V325h-1V325h-1V325h-1V327h-1V327h-1V325h-1V326h-1V325h-1V326h-1V325h-1V326h-1V326h-1V326h-1V326h-1V325h-1V326h-1V325h-1V325h-1V325h-1V326h-1V327h-1V326h-1V325h-1V326h-1V326h-1V326h-1V326h-1V326h-1Z" fill="#cdb498"/>
<path transform="translate(328.8 0)scale(3.128 1)" d="M0 322V281h1V300h1V316h1V315h1V315h1V313h1V313h1V311h1V308h1V307h1V302h1V302h1V301h1V293h1V289h1V286h1V283h1V286h1V288h1V286h1V284h1V294h1V305h1V308h1V309h1V310h1V312h1V314h1V316h1V316h1V320h1V321h-1V322h-1V322h-1V322h-1V322h-1V322h-1V322h-1V322h-1V322h-1V322h-1V322h-1V322h-1V322h-1V322h-1V322h-1V322h-1V322h-1V322h-1V322h-1V322h-1V322h-1V322h-1V322h-1V322h-1V322h-1V322h-1V322h-1V322h-1V322h-1V322h-1V322h-1Z" fill="#b3cfd4"/>
<path d="M345.5 256.1V335M374.7 256.1V335M418.5 256.1V335M433.1 256.1V335M327.7 270.3H450.1" stroke="#bababa" stroke-width="1.1" fill="none"/>
<path d="M330.6 256.1V335M389 256.1V335M447.4 256.1V335" stroke="#ff0000" stroke-opacity="0.5" stroke-width="5" fill="none"/>
<path d="M358 321L368.4 319.9L375.9 318.9L381.8 320.3L385.1 321.6" fill="none" stroke="#f00" stroke-opacity="0.4" stroke-width="5" stroke-linejoin="round"/>
<g fill="#000" stroke="#000" stroke-linejoin="round"><path d="M330.9 293.7l0.5 0 0.8 21 1.6 5 1.6 2 1.6-2 1.6-1 1.6 1 1.6 0 1.6-1 1.6 1 1.6-1 1.6-2 1.6 1 1.6 0 1.6-2 1.6 0 1.6-1 1.6 0 1.6-1 1.6 0 1.6-1 1.6-4 1.6 0 1.6 0 1.6-3 1.6 0 1.6-2 1.6-3 1.6-2 1.6 1 1.6-2 1.6-4 1.6 2 1.6 3 1.6 0 1.6 1 1.6 3 1.6-5 1.6-1 1.6 4 1.6 3 1.6 2 1.6 3 1.6 3 1.6-1 1.6 2 1.6 1 1.6-1 1.6 2 1.6 2 1.6 0 1.6 1 1.6 0 1.6 1 1.6 1 1.6 1 1.6-1 1.6 0 1.6 1 1.6 0 0.2 0 25 0 0 0-25 0-0.2 1-1.6 0-1.6 0-1.6 0-1.6-1-1.6 0-1.6 1-1.6 0-1.6 0-1.6 0-1.6 0-1.6-2-1.6-1-1.6 0-1.6 0-1.6-1-1.6-1-1.6-1-1.6-3-1.6-1-1.6-3-1.6-3-1.6 3-1.6 3-1.6-2-1.6-3-1.6-1-1.6-1-1.6 2-1.6 2-1.6-2-1.6-1-1.6 3-1.6 2-1.6 2-1.6-1-1.6 3-1.6 2-1.6-2-1.6 4-1.6 0-1.6 0-1.6 1-1.6-1-1.6 2-1.6-2-1.6 2-1.6 1-1.6-1-1.6 1-1.6 0-1.6 0-1.6 0-1.6 0-1.6 0-1.6 0-1.6 0-1.6 0-1.6-2-0.8-23-0.5 0Z" stroke-width="8.4"/></g>
</g>
<path d="M321.9 251H455.9V339.9H321.9ZM327.7 256.1V335H450.1V256.1Z" fill="#ff0000" fill-rule="evenodd"/>
<path d="M306.3 253.4H321.9M306.3 321H321.9" stroke="#ff0000" stroke-width="4.8"/>
<path d="M314.2 304.1H321.9M314.2 287.2H321.9M314.2 270.3H321.9" stroke="#000" stroke-width="3"/>
<path d="M330.9 339.9V355.9M389.3 339.9V355.9M447.7 339.9V355.9" stroke="#ff0000" stroke-width="4.3"/>
<path d="M345.5 339.9V348.7M360.1 339.9V348.7M374.7 339.9V348.7M403.9 339.9V348.7M418.5 339.9V348.7M433.1 339.9V348.7" stroke="#000" stroke-width="2.9"/>
</g>
<g transform="translate(1615.5,471.7)">
<g clip-path="url(#pc)">
<path transform="translate(328.8 0)scale(3.128 1)" d="M0 333V287h1V288h1V305h1V305h1V305h1V304h1V302h1V286h1V297h1V280h1V290h1V288h1V280h1V250h1V274h1V250h1V250h1V253h1V257h1V252h1V250h1V250h1V282h1V273h1V292h1V295h1V300h1V292h1V304h1V308h1V310h1V311h1V316h1V321h1V321h-1V324h-1V329h-1V330h-1V332h-1V329h-1V329h-1V332h-1V330h-1V331h-1V333h-1V330h-1V333h-1V335h-1V337h-1V334h-1V335h-1V334h-1V335h-1V332h-1V335h-1V335h-1V332h-1V331h-1V331h-1V332h-1V332h-1V332h-1V331h-1V329h-1V331h-1V330h-1V331h-1V333h-1Z" fill="#88b3da"/>
<path transform="translate(328.8 0)scale(3.128 1)" d="M0 326V271h1V297h1V310h1V310h1V311h1V309h1V308h1V304h1V304h1V300h1V298h1V296h1V289h1V286h1V284h1V274h1V266h1V267h1V269h1V266h1V271h1V272h1V290h1V292h1V299h1V303h1V306h1V309h1V311h1V313h1V314h1V314h1V317h1V321h1V321h-1V323h-1V326h-1V326h-1V326h-1V326h-1V326h-1V325h-1V325h-1V326h-1V326h-1V325h-1V325h-1V326h-1V325h-1V325h-1V325h-1V326h-1V325h-1V325h-1V327h-1V326h-1V327h-1V326h-1V325h-1V325h-1V325h-1V326h-1V326h-1V326h-1V326h-1V327h-1V326h-1V326h-1Z" fill="#cdb498"/>
<path transform="translate(328.8 0)scale(3.128 1)" d="M0 322V282h1V303h1V315h1V314h1V314h1V312h1V312h1V310h1V308h1V305h1V303h1V300h1V296h1V292h1V289h1V281h1V275h1V275h1V275h1V276h1V278h1V280h1V295h1V299h1V305h1V308h1V310h1V312h1V314h1V316h1V317h1V317h1V319h1V321h1V321h-1V322h-1V322h-1V322h-1V322h-1V322h-1V322h-1V322h-1V322h-1V322h-1V322h-1V322h-1V322h-1V322h-1V322h-1V322h-1V322h-1V322h-1V322h-1V322h-1V322h-1V322h-1V322h-1V322h-1V322h-1V322h-1V322h-1V322h-1V322h-1V322h-1V322h-1V322h-1V322h-1V322h-1Z" fill="#b3cfd4"/>
<path d="M360.1 256.1V335M403.9 256.1V335M433.1 256.1V335M327.7 270.3H450.1" stroke="#bababa" stroke-width="1.1" fill="none"/>
<path d="M330.6 256.1V335M389 256.1V335M447.4 256.1V335" stroke="#ff0000" stroke-opacity="0.5" stroke-width="5" fill="none"/>
<path d="M365.9 321L376.4 319.9L383.9 318.9L389.7 320.3L393 321.6" fill="none" stroke="#f00" stroke-opacity="0.4" stroke-width="5" stroke-linejoin="round"/>
<g fill="#000" stroke="#000" stroke-linejoin="round"><path d="M330.9 294.7l0.5 0 0.8 20 1.6 3 1.6 1 1.6 0 1.6 1 1.6-2 1.6 0 1.6 0 1.6 2 1.6-1 1.6-2 1.6 0 1.6 0 1.6-1 1.6-2 1.6 0 1.6-1 1.6 0 1.6-3 1.6-1 1.6 1 1.6 0 1.6-2 1.6-3 1.6 1 1.6-5 1.6-1 1.6 2 1.6-4 1.6-3 1.6 0 1.6-8 1.6 5 1.6-1 1.6-3 1.6-3 1.6 6 1.6-1 1.6 1 1.6 2 1.6 3 1.6 8 1.6 2 1.6 3 1.6 1 1.6 1 1.6 1 1.6 2 1.6 0 1.6 2 1.6 1 1.6 1 1.6 1 1.6 0 1.6 0 1.6 1 1.6 0 1.6-1 1.6 1 1.6 0 1.6 1 1.6 0 1.6 0 1.3 0 17.5 0 0 0-17.5 0-1.3 1-1.6 0-1.6-1-1.6 1-1.6 0-1.6 0-1.6-1-1.6 1-1.6 0-1.6 0-1.6 0-1.6 0-1.6 0-1.6-1-1.6-4-1.6 1-1.6-1-1.6 1-1.6-2-1.6 0-1.6-2-1.6 1-1.6-7-1.6-4-1.6-5-1.6 1-1.6 1-1.6-4-1.6 7-1.6 1-1.6-1-1.6-2-1.6 3-1.6-1-1.6 6-1.6 3-1.6-3-1.6 1-1.6 5-1.6-3-1.6-1-1.6 3-1.6 2-1.6-1-1.6-1-1.6 4-1.6-2-1.6 2-1.6 1-1.6 0-1.6 2-1.6-2-1.6 0-1.6 2-1.6 0-1.6 0-1.6-1-1.6 0-1.6 1-1.6 0-1.6 0-1.6-1-1.6-1-0.8-22-0.5 0Z" stroke-width="8.4"/></g>
</g>
<path d="M321.9 251H455.9V339.9H321.9ZM327.7 256.1V335H450.1V256.1Z" fill="#ff0000" fill-rule="evenodd"/>
<path d="M306.3 253.4H321.9M306.3 321H321.9" stroke="#ff0000" stroke-width="4.8"/>
<path d="M314.2 304.1H321.9M314.2 287.2H321.9M314.2 270.3H321.9" stroke="#000" stroke-width="3"/>
<path d="M330.9 339.9V355.9M389.3 339.9V355.9M447.7 339.9V355.9" stroke="#ff0000" stroke-width="4.3"/>
<path d="M345.5 339.9V348.7M360.1 339.9V348.7M374.7 339.9V348.7M403.9 339.9V348.7M418.5 339.9V348.7M433.1 339.9V348.7" stroke="#000" stroke-width="2.9"/>
</g>
<g transform="translate(1795,471.7)">
<g clip-path="url(#pc)">
<path transform="translate(328.8 0)scale(3.128 1)" d="M0 332V287h1V287h1V304h1V301h1V300h1V284h1V298h1V288h1V296h1V296h1V277h1V278h1V285h1V283h1V276h1V273h1V250h1V265h1V252h1V250h1V253h1V265h1V276h1V280h1V289h1V295h1V295h1V287h1V307h1V306h1V298h1V308h1V314h1V321h1V321h-1V326h-1V329h-1V332h-1V332h-1V329h-1V331h-1V330h-1V332h-1V330h-1V333h-1V335h-1V338h-1V338h-1V336h-1V333h-1V332h-1V332h-1V333h-1V331h-1V334h-1V333h-1V331h-1V332h-1V331h-1V331h-1V332h-1V331h-1V330h-1V330h-1V331h-1V331h-1V331h-1V332h-1Z" fill="#88b3da"/>
<path transform="translate(328.8 0)scale(3.128 1)" d="M0 325V270h1V296h1V310h1V308h1V306h1V306h1V305h1V303h1V303h1V303h1V300h1V296h1V294h1V291h1V287h1V283h1V278h1V275h1V266h1V266h1V267h1V275h1V285h1V291h1V298h1V301h1V301h1V305h1V311h1V312h1V312h1V313h1V317h1V321h1V321h-1V323h-1V325h-1V325h-1V326h-1V326h-1V325h-1V326h-1V326h-1V326h-1V326h-1V325h-1V325h-1V326h-1V325h-1V325h-1V325h-1V326h-1V326h-1V325h-1V325h-1V325h-1V325h-1V325h-1V325h-1V325h-1V326h-1V326h-1V325h-1V326h-1V326h-1V325h-1V325h-1V325h-1Z" fill="#cdb498"/>
<path transform="translate(328.8 0)scale(3.128 1)" d="M0 322V279h1V301h1V313h1V312h1V311h1V311h1V309h1V308h1V307h1V308h1V305h1V302h1V300h1V298h1V294h1V292h1V289h1V284h1V279h1V277h1V278h1V284h1V293h1V299h1V304h1V306h1V305h1V308h1V314h1V315h1V316h1V317h1V318h1V321h1V321h-1V321h-1V322h-1V322h-1V322h-1V322h-1V322h-1V322h-1V322h-1V322h-1V322h-1V322h-1V322h-1V322h-1V322h-1V322h-1V322h-1V322h-1V322h-1V322h-1V322h-1V322h-1V322h-1V322h-1V322h-1V322h-1V322h-1V322h-1V322h-1V322h-1V322h-1V322h-1V322h-1V322h-1Z" fill="#b3cfd4"/>
<path d="M345.5 256.1V335M374.7 256.1V335M403.9 256.1V335M418.5 256.1V335M327.7 270.3H450.1" stroke="#bababa" stroke-width="1.1" fill="none"/>
<path d="M330.6 256.1V335M389 256.1V335M447.4 256.1V335" stroke="#ff0000" stroke-opacity="0.5" stroke-width="5" fill="none"/>
<path d="M369.3 321L379.7 319.9L387.2 318.9L393 320.3L396.4 321.6" fill="none" stroke="#f00" stroke-opacity="0.4" stroke-width="5" stroke-linejoin="round"/>
<g fill="#000" stroke="#000" stroke-linejoin="round"><path d="M330.9 293.2l0.5 0 0.8 22 1.6 4 1.6-2 1.6 0 1.6 0 1.6 1 1.6-2 1.6 1 1.6 0 1.6-2 1.6 0 1.6 0 1.6-1 1.6 0 1.6-1 1.6 2 1.6-1 1.6 1 1.6-2 1.6-2 1.6 1 1.6-3 1.6-1 1.6-1 1.6-1 1.6-3 1.6 1 1.6-3 1.6 0 1.6-2 1.6-1 1.6 2 1.6-2 1.6 3 1.6-3 1.6-5 1.6 0 1.6-5 1.6 1 1.6 6 1.6 2 1.6 2 1.6 2 1.6 5 1.6 0 1.6 2 1.6 3 1.6 1 1.6 1 1.6-1 1.6 3 1.6 2 1.6 0 1.6 3 1.6 0 1.6-1 1.6 0 1.6 0 1.6 0 1.6 1 1.6 0 1.6 0 1.6 2 1.6-1 0.1 0 17.1 0 0 0-17.1 0-0.1 1-1.6-1-1.6 1-1.6-1-1.6 1-1.6 0-1.6 0-1.6 0-1.6 0-1.6 0-1.6-1-1.6 0-1.6 1-1.6-1-1.6-2-1.6-1-1.6-1-1.6 0-1.6-1-1.6-1-1.6-1-1.6-5-1.6-1-1.6 2-1.6 0-1.6-4-1.6-6-1.6 4-1.6 0-1.6 5-1.6 0-1.6-3-1.6 2-1.6-1-1.6-1-1.6 2-1.6 3-1.6 2-1.6-4-1.6 5-1.6 0-1.6 2-1.6 1-1.6 1-1.6-2-1.6 3-1.6-1-1.6 0-1.6 1-1.6-2-1.6 2-1.6-1-1.6 1-1.6-1-1.6 0-1.6 3-1.6 1-1.6 0-1.6-1-1.6 0-1.6 0-1.6-1-1.6 2-1.6-2-0.8-23-0.5 0Z" stroke-width="8.4"/></g>
</g>
<path d="M321.9 251H455.9V339.9H321.9ZM327.7 256.1V335H450.1V256.1Z" fill="#ff0000" fill-rule="evenodd"/>
<path d="M306.3 253.4H321.9M306.3 321H321.9" stroke="#ff0000" stroke-width="4.8"/>
<path d="M314.2 304.1H321.9M314.2 287.2H321.9M314.2 270.3H321.9" stroke="#000" stroke-width="3"/>
<path d="M330.9 339.9V355.9M389.3 339.9V355.9M447.7 339.9V355.9" stroke="#ff0000" stroke-width="4.3"/>
<path d="M345.5 339.9V348.7M360.1 339.9V348.7M374.7 339.9V348.7M403.9 339.9V348.7M418.5 339.9V348.7M433.1 339.9V348.7" stroke="#000" stroke-width="2.9"/>
</g>
<g transform="translate(0,589.6)">
<g clip-path="url(#pc)">
<path transform="translate(328.8 0)scale(3.128 1)" d="M0 333V291h1V291h1V305h1V280h1V277h1V285h1V271h1V285h1V293h1V263h1V277h1V257h1V256h1V250h1V258h1V267h1V276h1V252h1V285h1V295h1V301h1V302h1V305h1V305h1V307h1V309h1V314h1V320h1V323h-1V329h-1V331h-1V330h-1V328h-1V330h-1V332h-1V329h-1V330h-1V332h-1V330h-1V331h-1V334h-1V333h-1V334h-1V335h-1V331h-1V331h-1V331h-1V333h-1V332h-1V330h-1V330h-1V329h-1V330h-1V330h-1V332h-1V333h-1Z" fill="#88b3da"/>
<path transform="translate(328.8 0)scale(3.128 1)" d="M0 326V276h1V300h1V309h1V306h1V302h1V300h1V299h1V303h1V299h1V294h1V284h1V267h1V268h1V268h1V269h1V280h1V287h1V290h1V294h1V302h1V306h1V308h1V310h1V311h1V312h1V313h1V316h1V320h1V322h-1V325h-1V325h-1V325h-1V326h-1V326h-1V326h-1V326h-1V326h-1V326h-1V326h-1V325h-1V326h-1V326h-1V325h-1V326h-1V326h-1V326h-1V325h-1V326h-1V325h-1V325h-1V325h-1V326h-1V325h-1V326h-1V325h-1V326h-1Z" fill="#cdb498"/>
<path transform="translate(328.8 0)scale(3.128 1)" d="M0 322V286h1V305h1V313h1V310h1V306h1V305h1V305h1V308h1V303h1V300h1V290h1V277h1V277h1V277h1V281h1V288h1V294h1V297h1V302h1V309h1V311h1V313h1V314h1V315h1V316h1V317h1V318h1V320h1V321h-1V322h-1V322h-1V322h-1V322h-1V322h-1V322h-1V322h-1V322h-1V322h-1V322h-1V322h-1V322h-1V322h-1V322h-1V322h-1V322h-1V322h-1V322h-1V322h-1V322h-1V322h-1V322h-1V322h-1V322h-1V322h-1V322h-1V322h-1Z" fill="#b3cfd4"/>
<path d="M345.5 256.1V335M374.7 256.1V335M418.5 256.1V335M433.1 256.1V335M327.7 304.1H450.1M327.7 287.2H450.1" stroke="#bababa" stroke-width="1.1" fill="none"/>
<path d="M330.6 256.1V335M389 256.1V335M447.4 256.1V335" stroke="#ff0000" stroke-opacity="0.5" stroke-width="5" fill="none"/>
<path d="M345.5 321L355.9 319.9L363.4 318.9L369.3 320.3L372.6 321.6" fill="none" stroke="#f00" stroke-opacity="0.4" stroke-width="5" stroke-linejoin="round"/>
<g fill="#000" stroke="#000" stroke-linejoin="round"><path d="M330.9 295.6l0.5 0 0.8 19 1.6 3 1.6 1 1.6-2 1.6-1 1.6-1 1.6 0 1.6 0 1.6-2 1.6 0 1.6 1 1.6-1 1.6 2 1.6 1 1.6-3 1.6-3 1.6-1 1.6-2 1.6-3 1.6-3 1.6-3 1.6-3 1.6-3 1.6-3 1.6 3 1.6 0 1.6 0 1.6 4 1.6 2 1.6 2 1.6 3 1.6 1 1.6 2 1.6 1 1.6 3 1.6 4 1.6 2 1.6 2 1.6-1 1.6 1 1.6-1 1.6 0 1.6 1 1.6 0 1.6 0 1.6 1 1.6 2 1.6 1 1.6-1 1.6 1 1.6-2 1.6 1 1.6-1 0.2 1 34.6 0 0 0-34.6 0-0.2 1-1.6 0-1.6 0-1.6 0-1.6 0-1.6 0-1.6 0-1.6 0-1.6-1-1.6 0-1.6 0-1.6-1-1.6 0-1.6 2-1.6 0-1.6 0-1.6-2-1.6 0-1.6-3-1.6-2-1.6-3-1.6-2-1.6 0-1.6-1-1.6-2-1.6 0-1.6-4-1.6 3-1.6-5-1.6 0-1.6 3-1.6 2-1.6-1-1.6 5-1.6 0-1.6 5-1.6 1-1.6 0-1.6 3-1.6 2-1.6 0-1.6-3-1.6 3-1.6-2-1.6 0-1.6 1-1.6 0-1.6-2-1.6 2-1.6 1-1.6 1-1.6-1-1.6-2-0.8-20-0.5 0Z" stroke-width="8.4"/></g>
</g>
<path d="M321.9 251H455.9V339.9H321.9ZM327.7 256.1V335H450.1V256.1Z" fill="#ff0000" fill-rule="evenodd"/>
<path d="M306.3 253.4H321.9M306.3 321H321.9" stroke="#ff0000" stroke-width="4.8"/>
<path d="M314.2 304.1H321.9M314.2 287.2H321.9M314.2 270.3H321.9" stroke="#000" stroke-width="3"/>
<path d="M330.9 339.9V355.9M389.3 339.9V355.9M447.7 339.9V355.9" stroke="#ff0000" stroke-width="4.3"/>
<path d="M345.5 339.9V348.7M360.1 339.9V348.7M374.7 339.9V348.7M403.9 339.9V348.7M418.5 339.9V348.7M433.1 339.9V348.7" stroke="#000" stroke-width="2.9"/>
</g>
<g transform="translate(179.5,589.6)">
<g clip-path="url(#pc)">
<path transform="translate(328.8 0)scale(3.128 1)" d="M0 334V290h1V291h1V297h1V295h1V293h1V306h1V305h1V301h1V286h1V291h1V287h1V259h1V270h1V250h1V270h1V276h1V276h1V280h1V260h1V295h1V298h1V297h1V280h1V303h1V298h1V306h1V310h1V314h1V319h1V322h-1V329h-1V332h-1V333h-1V333h-1V333h-1V332h-1V330h-1V329h-1V329h-1V331h-1V335h-1V332h-1V332h-1V335h-1V333h-1V334h-1V335h-1V332h-1V332h-1V333h-1V332h-1V330h-1V329h-1V330h-1V332h-1V332h-1V333h-1V334h-1Z" fill="#88b3da"/>
<path transform="translate(328.8 0)scale(3.128 1)" d="M0 325V275h1V300h1V310h1V309h1V309h1V310h1V310h1V307h1V303h1V298h1V293h1V285h1V280h1V276h1V280h1V284h1V287h1V292h1V295h1V301h1V303h1V303h1V304h1V309h1V311h1V312h1V314h1V317h1V321h1V322h-1V324h-1V326h-1V325h-1V325h-1V326h-1V325h-1V325h-1V325h-1V327h-1V326h-1V325h-1V326h-1V326h-1V325h-1V325h-1V325h-1V325h-1V326h-1V327h-1V327h-1V326h-1V327h-1V326h-1V325h-1V326h-1V327h-1V325h-1V325h-1Z" fill="#cdb498"/>
<path transform="translate(328.8 0)scale(3.128 1)" d="M0 322V286h1V305h1V314h1V313h1V313h1V313h1V312h1V310h1V307h1V303h1V299h1V293h1V288h1V283h1V287h1V291h1V294h1V297h1V300h1V305h1V307h1V307h1V309h1V311h1V314h1V315h1V317h1V319h1V321h1V321h-1V322h-1V322h-1V322h-1V322h-1V322h-1V322h-1V322h-1V322h-1V322h-1V322h-1V322h-1V322h-1V322h-1V322h-1V322h-1V322h-1V322h-1V322h-1V322h-1V322h-1V322h-1V322h-1V322h-1V322h-1V322h-1V322h-1V322h-1V322h-1Z" fill="#b3cfd4"/>
<path d="M360.1 256.1V335M403.9 256.1V335M433.1 256.1V335M327.7 304.1H450.1M327.7 287.2H450.1" stroke="#bababa" stroke-width="1.1" fill="none"/>
<path d="M330.6 256.1V335M389 256.1V335M447.4 256.1V335" stroke="#ff0000" stroke-opacity="0.5" stroke-width="5" fill="none"/>
<path d="M348.8 321L359.3 319.9L366.8 318.9L372.6 320.3L375.9 321.6" fill="none" stroke="#f00" stroke-opacity="0.4" stroke-width="5" stroke-linejoin="round"/>
<g fill="#000" stroke="#000" stroke-linejoin="round"><path d="M330.9 295.6l0.5 0 0.8 20 1.6 2 1.6 0 1.6 0 1.6 0 1.6-1 1.6 1 1.6-1 1.6 1 1.6 0 1.6-1 1.6 0 1.6-1 1.6-1 1.6-2 1.6 0 1.6-1 1.6-2 1.6 0 1.6-3 1.6-3 1.6-4 1.6 1 1.6-3 1.6-4 1.6 0 1.6 0 1.6 4 1.6-1 1.6 5 1.6 2 1.6 1 1.6 0 1.6 0 1.6 3 1.6 2 1.6 0 1.6 1 1.6 2 1.6-1 1.6 2 1.6 1 1.6 0 1.6 1 1.6 0 1.6 0 1.6 1 1.6 2 1.6 2 1.6-2 1.6 2 1.6 0 1.6-1 1.6 0 1.5 1 31.7 0 0 0-31.7 0-1.5 1-1.6 0-1.6 0-1.6 0-1.6 0-1.6-1-1.6 0-1.6-1-1.6 0-1.6 1-1.6-1-1.6 0-1.6-1-1.6 0-1.6 0-1.6 0-1.6 0-1.6-1-1.6 0-1.6-3-1.6-3-1.6 3-1.6 0-1.6-3-1.6 0-1.6-5-1.6 3-1.6-7-1.6 0-1.6 2-1.6 1-1.6 5-1.6-3-1.6 3-1.6 5-1.6 2-1.6-1-1.6 2-1.6 0-1.6 0-1.6 0-1.6 2-1.6 0-1.6 0-1.6 1-1.6 0-1.6-1-1.6 0-1.6 0-1.6-1-1.6 1-1.6 1-1.6-1-1.6 0-0.8-22-0.5 0Z" stroke-width="8.4"/></g>
</g>
<path d="M321.9 251H455.9V339.9H321.9ZM327.7 256.1V335H450.1V256.1Z" fill="#ff0000" fill-rule="evenodd"/>
<path d="M306.3 253.4H321.9M306.3 321H321.9" stroke="#ff0000" stroke-width="4.8"/>
<path d="M314.2 304.1H321.9M314.2 287.2H321.9M314.2 270.3H321.9" stroke="#000" stroke-width="3"/>
<path d="M330.9 339.9V355.9M389.3 339.9V355.9M447.7 339.9V355.9" stroke="#ff0000" stroke-width="4.3"/>
<path d="M345.5 339.9V348.7M360.1 339.9V348.7M374.7 339.9V348.7M403.9 339.9V348.7M418.5 339.9V348.7M433.1 339.9V348.7" stroke="#000" stroke-width="2.9"/>
</g>
<g transform="translate(359,589.6)">
<g clip-path="url(#pc)">
<path transform="translate(328.8 0)scale(3.128 1)" d="M0 331V286h1V286h1V304h1V304h1V294h1V307h1V303h1V298h1V290h1V284h1V276h1V250h1V261h1V268h1V250h1V271h1V269h1V250h1V250h1V278h1V293h1V293h1V297h1V301h1V304h1V300h1V301h1V312h1V317h1V323h-1V328h-1V332h-1V331h-1V331h-1V331h-1V334h-1V333h-1V333h-1V333h-1V334h-1V333h-1V334h-1V333h-1V336h-1V335h-1V333h-1V332h-1V334h-1V332h-1V333h-1V331h-1V331h-1V328h-1V329h-1V332h-1V330h-1V329h-1V331h-1Z" fill="#88b3da"/>
<path transform="translate(328.8 0)scale(3.128 1)" d="M0 326V265h1V294h1V309h1V309h1V308h1V311h1V309h1V303h1V298h1V292h1V287h1V277h1V278h1V280h1V282h1V284h1V281h1V279h1V277h1V289h1V301h1V301h1V303h1V305h1V309h1V311h1V315h1V316h1V320h1V322h-1V324h-1V325h-1V325h-1V325h-1V326h-1V325h-1V326h-1V327h-1V327h-1V326h-1V325h-1V325h-1V326h-1V326h-1V326h-1V326h-1V326h-1V325h-1V325h-1V325h-1V326h-1V325h-1V325h-1V325h-1V325h-1V326h-1V325h-1V326h-1Z" fill="#cdb498"/>
<path transform="translate(328.8 0)scale(3.128 1)" d="M0 322V279h1V301h1V314h1V313h1V312h1V314h1V312h1V307h1V302h1V297h1V294h1V287h1V286h1V288h1V289h1V290h1V290h1V286h1V285h1V295h1V305h1V305h1V308h1V311h1V313h1V314h1V317h1V318h1V320h1V321h-1V322h-1V322h-1V322h-1V322h-1V322h-1V322h-1V322h-1V322h-1V322h-1V322h-1V322h-1V322h-1V322h-1V322h-1V322h-1V322h-1V322h-1V322h-1V322h-1V322h-1V322h-1V322h-1V322h-1V322h-1V322h-1V322h-1V322h-1V322h-1Z" fill="#b3cfd4"/>
<path d="M345.5 256.1V335M374.7 256.1V335M418.5 256.1V335M327.7 304.1H450.1M327.7 287.2H450.1" stroke="#bababa" stroke-width="1.1" fill="none"/>
<path d="M330.6 256.1V335M389 256.1V335M447.4 256.1V335" stroke="#ff0000" stroke-opacity="0.5" stroke-width="5" fill="none"/>
<path d="M343.8 321L354.3 319.9L361.8 318.9L367.6 320.3L370.9 321.6" fill="none" stroke="#f00" stroke-opacity="0.4" stroke-width="5" stroke-linejoin="round"/>
<g fill="#000" stroke="#000" stroke-linejoin="round"><path d="M330.9 293.5l0.5 0 0.8 22 1.6 3 1.6 2 1.6-2 1.6 0 1.6 0 1.6 0 1.6 0 1.6 0 1.6 1 1.6 0 1.6 0 1.6-3 1.6-1 1.6-2 1.6-1 1.6-2 1.6-4 1.6 0 1.6-1 1.6-5 1.6 0 1.6 0 1.6-1 1.6 2 1.6-3 1.6 0 1.6 1 1.6 3 1.6-2 1.6 2 1.6-1 1.6-2 1.6 1 1.6 1 1.6 2 1.6 3 1.6 5 1.6 0 1.6 1 1.6 0 1.6 2 1.6 0 1.6 3 1.6 1 1.6 1 1.6 0 1.6 1 1.6 1 1.6 0 1.6 0 1.6 0 1.6 0 1.6 0 1.6 0 0.3 0 31.3 0 0 0-31.3 0-0.3 1-1.6 0-1.6 0-1.6 0-1.6 0-1.6 0-1.6-1-1.6 1-1.6-1-1.6 1-1.6 0-1.6-1-1.6 0-1.6-1-1.6-1-1.6-2-1.6 0-1.6 1-1.6-6-1.6 1-1.6-2-1.6 1-1.6-1-1.6-1-1.6 1-1.6-2-1.6 4-1.6-6-1.6 0-1.6-2-1.6 5-1.6-1-1.6 0-1.6 0-1.6 0-1.6 3-1.6 1-1.6-1-1.6 5-1.6 2-1.6-2-1.6 3-1.6 0-1.6 2-1.6 0-1.6 0-1.6-1-1.6 0-1.6 0-1.6 0-1.6 1-1.6 0-1.6 0-1.6-1-1.6-2-0.8-22-0.5 0Z" stroke-width="8.4"/></g>
</g>
<path d="M321.9 251H455.9V339.9H321.9ZM327.7 256.1V335H450.1V256.1Z" fill="#ff0000" fill-rule="evenodd"/>
<path d="M306.3 253.4H321.9M306.3 321H321.9" stroke="#ff0000" stroke-width="4.8"/>
<path d="M314.2 304.1H321.9M314.2 287.2H321.9M314.2 270.3H321.9" stroke="#000" stroke-width="3"/>
<path d="M330.9 339.9V355.9M389.3 339.9V355.9M447.7 339.9V355.9" stroke="#ff0000" stroke-width="4.3"/>
<path d="M345.5 339.9V348.7M360.1 339.9V348.7M374.7 339.9V348.7M403.9 339.9V348.7M418.5 339.9V348.7M433.1 339.9V348.7" stroke="#000" stroke-width="2.9"/>
</g>
<g transform="translate(538.5,589.6)">
<g clip-path="url(#pc)">
<path transform="translate(328.8 0)scale(3.128 1)" d="M0 335V291h1V291h1V303h1V299h1V279h1V294h1V296h1V286h1V296h1V289h1V257h1V282h1V258h1V266h1V257h1V253h1V250h1V255h1V250h1V256h1V261h1V289h1V278h1V297h1V293h1V306h1V308h1V307h1V311h1V313h1V314h1V320h1V322h-1V327h-1V329h-1V331h-1V329h-1V331h-1V332h-1V330h-1V330h-1V329h-1V329h-1V330h-1V332h-1V333h-1V336h-1V336h-1V335h-1V334h-1V333h-1V335h-1V335h-1V333h-1V331h-1V332h-1V330h-1V332h-1V331h-1V331h-1V332h-1V329h-1V333h-1V335h-1Z" fill="#88b3da"/>
<path transform="translate(328.8 0)scale(3.128 1)" d="M0 325V280h1V299h1V308h1V305h1V303h1V301h1V302h1V304h1V302h1V297h1V293h1V289h1V286h1V280h1V271h1V265h1V265h1V269h1V277h1V288h1V295h1V298h1V303h1V304h1V307h1V311h1V313h1V312h1V314h1V315h1V316h1V321h1V321h-1V324h-1V327h-1V325h-1V327h-1V326h-1V325h-1V325h-1V326h-1V327h-1V326h-1V325h-1V325h-1V325h-1V326h-1V326h-1V325h-1V325h-1V325h-1V326h-1V326h-1V325h-1V326h-1V325h-1V326h-1V326h-1V325h-1V326h-1V325h-1V325h-1V325h-1V325h-1Z" fill="#cdb498"/>
<path transform="translate(328.8 0)scale(3.128 1)" d="M0 322V285h1V303h1V311h1V309h1V307h1V305h1V307h1V307h1V306h1V303h1V299h1V296h1V294h1V289h1V281h1V275h1V276h1V277h1V285h1V295h1V301h1V304h1V308h1V309h1V311h1V313h1V315h1V315h1V317h1V317h1V318h1V321h1V321h-1V322h-1V322h-1V322h-1V322h-1V322h-1V322h-1V322h-1V322h-1V322h-1V322h-1V322h-1V322h-1V322h-1V322h-1V322h-1V322h-1V322h-1V322h-1V322h-1V322h-1V322h-1V322h-1V322h-1V322h-1V322h-1V322h-1V322h-1V322h-1V322h-1V322h-1V322h-1Z" fill="#b3cfd4"/>
<path d="M345.5 256.1V335M360.1 256.1V335M403.9 256.1V335M327.7 304.1H450.1M327.7 287.2H450.1" stroke="#bababa" stroke-width="1.1" fill="none"/>
<path d="M330.6 256.1V335M389 256.1V335M447.4 256.1V335" stroke="#ff0000" stroke-opacity="0.5" stroke-width="5" fill="none"/>
<path d="M359.3 321L369.7 319.9L377.2 318.9L383 320.3L386.4 321.6" fill="none" stroke="#f00" stroke-opacity="0.4" stroke-width="5" stroke-linejoin="round"/>
<g fill="#000" stroke="#000" stroke-linejoin="round"><path d="M330.9 295.6l0.5 0 0.8 18 1.6 2 1.6 1 1.6-2 1.6 0 1.6 0 1.6-1 1.6-1 1.6-1 1.6 1 1.6 1 1.6 0 1.6 0 1.6 0 1.6 0 1.6-1 1.6-3 1.6 1 1.6-1 1.6-2 1.6-1 1.6-3 1.6 1 1.6-1 1.6-5 1.6 0 1.6-4 1.6-1 1.6-2 1.6 2 1.6-5 1.6-1 1.6 1 1.6 5 1.6 6 1.6 4 1.6 4 1.6-2 1.6 2 1.6 2 1.6 0 1.6 3 1.6 1 1.6 1 1.6-1 1.6 1 1.6 2 1.6 1 1.6 1 1.6-1 1.6 0 1.6 1 1.6 1 1.6 1 1.6 0 1.6 0 1.6-1 1.6 0 1.6 0 1.6 2 1.1-1 22.5 0 0 0-22.5 0-1.1 0-1.6 0-1.6 1-1.6 0-1.6 0-1.6 0-1.6-1-1.6 0-1.6 1-1.6 0-1.6-2-1.6 2-1.6-1-1.6-1-1.6-2-1.6-1-1.6 1-1.6-1-1.6 2-1.6-2-1.6-1-1.6-4-1.6-1-1.6 3-1.6-1-1.6-2-1.6-8-1.6-5-1.6 2-1.6-3-1.6 7-1.6 0-1.6-1-1.6 3-1.6 5-1.6-1-1.6 3-1.6 2-1.6-2-1.6 1-1.6 1-1.6 0-1.6 3-1.6-2-1.6 4-1.6-2-1.6 1-1.6 1-1.6-1-1.6-1-1.6 1-1.6-1-1.6-1-1.6 1-1.6 2-1.6-1-1.6 1-1.6 2-1.6-1-1.6-2-0.8-20-0.5 0Z" stroke-width="8.4"/></g>
</g>
<path d="M321.9 251H455.9V339.9H321.9ZM327.7 256.1V335H450.1V256.1Z" fill="#ff0000" fill-rule="evenodd"/>
<path d="M306.3 253.4H321.9M306.3 321H321.9" stroke="#ff0000" stroke-width="4.8"/>
<path d="M314.2 304.1H321.9M314.2 287.2H321.9M314.2 270.3H321.9" stroke="#000" stroke-width="3"/>
<path d="M330.9 339.9V355.9M389.3 339.9V355.9M447.7 339.9V355.9" stroke="#ff0000" stroke-width="4.3"/>
<path d="M345.5 339.9V348.7M360.1 339.9V348.7M374.7 339.9V348.7M403.9 339.9V348.7M418.5 339.9V348.7M433.1 339.9V348.7" stroke="#000" stroke-width="2.9"/>
</g>
<g transform="translate(718,589.6)">
<g clip-path="url(#pc)">
<path transform="translate(328.8 0)scale(3.128 1)" d="M0 334V290h1V288h1V304h1V303h1V303h1V299h1V301h1V298h1V293h1V288h1V274h1V287h1V282h1V280h1V250h1V250h1V272h1V274h1V253h1V274h1V278h1V284h1V272h1V299h1V300h1V303h1V308h1V313h1V319h1V322h-1V327h-1V331h-1V329h-1V329h-1V330h-1V330h-1V332h-1V332h-1V333h-1V336h-1V333h-1V331h-1V332h-1V331h-1V333h-1V334h-1V334h-1V333h-1V331h-1V333h-1V330h-1V329h-1V329h-1V330h-1V331h-1V332h-1V332h-1V334h-1Z" fill="#88b3da"/>
<path transform="translate(328.8 0)scale(3.128 1)" d="M0 326V282h1V300h1V311h1V310h1V309h1V305h1V305h1V304h1V299h1V295h1V295h1V295h1V292h1V288h1V283h1V285h1V284h1V285h1V281h1V286h1V288h1V292h1V298h1V305h1V307h1V309h1V313h1V317h1V320h1V321h-1V324h-1V325h-1V325h-1V326h-1V325h-1V325h-1V325h-1V326h-1V327h-1V326h-1V325h-1V326h-1V325h-1V325h-1V325h-1V325h-1V327h-1V326h-1V326h-1V325h-1V325h-1V325h-1V326h-1V326h-1V326h-1V325h-1V326h-1V326h-1Z" fill="#cdb498"/>
<path transform="translate(328.8 0)scale(3.128 1)" d="M0 322V288h1V303h1V314h1V313h1V312h1V309h1V310h1V309h1V306h1V301h1V301h1V300h1V297h1V292h1V291h1V291h1V290h1V291h1V290h1V292h1V293h1V298h1V302h1V309h1V311h1V313h1V316h1V318h1V321h1V321h-1V322h-1V322h-1V322h-1V322h-1V322h-1V322h-1V322h-1V322h-1V322h-1V322h-1V322h-1V322h-1V322h-1V322h-1V322h-1V322h-1V322h-1V322h-1V322h-1V322h-1V322h-1V322h-1V322h-1V322h-1V322h-1V322h-1V322h-1V322h-1Z" fill="#b3cfd4"/>
<path d="M360.1 256.1V335M374.7 256.1V335M403.9 256.1V335M433.1 256.1V335M327.7 304.1H450.1M327.7 287.2H450.1" stroke="#bababa" stroke-width="1.1" fill="none"/>
<path d="M330.6 256.1V335M389 256.1V335M447.4 256.1V335" stroke="#ff0000" stroke-opacity="0.5" stroke-width="5" fill="none"/>
<path d="M361.3 321L371.8 319.9L379.3 318.9L385.1 320.3L388.5 321.6" fill="none" stroke="#f00" stroke-opacity="0.4" stroke-width="5" stroke-linejoin="round"/>
<g fill="#000" stroke="#000" stroke-linejoin="round"><path d="M330.9 293.5l0.5 0 0.8 22 1.6 3 1.6 2 1.6-2 1.6 0 1.6 0 1.6-1 1.6-1 1.6 1 1.6 0 1.6-2 1.6 1 1.6 0 1.6 0 1.6-2 1.6-1 1.6-1 1.6 0 1.6-1 1.6-2 1.6 0 1.6-1 1.6 0 1.6-2 1.6-2 1.6 0 1.6-3 1.6-2 1.6 0 1.6-1 1.6-1 1.6 3 1.6-3 1.6-1 1.6 3 1.6 2 1.6 0 1.6 3 1.6 1 1.6 2 1.6 1 1.6 0 1.6 4 1.6 1 1.6 1 1.6 2 1.6 0 1.6 2 1.6 1 1.6-1 1.6 1 1.6 1 1.6 1 1.6-1 1.5 1 31.7 0 0 0-31.7 0-1.5 0-1.6 1-1.6 0-1.6 0-1.6 0-1.6 0-1.6 0-1.6-2-1.6-1-1.6 0-1.6-2-1.6 1-1.6-4-1.6 1-1.6 1-1.6-2-1.6-1-1.6-6-1.6 3-1.6 1-1.6-6-1.6 5-1.6 3-1.6-4-1.6-1-1.6 0-1.6-1-1.6 4-1.6 0-1.6 3-1.6-2-1.6 4-1.6 0-1.6-1-1.6 2-1.6 0-1.6 0-1.6 1-1.6 1-1.6-1-1.6 3-1.6-2-1.6 2-1.6-1-1.6 2-1.6 0-1.6-1-1.6 0-1.6 1-1.6 0-1.6 0-1.6 0-1.6-1-1.6-2-0.8-22-0.5 0Z" stroke-width="8.4"/></g>
</g>
<path d="M321.9 251H455.9V339.9H321.9ZM327.7 256.1V335H450.1V256.1Z" fill="#ff0000" fill-rule="evenodd"/>
<path d="M306.3 253.4H321.9M306.3 321H321.9" stroke="#ff0000" stroke-width="4.8"/>
<path d="M314.2 304.1H321.9M314.2 287.2H321.9M314.2 270.3H321.9" stroke="#000" stroke-width="3"/>
<path d="M330.9 339.9V355.9M389.3 339.9V355.9M447.7 339.9V355.9" stroke="#ff0000" stroke-width="4.3"/>
<path d="M345.5 339.9V348.7M360.1 339.9V348.7M374.7 339.9V348.7M403.9 339.9V348.7M418.5 339.9V348.7M433.1 339.9V348.7" stroke="#000" stroke-width="2.9"/>
</g>
<g transform="translate(897.5,589.6)">
<g clip-path="url(#pc)">
<path transform="translate(328.8 0)scale(3.128 1)" d="M0 335V289h1V288h1V296h1V290h1V303h1V300h1V286h1V294h1V271h1V289h1V262h1V281h1V277h1V250h1V250h1V269h1V267h1V263h1V265h1V251h1V270h1V291h1V285h1V299h1V288h1V301h1V302h1V298h1V296h1V315h1V321h1V321h-1V326h-1V330h-1V333h-1V332h-1V331h-1V333h-1V332h-1V333h-1V333h-1V331h-1V334h-1V335h-1V334h-1V335h-1V335h-1V335h-1V331h-1V332h-1V331h-1V333h-1V334h-1V330h-1V332h-1V332h-1V331h-1V333h-1V331h-1V330h-1V334h-1V335h-1Z" fill="#88b3da"/>
<path transform="translate(328.8 0)scale(3.128 1)" d="M0 325V277h1V297h1V309h1V310h1V307h1V307h1V304h1V301h1V298h1V296h1V296h1V290h1V285h1V284h1V276h1V279h1V276h1V275h1V278h1V287h1V293h1V300h1V304h1V306h1V307h1V308h1V309h1V310h1V313h1V317h1V321h1V321h-1V324h-1V326h-1V325h-1V325h-1V326h-1V326h-1V325h-1V325h-1V326h-1V326h-1V325h-1V326h-1V325h-1V326h-1V326h-1V326h-1V326h-1V325h-1V325h-1V325h-1V325h-1V326h-1V326h-1V326h-1V326h-1V326h-1V325h-1V326h-1V325h-1V325h-1Z" fill="#cdb498"/>
<path transform="translate(328.8 0)scale(3.128 1)" d="M0 322V282h1V301h1V312h1V312h1V311h1V310h1V308h1V305h1V302h1V300h1V300h1V294h1V291h1V291h1V287h1V287h1V284h1V281h1V286h1V294h1V300h1V305h1V308h1V310h1V310h1V312h1V313h1V314h1V316h1V319h1V321h1V321h-1V322h-1V322h-1V322h-1V322h-1V322h-1V322h-1V322h-1V322h-1V322h-1V322h-1V322h-1V322h-1V322h-1V322h-1V322h-1V322h-1V322h-1V322h-1V322h-1V322h-1V322h-1V322h-1V322h-1V322h-1V322h-1V322h-1V322h-1V322h-1V322h-1V322h-1Z" fill="#b3cfd4"/>
<path d="M345.5 256.1V335M360.1 256.1V335M374.7 256.1V335M403.9 256.1V335M418.5 256.1V335M327.7 304.1H450.1M327.7 287.2H450.1" stroke="#bababa" stroke-width="1.1" fill="none"/>
<path d="M330.6 256.1V335M389 256.1V335M447.4 256.1V335" stroke="#ff0000" stroke-opacity="0.5" stroke-width="5" fill="none"/>
<path d="M360.5 321L370.9 319.9L378.4 318.9L384.3 320.3L387.6 321.6" fill="none" stroke="#f00" stroke-opacity="0.4" stroke-width="5" stroke-linejoin="round"/>
<g fill="#000" stroke="#000" stroke-linejoin="round"><path d="M330.9 292.2l0.5 0 0.8 22 1.6 3 1.6 0 1.6 0 1.6-2 1.6 1 1.6-2 1.6 2 1.6-1 1.6 1 1.6-2 1.6 2 1.6-1 1.6-1 1.6-1 1.6-2 1.6 0 1.6 0 1.6-1 1.6-3 1.6 0 1.6-2 1.6 1 1.6-4 1.6-2 1.6 1 1.6-1 1.6-2 1.6-2 1.6 0 1.6 0 1.6-2 1.6 1 1.6 2 1.6 4 1.6 1 1.6 4 1.6 2 1.6 0 1.6 1 1.6 2 1.6 2 1.6-1 1.6 2 1.6 1 1.6 0 1.6 0 1.6 1 1.6 0 1.6 1 1.6 2 1.6 0 1.6 0 1.6 1 1.6 1 1.6-1 1.6 1 1.6 1 0.1-1 26.7 0 0 0-26.7 0-0.1 1-1.6-1-1.6 1-1.6 0-1.6 0-1.6 0-1.6 0-1.6 0-1.6-1-1.6 0-1.6 0-1.6-3-1.6 0-1.6 1-1.6-1-1.6 0-1.6-1-1.6 0-1.6-2-1.6 1-1.6 0-1.6 0-1.6-7-1.6 3-1.6-6-1.6 1-1.6-1-1.6-1-1.6 4-1.6-1-1.6-1-1.6 1-1.6 3-1.6-2-1.6 1-1.6 5-1.6-2-1.6 3-1.6-3-1.6 2-1.6 1-1.6 2-1.6 0-1.6 1-1.6 0-1.6 0-1.6 1-1.6-1-1.6 1-1.6-1-1.6 1-1.6-2-1.6 3-1.6-1-1.6 1-1.6 1-1.6 0-1.6-2-0.8-24-0.5 0Z" stroke-width="8.4"/></g>
</g>
<path d="M321.9 251H455.9V339.9H321.9ZM327.7 256.1V335H450.1V256.1Z" fill="#ff0000" fill-rule="evenodd"/>
<path d="M306.3 253.4H321.9M306.3 321H321.9" stroke="#ff0000" stroke-width="4.8"/>
<path d="M314.2 304.1H321.9M314.2 287.2H321.9M314.2 270.3H321.9" stroke="#000" stroke-width="3"/>
<path d="M330.9 339.9V355.9M389.3 339.9V355.9M447.7 339.9V355.9" stroke="#ff0000" stroke-width="4.3"/>
<path d="M345.5 339.9V348.7M360.1 339.9V348.7M374.7 339.9V348.7M403.9 339.9V348.7M418.5 339.9V348.7M433.1 339.9V348.7" stroke="#000" stroke-width="2.9"/>
</g>
<g transform="translate(1077,589.6)">
<g clip-path="url(#pc)">
<path transform="translate(328.8 0)scale(3.128 1)" d="M0 333V286h1V287h1V306h1V307h1V305h1V303h1V304h1V305h1V300h1V278h1V289h1V269h1V287h1V278h1V270h1V264h1V250h1V265h1V269h1V276h1V252h1V268h1V267h1V293h1V279h1V298h1V303h1V306h1V308h1V298h1V316h1V321h1V321h-1V325h-1V329h-1V330h-1V330h-1V330h-1V330h-1V334h-1V333h-1V330h-1V330h-1V333h-1V331h-1V330h-1V331h-1V334h-1V332h-1V336h-1V334h-1V332h-1V331h-1V333h-1V332h-1V331h-1V329h-1V331h-1V330h-1V332h-1V331h-1V331h-1V330h-1V333h-1Z" fill="#88b3da"/>
<path transform="translate(328.8 0)scale(3.128 1)" d="M0 325V271h1V298h1V310h1V311h1V310h1V309h1V309h1V309h1V306h1V300h1V297h1V295h1V294h1V286h1V283h1V276h1V278h1V279h1V280h1V288h1V292h1V296h1V298h1V301h1V304h1V304h1V308h1V311h1V312h1V314h1V318h1V321h1V321h-1V324h-1V325h-1V325h-1V325h-1V326h-1V326h-1V326h-1V326h-1V326h-1V326h-1V326h-1V326h-1V326h-1V325h-1V325h-1V326h-1V327h-1V326h-1V326h-1V325h-1V327h-1V325h-1V325h-1V325h-1V326h-1V326h-1V325h-1V325h-1V325h-1V325h-1V325h-1Z" fill="#cdb498"/>
<path transform="translate(328.8 0)scale(3.128 1)" d="M0 322V280h1V302h1V314h1V313h1V313h1V313h1V312h1V312h1V309h1V305h1V303h1V301h1V298h1V293h1V290h1V287h1V287h1V287h1V289h1V295h1V298h1V300h1V304h1V306h1V309h1V309h1V312h1V314h1V315h1V317h1V319h1V321h1V321h-1V322h-1V322h-1V322h-1V322h-1V322h-1V322h-1V322h-1V322h-1V322h-1V322h-1V322h-1V322h-1V322h-1V322h-1V322h-1V322h-1V322h-1V322h-1V322h-1V322h-1V322h-1V322h-1V322h-1V322h-1V322h-1V322h-1V322h-1V322h-1V322h-1V322h-1V322h-1Z" fill="#b3cfd4"/>
<path d="M360.1 256.1V335M418.5 256.1V335M433.1 256.1V335M327.7 304.1H450.1M327.7 287.2H450.1" stroke="#bababa" stroke-width="1.1" fill="none"/>
<path d="M330.6 256.1V335M389 256.1V335M447.4 256.1V335" stroke="#ff0000" stroke-opacity="0.5" stroke-width="5" fill="none"/>
<path d="M357.6 321L368 319.9L375.5 318.9L381.4 320.3L384.7 321.6" fill="none" stroke="#f00" stroke-opacity="0.4" stroke-width="5" stroke-linejoin="round"/>
<g fill="#000" stroke="#000" stroke-linejoin="round"><path d="M330.9 293.5l0.5 0 0.8 22 1.6 3 1.6 0 1.6 1 1.6 0 1.6 0 1.6-1 1.6 0 1.6 0 1.6 0 1.6-2 1.6 1 1.6-1 1.6 0 1.6 0 1.6-1 1.6 1 1.6-2 1.6-1 1.6-3 1.6-1 1.6-1 1.6 1 1.6-3 1.6-1 1.6 0 1.6-3 1.6 0 1.6-3 1.6-2 1.6-3 1.6 1 1.6 1 1.6 3 1.6 5 1.6-3 1.6 3 1.6 3 1.6 1 1.6 1 1.6 1 1.6 0 1.6 2 1.6 0 1.6 0 1.6 1 1.6 0 1.6 2 1.6 0 1.6 1 1.6 1 1.6-1 1.6 2 1.6 1 1.6-1 1.6 2 1.6 0 1.6 0 1.6 0 1.6 1 0.2 0 23.4 0 0 0-23.4 0-0.2 0-1.6 1-1.6 0-1.6-1-1.6 1-1.6 0-1.6 0-1.6 0-1.6-2-1.6 1-1.6 0-1.6-2-1.6 0-1.6 0-1.6 0-1.6 0-1.6-2-1.6 1-1.6-4-1.6 0-1.6 2-1.6 0-1.6-1-1.6-3-1.6-2-1.6 2-1.6-6-1.6-2-1.6 0-1.6 0-1.6 3-1.6 2-1.6 1-1.6-2-1.6 5-1.6 1-1.6 1-1.6 3-1.6-2-1.6-1-1.6 0-1.6 5-1.6 1-1.6 0-1.6-1-1.6 0-1.6-1-1.6 1-1.6 2-1.6-1-1.6 1-1.6-1-1.6 1-1.6-1-1.6 1-1.6 0-1.6 0-1.6 0-1.6 0-1.6-2-0.8-23-0.5 0Z" stroke-width="8.4"/></g>
</g>
<path d="M321.9 251H455.9V339.9H321.9ZM327.7 256.1V335H450.1V256.1Z" fill="#ff0000" fill-rule="evenodd"/>
<path d="M306.3 253.4H321.9M306.3 321H321.9" stroke="#ff0000" stroke-width="4.8"/>
<path d="M314.2 304.1H321.9M314.2 287.2H321.9M314.2 270.3H321.9" stroke="#000" stroke-width="3"/>
<path d="M330.9 339.9V355.9M389.3 339.9V355.9M447.7 339.9V355.9" stroke="#ff0000" stroke-width="4.3"/>
<path d="M345.5 339.9V348.7M360.1 339.9V348.7M374.7 339.9V348.7M403.9 339.9V348.7M418.5 339.9V348.7M433.1 339.9V348.7" stroke="#000" stroke-width="2.9"/>
</g>
<g transform="translate(1256.5,589.6)">
<g clip-path="url(#pc)">
<path transform="translate(328.8 0)scale(3.128 1)" d="M0 336V285h1V287h1V303h1V288h1V304h1V302h1V298h1V282h1V296h1V292h1V292h1V286h1V280h1V250h1V261h1V257h1V264h1V268h1V275h1V281h1V281h1V270h1V289h1V293h1V297h1V289h1V304h1V297h1V293h1V297h1V307h1V296h1V307h1V308h1V305h1V315h1V321h1V321h-1V327h-1V330h-1V332h-1V330h-1V332h-1V329h-1V332h-1V331h-1V330h-1V329h-1V331h-1V330h-1V331h-1V333h-1V334h-1V332h-1V332h-1V332h-1V336h-1V335h-1V336h-1V332h-1V335h-1V331h-1V331h-1V332h-1V332h-1V329h-1V330h-1V331h-1V332h-1V331h-1V329h-1V332h-1V334h-1V336h-1Z" fill="#88b3da"/>
<path transform="translate(328.8 0)scale(3.128 1)" d="M0 325V264h1V296h1V310h1V309h1V309h1V308h1V305h1V307h1V302h1V300h1V300h1V296h1V291h1V283h1V278h1V274h1V276h1V278h1V283h1V288h1V290h1V295h1V297h1V300h1V305h1V307h1V308h1V309h1V311h1V312h1V312h1V312h1V312h1V313h1V315h1V317h1V321h1V321h-1V324h-1V326h-1V325h-1V325h-1V326h-1V326h-1V326h-1V326h-1V327h-1V326h-1V325h-1V326h-1V325h-1V326h-1V326h-1V327h-1V326h-1V326h-1V325h-1V326h-1V325h-1V325h-1V325h-1V326h-1V326h-1V326h-1V326h-1V327h-1V327h-1V326h-1V326h-1V325h-1V326h-1V326h-1V326h-1V325h-1Z" fill="#cdb498"/>
<path transform="translate(328.8 0)scale(3.128 1)" d="M0 322V272h1V301h1V313h1V312h1V312h1V312h1V310h1V310h1V308h1V305h1V305h1V301h1V297h1V291h1V287h1V282h1V283h1V285h1V290h1V294h1V295h1V299h1V302h1V306h1V309h1V311h1V312h1V313h1V314h1V314h1V314h1V314h1V316h1V315h1V317h1V319h1V321h1V321h-1V322h-1V322h-1V322h-1V322h-1V322h-1V322h-1V322h-1V322h-1V322h-1V322h-1V322h-1V322h-1V322h-1V322h-1V322h-1V322h-1V322h-1V322h-1V322h-1V322h-1V322h-1V322h-1V322h-1V322h-1V322h-1V322h-1V322h-1V322h-1V322h-1V322h-1V322h-1V322h-1V322h-1V322h-1V322h-1V322h-1Z" fill="#b3cfd4"/>
<path d="M345.5 256.1V335M360.1 256.1V335M374.7 256.1V335M403.9 256.1V335M433.1 256.1V335M327.7 304.1H450.1M327.7 287.2H450.1" stroke="#bababa" stroke-width="1.1" fill="none"/>
<path d="M330.6 256.1V335M389 256.1V335M447.4 256.1V335" stroke="#ff0000" stroke-opacity="0.5" stroke-width="5" fill="none"/>
<path d="M354.7 321L365.1 319.9L372.6 318.9L378.4 320.3L381.8 321.6" fill="none" stroke="#f00" stroke-opacity="0.4" stroke-width="5" stroke-linejoin="round"/>
<g fill="#000" stroke="#000" stroke-linejoin="round"><path d="M330.9 293.5l0.5 0 0.8 22 1.6 3 1.6 1 1.6-1 1.6-1 1.6 0 1.6 1 1.6-1 1.6 0 1.6 0 1.6-1 1.6-1 1.6 1 1.6-1 1.6 0 1.6-1 1.6-2 1.6 1 1.6-1 1.6-2 1.6-1 1.6-1 1.6-1 1.6-1 1.6-4 1.6 0 1.6-2 1.6-2 1.6-6 1.6 0 1.6 2 1.6 3 1.6 2 1.6 0 1.6 4 1.6 0 1.6 0 1.6 2 1.6-1 1.6 3 1.6 0 1.6 4 1.6 1 1.6 2 1.6 1 1.6 1 1.6 0 1.6-1 1.6 2 1.6 0 1.6-1 1.6 1 1.6 2 1.6-1 1.6 1 1.6-1 1.6 1 1.6-1 1.6 2 1.6-1 1.6 0 1.6 1 1.6 0 1.6 0 1.6 1 1.6-1 1.6 0 1.6 1 1.6 0 1.6 1 0.1-1 7.5 0 0 0-7.5 0-0.1 1-1.6 0-1.6 0-1.6 0-1.6 0-1.6 0-1.6 0-1.6 0-1.6 0-1.6 0-1.6 0-1.6 0-1.6-1-1.6 0-1.6 1-1.6 0-1.6-1-1.6 0-1.6 0-1.6 0-1.6 1-1.6 0-1.6-2-1.6 2-1.6-1-1.6-2-1.6 0-1.6-2-1.6 0-1.6-1-1.6-1-1.6-4-1.6 3-1.6-2-1.6 2-1.6-1-1.6-5-1.6 1-1.6-2-1.6-3-1.6-1-1.6-2-1.6 9-1.6-2-1.6 3-1.6 0-1.6 1-1.6 2-1.6 2-1.6-1-1.6 0-1.6 3-1.6 1-1.6 0-1.6 1-1.6 1-1.6-1-1.6 1-1.6 0-1.6-1-1.6 1-1.6-1-1.6 0-1.6 1-1.6 0-1.6-1-1.6 2-1.6 0-1.6 0-1.6-3-0.8-22-0.5 0Z" stroke-width="8.4"/></g>
</g>
<path d="M321.9 251H455.9V339.9H321.9ZM327.7 256.1V335H450.1V256.1Z" fill="#ff0000" fill-rule="evenodd"/>
<path d="M306.3 253.4H321.9M306.3 321H321.9" stroke="#ff0000" stroke-width="4.8"/>
<path d="M314.2 304.1H321.9M314.2 287.2H321.9M314.2 270.3H321.9" stroke="#000" stroke-width="3"/>
<path d="M330.9 339.9V355.9M389.3 339.9V355.9M447.7 339.9V355.9" stroke="#ff0000" stroke-width="4.3"/>
<path d="M345.5 339.9V348.7M360.1 339.9V348.7M374.7 339.9V348.7M403.9 339.9V348.7M418.5 339.9V348.7M433.1 339.9V348.7" stroke="#000" stroke-width="2.9"/>
</g>
<g transform="translate(1436,589.6)">
<g clip-path="url(#pc)">
<path transform="translate(328.8 0)scale(3.128 1)" d="M0 337V286h1V287h1V306h1V306h1V306h1V301h1V302h1V299h1V299h1V298h1V298h1V288h1V279h1V276h1V250h1V266h1V250h1V258h1V250h1V269h1V256h1V256h1V290h1V296h1V298h1V300h1V302h1V306h1V290h1V304h1V307h1V310h1V313h1V318h1V324h-1V330h-1V330h-1V331h-1V330h-1V329h-1V331h-1V332h-1V329h-1V329h-1V330h-1V332h-1V333h-1V332h-1V335h-1V335h-1V334h-1V333h-1V337h-1V335h-1V334h-1V334h-1V331h-1V332h-1V333h-1V330h-1V331h-1V331h-1V333h-1V330h-1V332h-1V330h-1V333h-1V337h-1Z" fill="#88b3da"/>
<path transform="translate(328.8 0)scale(3.128 1)" d="M0 324V269h1V297h1V311h1V311h1V310h1V306h1V306h1V305h1V305h1V303h1V303h1V296h1V289h1V285h1V276h1V277h1V273h1V273h1V272h1V279h1V286h1V288h1V297h1V303h1V305h1V307h1V308h1V310h1V309h1V310h1V312h1V314h1V316h1V319h1V322h-1V325h-1V326h-1V325h-1V325h-1V325h-1V326h-1V325h-1V326h-1V325h-1V327h-1V326h-1V325h-1V326h-1V326h-1V326h-1V326h-1V326h-1V326h-1V327h-1V326h-1V326h-1V325h-1V326h-1V326h-1V325h-1V325h-1V325h-1V326h-1V326h-1V325h-1V325h-1V325h-1V324h-1Z" fill="#cdb498"/>
<path transform="translate(328.8 0)scale(3.128 1)" d="M0 322V275h1V300h1V314h1V314h1V313h1V310h1V311h1V310h1V309h1V308h1V307h1V302h1V296h1V291h1V284h1V284h1V282h1V282h1V280h1V285h1V291h1V293h1V302h1V308h1V309h1V310h1V311h1V313h1V313h1V313h1V314h1V316h1V318h1V320h1V321h-1V322h-1V322h-1V322h-1V322h-1V322h-1V322h-1V322h-1V322h-1V322h-1V322h-1V322h-1V322h-1V322h-1V322h-1V322h-1V322h-1V322h-1V322h-1V322h-1V322h-1V322h-1V322h-1V322h-1V322h-1V322h-1V322h-1V322h-1V322h-1V322h-1V322h-1V322h-1V322h-1V322h-1Z" fill="#b3cfd4"/>
<path d="M345.5 256.1V335M374.7 256.1V335M418.5 256.1V335M433.1 256.1V335M327.7 304.1H450.1M327.7 287.2H450.1" stroke="#bababa" stroke-width="1.1" fill="none"/>
<path d="M330.6 256.1V335M389 256.1V335M447.4 256.1V335" stroke="#ff0000" stroke-opacity="0.5" stroke-width="5" fill="none"/>
<path d="M360.1 321L370.5 319.9L378 318.9L383.9 320.3L387.2 321.6" fill="none" stroke="#f00" stroke-opacity="0.4" stroke-width="5" stroke-linejoin="round"/>
<g fill="#000" stroke="#000" stroke-linejoin="round"><path d="M330.9 292.2l0.5 0 0.8 23 1.6 3 1.6 1 1.6 0 1.6-1 1.6-2 1.6 1 1.6 1 1.6 0 1.6-1 1.6 0 1.6-1 1.6 0 1.6-2 1.6 1 1.6-2 1.6 1 1.6-1 1.6 0 1.6 0 1.6-1 1.6-1 1.6-3 1.6-2 1.6-4 1.6-3 1.6-2 1.6-1 1.6-2 1.6 0 1.6 1 1.6-1 1.6-3 1.6 6 1.6-3 1.6 3 1.6 4 1.6-2 1.6 5 1.6-1 1.6 4 1.6 4 1.6 0 1.6 1 1.6 2 1.6 1 1.6-1 1.6 1 1.6 1 1.6 0 1.6 1 1.6-1 1.6 2 1.6 1 1.6 0 1.6-1 1.6 2 1.6-2 1.6 0 1.6 2 1.6 0 1.6 0 1.6 0 1.6 0 1.6 1 0.6 0 15 0 0 0-15 0-0.6 1-1.6 0-1.6 0-1.6 0-1.6 0-1.6 0-1.6 0-1.6-1-1.6 1-1.6 0-1.6 0-1.6 0-1.6 0-1.6-1-1.6 0-1.6 0-1.6-1-1.6 1-1.6-2-1.6 2-1.6-1-1.6-4-1.6-1-1.6 2-1.6-4-1.6-2-1.6 3-1.6-4-1.6-2-1.6-1-1.6-1-1.6 0-1.6-1-1.6-1-1.6 1-1.6 2-1.6 0-1.6-1-1.6 2-1.6-1-1.6 3-1.6 2-1.6 1-1.6 3-1.6 1-1.6 2-1.6-1-1.6 0-1.6 1-1.6-1-1.6 2-1.6-1-1.6 1-1.6 0-1.6 1-1.6 0-1.6 0-1.6 1-1.6-1-1.6 0-1.6 0-1.6 1-1.6 0-1.6-1-1.6-3-0.8-22-0.5 0Z" stroke-width="8.4"/></g>
</g>
<path d="M321.9 251H455.9V339.9H321.9ZM327.7 256.1V335H450.1V256.1Z" fill="#ff0000" fill-rule="evenodd"/>
<path d="M306.3 253.4H321.9M306.3 321H321.9" stroke="#ff0000" stroke-width="4.8"/>
<path d="M314.2 304.1H321.9M314.2 287.2H321.9M314.2 270.3H321.9" stroke="#000" stroke-width="3"/>
<path d="M330.9 339.9V355.9M389.3 339.9V355.9M447.7 339.9V355.9" stroke="#ff0000" stroke-width="4.3"/>
<path d="M345.5 339.9V348.7M360.1 339.9V348.7M374.7 339.9V348.7M403.9 339.9V348.7M418.5 339.9V348.7M433.1 339.9V348.7" stroke="#000" stroke-width="2.9"/>
</g>
<g transform="translate(1615.5,589.6)">
<g clip-path="url(#pc)">
<path transform="translate(328.8 0)scale(3.128 1)" d="M0 336V291h1V291h1V290h1V288h1V303h1V301h1V296h1V297h1V292h1V288h1V287h1V264h1V291h1V282h1V279h1V250h1V258h1V250h1V259h1V268h1V277h1V286h1V276h1V284h1V298h1V284h1V305h1V308h1V318h1V324h-1V330h-1V330h-1V331h-1V331h-1V331h-1V332h-1V331h-1V330h-1V331h-1V335h-1V335h-1V334h-1V333h-1V332h-1V331h-1V334h-1V332h-1V333h-1V331h-1V329h-1V330h-1V332h-1V330h-1V333h-1V330h-1V332h-1V332h-1V336h-1Z" fill="#88b3da"/>
<path transform="translate(328.8 0)scale(3.128 1)" d="M0 327V281h1V302h1V309h1V308h1V309h1V306h1V301h1V302h1V299h1V298h1V295h1V296h1V300h1V293h1V287h1V276h1V271h1V270h1V273h1V280h1V289h1V294h1V299h1V302h1V304h1V307h1V311h1V313h1V319h1V322h-1V325h-1V325h-1V325h-1V325h-1V325h-1V326h-1V326h-1V326h-1V325h-1V326h-1V325h-1V326h-1V327h-1V326h-1V326h-1V325h-1V325h-1V325h-1V326h-1V326h-1V326h-1V325h-1V326h-1V326h-1V326h-1V325h-1V326h-1V327h-1Z" fill="#cdb498"/>
<path transform="translate(328.8 0)scale(3.128 1)" d="M0 322V289h1V305h1V312h1V311h1V311h1V309h1V306h1V307h1V305h1V303h1V303h1V303h1V304h1V299h1V295h1V287h1V280h1V278h1V281h1V289h1V296h1V302h1V305h1V307h1V308h1V311h1V314h1V316h1V320h1V321h-1V322h-1V322h-1V322h-1V322h-1V322h-1V322h-1V322h-1V322h-1V322h-1V322h-1V322h-1V322h-1V322h-1V322h-1V322h-1V322h-1V322h-1V322h-1V322h-1V322h-1V322h-1V322h-1V322h-1V322h-1V322h-1V322h-1V322h-1V322h-1Z" fill="#b3cfd4"/>
<path d="M360.1 256.1V335M403.9 256.1V335M433.1 256.1V335M327.7 304.1H450.1M327.7 287.2H450.1" stroke="#bababa" stroke-width="1.1" fill="none"/>
<path d="M330.6 256.1V335M389 256.1V335M447.4 256.1V335" stroke="#ff0000" stroke-opacity="0.5" stroke-width="5" fill="none"/>
<path d="M359.7 321L370.1 319.9L377.6 318.9L383.5 320.3L386.8 321.6" fill="none" stroke="#f00" stroke-opacity="0.4" stroke-width="5" stroke-linejoin="round"/>
<g fill="#000" stroke="#000" stroke-linejoin="round"><path d="M330.9 294.8l0.5 0 0.8 20 1.6 3 1.6-2 1.6 1 1.6 0 1.6 0 1.6-1 1.6-1 1.6 0 1.6 0 1.6-1 1.6-1 1.6 1 1.6-1 1.6-1 1.6-1 1.6 0 1.6 0 1.6 0 1.6 1 1.6-1 1.6 2 1.6-1 1.6 0 1.6-4 1.6-1 1.6-3 1.6 1 1.6-2 1.6-6 1.6 1 1.6-4 1.6-1 1.6 4 1.6 4 1.6 0 1.6 1 1.6 2 1.6 5 1.6 0 1.6 3 1.6 1 1.6 0 1.6 2 1.6-2 1.6 3 1.6 1 1.6 1 1.6-1 1.6 2 1.6 0 1.6 0 1.6 1 1.6 0 1.6 1 0.7 0 30.9 0 0 0-30.9 0-0.7 0-1.6 1-1.6 0-1.6 0-1.6 0-1.6 0-1.6 0-1.6 0-1.6 0-1.6-2-1.6-1-1.6 1-1.6-2-1.6 0-1.6 0-1.6-2-1.6-1-1.6-1-1.6-3-1.6-2-1.6 0-1.6-2-1.6-5-1.6 0-1.6 4-1.6-1-1.6 8-1.6 1-1.6-1-1.6 1-1.6 1-1.6 3-1.6-1-1.6 1-1.6-2-1.6 2-1.6-1-1.6 1-1.6 0-1.6-1-1.6 0-1.6 1-1.6 1-1.6-1-1.6 0-1.6 2-1.6 0-1.6-1-1.6 2-1.6 0-1.6 1-1.6-1-1.6 0-1.6 1-1.6-2-0.8-22-0.5 0Z" stroke-width="8.4"/></g>
</g>
<path d="M321.9 251H455.9V339.9H321.9ZM327.7 256.1V335H450.1V256.1Z" fill="#ff0000" fill-rule="evenodd"/>
<path d="M306.3 253.4H321.9M306.3 321H321.9" stroke="#ff0000" stroke-width="4.8"/>
<path d="M314.2 304.1H321.9M314.2 287.2H321.9M314.2 270.3H321.9" stroke="#000" stroke-width="3"/>
<path d="M330.9 339.9V355.9M389.3 339.9V355.9M447.7 339.9V355.9" stroke="#ff0000" stroke-width="4.3"/>
<path d="M345.5 339.9V348.7M360.1 339.9V348.7M374.7 339.9V348.7M403.9 339.9V348.7M418.5 339.9V348.7M433.1 339.9V348.7" stroke="#000" stroke-width="2.9"/>
</g>
<g transform="translate(1795,589.6)">
<g clip-path="url(#pc)">
<path transform="translate(328.8 0)scale(3.128 1)" d="M0 332V285h1V287h1V297h1V306h1V302h1V293h1V285h1V298h1V298h1V291h1V288h1V286h1V289h1V293h1V298h1V261h1V266h1V258h1V255h1V250h1V255h1V256h1V275h1V284h1V289h1V297h1V288h1V302h1V307h1V308h1V313h1V321h1V321h-1V326h-1V330h-1V331h-1V329h-1V332h-1V331h-1V334h-1V334h-1V335h-1V336h-1V336h-1V332h-1V333h-1V331h-1V330h-1V330h-1V329h-1V330h-1V332h-1V331h-1V330h-1V332h-1V333h-1V331h-1V332h-1V331h-1V331h-1V332h-1V331h-1V332h-1V332h-1Z" fill="#88b3da"/>
<path transform="translate(328.8 0)scale(3.128 1)" d="M0 327V265h1V296h1V309h1V310h1V307h1V306h1V306h1V305h1V304h1V299h1V298h1V296h1V298h1V300h1V305h1V290h1V279h1V274h1V272h1V280h1V274h1V273h1V288h1V295h1V298h1V304h1V305h1V307h1V310h1V313h1V316h1V321h1V321h-1V323h-1V325h-1V325h-1V325h-1V326h-1V326h-1V327h-1V327h-1V326h-1V325h-1V326h-1V325h-1V325h-1V327h-1V327h-1V326h-1V326h-1V325h-1V325h-1V325h-1V325h-1V326h-1V326h-1V326h-1V325h-1V325h-1V326h-1V325h-1V326h-1V327h-1V327h-1Z" fill="#cdb498"/>
<path transform="translate(328.8 0)scale(3.128 1)" d="M0 322V279h1V302h1V313h1V313h1V310h1V309h1V309h1V309h1V307h1V305h1V303h1V302h1V302h1V304h1V309h1V296h1V285h1V280h1V281h1V288h1V284h1V284h1V294h1V301h1V304h1V308h1V309h1V311h1V314h1V316h1V318h1V321h1V321h-1V321h-1V322h-1V322h-1V322h-1V322h-1V322h-1V322h-1V322h-1V322h-1V322h-1V322h-1V322h-1V322h-1V322h-1V322h-1V322h-1V322h-1V322h-1V322h-1V322h-1V322h-1V322h-1V322h-1V322h-1V322h-1V322h-1V322h-1V322h-1V322h-1V322h-1V322h-1Z" fill="#b3cfd4"/>
<path d="M345.5 256.1V335M374.7 256.1V335M403.9 256.1V335M418.5 256.1V335M327.7 304.1H450.1M327.7 287.2H450.1" stroke="#bababa" stroke-width="1.1" fill="none"/>
<path d="M330.6 256.1V335M389 256.1V335M447.4 256.1V335" stroke="#ff0000" stroke-opacity="0.5" stroke-width="5" fill="none"/>
<path d="M361.8 321L372.2 319.9L379.7 318.9L385.5 320.3L388.9 321.6" fill="none" stroke="#f00" stroke-opacity="0.4" stroke-width="5" stroke-linejoin="round"/>
<g fill="#000" stroke="#000" stroke-linejoin="round"><path d="M330.9 292.2l0.5 0 0.8 23 1.6 2 1.6 1 1.6-1 1.6 0 1.6-1 1.6 1 1.6-2 1.6 2 1.6-1 1.6 0 1.6-1 1.6 0 1.6 0 1.6-2 1.6 0 1.6-1 1.6 1 1.6-4 1.6 1 1.6-1 1.6-2 1.6-1 1.6 2 1.6 3 1.6 3 1.6 1 1.6-1 1.6-3 1.6-4 1.6-6 1.6-2 1.6-4 1.6-1 1.6 1 1.6 3 1.6 5 1.6-3 1.6-4 1.6-3 1.6 3 1.6 6 1.6 2 1.6 4 1.6 1 1.6 0 1.6 2 1.6 1 1.6 1 1.6 1 1.6 1 1.6 2 1.6 0 1.6 0 1.6 3 1.6 0 1.6 1 1.6-1 1.6 2 1.6-2 0.7 1 22.9 0 0 0-22.9 0-0.7 1-1.6 0-1.6 0-1.6 0-1.6 0-1.6 0-1.6-2-1.6 1-1.6 0-1.6-2-1.6-1-1.6 1-1.6-1-1.6-2-1.6 0-1.6-1-1.6 2-1.6-5-1.6-3-1.6-5-1.6 2-1.6 1-1.6 5-1.6 1-1.6-7-1.6-3-1.6 2-1.6 0-1.6 5-1.6 0-1.6 2-1.6 4-1.6 2-1.6 2-1.6-1-1.6-1-1.6-4-1.6-1-1.6-1-1.6 3-1.6 0-1.6-1-1.6 5-1.6-3-1.6 4-1.6-1-1.6 2-1.6-1-1.6 0-1.6 1-1.6-1-1.6 1-1.6-2-1.6 3-1.6-3-1.6 1-1.6 0-1.6 2-1.6-1-1.6-3-0.8-22-0.5 0Z" stroke-width="8.4"/></g>
</g>
<path d="M321.9 251H455.9V339.9H321.9ZM327.7 256.1V335H450.1V256.1Z" fill="#ff0000" fill-rule="evenodd"/>
<path d="M306.3 253.4H321.9M306.3 321H321.9" stroke="#ff0000" stroke-width="4.8"/>
<path d="M314.2 304.1H321.9M314.2 287.2H321.9M314.2 270.3H321.9" stroke="#000" stroke-width="3"/>
<path d="M330.9 339.9V355.9M389.3 339.9V355.9M447.7 339.9V355.9" stroke="#ff0000" stroke-width="4.3"/>
<path d="M345.5 339.9V348.7M360.1 339.9V348.7M374.7 339.9V348.7M403.9 339.9V348.7M418.5 339.9V348.7M433.1 339.9V348.7" stroke="#000" stroke-width="2.9"/>
</g>
<g transform="translate(0,707.5)">
<g clip-path="url(#pc)">
<path transform="translate(328.8 0)scale(3.128 1)" d="M0 331V289h1V289h1V301h1V297h1V281h1V296h1V297h1V282h1V290h1V256h1V250h1V261h1V268h1V274h1V276h1V277h1V270h1V270h1V290h1V294h1V295h1V301h1V301h1V287h1V307h1V311h1V312h1V321h1V321h-1V325h-1V330h-1V329h-1V331h-1V329h-1V332h-1V329h-1V332h-1V332h-1V334h-1V331h-1V334h-1V335h-1V335h-1V334h-1V335h-1V331h-1V330h-1V332h-1V334h-1V332h-1V333h-1V332h-1V334h-1V332h-1V329h-1V331h-1Z" fill="#88b3da"/>
<path transform="translate(328.8 0)scale(3.128 1)" d="M0 327V273h1V296h1V307h1V304h1V302h1V304h1V304h1V301h1V296h1V287h1V282h1V276h1V279h1V282h1V285h1V284h1V281h1V281h1V298h1V313h1V307h1V307h1V307h1V308h1V311h1V313h1V318h1V321h1V321h-1V323h-1V326h-1V325h-1V326h-1V325h-1V326h-1V325h-1V327h-1V326h-1V326h-1V325h-1V325h-1V326h-1V326h-1V325h-1V326h-1V326h-1V326h-1V326h-1V327h-1V326h-1V326h-1V325h-1V326h-1V326h-1V326h-1V327h-1Z" fill="#cdb498"/>
<path transform="translate(328.8 0)scale(3.128 1)" d="M0 322V284h1V304h1V312h1V308h1V306h1V308h1V308h1V305h1V301h1V295h1V292h1V286h1V286h1V289h1V292h1V290h1V289h1V291h1V303h1V315h1V311h1V311h1V311h1V312h1V314h1V316h1V319h1V321h1V321h-1V322h-1V322h-1V322h-1V322h-1V322h-1V322h-1V322h-1V322h-1V322h-1V322h-1V322h-1V322h-1V322h-1V322h-1V322h-1V322h-1V322h-1V322h-1V322h-1V322h-1V322h-1V322h-1V322h-1V322h-1V322h-1V322h-1V322h-1Z" fill="#b3cfd4"/>
<path d="M345.5 256.1V335M374.7 256.1V335M418.5 256.1V335M433.1 256.1V335M327.7 304.1H450.1M327.7 270.3H450.1" stroke="#bababa" stroke-width="1.1" fill="none"/>
<path d="M330.6 256.1V335M389 256.1V335M447.4 256.1V335" stroke="#ff0000" stroke-opacity="0.5" stroke-width="5" fill="none"/>
<path d="M343.4 321L353.8 319.9L361.3 318.9L367.2 320.3L370.5 321.6" fill="none" stroke="#f00" stroke-opacity="0.4" stroke-width="5" stroke-linejoin="round"/>
<g fill="#000" stroke="#000" stroke-linejoin="round"><path d="M330.9 295l0.5 0 0.8 20 1.6 4 1.6 1 1.6-4 1.6-2 1.6-2 1.6 1 1.6 1 1.6-1 1.6 0 1.6 2 1.6 0 1.6-3 1.6 0 1.6-1 1.6-2 1.6 0 1.6-5 1.6-2 1.6 0 1.6-2 1.6-2 1.6-2 1.6 2 1.6 2 1.6 3 1.6-2 1.6 0 1.6 0 1.6 0 1.6-1 1.6-1 1.6 4 1.6 5 1.6 5 1.6 6 1.6 2 1.6-1 1.6-4 1.6-2 1.6 0 1.6 1 1.6 0 1.6 2 1.6 0 1.6 0 1.6 1 1.6 2 1.6-1 1.6 1 1.6 0 1.6 0 0.5 1 35.9 0 0 0-35.9 0-0.5 1-1.6 0-1.6 0-1.6 0-1.6-1-1.6 1-1.6 0-1.6-1-1.6-1-1.6 0-1.6-2-1.6 1-1.6 0-1.6 2-1.6 1-1.6 0-1.6 0-1.6-3-1.6-4-1.6-4-1.6-3-1.6 0-1.6 2-1.6 2-1.6 0-1.6-3-1.6 2-1.6-2-1.6-3-1.6 2-1.6 2-1.6 1-1.6 1-1.6-3-1.6 2-1.6 6-1.6-2-1.6 1-1.6 3-1.6-2-1.6 3-1.6 0-1.6-3-1.6 1-1.6 2-1.6-1-1.6-2-1.6 2-1.6 2-1.6 1-1.6 0-1.6-4-0.8-20-0.5 0Z" stroke-width="8.4"/></g>
</g>
<path d="M321.9 251H455.9V339.9H321.9ZM327.7 256.1V335H450.1V256.1Z" fill="#ff0000" fill-rule="evenodd"/>
<path d="M306.3 253.4H321.9M306.3 321H321.9" stroke="#ff0000" stroke-width="4.8"/>
<path d="M314.2 304.1H321.9M314.2 287.2H321.9M314.2 270.3H321.9" stroke="#000" stroke-width="3"/>
<path d="M330.9 339.9V355.9M389.3 339.9V355.9M447.7 339.9V355.9" stroke="#ff0000" stroke-width="4.3"/>
<path d="M345.5 339.9V348.7M360.1 339.9V348.7M374.7 339.9V348.7M403.9 339.9V348.7M418.5 339.9V348.7M433.1 339.9V348.7" stroke="#000" stroke-width="2.9"/>
</g>
<g transform="translate(179.5,707.5)">
<g clip-path="url(#pc)">
<path transform="translate(328.8 0)scale(3.128 1)" d="M0 333V285h1V286h1V309h1V305h1V288h1V304h1V301h1V296h1V276h1V294h1V287h1V277h1V250h1V259h1V250h1V262h1V250h1V271h1V276h1V285h1V287h1V270h1V292h1V298h1V295h1V304h1V308h1V314h1V321h1V321h-1V326h-1V330h-1V332h-1V332h-1V332h-1V330h-1V331h-1V330h-1V333h-1V336h-1V335h-1V334h-1V336h-1V332h-1V336h-1V336h-1V334h-1V332h-1V332h-1V332h-1V333h-1V333h-1V333h-1V332h-1V332h-1V331h-1V330h-1V333h-1Z" fill="#88b3da"/>
<path transform="translate(328.8 0)scale(3.128 1)" d="M0 324V262h1V293h1V312h1V311h1V310h1V310h1V307h1V303h1V302h1V300h1V294h1V288h1V275h1V270h1V275h1V278h1V279h1V282h1V286h1V293h1V296h1V299h1V300h1V305h1V310h1V309h1V312h1V317h1V321h1V321h-1V323h-1V326h-1V325h-1V326h-1V326h-1V325h-1V326h-1V326h-1V326h-1V325h-1V325h-1V326h-1V326h-1V326h-1V325h-1V325h-1V325h-1V326h-1V326h-1V325h-1V325h-1V326h-1V326h-1V325h-1V327h-1V326h-1V325h-1V324h-1Z" fill="#cdb498"/>
<path transform="translate(328.8 0)scale(3.128 1)" d="M0 322V273h1V300h1V315h1V314h1V313h1V312h1V311h1V307h1V307h1V305h1V299h1V293h1V283h1V281h1V282h1V284h1V287h1V290h1V293h1V297h1V301h1V304h1V305h1V309h1V312h1V312h1V315h1V318h1V321h1V321h-1V322h-1V322h-1V322h-1V322h-1V322h-1V322h-1V322h-1V322h-1V322h-1V322h-1V322h-1V322h-1V322h-1V322h-1V322h-1V322h-1V322h-1V322h-1V322h-1V322h-1V322h-1V322h-1V322h-1V322h-1V322h-1V322h-1V322h-1V322h-1Z" fill="#b3cfd4"/>
<path d="M360.1 256.1V335M403.9 256.1V335M433.1 256.1V335M327.7 304.1H450.1M327.7 270.3H450.1" stroke="#bababa" stroke-width="1.1" fill="none"/>
<path d="M330.6 256.1V335M389 256.1V335M447.4 256.1V335" stroke="#ff0000" stroke-opacity="0.5" stroke-width="5" fill="none"/>
<path d="M348.8 321L359.3 319.9L366.8 318.9L372.6 320.3L375.9 321.6" fill="none" stroke="#f00" stroke-opacity="0.4" stroke-width="5" stroke-linejoin="round"/>
<g fill="#000" stroke="#000" stroke-linejoin="round"><path d="M330.9 292.9l0.5 0 0.8 22 1.6 4 1.6 1 1.6-1 1.6-1 1.6 2 1.6-2 1.6-1 1.6 2 1.6-2 1.6-2 1.6 2 1.6-2 1.6 1 1.6-1 1.6-1 1.6-1 1.6-3 1.6-1 1.6 0 1.6-3 1.6-6 1.6-2 1.6 0 1.6-3 1.6-1 1.6-2 1.6 3 1.6 1 1.6-1 1.6 2 1.6 3 1.6-1 1.6 4 1.6-1 1.6 5 1.6 1 1.6 0 1.6 3 1.6 0 1.6 2 1.6 0 1.6 1 1.6 2 1.6-1 1.6 1 1.6 2 1.6 1 1.6 0 1.6 1 1.6 1 1.6-1 1.6 1 1.6 1 1.1-1 32.1 0 0 0-32.1 0-1.1 1-1.6 0-1.6-1-1.6 1-1.6 0-1.6 0-1.6 0-1.6-1-1.6 1-1.6-2-1.6 1-1.6-1-1.6 0-1.6 0-1.6-2-1.6-2-1.6-1-1.6-1-1.6 1-1.6-4-1.6-1-1.6-1-1.6 0-1.6-2-1.6 0-1.6 2-1.6-6-1.6 0-1.6 5-1.6-3-1.6 5-1.6-3-1.6 3-1.6 6-1.6 1-1.6-1-1.6 1-1.6 0-1.6 1-1.6 0-1.6 2-1.6-1-1.6 2-1.6-2-1.6 1-1.6 2-1.6 0-1.6-1-1.6 1-1.6 0-1.6 0-1.6 0-1.6 0-1.6-1-0.8-25-0.5 0Z" stroke-width="8.4"/></g>
</g>
<path d="M321.9 251H455.9V339.9H321.9ZM327.7 256.1V335H450.1V256.1Z" fill="#ff0000" fill-rule="evenodd"/>
<path d="M306.3 253.4H321.9M306.3 321H321.9" stroke="#ff0000" stroke-width="4.8"/>
<path d="M314.2 304.1H321.9M314.2 287.2H321.9M314.2 270.3H321.9" stroke="#000" stroke-width="3"/>
<path d="M330.9 339.9V355.9M389.3 339.9V355.9M447.7 339.9V355.9" stroke="#ff0000" stroke-width="4.3"/>
<path d="M345.5 339.9V348.7M360.1 339.9V348.7M374.7 339.9V348.7M403.9 339.9V348.7M418.5 339.9V348.7M433.1 339.9V348.7" stroke="#000" stroke-width="2.9"/>
</g>
<g transform="translate(359,707.5)">
<g clip-path="url(#pc)">
<path transform="translate(328.8 0)scale(3.128 1)" d="M0 338V289h1V288h1V307h1V303h1V301h1V296h1V290h1V271h1V269h1V263h1V277h1V271h1V265h1V250h1V265h1V263h1V255h1V250h1V250h1V285h1V294h1V287h1V305h1V289h1V307h1V313h1V320h1V322h-1V328h-1V329h-1V331h-1V331h-1V331h-1V329h-1V331h-1V333h-1V336h-1V336h-1V337h-1V335h-1V332h-1V333h-1V333h-1V330h-1V332h-1V331h-1V332h-1V329h-1V329h-1V330h-1V330h-1V332h-1V333h-1V338h-1Z" fill="#88b3da"/>
<path transform="translate(328.8 0)scale(3.128 1)" d="M0 326V281h1V301h1V312h1V309h1V306h1V302h1V300h1V299h1V295h1V294h1V287h1V281h1V278h1V275h1V277h1V274h1V269h1V266h1V275h1V294h1V302h1V309h1V310h1V310h1V312h1V316h1V320h1V321h-1V325h-1V326h-1V327h-1V326h-1V326h-1V326h-1V325h-1V325h-1V325h-1V325h-1V325h-1V327h-1V325h-1V326h-1V326h-1V326h-1V325h-1V326h-1V326h-1V326h-1V326h-1V325h-1V327h-1V327h-1V327h-1V326h-1Z" fill="#cdb498"/>
<path transform="translate(328.8 0)scale(3.128 1)" d="M0 322V287h1V305h1V315h1V312h1V310h1V307h1V305h1V303h1V301h1V299h1V293h1V290h1V286h1V282h1V284h1V283h1V280h1V275h1V282h1V299h1V306h1V312h1V314h1V313h1V315h1V318h1V321h1V321h-1V322h-1V322h-1V322h-1V322h-1V322h-1V322h-1V322h-1V322h-1V322h-1V322h-1V322h-1V322h-1V322h-1V322h-1V322h-1V322h-1V322h-1V322h-1V322h-1V322h-1V322h-1V322h-1V322h-1V322h-1V322h-1V322h-1Z" fill="#b3cfd4"/>
<path d="M345.5 256.1V335M374.7 256.1V335M418.5 256.1V335M327.7 304.1H450.1M327.7 270.3H450.1" stroke="#bababa" stroke-width="1.1" fill="none"/>
<path d="M330.6 256.1V335M389 256.1V335M447.4 256.1V335" stroke="#ff0000" stroke-opacity="0.5" stroke-width="5" fill="none"/>
<path d="M360.1 321L370.5 319.9L378 318.9L383.9 320.3L387.2 321.6" fill="none" stroke="#f00" stroke-opacity="0.4" stroke-width="5" stroke-linejoin="round"/>
<g fill="#000" stroke="#000" stroke-linejoin="round"><path d="M330.9 292.9l0.5 0 0.8 22 1.6 4 1.6 1 1.6-1 1.6-1 1.6 0 1.6-1 1.6-2 1.6 0 1.6 1 1.6-2 1.6 0 1.6-1 1.6-2 1.6-1 1.6-1 1.6-1 1.6-3 1.6 0 1.6-2 1.6 0 1.6-2 1.6-4 1.6 0 1.6 0 1.6-2 1.6-2 1.6 1 1.6-2 1.6 1 1.6 1 1.6-2 1.6-8 1.6 8 1.6 9 1.6 5 1.6 5 1.6 2 1.6 4 1.6 1 1.6 1 1.6-1 1.6 0 1.6-1 1.6 1 1.6 2 1.6-1 1.6 0 1.6 2 1.6 0 1.6 0 0 0 38 0 0 0-38 0 0 1-1.6-1-1.6 1-1.6 0-1.6 0-1.6 0-1.6-1-1.6 0-1.6 0-1.6 1-1.6 0-1.6 0-1.6-1-1.6-4-1.6-2-1.6-3-1.6-1-1.6-6-1.6-6-1.6 8-1.6-1-1.6 1-1.6-2-1.6 2-1.6-2-1.6 0-1.6 0-1.6 4-1.6-4-1.6 8-1.6 0-1.6-2-1.6 3-1.6-2-1.6 2-1.6 2-1.6 2-1.6 0-1.6 1-1.6 0-1.6 0-1.6 0-1.6 0-1.6 0-1.6 3-1.6 0-1.6 0-1.6 0-1.6 0-1.6-1-1.6-1-0.8-24-0.5 0Z" stroke-width="8.4"/></g>
</g>
<path d="M321.9 251H455.9V339.9H321.9ZM327.7 256.1V335H450.1V256.1Z" fill="#ff0000" fill-rule="evenodd"/>
<path d="M306.3 253.4H321.9M306.3 321H321.9" stroke="#ff0000" stroke-width="4.8"/>
<path d="M314.2 304.1H321.9M314.2 287.2H321.9M314.2 270.3H321.9" stroke="#000" stroke-width="3"/>
<path d="M330.9 339.9V355.9M389.3 339.9V355.9M447.7 339.9V355.9" stroke="#ff0000" stroke-width="4.3"/>
<path d="M345.5 339.9V348.7M360.1 339.9V348.7M374.7 339.9V348.7M403.9 339.9V348.7M418.5 339.9V348.7M433.1 339.9V348.7" stroke="#000" stroke-width="2.9"/>
</g>
<g transform="translate(538.5,707.5)">
<g clip-path="url(#pc)">
<path transform="translate(328.8 0)scale(3.128 1)" d="M0 336V286h1V286h1V306h1V304h1V305h1V306h1V303h1V302h1V301h1V299h1V282h1V287h1V251h1V275h1V269h1V269h1V250h1V250h1V257h1V271h1V281h1V289h1V293h1V280h1V302h1V305h1V305h1V296h1V308h1V310h1V318h1V324h-1V328h-1V332h-1V332h-1V330h-1V329h-1V329h-1V331h-1V332h-1V332h-1V332h-1V332h-1V337h-1V332h-1V335h-1V334h-1V332h-1V335h-1V330h-1V330h-1V331h-1V332h-1V333h-1V333h-1V330h-1V329h-1V331h-1V330h-1V331h-1V331h-1V336h-1Z" fill="#88b3da"/>
<path transform="translate(328.8 0)scale(3.128 1)" d="M0 325V269h1V295h1V312h1V311h1V312h1V312h1V310h1V308h1V307h1V305h1V301h1V295h1V291h1V286h1V284h1V281h1V275h1V265h1V268h1V279h1V288h1V296h1V300h1V303h1V307h1V309h1V310h1V313h1V313h1V314h1V320h1V322h-1V326h-1V325h-1V327h-1V327h-1V327h-1V327h-1V327h-1V326h-1V325h-1V325h-1V325h-1V325h-1V326h-1V326h-1V326h-1V325h-1V326h-1V325h-1V326h-1V326h-1V325h-1V325h-1V325h-1V326h-1V326h-1V326h-1V327h-1V325h-1V325h-1V325h-1Z" fill="#cdb498"/>
<path transform="translate(328.8 0)scale(3.128 1)" d="M0 322V283h1V302h1V316h1V315h1V314h1V314h1V313h1V311h1V310h1V308h1V305h1V299h1V295h1V291h1V290h1V289h1V284h1V277h1V280h1V287h1V296h1V301h1V306h1V307h1V310h1V313h1V313h1V315h1V316h1V316h1V320h1V321h-1V322h-1V322h-1V322h-1V322h-1V322h-1V322h-1V322h-1V322h-1V322h-1V322h-1V322h-1V322h-1V322h-1V322h-1V322h-1V322h-1V322h-1V322h-1V322h-1V322h-1V322h-1V322h-1V322h-1V322h-1V322h-1V322h-1V322h-1V322h-1V322h-1V322h-1Z" fill="#b3cfd4"/>
<path d="M345.5 256.1V335M360.1 256.1V335M403.9 256.1V335M327.7 304.1H450.1M327.7 270.3H450.1" stroke="#bababa" stroke-width="1.1" fill="none"/>
<path d="M330.6 256.1V335M389 256.1V335M447.4 256.1V335" stroke="#ff0000" stroke-opacity="0.5" stroke-width="5" fill="none"/>
<path d="M361.3 321L371.8 319.9L379.3 318.9L385.1 320.3L388.5 321.6" fill="none" stroke="#f00" stroke-opacity="0.4" stroke-width="5" stroke-linejoin="round"/>
<g fill="#000" stroke="#000" stroke-linejoin="round"><path d="M330.9 294l0.5 0 0.8 21 1.6 4 1.6 2 1.6 0 1.6-1 1.6 0 1.6-2 1.6 0 1.6-1 1.6 1 1.6 0 1.6-1 1.6-1 1.6-1 1.6 0 1.6-1 1.6 0 1.6 0 1.6-3 1.6 0 1.6-1 1.6-1 1.6-3 1.6 0 1.6-4 1.6-3 1.6 0 1.6 2 1.6-1 1.6 4 1.6-2 1.6-3 1.6-7 1.6 0 1.6 6 1.6 4 1.6 3 1.6-1 1.6 4 1.6 1 1.6 2 1.6 1 1.6 1 1.6 0 1.6 2 1.6-1 1.6 2 1.6 1 1.6 0 1.6 0 1.6 1 1.6 0 1.6 1 1.6 1 1.6-1 1.6 2 1.6-1 1.6 1 1.6 0 0.6 0 24.6 0 0 0-24.6 0-0.6 1-1.6 0-1.6 0-1.6 0-1.6 0-1.6-1-1.6 1-1.6 0-1.6-1-1.6 1-1.6-2-1.6 0-1.6 1-1.6-1-1.6-1-1.6-2-1.6 1-1.6 1-1.6-1-1.6-1-1.6 0-1.6-6-1.6 3-1.6-4-1.6-4-1.6-4-1.6 1-1.6 7-1.6 1-1.6 3-1.6-6-1.6-1-1.6-1-1.6 1-1.6 4-1.6 2-1.6-2-1.6 3-1.6 2-1.6 0-1.6 0-1.6 2-1.6 2-1.6-2-1.6 2-1.6 0-1.6 2-1.6 0-1.6 0-1.6 0-1.6-1-1.6 1-1.6-1-1.6 1-1.6 0-1.6 0-1.6 0-1.6 0-1.6 0-0.8-25-0.5 0Z" stroke-width="8.4"/></g>
</g>
<path d="M321.9 251H455.9V339.9H321.9ZM327.7 256.1V335H450.1V256.1Z" fill="#ff0000" fill-rule="evenodd"/>
<path d="M306.3 253.4H321.9M306.3 321H321.9" stroke="#ff0000" stroke-width="4.8"/>
<path d="M314.2 304.1H321.9M314.2 287.2H321.9M314.2 270.3H321.9" stroke="#000" stroke-width="3"/>
<path d="M330.9 339.9V355.9M389.3 339.9V355.9M447.7 339.9V355.9" stroke="#ff0000" stroke-width="4.3"/>
<path d="M345.5 339.9V348.7M360.1 339.9V348.7M374.7 339.9V348.7M403.9 339.9V348.7M418.5 339.9V348.7M433.1 339.9V348.7" stroke="#000" stroke-width="2.9"/>
</g>
<g transform="translate(718,707.5)">
<g clip-path="url(#pc)">
<path transform="translate(328.8 0)scale(3.128 1)" d="M0 337V288h1V288h1V305h1V296h1V300h1V283h1V298h1V296h1V289h1V283h1V268h1V282h1V250h1V270h1V265h1V250h1V250h1V276h1V278h1V285h1V280h1V287h1V299h1V303h1V291h1V303h1V292h1V307h1V310h1V303h1V310h1V318h1V324h-1V329h-1V331h-1V331h-1V329h-1V329h-1V331h-1V330h-1V332h-1V331h-1V329h-1V332h-1V332h-1V331h-1V331h-1V334h-1V335h-1V335h-1V333h-1V332h-1V331h-1V332h-1V331h-1V331h-1V333h-1V333h-1V333h-1V331h-1V331h-1V330h-1V332h-1V337h-1Z" fill="#88b3da"/>
<path transform="translate(328.8 0)scale(3.128 1)" d="M0 326V274h1V298h1V310h1V308h1V306h1V306h1V303h1V301h1V297h1V292h1V292h1V289h1V285h1V278h1V278h1V280h1V285h1V287h1V290h1V295h1V302h1V305h1V306h1V309h1V310h1V310h1V310h1V312h1V314h1V314h1V315h1V319h1V322h-1V326h-1V327h-1V326h-1V326h-1V326h-1V326h-1V325h-1V326h-1V326h-1V326h-1V326h-1V325h-1V326h-1V326h-1V326h-1V327h-1V326h-1V325h-1V326h-1V326h-1V325h-1V326h-1V326h-1V326h-1V325h-1V326h-1V326h-1V326h-1V325h-1V325h-1V326h-1Z" fill="#cdb498"/>
<path transform="translate(328.8 0)scale(3.128 1)" d="M0 322V285h1V305h1V314h1V313h1V310h1V309h1V308h1V307h1V302h1V299h1V298h1V294h1V291h1V288h1V287h1V287h1V290h1V293h1V298h1V301h1V306h1V309h1V311h1V313h1V314h1V313h1V313h1V315h1V317h1V317h1V317h1V320h1V321h-1V322h-1V322h-1V322h-1V322h-1V322h-1V322h-1V322h-1V322h-1V322h-1V322h-1V322h-1V322h-1V322h-1V322h-1V322h-1V322h-1V322h-1V322h-1V322h-1V322h-1V322h-1V322h-1V322h-1V322h-1V322h-1V322h-1V322h-1V322h-1V322h-1V322h-1V322h-1Z" fill="#b3cfd4"/>
<path d="M360.1 256.1V335M374.7 256.1V335M403.9 256.1V335M433.1 256.1V335M327.7 304.1H450.1M327.7 270.3H450.1" stroke="#bababa" stroke-width="1.1" fill="none"/>
<path d="M330.6 256.1V335M389 256.1V335M447.4 256.1V335" stroke="#ff0000" stroke-opacity="0.5" stroke-width="5" fill="none"/>
<path d="M353.4 321L363.9 319.9L371.4 318.9L377.2 320.3L380.5 321.6" fill="none" stroke="#f00" stroke-opacity="0.4" stroke-width="5" stroke-linejoin="round"/>
<g fill="#000" stroke="#000" stroke-linejoin="round"><path d="M330.9 292.9l0.5 0 0.8 22 1.6 3 1.6 1 1.6-1 1.6-1 1.6 1 1.6-2 1.6 0 1.6-1 1.6 1 1.6-1 1.6-1 1.6 2 1.6-3 1.6-2 1.6-1 1.6-1 1.6 0 1.6-2 1.6-2 1.6-1 1.6 1 1.6-3 1.6-1 1.6-1 1.6 1 1.6-5 1.6 2 1.6 1 1.6 0 1.6-2 1.6 2 1.6 2 1.6 2 1.6 2 1.6 5 1.6 2 1.6 1 1.6 2 1.6-1 1.6 1 1.6 0 1.6 1 1.6 2 1.6-2 1.6 1 1.6 0 1.6 1 1.6 0 1.6 0 1.6 2 1.6-1 1.6 0 1.6 2 1.6 0 1.6-1 1.6 1 1.6 0 1.6 0 1.6 1 1.6 0 0.7-1 21.3 0 0 0-21.3 0-0.7 0-1.6 1-1.6-1-1.6 1-1.6-1-1.6 0-1.6 0-1.6 1-1.6 0-1.6-1-1.6 0-1.6 1-1.6-1-1.6 1-1.6-1-1.6 0-1.6 0-1.6 0-1.6-1-1.6-1-1.6 1-1.6-2-1.6 3-1.6-2-1.6 0-1.6-3-1.6-5-1.6 1-1.6-3-1.6-1-1.6 0-1.6 1-1.6 2-1.6-4-1.6 0-1.6 5-1.6-4-1.6 2-1.6-1-1.6 3-1.6-2-1.6 1-1.6 3-1.6 1-1.6 0-1.6 1-1.6 0-1.6 3-1.6 2-1.6-3-1.6 2-1.6 1-1.6-1-1.6 0-1.6-1-1.6 3-1.6 0-1.6 0-1.6 0-1.6-1-1.6-1-0.8-24-0.5 0Z" stroke-width="8.4"/></g>
</g>
<path d="M321.9 251H455.9V339.9H321.9ZM327.7 256.1V335H450.1V256.1Z" fill="#ff0000" fill-rule="evenodd"/>
<path d="M306.3 253.4H321.9M306.3 321H321.9" stroke="#ff0000" stroke-width="4.8"/>
<path d="M314.2 304.1H321.9M314.2 287.2H321.9M314.2 270.3H321.9" stroke="#000" stroke-width="3"/>
<path d="M330.9 339.9V355.9M389.3 339.9V355.9M447.7 339.9V355.9" stroke="#ff0000" stroke-width="4.3"/>
<path d="M345.5 339.9V348.7M360.1 339.9V348.7M374.7 339.9V348.7M403.9 339.9V348.7M418.5 339.9V348.7M433.1 339.9V348.7" stroke="#000" stroke-width="2.9"/>
</g>
<g transform="translate(897.5,707.5)">
<g clip-path="url(#pc)">
<path transform="translate(328.8 0)scale(3.128 1)" d="M0 337V285h1V285h1V309h1V308h1V304h1V302h1V285h1V300h1V299h1V296h1V293h1V287h1V290h1V289h1V258h1V271h1V270h1V268h1V269h1V267h1V270h1V282h1V288h1V292h1V280h1V304h1V304h1V306h1V307h1V311h1V318h1V324h-1V329h-1V328h-1V329h-1V331h-1V331h-1V331h-1V329h-1V329h-1V330h-1V333h-1V332h-1V332h-1V332h-1V335h-1V332h-1V332h-1V333h-1V330h-1V333h-1V333h-1V329h-1V330h-1V332h-1V331h-1V329h-1V328h-1V329h-1V329h-1V331h-1V337h-1Z" fill="#88b3da"/>
<path transform="translate(328.8 0)scale(3.128 1)" d="M0 325V274h1V296h1V314h1V312h1V310h1V309h1V308h1V306h1V306h1V302h1V300h1V295h1V296h1V296h1V285h1V280h1V278h1V278h1V279h1V278h1V283h1V291h1V296h1V299h1V304h1V308h1V309h1V311h1V312h1V315h1V319h1V322h-1V324h-1V326h-1V326h-1V325h-1V326h-1V326h-1V326h-1V325h-1V325h-1V326h-1V326h-1V325h-1V325h-1V325h-1V325h-1V325h-1V325h-1V325h-1V326h-1V325h-1V327h-1V326h-1V325h-1V326h-1V326h-1V326h-1V325h-1V325h-1V325h-1V325h-1Z" fill="#cdb498"/>
<path transform="translate(328.8 0)scale(3.128 1)" d="M0 322V279h1V301h1V315h1V314h1V313h1V313h1V312h1V310h1V308h1V306h1V305h1V302h1V302h1V301h1V294h1V289h1V288h1V288h1V288h1V288h1V292h1V298h1V301h1V304h1V309h1V312h1V314h1V314h1V315h1V317h1V320h1V321h-1V322h-1V322h-1V322h-1V322h-1V322h-1V322h-1V322h-1V322h-1V322h-1V322h-1V322h-1V322h-1V322h-1V322h-1V322h-1V322h-1V322h-1V322h-1V322h-1V322h-1V322h-1V322h-1V322h-1V322h-1V322h-1V322h-1V322h-1V322h-1V322h-1V322h-1Z" fill="#b3cfd4"/>
<path d="M345.5 256.1V335M360.1 256.1V335M374.7 256.1V335M403.9 256.1V335M418.5 256.1V335M327.7 304.1H450.1M327.7 270.3H450.1" stroke="#bababa" stroke-width="1.1" fill="none"/>
<path d="M330.6 256.1V335M389 256.1V335M447.4 256.1V335" stroke="#ff0000" stroke-opacity="0.5" stroke-width="5" fill="none"/>
<path d="M356.8 321L367.2 319.9L374.7 318.9L380.5 320.3L383.9 321.6" fill="none" stroke="#f00" stroke-opacity="0.4" stroke-width="5" stroke-linejoin="round"/>
<g fill="#000" stroke="#000" stroke-linejoin="round"><path d="M330.9 292.2l0.5 0 0.8 23 1.6 4 1.6 1 1.6-1 1.6 1 1.6-1 1.6 0 1.6-1 1.6 1 1.6-1 1.6-1 1.6-2 1.6 2 1.6-2 1.6-2 1.6-1 1.6 1 1.6-2 1.6 1 1.6-2 1.6-1 1.6-2 1.6 3 1.6-1 1.6 0 1.6 0 1.6-3 1.6-1 1.6-2 1.6-2 1.6-5 1.6 3 1.6 1 1.6-3 1.6 4 1.6-3 1.6-1 1.6 2 1.6 5 1.6-1 1.6 5 1.6 1 1.6 1 1.6 4 1.6 1 1.6 1 1.6-1 1.6 1 1.6 2 1.6-1 1.6 0 1.6 2 1.6-1 1.6 2 1.6 1 1.6 1 1.6-1 1.6 1 1.6-2 0.6 1 24.6 0 0 0-24.6 0-0.6 0-1.6 1-1.6 0-1.6 0-1.6 0-1.6 0-1.6-1-1.6 0-1.6-1-1.6 1-1.6 1-1.6-1-1.6-1-1.6 1-1.6-3-1.6 0-1.6-3-1.6 0-1.6 1-1.6-5-1.6 2-1.6-4-1.6-3-1.6 3-1.6 2-1.6-7-1.6 7-1.6 0-1.6-5-1.6 3-1.6 2-1.6 0-1.6 1-1.6 5-1.6-2-1.6 0-1.6 1-1.6-3-1.6 3-1.6 1-1.6 1-1.6-1-1.6 1-1.6-2-1.6 1-1.6 2-1.6 3-1.6-4-1.6 2-1.6 1-1.6 1-1.6 0-1.6 0-1.6 0-1.6 0-1.6 0-1.6-1-1.6 0-1.6-2-0.8-23-0.5 0Z" stroke-width="8.4"/></g>
</g>
<path d="M321.9 251H455.9V339.9H321.9ZM327.7 256.1V335H450.1V256.1Z" fill="#ff0000" fill-rule="evenodd"/>
<path d="M306.3 253.4H321.9M306.3 321H321.9" stroke="#ff0000" stroke-width="4.8"/>
<path d="M314.2 304.1H321.9M314.2 287.2H321.9M314.2 270.3H321.9" stroke="#000" stroke-width="3"/>
<path d="M330.9 339.9V355.9M389.3 339.9V355.9M447.7 339.9V355.9" stroke="#ff0000" stroke-width="4.3"/>
<path d="M345.5 339.9V348.7M360.1 339.9V348.7M374.7 339.9V348.7M403.9 339.9V348.7M418.5 339.9V348.7M433.1 339.9V348.7" stroke="#000" stroke-width="2.9"/>
</g>
<g transform="translate(1077,707.5)">
<g clip-path="url(#pc)">
<path transform="translate(328.8 0)scale(3.128 1)" d="M0 336V287h1V287h1V308h1V291h1V293h1V304h1V304h1V302h1V299h1V283h1V292h1V283h1V278h1V268h1V256h1V250h1V267h1V262h1V260h1V268h1V284h1V301h1V295h1V306h1V307h1V305h1V307h1V313h1V320h1V322h-1V327h-1V329h-1V331h-1V329h-1V332h-1V331h-1V333h-1V333h-1V332h-1V335h-1V333h-1V334h-1V332h-1V333h-1V332h-1V333h-1V332h-1V334h-1V332h-1V332h-1V332h-1V332h-1V330h-1V328h-1V329h-1V330h-1V333h-1V336h-1Z" fill="#88b3da"/>
<path transform="translate(328.8 0)scale(3.128 1)" d="M0 326V269h1V295h1V312h1V311h1V311h1V310h1V310h1V309h1V306h1V303h1V299h1V292h1V286h1V281h1V272h1V269h1V279h1V275h1V275h1V280h1V294h1V306h1V309h1V310h1V310h1V309h1V311h1V316h1V320h1V321h-1V325h-1V326h-1V325h-1V325h-1V325h-1V325h-1V325h-1V325h-1V325h-1V325h-1V326h-1V326h-1V327h-1V326h-1V327h-1V326h-1V326h-1V326h-1V326h-1V326h-1V327h-1V326h-1V325h-1V325h-1V326h-1V325h-1V326h-1V326h-1Z" fill="#cdb498"/>
<path transform="translate(328.8 0)scale(3.128 1)" d="M0 322V276h1V300h1V315h1V314h1V313h1V312h1V313h1V312h1V308h1V306h1V303h1V298h1V292h1V289h1V282h1V282h1V287h1V284h1V284h1V287h1V299h1V309h1V312h1V313h1V314h1V313h1V314h1V317h1V321h1V321h-1V322h-1V322h-1V322h-1V322h-1V322h-1V322h-1V322h-1V322h-1V322h-1V322h-1V322h-1V322h-1V322h-1V322h-1V322h-1V322h-1V322h-1V322h-1V322h-1V322h-1V322h-1V322h-1V322h-1V322h-1V322h-1V322h-1V322h-1V322h-1Z" fill="#b3cfd4"/>
<path d="M360.1 256.1V335M418.5 256.1V335M433.1 256.1V335M327.7 304.1H450.1M327.7 270.3H450.1" stroke="#bababa" stroke-width="1.1" fill="none"/>
<path d="M330.6 256.1V335M389 256.1V335M447.4 256.1V335" stroke="#ff0000" stroke-opacity="0.5" stroke-width="5" fill="none"/>
<path d="M363 321L373.4 319.9L381 318.9L386.8 320.3L390.1 321.6" fill="none" stroke="#f00" stroke-opacity="0.4" stroke-width="5" stroke-linejoin="round"/>
<g fill="#000" stroke="#000" stroke-linejoin="round"><path d="M330.9 294l0.5 0 0.8 21 1.6 4 1.6 2 1.6-1 1.6 0 1.6-2 1.6 2 1.6-2 1.6 0 1.6 0 1.6-2 1.6 0 1.6 2 1.6-2 1.6-1 1.6 1 1.6 0 1.6-3 1.6 0 1.6-1 1.6-4 1.6 0 1.6-1 1.6-5 1.6 1 1.6-5 1.6-1 1.6-3 1.6 0 1.6 5 1.6 1 1.6 5 1.6-4 1.6-5 1.6 1 1.6 0 1.6 3 1.6 6 1.6 3 1.6 6 1.6 2 1.6-1 1.6 0 1.6 1 1.6-1 1.6 1 1.6 0 1.6 0 1.6 2 1.6 0 1.6 0 1.6 2 1.6-1 1.6 1 1.5 0 31.7 0 0 0-31.7 0-1.5 1-1.6 0-1.6 0-1.6 0-1.6 0-1.6 0-1.6-2-1.6 1-1.6 0-1.6 0-1.6 0-1.6-1-1.6 0-1.6 2-1.6 0-1.6-5-1.6-4-1.6-6-1.6-3-1.6 4-1.6 1-1.6 2-1.6 2-1.6-5-1.6 0-1.6-5-1.6 3-1.6 2-1.6 0-1.6 4-1.6-1-1.6 2-1.6 3-1.6-2-1.6 3-1.6 0-1.6 1-1.6 2-1.6 0-1.6-1-1.6 1-1.6 1-1.6 0-1.6-1-1.6 1-1.6 1-1.6-1-1.6 0-1.6 0-1.6 1-1.6 0-1.6 0-1.6 0-1.6-3-0.8-22-0.5 0Z" stroke-width="8.4"/></g>
</g>
<path d="M321.9 251H455.9V339.9H321.9ZM327.7 256.1V335H450.1V256.1Z" fill="#ff0000" fill-rule="evenodd"/>
<path d="M306.3 253.4H321.9M306.3 321H321.9" stroke="#ff0000" stroke-width="4.8"/>
<path d="M314.2 304.1H321.9M314.2 287.2H321.9M314.2 270.3H321.9" stroke="#000" stroke-width="3"/>
<path d="M330.9 339.9V355.9M389.3 339.9V355.9M447.7 339.9V355.9" stroke="#ff0000" stroke-width="4.3"/>
<path d="M345.5 339.9V348.7M360.1 339.9V348.7M374.7 339.9V348.7M403.9 339.9V348.7M418.5 339.9V348.7M433.1 339.9V348.7" stroke="#000" stroke-width="2.9"/>
</g>
<g transform="translate(1256.5,707.5)">
<g clip-path="url(#pc)">
<path transform="translate(328.8 0)scale(3.128 1)" d="M0 336V288h1V288h1V309h1V308h1V306h1V291h1V285h1V302h1V301h1V294h1V287h1V280h1V280h1V257h1V250h1V268h1V270h1V283h1V280h1V271h1V250h1V263h1V292h1V294h1V298h1V303h1V306h1V292h1V310h1V308h1V312h1V319h1V322h-1V328h-1V332h-1V329h-1V332h-1V331h-1V328h-1V330h-1V332h-1V333h-1V335h-1V333h-1V332h-1V334h-1V333h-1V332h-1V334h-1V333h-1V331h-1V333h-1V332h-1V331h-1V333h-1V330h-1V332h-1V332h-1V331h-1V332h-1V333h-1V331h-1V330h-1V336h-1Z" fill="#88b3da"/>
<path transform="translate(328.8 0)scale(3.128 1)" d="M0 325V268h1V294h1V313h1V313h1V310h1V308h1V308h1V308h1V306h1V301h1V295h1V290h1V289h1V282h1V281h1V280h1V280h1V294h1V288h1V279h1V278h1V287h1V298h1V302h1V305h1V307h1V310h1V312h1V314h1V313h1V316h1V320h1V322h-1V324h-1V326h-1V325h-1V325h-1V325h-1V325h-1V326h-1V326h-1V325h-1V326h-1V326h-1V325h-1V325h-1V327h-1V326h-1V325h-1V325h-1V325h-1V326h-1V325h-1V326h-1V326h-1V325h-1V325h-1V327h-1V326h-1V326h-1V325h-1V325h-1V325h-1V325h-1Z" fill="#cdb498"/>
<path transform="translate(328.8 0)scale(3.128 1)" d="M0 322V281h1V301h1V316h1V316h1V314h1V312h1V312h1V313h1V309h1V306h1V302h1V298h1V297h1V293h1V289h1V290h1V290h1V300h1V294h1V287h1V284h1V293h1V303h1V307h1V308h1V311h1V312h1V314h1V316h1V315h1V317h1V320h1V321h-1V322h-1V322h-1V322h-1V322h-1V322h-1V322h-1V322h-1V322h-1V322h-1V322h-1V322h-1V322h-1V322h-1V322h-1V322h-1V322h-1V322h-1V322h-1V322h-1V322h-1V322h-1V322h-1V322h-1V322h-1V322h-1V322h-1V322h-1V322h-1V322h-1V322h-1V322h-1Z" fill="#b3cfd4"/>
<path d="M345.5 256.1V335M360.1 256.1V335M374.7 256.1V335M403.9 256.1V335M433.1 256.1V335M327.7 304.1H450.1M327.7 270.3H450.1" stroke="#bababa" stroke-width="1.1" fill="none"/>
<path d="M330.6 256.1V335M389 256.1V335M447.4 256.1V335" stroke="#ff0000" stroke-opacity="0.5" stroke-width="5" fill="none"/>
<path d="M368.4 321L378.9 319.9L386.4 318.9L392.2 320.3L395.6 321.6" fill="none" stroke="#f00" stroke-opacity="0.4" stroke-width="5" stroke-linejoin="round"/>
<g fill="#000" stroke="#000" stroke-linejoin="round"><path d="M330.9 295l0.5 0 0.8 21 1.6 3 1.6 0 1.6 1 1.6 0 1.6-1 1.6-1 1.6 1 1.6 0 1.6 0 1.6-1 1.6-2 1.6 2 1.6-1 1.6-1 1.6-1 1.6-2 1.6 0 1.6-2 1.6 0 1.6-4 1.6 1 1.6-4 1.6 2 1.6-1 1.6-2 1.6-2 1.6-2 1.6 1 1.6 1 1.6 1 1.6 5 1.6 3 1.6 1 1.6-4 1.6-4 1.6-4 1.6-1 1.6 3 1.6 5 1.6 2 1.6 3 1.6-1 1.6 2 1.6 1 1.6 0 1.6 2 1.6 1 1.6 1 1.6 0 1.6 1 1.6 1 1.6-1 1.6 1 1.6 1 1.6-1 1.6 1 1.6 1 1.6 0 1.6 1 1.5-1 22.1 0 0 0-22.1 0-1.5 1-1.6-1-1.6 1-1.6 0-1.6 0-1.6-1-1.6 1-1.6-1-1.6 1-1.6-1-1.6 0-1.6 0-1.6-1-1.6 0-1.6-3-1.6 1-1.6-1-1.6 0-1.6-1-1.6-3-1.6-1-1.6-2-1.6 1-1.6-1-1.6 0-1.6 4-1.6 2-1.6 1-1.6-3-1.6-6-1.6 1-1.6 3-1.6-5-1.6 1-1.6 2-1.6 3-1.6 3-1.6-3-1.6 4-1.6-1-1.6 1-1.6 0-1.6 0-1.6 2-1.6 0-1.6 2-1.6 0-1.6 1-1.6-1-1.6 0-1.6 1-1.6 0-1.6 0-1.6-2-1.6 2-1.6 0-1.6 0-1.6 0-1.6 0-1.6-4-0.8-20-0.5 0Z" stroke-width="8.4"/></g>
</g>
<path d="M321.9 251H455.9V339.9H321.9ZM327.7 256.1V335H450.1V256.1Z" fill="#ff0000" fill-rule="evenodd"/>
<path d="M306.3 253.4H321.9M306.3 321H321.9" stroke="#ff0000" stroke-width="4.8"/>
<path d="M314.2 304.1H321.9M314.2 287.2H321.9M314.2 270.3H321.9" stroke="#000" stroke-width="3"/>
<path d="M330.9 339.9V355.9M389.3 339.9V355.9M447.7 339.9V355.9" stroke="#ff0000" stroke-width="4.3"/>
<path d="M345.5 339.9V348.7M360.1 339.9V348.7M374.7 339.9V348.7M403.9 339.9V348.7M418.5 339.9V348.7M433.1 339.9V348.7" stroke="#000" stroke-width="2.9"/>
</g>
<g transform="translate(1436,707.5)">
<g clip-path="url(#pc)">
<path transform="translate(328.8 0)scale(3.128 1)" d="M0 333V289h1V289h1V312h1V310h1V308h1V293h1V302h1V287h1V281h1V297h1V290h1V286h1V276h1V266h1V253h1V251h1V250h1V250h1V250h1V253h1V250h1V287h1V297h1V287h1V300h1V303h1V295h1V294h1V314h1V321h1V321h-1V327h-1V332h-1V330h-1V331h-1V330h-1V331h-1V329h-1V331h-1V335h-1V336h-1V333h-1V335h-1V334h-1V334h-1V335h-1V334h-1V336h-1V334h-1V334h-1V332h-1V332h-1V333h-1V333h-1V331h-1V330h-1V332h-1V332h-1V330h-1V333h-1Z" fill="#88b3da"/>
<path transform="translate(328.8 0)scale(3.128 1)" d="M0 325V275h1V298h1V315h1V313h1V311h1V311h1V308h1V307h1V306h1V304h1V300h1V296h1V288h1V277h1V266h1V263h1V255h1V252h1V256h1V270h1V283h1V293h1V303h1V305h1V306h1V309h1V311h1V312h1V316h1V321h1V321h-1V324h-1V325h-1V325h-1V326h-1V325h-1V325h-1V325h-1V325h-1V326h-1V327h-1V326h-1V327h-1V326h-1V326h-1V325h-1V325h-1V327h-1V327h-1V326h-1V326h-1V325h-1V326h-1V326h-1V325h-1V326h-1V326h-1V326h-1V326h-1V325h-1Z" fill="#cdb498"/>
<path transform="translate(328.8 0)scale(3.128 1)" d="M0 322V282h1V303h1V317h1V316h1V314h1V313h1V311h1V310h1V309h1V308h1V304h1V301h1V294h1V285h1V276h1V274h1V269h1V268h1V269h1V279h1V290h1V298h1V306h1V308h1V310h1V312h1V314h1V315h1V318h1V321h1V321h-1V322h-1V322h-1V322h-1V322h-1V322h-1V322h-1V322h-1V322h-1V322h-1V322h-1V322h-1V322h-1V322h-1V322h-1V322h-1V322h-1V322h-1V322h-1V322h-1V322h-1V322h-1V322h-1V322h-1V322h-1V322h-1V322h-1V322h-1V322h-1V322h-1Z" fill="#b3cfd4"/>
<path d="M345.5 256.1V335M374.7 256.1V335M418.5 256.1V335M433.1 256.1V335M327.7 304.1H450.1M327.7 270.3H450.1" stroke="#bababa" stroke-width="1.1" fill="none"/>
<path d="M330.6 256.1V335M389 256.1V335M447.4 256.1V335" stroke="#ff0000" stroke-opacity="0.5" stroke-width="5" fill="none"/>
<path d="M362.2 321L372.6 319.9L380.1 318.9L386 320.3L389.3 321.6" fill="none" stroke="#f00" stroke-opacity="0.4" stroke-width="5" stroke-linejoin="round"/>
<g fill="#000" stroke="#000" stroke-linejoin="round"><path d="M330.9 294l0.5 0 0.8 22 1.6 4 1.6 2 1.6 0 1.6-1 1.6 0 1.6-2 1.6 0 1.6-1 1.6 1 1.6-1 1.6 0 1.6-2 1.6 0 1.6-1 1.6 1 1.6-3 1.6 0 1.6 0 1.6-3 1.6-1 1.6-3 1.6-2 1.6-2 1.6 0 1.6-4 1.6-4 1.6-1 1.6-5 1.6 4 1.6-4 1.6-2 1.6 0 1.6 0 1.6 2 1.6 3 1.6 3 1.6 6 1.6 2 1.6 5 1.6 2 1.6 4 1.6 0 1.6 1 1.6 2 1.6 1 1.6 0 1.6-1 1.6 2 1.6 0 1.6 1 1.6 0 1.6 0 1.6 2 1.6 0 1.6 0 0.8 0 29.2 0 0 0-29.2 0-0.8 1-1.6 0-1.6 0-1.6 0-1.6 0-1.6 0-1.6 0-1.6-1-1.6-1-1.6 2-1.6-1-1.6 0-1.6-1-1.6-2-1.6 1-1.6-3-1.6-1-1.6-5-1.6-4-1.6-3-1.6-3-1.6 2-1.6-2-1.6-3-1.6 5-1.6 0-1.6-1-1.6-3-1.6 2-1.6 2-1.6 4-1.6 5-1.6-3-1.6 3-1.6 1-1.6 2-1.6 0-1.6 4-1.6 2-1.6-1-1.6 2-1.6-1-1.6-1-1.6 2-1.6 0-1.6 0-1.6 1-1.6 0-1.6 0-1.6 0-1.6 0-1.6-1-1.6 1-1.6 0-1.6 0-1.6-1-0.8-24-0.5 0Z" stroke-width="8.4"/></g>
</g>
<path d="M321.9 251H455.9V339.9H321.9ZM327.7 256.1V335H450.1V256.1Z" fill="#ff0000" fill-rule="evenodd"/>
<path d="M306.3 253.4H321.9M306.3 321H321.9" stroke="#ff0000" stroke-width="4.8"/>
<path d="M314.2 304.1H321.9M314.2 287.2H321.9M314.2 270.3H321.9" stroke="#000" stroke-width="3"/>
<path d="M330.9 339.9V355.9M389.3 339.9V355.9M447.7 339.9V355.9" stroke="#ff0000" stroke-width="4.3"/>
<path d="M345.5 339.9V348.7M360.1 339.9V348.7M374.7 339.9V348.7M403.9 339.9V348.7M418.5 339.9V348.7M433.1 339.9V348.7" stroke="#000" stroke-width="2.9"/>
</g>
<g transform="translate(1615.5,707.5)">
<g clip-path="url(#pc)">
<path transform="translate(328.8 0)scale(3.128 1)" d="M0 335V286h1V286h1V295h1V306h1V287h1V302h1V282h1V295h1V292h1V266h1V286h1V285h1V250h1V264h1V260h1V250h1V264h1V265h1V250h1V250h1V250h1V277h1V286h1V281h1V300h1V302h1V304h1V307h1V300h1V317h1V323h-1V327h-1V329h-1V331h-1V329h-1V331h-1V334h-1V334h-1V334h-1V336h-1V333h-1V332h-1V334h-1V331h-1V335h-1V333h-1V331h-1V331h-1V332h-1V331h-1V334h-1V334h-1V333h-1V332h-1V329h-1V329h-1V331h-1V330h-1V333h-1V335h-1Z" fill="#88b3da"/>
<path transform="translate(328.8 0)scale(3.128 1)" d="M0 327V267h1V293h1V309h1V309h1V310h1V308h1V305h1V302h1V300h1V298h1V293h1V293h1V285h1V277h1V273h1V271h1V279h1V281h1V272h1V272h1V283h1V287h1V295h1V303h1V306h1V308h1V309h1V312h1V315h1V320h1V322h-1V326h-1V325h-1V325h-1V326h-1V326h-1V325h-1V325h-1V327h-1V326h-1V327h-1V326h-1V327h-1V326h-1V326h-1V325h-1V325h-1V326h-1V326h-1V325h-1V326h-1V326h-1V326h-1V326h-1V325h-1V327h-1V327h-1V327h-1V327h-1V327h-1Z" fill="#cdb498"/>
<path transform="translate(328.8 0)scale(3.128 1)" d="M0 322V281h1V300h1V313h1V312h1V312h1V311h1V308h1V305h1V305h1V302h1V298h1V296h1V291h1V283h1V282h1V282h1V289h1V290h1V283h1V282h1V291h1V295h1V300h1V307h1V310h1V312h1V313h1V315h1V317h1V320h1V321h-1V322h-1V322h-1V322h-1V322h-1V322h-1V322h-1V322h-1V322h-1V322h-1V322h-1V322h-1V322h-1V322h-1V322h-1V322h-1V322h-1V322h-1V322h-1V322h-1V322h-1V322h-1V322h-1V322h-1V322h-1V322h-1V322h-1V322h-1V322h-1V322h-1Z" fill="#b3cfd4"/>
<path d="M360.1 256.1V335M403.9 256.1V335M433.1 256.1V335M327.7 304.1H450.1M327.7 270.3H450.1" stroke="#bababa" stroke-width="1.1" fill="none"/>
<path d="M330.6 256.1V335M389 256.1V335M447.4 256.1V335" stroke="#ff0000" stroke-opacity="0.5" stroke-width="5" fill="none"/>
<path d="M352.2 321L362.6 319.9L370.1 318.9L375.9 320.3L379.3 321.6" fill="none" stroke="#f00" stroke-opacity="0.4" stroke-width="5" stroke-linejoin="round"/>
<g fill="#000" stroke="#000" stroke-linejoin="round"><path d="M330.9 292.4l0.5 0 0.8 23 1.6 3 1.6-1 1.6 2 1.6-2 1.6 1 1.6-1 1.6 0 1.6 0 1.6-2 1.6 0 1.6 1 1.6-3 1.6 0 1.6-2 1.6 1 1.6-2 1.6-1 1.6 0 1.6-3 1.6 1 1.6-2 1.6 0 1.6-2 1.6-2 1.6-3 1.6-5 1.6 2 1.6 3 1.6 1 1.6 2 1.6 3 1.6-5 1.6-1 1.6-4 1.6 0 1.6-1 1.6 5 1.6 3 1.6 3 1.6 3 1.6 1 1.6 5 1.6 1 1.6 1 1.6 1 1.6 1 1.6 0 1.6 1 1.6 0 1.6 0 1.6 0 1.6 2 1.6 1 1.6-1 1.6 1 1.6 0 0.4 0 28 0 0 0-28 0-0.4 1-1.6-1-1.6 1-1.6 0-1.6 0-1.6-1-1.6 0-1.6 1-1.6 0-1.6-1-1.6-1-1.6 1-1.6 0-1.6-2-1.6 1-1.6-3-1.6-1-1.6-3-1.6-5-1.6-2-1.6-3-1.6 4-1.6 0-1.6 0-1.6 1-1.6 7-1.6-4-1.6-2-1.6-3-1.6 3-1.6-3-1.6 0-1.6 3-1.6 0-1.6 2-1.6 0-1.6 5-1.6-1-1.6 3-1.6-1-1.6 1-1.6 0-1.6-2-1.6 2-1.6 0-1.6 3-1.6-2-1.6 0-1.6 3-1.6-1-1.6 0-1.6 1-1.6 0-1.6 0-1.6-1-1.6-1-1.6-2-0.8-22-0.5 0Z" stroke-width="8.4"/></g>
</g>
<path d="M321.9 251H455.9V339.9H321.9ZM327.7 256.1V335H450.1V256.1Z" fill="#ff0000" fill-rule="evenodd"/>
<path d="M306.3 253.4H321.9M306.3 321H321.9" stroke="#ff0000" stroke-width="4.8"/>
<path d="M314.2 304.1H321.9M314.2 287.2H321.9M314.2 270.3H321.9" stroke="#000" stroke-width="3"/>
<path d="M330.9 339.9V355.9M389.3 339.9V355.9M447.7 339.9V355.9" stroke="#ff0000" stroke-width="4.3"/>
<path d="M345.5 339.9V348.7M360.1 339.9V348.7M374.7 339.9V348.7M403.9 339.9V348.7M418.5 339.9V348.7M433.1 339.9V348.7" stroke="#000" stroke-width="2.9"/>
</g>
<g transform="translate(1795,707.5)">
<g clip-path="url(#pc)">
<path transform="translate(328.8 0)scale(3.128 1)" d="M0 336V285h1V287h1V306h1V306h1V302h1V287h1V299h1V301h1V300h1V302h1V299h1V293h1V283h1V275h1V250h1V269h1V250h1V250h1V251h1V253h1V255h1V250h1V277h1V259h1V294h1V295h1V289h1V304h1V307h1V309h1V315h1V323h-1V329h-1V331h-1V332h-1V331h-1V331h-1V331h-1V330h-1V332h-1V334h-1V333h-1V333h-1V335h-1V333h-1V334h-1V332h-1V335h-1V333h-1V333h-1V332h-1V330h-1V333h-1V332h-1V332h-1V329h-1V330h-1V331h-1V332h-1V331h-1V333h-1V336h-1Z" fill="#88b3da"/>
<path transform="translate(328.8 0)scale(3.128 1)" d="M0 327V273h1V299h1V310h1V310h1V309h1V308h1V306h1V308h1V308h1V308h1V306h1V302h1V292h1V285h1V285h1V280h1V273h1V265h1V264h1V264h1V265h1V276h1V285h1V297h1V302h1V302h1V305h1V308h1V311h1V313h1V319h1V322h-1V325h-1V326h-1V325h-1V325h-1V325h-1V326h-1V326h-1V326h-1V326h-1V325h-1V326h-1V325h-1V326h-1V326h-1V326h-1V325h-1V326h-1V325h-1V326h-1V326h-1V326h-1V326h-1V327h-1V327h-1V326h-1V326h-1V325h-1V326h-1V326h-1V327h-1Z" fill="#cdb498"/>
<path transform="translate(328.8 0)scale(3.128 1)" d="M0 322V284h1V303h1V313h1V313h1V312h1V311h1V310h1V311h1V311h1V311h1V310h1V306h1V297h1V293h1V291h1V288h1V282h1V274h1V275h1V276h1V277h1V285h1V292h1V301h1V305h1V306h1V310h1V312h1V315h1V317h1V320h1V321h-1V322h-1V322h-1V322h-1V322h-1V322h-1V322h-1V322h-1V322h-1V322h-1V322h-1V322h-1V322h-1V322h-1V322h-1V322h-1V322h-1V322h-1V322h-1V322h-1V322h-1V322h-1V322h-1V322h-1V322h-1V322h-1V322h-1V322h-1V322h-1V322h-1V322h-1Z" fill="#b3cfd4"/>
<path d="M345.5 256.1V335M374.7 256.1V335M403.9 256.1V335M418.5 256.1V335M327.7 304.1H450.1M327.7 270.3H450.1" stroke="#bababa" stroke-width="1.1" fill="none"/>
<path d="M330.6 256.1V335M389 256.1V335M447.4 256.1V335" stroke="#ff0000" stroke-opacity="0.5" stroke-width="5" fill="none"/>
<path d="M369.3 321L379.7 319.9L387.2 318.9L393 320.3L396.4 321.6" fill="none" stroke="#f00" stroke-opacity="0.4" stroke-width="5" stroke-linejoin="round"/>
<g fill="#000" stroke="#000" stroke-linejoin="round"><path d="M330.9 292.2l0.5 0 0.8 23 1.6 3 1.6 0 1.6 0 1.6 0 1.6 0 1.6-2 1.6 1 1.6 0 1.6 1 1.6-1 1.6 0 1.6-1 1.6-1 1.6 1 1.6 0 1.6 0 1.6 1 1.6-1 1.6 1 1.6-2 1.6-3 1.6-3 1.6-1 1.6 0 1.6-2 1.6-1 1.6-3 1.6-2 1.6-1 1.6-1 1.6-3 1.6-1 1.6 0 1.6-2 1.6-2 1.6 1 1.6 1 1.6-2 1.6 7 1.6 1 1.6 6 1.6 2 1.6 1 1.6 5 1.6-2 1.6 3 1.6 0 1.6 0 1.6 3 1.6 1 1.6 0 1.6 1 1.6 0 1.6 2 1.6 0 1.6 0 1.6 1 1.6 0 0.6 0 24.6 0 0 0-24.6 0-0.6 1-1.6 0-1.6 0-1.6-1-1.6 1-1.6 0-1.6-1-1.6-2-1.6 1-1.6 0-1.6-3-1.6 3-1.6-1-1.6-2-1.6 2-1.6-6-1.6-2-1.6 0-1.6-5-1.6 0-1.6-2-1.6 0-1.6 1-1.6-4-1.6 3-1.6 0-1.6 3-1.6 1-1.6 1-1.6-2-1.6-1-1.6 4-1.6 2-1.6 3-1.6 1-1.6-4-1.6 2-1.6 4-1.6 1-1.6 2-1.6 0-1.6 0-1.6 0-1.6-1-1.6 1-1.6-1-1.6 0-1.6 1-1.6 0-1.6 0-1.6-1-1.6 0-1.6-1-1.6 3-1.6 0-1.6 0-1.6 0-1.6-1-1.6-1-0.8-24-0.5 0Z" stroke-width="8.4"/></g>
</g>
<path d="M321.9 251H455.9V339.9H321.9ZM327.7 256.1V335H450.1V256.1Z" fill="#ff0000" fill-rule="evenodd"/>
<path d="M306.3 253.4H321.9M306.3 321H321.9" stroke="#ff0000" stroke-width="4.8"/>
<path d="M314.2 304.1H321.9M314.2 287.2H321.9M314.2 270.3H321.9" stroke="#000" stroke-width="3"/>
<path d="M330.9 339.9V355.9M389.3 339.9V355.9M447.7 339.9V355.9" stroke="#ff0000" stroke-width="4.3"/>
<path d="M345.5 339.9V348.7M360.1 339.9V348.7M374.7 339.9V348.7M403.9 339.9V348.7M418.5 339.9V348.7M433.1 339.9V348.7" stroke="#000" stroke-width="2.9"/>
</g>
<g transform="translate(0,825.4)">
<g clip-path="url(#pc)">
<path transform="translate(328.8 0)scale(3.128 1)" d="M0 337V289h1V289h1V307h1V304h1V302h1V302h1V293h1V297h1V293h1V284h1V280h1V278h1V271h1V265h1V259h1V250h1V273h1V288h1V296h1V304h1V301h1V306h1V299h1V308h1V298h1V306h1V317h1V321h1V321h-1V324h-1V328h-1V330h-1V331h-1V330h-1V329h-1V330h-1V330h-1V330h-1V330h-1V331h-1V334h-1V334h-1V333h-1V333h-1V331h-1V332h-1V333h-1V330h-1V331h-1V332h-1V331h-1V331h-1V330h-1V331h-1V331h-1V337h-1Z" fill="#88b3da"/>
<path transform="translate(328.8 0)scale(3.128 1)" d="M0 325V276h1V297h1V311h1V310h1V309h1V308h1V307h1V302h1V299h1V292h1V291h1V288h1V283h1V276h1V272h1V280h1V286h1V296h1V302h1V310h1V312h1V311h1V311h1V312h1V314h1V316h1V319h1V321h1V321h-1V323h-1V325h-1V325h-1V325h-1V326h-1V326h-1V326h-1V324h-1V325h-1V326h-1V326h-1V326h-1V326h-1V326h-1V326h-1V325h-1V325h-1V326h-1V325h-1V325h-1V325h-1V325h-1V325h-1V325h-1V326h-1V326h-1V325h-1Z" fill="#cdb498"/>
<path transform="translate(328.8 0)scale(3.128 1)" d="M0 322V286h1V303h1V314h1V313h1V313h1V312h1V311h1V307h1V303h1V298h1V296h1V294h1V291h1V285h1V284h1V288h1V292h1V302h1V306h1V312h1V315h1V314h1V314h1V316h1V317h1V318h1V320h1V321h1V321h-1V321h-1V322h-1V322h-1V322h-1V322h-1V322h-1V322h-1V322h-1V322h-1V322h-1V322h-1V322h-1V322h-1V322h-1V322h-1V322h-1V322h-1V322h-1V322h-1V322h-1V322h-1V322h-1V322h-1V322h-1V322h-1V322h-1V322h-1Z" fill="#b3cfd4"/>
<path d="M345.5 256.1V335M374.7 256.1V335M418.5 256.1V335M433.1 256.1V335M327.7 304.1H450.1M327.7 287.2H450.1" stroke="#bababa" stroke-width="1.1" fill="none"/>
<path d="M330.6 256.1V335M389 256.1V335M447.4 256.1V335" stroke="#ff0000" stroke-opacity="0.5" stroke-width="5" fill="none"/>
<path d="M351.8 321L362.2 319.9L369.7 318.9L375.5 320.3L378.9 321.6" fill="none" stroke="#f00" stroke-opacity="0.4" stroke-width="5" stroke-linejoin="round"/>
<g fill="#000" stroke="#000" stroke-linejoin="round"><path d="M330.9 294.7l0.5 0 0.8 20 1.6 4 1.6 1 1.6-1 1.6 1 1.6 0 1.6-2 1.6 0 1.6 0 1.6-1 1.6 0 1.6 0 1.6 0 1.6-4 1.6-1 1.6 0 1.6-4 1.6-1 1.6 0 1.6 0 1.6-1 1.6-1 1.6-1 1.6 0 1.6-5 1.6-2 1.6-2 1.6 2 1.6 2 1.6 2 1.6 1 1.6 5 1.6 3 1.6 1 1.6 5 1.6 1 1.6 1 1.6 1 1.6-1 1.6 2 1.6-1 1.6 0 1.6 0 1.6 0 1.6 1 1.6 1 1.6 0 1.6 0 1.6 0 1.6 0 1.6 0 1.3 0 36.7 0 0 0-36.7 0-1.3 1-1.6 0-1.6 0-1.6 0-1.6 0-1.6 0-1.6 0-1.6 0-1.6 0-1.6 0-1.6 0-1.6 0-1.6 0-1.6 0-1.6-1-1.6 0-1.6 1-1.6-5-1.6 0-1.6-1-1.6-6-1.6-3-1.6 0-1.6 1-1.6-3-1.6 5-1.6-2-1.6 3-1.6 1-1.6 1-1.6 1-1.6 2-1.6-2-1.6 0-1.6 0-1.6 5-1.6 0-1.6 1-1.6 1-1.6 1-1.6 0-1.6-1-1.6 1-1.6-1-1.6 0-1.6 1-1.6 0-1.6-1-1.6 1-1.6-1-1.6 0-0.8-23-0.5 0Z" stroke-width="8.4"/></g>
</g>
<path d="M321.9 251H455.9V339.9H321.9ZM327.7 256.1V335H450.1V256.1Z" fill="#ff0000" fill-rule="evenodd"/>
<path d="M306.3 253.4H321.9M306.3 321H321.9" stroke="#ff0000" stroke-width="4.8"/>
<path d="M314.2 304.1H321.9M314.2 287.2H321.9M314.2 270.3H321.9" stroke="#000" stroke-width="3"/>
<path d="M330.9 339.9V355.9M389.3 339.9V355.9M447.7 339.9V355.9" stroke="#ff0000" stroke-width="4.3"/>
<path d="M345.5 339.9V348.7M360.1 339.9V348.7M374.7 339.9V348.7M403.9 339.9V348.7M418.5 339.9V348.7M433.1 339.9V348.7" stroke="#000" stroke-width="2.9"/>
</g>
<g transform="translate(179.5,825.4)">
<g clip-path="url(#pc)">
<path transform="translate(328.8 0)scale(3.128 1)" d="M0 330V287h1V287h1V294h1V306h1V307h1V303h1V304h1V301h1V294h1V290h1V286h1V275h1V263h1V257h1V251h1V250h1V270h1V285h1V259h1V262h1V275h1V290h1V276h1V300h1V303h1V305h1V307h1V308h1V297h1V312h1V313h1V303h1V305h1V314h1V312h1V306h1V317h1V321h1V321h-1V325h-1V330h-1V328h-1V330h-1V331h-1V330h-1V331h-1V330h-1V331h-1V329h-1V331h-1V332h-1V332h-1V331h-1V332h-1V334h-1V333h-1V330h-1V332h-1V335h-1V334h-1V334h-1V335h-1V335h-1V334h-1V334h-1V330h-1V332h-1V331h-1V331h-1V329h-1V330h-1V330h-1V331h-1V331h-1V329h-1V330h-1Z" fill="#88b3da"/>
<path transform="translate(328.8 0)scale(3.128 1)" d="M0 325V273h1V297h1V312h1V311h1V311h1V310h1V309h1V306h1V300h1V299h1V295h1V288h1V279h1V270h1V268h1V270h1V281h1V293h1V293h1V292h1V296h1V300h1V302h1V306h1V308h1V309h1V311h1V312h1V314h1V315h1V316h1V317h1V317h1V317h1V315h1V316h1V318h1V321h1V321h-1V323h-1V325h-1V327h-1V326h-1V325h-1V326h-1V325h-1V325h-1V326h-1V326h-1V326h-1V325h-1V325h-1V325h-1V326h-1V326h-1V326h-1V326h-1V326h-1V326h-1V325h-1V325h-1V325h-1V325h-1V326h-1V326h-1V325h-1V325h-1V325h-1V325h-1V326h-1V325h-1V326h-1V326h-1V326h-1V325h-1V325h-1Z" fill="#cdb498"/>
<path transform="translate(328.8 0)scale(3.128 1)" d="M0 322V286h1V302h1V315h1V314h1V314h1V312h1V311h1V309h1V306h1V304h1V301h1V295h1V289h1V279h1V279h1V280h1V288h1V297h1V299h1V298h1V301h1V303h1V305h1V310h1V311h1V313h1V315h1V315h1V317h1V317h1V318h1V318h1V318h1V318h1V318h1V318h1V319h1V321h1V321h-1V322h-1V322h-1V322h-1V322h-1V322h-1V322h-1V322h-1V322h-1V322h-1V322h-1V322h-1V322h-1V322h-1V322h-1V322h-1V322h-1V322h-1V322h-1V322h-1V322h-1V322h-1V322h-1V322h-1V322h-1V322h-1V322h-1V322h-1V322h-1V322h-1V322h-1V322h-1V322h-1V322h-1V322h-1V322h-1V322h-1V322h-1Z" fill="#b3cfd4"/>
<path d="M360.1 256.1V335M403.9 256.1V335M433.1 256.1V335M327.7 304.1H450.1M327.7 287.2H450.1" stroke="#bababa" stroke-width="1.1" fill="none"/>
<path d="M330.6 256.1V335M389 256.1V335M447.4 256.1V335" stroke="#ff0000" stroke-opacity="0.5" stroke-width="5" fill="none"/>
<path d="M350.9 321L361.3 319.9L368.9 318.9L374.7 320.3L378 321.6" fill="none" stroke="#f00" stroke-opacity="0.4" stroke-width="5" stroke-linejoin="round"/>
<g fill="#000" stroke="#000" stroke-linejoin="round"><path d="M330.9 294.7l0.5 0 0.8 21 1.6 3 1.6 2 1.6-3 1.6 1 1.6-1 1.6-1 1.6 1 1.6 0 1.6-1 1.6-1 1.6 1 1.6-3 1.6 1 1.6 0 1.6-3 1.6 1 1.6-3 1.6 1 1.6-1 1.6-2 1.6-5 1.6-1 1.6-2 1.6-5 1.6-4 1.6 1 1.6 4 1.6 3 1.6-1 1.6 2 1.6 7 1.6-2 1.6 3 1.6-3 1.6 2 1.6 1 1.6 1 1.6-1 1.6 1 1.6 3 1.6 1 1.6 1 1.6 1 1.6 0 1.6 2 1.6 1 1.6 1 1.6-1 1.6 1 1.6 1 1.6-1 1.6 1 1.6 0 1.6 1 1.6 0 1.6-1 1.6 0 1.6 1 1.6 1 1.6-2 1.6 1 1.6 1 1.6-1 1.6-1 1.6 0 1.6 1 1.6 0 1.6 1 1.6 0 1.6-1 1 0 5 0 0 0-5 0-1 1-1.6 0-1.6 0-1.6-1-1.6 1-1.6-1-1.6 0-1.6 1-1.6 0-1.6 0-1.6 0-1.6 0-1.6-1-1.6 1-1.6 0-1.6 0-1.6-1-1.6 1-1.6 0-1.6 0-1.6 0-1.6 0-1.6 0-1.6 0-1.6 0-1.6 0-1.6-2-1.6 1-1.6-2-1.6-1-1.6 0-1.6-3-1.6-1-1.6 1-1.6-3-1.6 0-1.6-1-1.6 4-1.6-1-1.6 2-1.6-5-1.6-2-1.6 2-1.6-3-1.6-1-1.6-7-1.6 3-1.6 5-1.6 3-1.6 1-1.6 1-1.6 3-1.6 2-1.6-4-1.6 5-1.6 0-1.6 2-1.6-1-1.6-2-1.6 3-1.6-1-1.6 2-1.6 0-1.6 0-1.6-1-1.6 0-1.6 1-1.6-1-1.6 1-1.6 0-1.6-1-0.8-23-0.5 0Z" stroke-width="8.4"/></g>
</g>
<path d="M321.9 251H455.9V339.9H321.9ZM327.7 256.1V335H450.1V256.1Z" fill="#ff0000" fill-rule="evenodd"/>
<path d="M306.3 253.4H321.9M306.3 321H321.9" stroke="#ff0000" stroke-width="4.8"/>
<path d="M314.2 304.1H321.9M314.2 287.2H321.9M314.2 270.3H321.9" stroke="#000" stroke-width="3"/>
<path d="M330.9 339.9V355.9M389.3 339.9V355.9M447.7 339.9V355.9" stroke="#ff0000" stroke-width="4.3"/>
<path d="M345.5 339.9V348.7M360.1 339.9V348.7M374.7 339.9V348.7M403.9 339.9V348.7M418.5 339.9V348.7M433.1 339.9V348.7" stroke="#000" stroke-width="2.9"/>
</g>
<g transform="translate(359,825.4)">
<g clip-path="url(#pc)">
<path transform="translate(328.8 0)scale(3.128 1)" d="M0 336V289h1V289h1V305h1V298h1V279h1V292h1V297h1V278h1V289h1V263h1V250h1V274h1V262h1V251h1V250h1V257h1V264h1V272h1V282h1V270h1V272h1V288h1V299h1V292h1V307h1V309h1V304h1V303h1V312h1V317h1V321h1V321h-1V325h-1V331h-1V329h-1V330h-1V332h-1V331h-1V332h-1V332h-1V331h-1V332h-1V331h-1V332h-1V336h-1V334h-1V333h-1V334h-1V337h-1V334h-1V335h-1V335h-1V333h-1V330h-1V331h-1V330h-1V330h-1V332h-1V330h-1V332h-1V331h-1V336h-1Z" fill="#88b3da"/>
<path transform="translate(328.8 0)scale(3.128 1)" d="M0 326V276h1V300h1V310h1V306h1V299h1V299h1V302h1V302h1V296h1V293h1V284h1V282h1V273h1V269h1V265h1V272h1V275h1V282h1V290h1V296h1V300h1V305h1V307h1V309h1V312h1V314h1V315h1V315h1V315h1V319h1V321h1V321h-1V323h-1V326h-1V326h-1V325h-1V326h-1V326h-1V326h-1V325h-1V326h-1V326h-1V325h-1V325h-1V327h-1V326h-1V325h-1V326h-1V325h-1V326h-1V326h-1V326h-1V326h-1V326h-1V325h-1V325h-1V325h-1V326h-1V326h-1V325h-1V327h-1V326h-1Z" fill="#cdb498"/>
<path transform="translate(328.8 0)scale(3.128 1)" d="M0 322V284h1V304h1V314h1V310h1V304h1V305h1V307h1V307h1V302h1V300h1V292h1V291h1V282h1V277h1V277h1V280h1V283h1V289h1V295h1V301h1V304h1V309h1V310h1V313h1V315h1V316h1V317h1V318h1V318h1V320h1V321h1V321h-1V322h-1V322h-1V322h-1V322h-1V322h-1V322h-1V322h-1V322h-1V322h-1V322h-1V322h-1V322h-1V322h-1V322h-1V322h-1V322h-1V322h-1V322h-1V322h-1V322h-1V322h-1V322h-1V322h-1V322h-1V322h-1V322h-1V322h-1V322h-1V322h-1V322h-1Z" fill="#b3cfd4"/>
<path d="M345.5 256.1V335M374.7 256.1V335M418.5 256.1V335M327.7 304.1H450.1M327.7 287.2H450.1" stroke="#bababa" stroke-width="1.1" fill="none"/>
<path d="M330.6 256.1V335M389 256.1V335M447.4 256.1V335" stroke="#ff0000" stroke-opacity="0.5" stroke-width="5" fill="none"/>
<path d="M352.2 321L362.6 319.9L370.1 318.9L375.9 320.3L379.3 321.6" fill="none" stroke="#f00" stroke-opacity="0.4" stroke-width="5" stroke-linejoin="round"/>
<g fill="#000" stroke="#000" stroke-linejoin="round"><path d="M330.9 292.6l0.5 0 0.8 22 1.6 4 1.6 0 1.6 0 1.6-3 1.6-1 1.6 1 1.6-3 1.6 0 1.6-1 1.6 0 1.6 1 1.6-1 1.6 3 1.6-2 1.6-1 1.6-2 1.6-3 1.6-2 1.6-1 1.6-1 1.6-3 1.6-2 1.6 0 1.6-1 1.6-2 1.6-3 1.6-3 1.6 3 1.6-1 1.6 1 1.6 2 1.6 3 1.6 6 1.6 1 1.6 4 1.6 3 1.6-1 1.6 2 1.6 1 1.6 1 1.6 3 1.6 0 1.6 1 1.6 0 1.6-1 1.6 1 1.6 1 1.6 1 1.6 1 1.6 1 1.6-2 1.6 1 1.6 0 1.6-1 1.6 0 1.6 1 1.3 0 27.1 0 0 0-27.1 0-1.3 1-1.6 0-1.6 0-1.6 0-1.6-1-1.6 0-1.6 1-1.6-1-1.6 1-1.6 0-1.6-1-1.6 0-1.6 1-1.6 0-1.6-1-1.6 0-1.6-2-1.6-2-1.6-1-1.6-2-1.6 2-1.6-3-1.6-2-1.6 1-1.6-6-1.6-3-1.6-1-1.6-1-1.6 3-1.6-1-1.6 1-1.6-1-1.6 3-1.6-1-1.6 0-1.6 3-1.6 1-1.6 2-1.6 0-1.6 3-1.6 1-1.6 4-1.6 0-1.6 0-1.6-1-1.6 0-1.6-2-1.6-1-1.6 2-1.6 1-1.6 3-1.6-3-1.6 2-1.6 2-1.6 0-1.6 0-1.6-1-0.8-25-0.5 0Z" stroke-width="8.4"/></g>
</g>
<path d="M321.9 251H455.9V339.9H321.9ZM327.7 256.1V335H450.1V256.1Z" fill="#ff0000" fill-rule="evenodd"/>
<path d="M306.3 253.4H321.9M306.3 321H321.9" stroke="#ff0000" stroke-width="4.8"/>
<path d="M314.2 304.1H321.9M314.2 287.2H321.9M314.2 270.3H321.9" stroke="#000" stroke-width="3"/>
<path d="M330.9 339.9V355.9M389.3 339.9V355.9M447.7 339.9V355.9" stroke="#ff0000" stroke-width="4.3"/>
<path d="M345.5 339.9V348.7M360.1 339.9V348.7M374.7 339.9V348.7M403.9 339.9V348.7M418.5 339.9V348.7M433.1 339.9V348.7" stroke="#000" stroke-width="2.9"/>
</g>
<g transform="translate(538.5,825.4)">
<g clip-path="url(#pc)">
<path transform="translate(328.8 0)scale(3.128 1)" d="M0 333V287h1V287h1V304h1V301h1V300h1V282h1V301h1V298h1V294h1V273h1V287h1V283h1V274h1V262h1V250h1V268h1V265h1V269h1V278h1V260h1V275h1V298h1V291h1V302h1V295h1V304h1V293h1V307h1V310h1V321h1V321h-1V324h-1V328h-1V329h-1V331h-1V331h-1V332h-1V330h-1V330h-1V331h-1V332h-1V332h-1V333h-1V336h-1V336h-1V335h-1V335h-1V331h-1V333h-1V330h-1V332h-1V332h-1V334h-1V333h-1V331h-1V330h-1V329h-1V329h-1V330h-1V333h-1Z" fill="#88b3da"/>
<path transform="translate(328.8 0)scale(3.128 1)" d="M0 326V274h1V299h1V310h1V308h1V306h1V307h1V306h1V304h1V300h1V299h1V296h1V292h1V286h1V274h1V278h1V278h1V276h1V280h1V287h1V295h1V300h1V305h1V309h1V309h1V309h1V310h1V311h1V313h1V318h1V321h1V321h-1V323h-1V325h-1V326h-1V326h-1V326h-1V326h-1V326h-1V325h-1V325h-1V325h-1V325h-1V326h-1V326h-1V326h-1V325h-1V327h-1V327h-1V326h-1V326h-1V327h-1V326h-1V326h-1V326h-1V327h-1V326h-1V326h-1V325h-1V325h-1V326h-1Z" fill="#cdb498"/>
<path transform="translate(328.8 0)scale(3.128 1)" d="M0 322V280h1V303h1V313h1V311h1V310h1V310h1V309h1V308h1V305h1V303h1V302h1V298h1V293h1V284h1V285h1V284h1V282h1V285h1V293h1V301h1V305h1V308h1V311h1V311h1V312h1V313h1V315h1V316h1V319h1V321h1V321h-1V321h-1V322h-1V322h-1V322h-1V322h-1V322h-1V322h-1V322h-1V322h-1V322h-1V322h-1V322h-1V322h-1V322h-1V322h-1V322h-1V322h-1V322h-1V322h-1V322h-1V322h-1V322h-1V322h-1V322h-1V322h-1V322h-1V322h-1V322h-1V322h-1Z" fill="#b3cfd4"/>
<path d="M345.5 256.1V335M360.1 256.1V335M403.9 256.1V335M327.7 304.1H450.1M327.7 287.2H450.1" stroke="#bababa" stroke-width="1.1" fill="none"/>
<path d="M330.6 256.1V335M389 256.1V335M447.4 256.1V335" stroke="#ff0000" stroke-opacity="0.5" stroke-width="5" fill="none"/>
<path d="M350.1 321L360.5 319.9L368 318.9L373.9 320.3L377.2 321.6" fill="none" stroke="#f00" stroke-opacity="0.4" stroke-width="5" stroke-linejoin="round"/>
<g fill="#000" stroke="#000" stroke-linejoin="round"><path d="M330.9 292.6l0.5 0 0.8 22 1.6 2 1.6 2 1.6-2 1.6 0 1.6-1 1.6 1 1.6-2 1.6 1 1.6 0 1.6 0 1.6-1 1.6 0 1.6 0 1.6-2 1.6 1 1.6-2 1.6-2 1.6 1 1.6-3 1.6-1 1.6-2 1.6-3 1.6-1 1.6-4 1.6-2 1.6-1 1.6-1 1.6 0 1.6 4 1.6-2 1.6 1 1.6 2 1.6 5 1.6 2 1.6 3 1.6 3 1.6-1 1.6 2 1.6 0 1.6 2 1.6 0 1.6 1 1.6 2 1.6 0 1.6 0 1.6 0 1.6 0 1.6 1 1.6 0 1.6 2 1.6-1 1.6 1 1.6 1 1.6 0 1.6 0 0 0 30 0 0 0-30 0 0 1-1.6-1-1.6 1-1.6 0-1.6-1-1.6 1-1.6-1-1.6 0-1.6-1-1.6 1-1.6 0-1.6 1-1.6-1-1.6-1-1.6-1-1.6 1-1.6-2-1.6-2-1.6 0-1.6 1-1.6-3-1.6-4-1.6-1-1.6-2-1.6-3-1.6-1-1.6 3-1.6-5-1.6 1-1.6 1-1.6 4-1.6-1-1.6 3-1.6 2-1.6 0-1.6 2-1.6 1-1.6 3-1.6-1-1.6 3-1.6 1-1.6-1-1.6 0-1.6 0-1.6 1-1.6 1-1.6-1-1.6 1-1.6-1-1.6 1-1.6 1-1.6-1-1.6 1-1.6 0-1.6-1-1.6-2-0.8-23-0.5 0Z" stroke-width="8.4"/></g>
</g>
<path d="M321.9 251H455.9V339.9H321.9ZM327.7 256.1V335H450.1V256.1Z" fill="#ff0000" fill-rule="evenodd"/>
<path d="M306.3 253.4H321.9M306.3 321H321.9" stroke="#ff0000" stroke-width="4.8"/>
<path d="M314.2 304.1H321.9M314.2 287.2H321.9M314.2 270.3H321.9" stroke="#000" stroke-width="3"/>
<path d="M330.9 339.9V355.9M389.3 339.9V355.9M447.7 339.9V355.9" stroke="#ff0000" stroke-width="4.3"/>
<path d="M345.5 339.9V348.7M360.1 339.9V348.7M374.7 339.9V348.7M403.9 339.9V348.7M418.5 339.9V348.7M433.1 339.9V348.7" stroke="#000" stroke-width="2.9"/>
</g>
<g transform="translate(718,825.4)">
<g clip-path="url(#pc)">
<path transform="translate(328.8 0)scale(3.128 1)" d="M0 336V286h1V287h1V303h1V303h1V303h1V300h1V282h1V300h1V293h1V285h1V280h1V268h1V260h1V251h1V250h1V252h1V262h1V250h1V279h1V284h1V291h1V297h1V286h1V302h1V296h1V308h1V308h1V309h1V297h1V310h1V315h1V321h1V321h-1V325h-1V331h-1V329h-1V332h-1V330h-1V328h-1V329h-1V332h-1V333h-1V330h-1V332h-1V333h-1V334h-1V334h-1V337h-1V337h-1V337h-1V337h-1V334h-1V332h-1V334h-1V334h-1V330h-1V330h-1V332h-1V330h-1V330h-1V332h-1V330h-1V332h-1V336h-1Z" fill="#88b3da"/>
<path transform="translate(328.8 0)scale(3.128 1)" d="M0 327V265h1V298h1V308h1V307h1V307h1V305h1V305h1V305h1V300h1V294h1V291h1V283h1V274h1V266h1V263h1V265h1V272h1V278h1V287h1V294h1V299h1V304h1V307h1V309h1V310h1V312h1V313h1V315h1V315h1V315h1V317h1V321h1V321h-1V324h-1V326h-1V326h-1V325h-1V326h-1V327h-1V325h-1V326h-1V326h-1V326h-1V327h-1V326h-1V326h-1V326h-1V326h-1V325h-1V327h-1V326h-1V326h-1V327h-1V327h-1V327h-1V327h-1V326h-1V326h-1V326h-1V326h-1V326h-1V326h-1V327h-1V327h-1Z" fill="#cdb498"/>
<path transform="translate(328.8 0)scale(3.128 1)" d="M0 322V274h1V302h1V311h1V311h1V311h1V310h1V308h1V308h1V304h1V299h1V295h1V290h1V284h1V279h1V278h1V276h1V281h1V287h1V294h1V299h1V304h1V307h1V310h1V312h1V312h1V315h1V315h1V317h1V317h1V318h1V319h1V321h1V321h-1V322h-1V322h-1V322h-1V322h-1V322h-1V322h-1V322h-1V322h-1V322h-1V322h-1V322h-1V322h-1V322h-1V322h-1V322h-1V322h-1V322h-1V322h-1V322h-1V322h-1V322h-1V322h-1V322h-1V322h-1V322h-1V322h-1V322h-1V322h-1V322h-1V322h-1V322h-1Z" fill="#b3cfd4"/>
<path d="M360.1 256.1V335M374.7 256.1V335M403.9 256.1V335M433.1 256.1V335M327.7 304.1H450.1M327.7 287.2H450.1" stroke="#bababa" stroke-width="1.1" fill="none"/>
<path d="M330.6 256.1V335M389 256.1V335M447.4 256.1V335" stroke="#ff0000" stroke-opacity="0.5" stroke-width="5" fill="none"/>
<path d="M351.3 321L361.8 319.9L369.3 318.9L375.1 320.3L378.4 321.6" fill="none" stroke="#f00" stroke-opacity="0.4" stroke-width="5" stroke-linejoin="round"/>
<g fill="#000" stroke="#000" stroke-linejoin="round"><path d="M330.9 292.6l0.5 0 0.8 22 1.6 2 1.6 0 1.6 0 1.6 0 1.6-1 1.6 1 1.6-1 1.6 0 1.6-1 1.6-1 1.6 1 1.6-1 1.6-1 1.6 0 1.6-1 1.6-3 1.6-2 1.6 0 1.6-2 1.6-1 1.6-4 1.6-3 1.6 1 1.6-6 1.6 0 1.6-3 1.6 5 1.6-2 1.6 3 1.6 2 1.6 0 1.6 2 1.6 4 1.6 3 1.6-2 1.6 2 1.6 3 1.6 3 1.6-2 1.6 3 1.6 1 1.6 0 1.6 2 1.6-1 1.6 3 1.6 1 1.6 0 1.6 1 1.6-1 1.6 0 1.6 0 1.6 2 1.6 0 1.6 1 1.6-1 1.6-1 1.6 2 1.6 0 1.6-1 0.2 0 23.4 0 0 0-23.4 0-0.2 1-1.6 0-1.6 0-1.6 0-1.6 0-1.6 0-1.6 0-1.6 0-1.6 0-1.6-1-1.6 0-1.6 1-1.6 0-1.6 0-1.6-1-1.6-2-1.6 2-1.6-3-1.6 2-1.6-2-1.6-3-1.6 1-1.6-1-1.6-3-1.6 2-1.6 1-1.6-3-1.6-6-1.6 2-1.6-3-1.6 1-1.6-3-1.6 2-1.6-2-1.6 3-1.6-2-1.6 3-1.6-2-1.6 3-1.6 3-1.6 3-1.6-2-1.6-1-1.6 3-1.6 3-1.6 1-1.6 0-1.6 1-1.6 1-1.6-2-1.6 0-1.6 2-1.6 0-1.6 2-1.6-2-1.6 1-1.6-1-1.6 1-1.6 1-1.6-1-0.8-25-0.5 0Z" stroke-width="8.4"/></g>
</g>
<path d="M321.9 251H455.9V339.9H321.9ZM327.7 256.1V335H450.1V256.1Z" fill="#ff0000" fill-rule="evenodd"/>
<path d="M306.3 253.4H321.9M306.3 321H321.9" stroke="#ff0000" stroke-width="4.8"/>
<path d="M314.2 304.1H321.9M314.2 287.2H321.9M314.2 270.3H321.9" stroke="#000" stroke-width="3"/>
<path d="M330.9 339.9V355.9M389.3 339.9V355.9M447.7 339.9V355.9" stroke="#ff0000" stroke-width="4.3"/>
<path d="M345.5 339.9V348.7M360.1 339.9V348.7M374.7 339.9V348.7M403.9 339.9V348.7M418.5 339.9V348.7M433.1 339.9V348.7" stroke="#000" stroke-width="2.9"/>
</g>
<g transform="translate(897.5,825.4)">
<g clip-path="url(#pc)">
<path transform="translate(328.8 0)scale(3.128 1)" d="M0 333V285h1V287h1V304h1V293h1V289h1V300h1V296h1V274h1V291h1V269h1V276h1V265h1V260h1V264h1V264h1V250h1V265h1V267h1V266h1V250h1V260h1V292h1V298h1V300h1V303h1V304h1V301h1V316h1V321h1V321h-1V326h-1V331h-1V331h-1V330h-1V331h-1V333h-1V334h-1V333h-1V332h-1V333h-1V335h-1V333h-1V334h-1V335h-1V335h-1V335h-1V336h-1V332h-1V331h-1V332h-1V333h-1V332h-1V331h-1V329h-1V331h-1V331h-1V330h-1V333h-1Z" fill="#88b3da"/>
<path transform="translate(328.8 0)scale(3.128 1)" d="M0 324V263h1V295h1V309h1V307h1V305h1V306h1V303h1V300h1V297h1V295h1V288h1V279h1V273h1V275h1V273h1V275h1V274h1V276h1V278h1V282h1V290h1V298h1V305h1V306h1V309h1V311h1V314h1V318h1V321h1V321h-1V323h-1V326h-1V325h-1V325h-1V326h-1V325h-1V326h-1V325h-1V326h-1V326h-1V326h-1V325h-1V327h-1V326h-1V326h-1V325h-1V326h-1V325h-1V325h-1V327h-1V326h-1V326h-1V325h-1V325h-1V326h-1V326h-1V325h-1V324h-1Z" fill="#cdb498"/>
<path transform="translate(328.8 0)scale(3.128 1)" d="M0 322V275h1V300h1V313h1V311h1V310h1V310h1V307h1V306h1V303h1V300h1V295h1V287h1V282h1V284h1V282h1V282h1V281h1V284h1V286h1V291h1V298h1V304h1V308h1V311h1V313h1V315h1V317h1V319h1V321h1V321h-1V322h-1V322h-1V322h-1V322h-1V322h-1V322h-1V322h-1V322h-1V322h-1V322h-1V322h-1V322h-1V322h-1V322h-1V322h-1V322h-1V322h-1V322h-1V322h-1V322h-1V322h-1V322h-1V322h-1V322h-1V322h-1V322h-1V322h-1V322h-1Z" fill="#b3cfd4"/>
<path d="M345.5 256.1V335M360.1 256.1V335M374.7 256.1V335M403.9 256.1V335M418.5 256.1V335M327.7 304.1H450.1M327.7 287.2H450.1" stroke="#bababa" stroke-width="1.1" fill="none"/>
<path d="M330.6 256.1V335M389 256.1V335M447.4 256.1V335" stroke="#ff0000" stroke-opacity="0.5" stroke-width="5" fill="none"/>
<path d="M356.3 321L366.8 319.9L374.3 318.9L380.1 320.3L383.5 321.6" fill="none" stroke="#f00" stroke-opacity="0.4" stroke-width="5" stroke-linejoin="round"/>
<g fill="#000" stroke="#000" stroke-linejoin="round"><path d="M330.9 292.6l0.5 0 0.8 22 1.6 3 1.6-1 1.6 1 1.6 0 1.6-1 1.6-2 1.6 0 1.6 0 1.6 0 1.6 1 1.6-1 1.6-1 1.6-1 1.6 0 1.6-4 1.6-1 1.6 2 1.6-2 1.6-1 1.6-2 1.6-3 1.6-7 1.6-1 1.6 2 1.6-3 1.6 2 1.6-2 1.6 2 1.6-1 1.6 0 1.6-2 1.6 6 1.6 1 1.6-1 1.6 2 1.6 3 1.6 7 1.6 0 1.6 2 1.6 1 1.6 2 1.6 0 1.6 1 1.6 1 1.6 0 1.6 2 1.6 1 1.6-1 1.6 1 1.6 0 1.6 0 1.6 1 1.6-1 0.2 1 33 0 0 0-33 0-0.2 1-1.6 0-1.6 0-1.6 0-1.6 0-1.6 0-1.6 0-1.6 0-1.6 0-1.6-2-1.6-1-1.6 2-1.6 0-1.6-4-1.6 0-1.6 0-1.6 2-1.6-7-1.6-2-1.6-1-1.6 2-1.6-4-1.6-3-1.6 2-1.6 0-1.6 1-1.6-5-1.6 4-1.6 1-1.6 1-1.6-4-1.6 2-1.6 6-1.6-1-1.6 1-1.6 3-1.6 2-1.6-3-1.6 2-1.6 3-1.6 1-1.6 0-1.6 2-1.6-1-1.6-1-1.6 0-1.6-1-1.6 0-1.6 1-1.6 2-1.6-1-1.6-1-1.6 1-1.6-1-0.8-24-0.5 0Z" stroke-width="8.4"/></g>
</g>
<path d="M321.9 251H455.9V339.9H321.9ZM327.7 256.1V335H450.1V256.1Z" fill="#ff0000" fill-rule="evenodd"/>
<path d="M306.3 253.4H321.9M306.3 321H321.9" stroke="#ff0000" stroke-width="4.8"/>
<path d="M314.2 304.1H321.9M314.2 287.2H321.9M314.2 270.3H321.9" stroke="#000" stroke-width="3"/>
<path d="M330.9 339.9V355.9M389.3 339.9V355.9M447.7 339.9V355.9" stroke="#ff0000" stroke-width="4.3"/>
<path d="M345.5 339.9V348.7M360.1 339.9V348.7M374.7 339.9V348.7M403.9 339.9V348.7M418.5 339.9V348.7M433.1 339.9V348.7" stroke="#000" stroke-width="2.9"/>
</g>
<g transform="translate(1077,825.4)">
<g clip-path="url(#pc)">
<path transform="translate(328.8 0)scale(3.128 1)" d="M0 337V285h1V286h1V307h1V305h1V303h1V302h1V295h1V303h1V299h1V293h1V284h1V277h1V262h1V258h1V250h1V258h1V271h1V256h1V276h1V277h1V261h1V274h1V295h1V298h1V302h1V304h1V304h1V295h1V300h1V314h1V324h-1V332h-1V331h-1V332h-1V330h-1V329h-1V330h-1V333h-1V333h-1V334h-1V331h-1V334h-1V335h-1V336h-1V333h-1V333h-1V336h-1V334h-1V330h-1V330h-1V331h-1V330h-1V332h-1V330h-1V333h-1V332h-1V330h-1V328h-1V332h-1V337h-1Z" fill="#88b3da"/>
<path transform="translate(328.8 0)scale(3.128 1)" d="M0 327V260h1V295h1V311h1V310h1V310h1V309h1V309h1V309h1V305h1V300h1V292h1V286h1V276h1V271h1V271h1V270h1V279h1V284h1V286h1V288h1V296h1V300h1V302h1V304h1V308h1V309h1V310h1V312h1V315h1V319h1V323h-1V326h-1V326h-1V326h-1V325h-1V325h-1V326h-1V326h-1V326h-1V326h-1V326h-1V327h-1V326h-1V326h-1V325h-1V326h-1V325h-1V326h-1V326h-1V326h-1V326h-1V325h-1V326h-1V326h-1V325h-1V326h-1V324h-1V325h-1V326h-1V327h-1Z" fill="#cdb498"/>
<path transform="translate(328.8 0)scale(3.128 1)" d="M0 322V279h1V303h1V315h1V314h1V313h1V312h1V311h1V312h1V308h1V304h1V297h1V294h1V284h1V278h1V279h1V278h1V286h1V290h1V294h1V295h1V302h1V305h1V307h1V310h1V312h1V313h1V313h1V315h1V317h1V320h1V321h-1V322h-1V322h-1V322h-1V322h-1V322h-1V322h-1V322h-1V322h-1V322h-1V322h-1V322h-1V322h-1V322h-1V322h-1V322h-1V322h-1V322h-1V322h-1V322h-1V322h-1V322h-1V322h-1V322h-1V322h-1V322h-1V322h-1V322h-1V322h-1V322h-1Z" fill="#b3cfd4"/>
<path d="M360.1 256.1V335M418.5 256.1V335M433.1 256.1V335M327.7 304.1H450.1M327.7 287.2H450.1" stroke="#bababa" stroke-width="1.1" fill="none"/>
<path d="M330.6 256.1V335M389 256.1V335M447.4 256.1V335" stroke="#ff0000" stroke-opacity="0.5" stroke-width="5" fill="none"/>
<path d="M350.5 321L360.9 319.9L368.4 318.9L374.3 320.3L377.6 321.6" fill="none" stroke="#f00" stroke-opacity="0.4" stroke-width="5" stroke-linejoin="round"/>
<g fill="#000" stroke="#000" stroke-linejoin="round"><path d="M330.9 292.6l0.5 0 0.8 22 1.6 4 1.6 1 1.6 0 1.6-2 1.6 1 1.6-1 1.6 0 1.6-1 1.6 2 1.6-2 1.6-1 1.6 0 1.6-1 1.6 0 1.6-1 1.6-1 1.6-1 1.6-3 1.6-3 1.6-2 1.6-2 1.6-1 1.6-3 1.6-5 1.6 1 1.6-4 1.6 4 1.6 2 1.6-2 1.6 2 1.6 3 1.6 0 1.6 1 1.6 2 1.6 3 1.6 0 1.6 3 1.6 2 1.6-1 1.6 1 1.6 2 1.6 2 1.6 2 1.6-1 1.6 2 1.6 0 1.6 1 1.6 0 1.6 1 1.6 0 1.6-1 1.6 3 1.6-2 1.6 2 1.6 0 1.6-1 0.9 1 27.5 0 0 0-27.5 0-0.9 1-1.6 0-1.6 0-1.6 0-1.6 0-1.6 0-1.6 0-1.6 0-1.6 0-1.6 0-1.6 0-1.6-2-1.6-1-1.6 2-1.6-3-1.6-2-1.6-1-1.6-1-1.6 2-1.6-1-1.6-3-1.6 1-1.6-1-1.6-1-1.6-3-1.6 0-1.6-5-1.6 0-1.6 7-1.6-2-1.6-5-1.6 4-1.6-3-1.6 5-1.6 0-1.6 2-1.6 1-1.6 1-1.6 2-1.6 2-1.6 2-1.6 0-1.6 1-1.6-1-1.6 1-1.6 0-1.6 1-1.6 1-1.6-2-1.6 2-1.6 0-1.6-1-1.6 1-1.6 0-1.6 0-1.6-1-1.6 0-0.8-25-0.5 0Z" stroke-width="8.4"/></g>
</g>
<path d="M321.9 251H455.9V339.9H321.9ZM327.7 256.1V335H450.1V256.1Z" fill="#ff0000" fill-rule="evenodd"/>
<path d="M306.3 253.4H321.9M306.3 321H321.9" stroke="#ff0000" stroke-width="4.8"/>
<path d="M314.2 304.1H321.9M314.2 287.2H321.9M314.2 270.3H321.9" stroke="#000" stroke-width="3"/>
<path d="M330.9 339.9V355.9M389.3 339.9V355.9M447.7 339.9V355.9" stroke="#ff0000" stroke-width="4.3"/>
<path d="M345.5 339.9V348.7M360.1 339.9V348.7M374.7 339.9V348.7M403.9 339.9V348.7M418.5 339.9V348.7M433.1 339.9V348.7" stroke="#000" stroke-width="2.9"/>
</g>
<g transform="translate(1256.5,825.4)">
<g clip-path="url(#pc)">
<path transform="translate(328.8 0)scale(3.128 1)" d="M0 338V287h1V287h1V305h1V304h1V305h1V303h1V288h1V303h1V302h1V297h1V290h1V257h1V276h1V267h1V250h1V259h1V250h1V265h1V250h1V277h1V253h1V288h1V289h1V297h1V298h1V300h1V283h1V304h1V305h1V307h1V311h1V319h1V322h-1V328h-1V330h-1V332h-1V330h-1V331h-1V333h-1V332h-1V333h-1V330h-1V329h-1V331h-1V333h-1V331h-1V332h-1V333h-1V337h-1V336h-1V333h-1V331h-1V331h-1V333h-1V332h-1V330h-1V332h-1V331h-1V330h-1V332h-1V330h-1V330h-1V334h-1V338h-1Z" fill="#88b3da"/>
<path transform="translate(328.8 0)scale(3.128 1)" d="M0 326V271h1V296h1V311h1V309h1V310h1V308h1V308h1V308h1V306h1V302h1V299h1V293h1V285h1V280h1V273h1V271h1V275h1V276h1V280h1V284h1V288h1V293h1V296h1V303h1V303h1V305h1V307h1V310h1V309h1V311h1V315h1V320h1V322h-1V324h-1V325h-1V326h-1V326h-1V326h-1V325h-1V326h-1V327h-1V326h-1V326h-1V325h-1V326h-1V326h-1V326h-1V326h-1V325h-1V326h-1V326h-1V327h-1V326h-1V326h-1V325h-1V326h-1V326h-1V326h-1V327h-1V326h-1V325h-1V326h-1V325h-1V326h-1Z" fill="#cdb498"/>
<path transform="translate(328.8 0)scale(3.128 1)" d="M0 322V284h1V301h1V314h1V314h1V313h1V312h1V313h1V312h1V309h1V306h1V304h1V299h1V291h1V287h1V282h1V280h1V282h1V284h1V287h1V292h1V295h1V300h1V302h1V307h1V308h1V310h1V312h1V314h1V314h1V314h1V317h1V320h1V321h-1V322h-1V322h-1V322h-1V322h-1V322h-1V322h-1V322h-1V322h-1V322h-1V322h-1V322h-1V322h-1V322h-1V322h-1V322h-1V322h-1V322h-1V322h-1V322h-1V322h-1V322h-1V322h-1V322h-1V322h-1V322h-1V322h-1V322h-1V322h-1V322h-1V322h-1V322h-1Z" fill="#b3cfd4"/>
<path d="M345.5 256.1V335M360.1 256.1V335M374.7 256.1V335M403.9 256.1V335M433.1 256.1V335M327.7 304.1H450.1M327.7 287.2H450.1" stroke="#bababa" stroke-width="1.1" fill="none"/>
<path d="M330.6 256.1V335M389 256.1V335M447.4 256.1V335" stroke="#ff0000" stroke-opacity="0.5" stroke-width="5" fill="none"/>
<path d="M353 321L363.4 319.9L370.9 318.9L376.8 320.3L380.1 321.6" fill="none" stroke="#f00" stroke-opacity="0.4" stroke-width="5" stroke-linejoin="round"/>
<g fill="#000" stroke="#000" stroke-linejoin="round"><path d="M330.9 294.7l0.5 0 0.8 20 1.6 4 1.6 2 1.6-1 1.6-1 1.6 0 1.6-2 1.6 1 1.6 0 1.6 0 1.6 0 1.6-1 1.6-1 1.6 1 1.6-1 1.6 0 1.6-2 1.6 0 1.6-1 1.6-2 1.6-1 1.6 0 1.6-4 1.6-3 1.6-1 1.6-2 1.6-7 1.6-2 1.6 1 1.6 1 1.6 0 1.6-1 1.6 1 1.6 3 1.6 2 1.6 1 1.6 5 1.6-1 1.6 4 1.6 0 1.6-1 1.6 3 1.6 1 1.6 2 1.6 2 1.6 0 1.6 2 1.6-1 1.6 2 1.6 0 1.6 0 1.6 2 1.6 0 1.6-1 1.6 1 1.6 0 1.6 1 1.6 1 1.6-1 1.6 1 1.5 0 22.1 0 0 0-22.1 0-1.5 1-1.6 0-1.6 0-1.6-1-1.6 1-1.6 0-1.6 0-1.6 0-1.6 0-1.6-1-1.6 0-1.6 0-1.6-1-1.6-1-1.6 0-1.6 1-1.6-2-1.6-3-1.6 0-1.6-2-1.6 0-1.6 2-1.6-5-1.6 3-1.6-3-1.6-3-1.6 0-1.6-3-1.6-1-1.6 0-1.6 2-1.6 1-1.6-1-1.6-2-1.6 6-1.6 3-1.6-1-1.6 3-1.6 4-1.6-1-1.6-1-1.6 4-1.6-3-1.6 1-1.6 1-1.6 1-1.6 1-1.6-2-1.6 2-1.6 0-1.6-1-1.6 1-1.6 0-1.6-1-1.6 1-1.6 0-1.6 1-1.6 0-1.6-1-1.6-1-0.8-22-0.5 0Z" stroke-width="8.4"/></g>
</g>
<path d="M321.9 251H455.9V339.9H321.9ZM327.7 256.1V335H450.1V256.1Z" fill="#ff0000" fill-rule="evenodd"/>
<path d="M306.3 253.4H321.9M306.3 321H321.9" stroke="#ff0000" stroke-width="4.8"/>
<path d="M314.2 304.1H321.9M314.2 287.2H321.9M314.2 270.3H321.9" stroke="#000" stroke-width="3"/>
<path d="M330.9 339.9V355.9M389.3 339.9V355.9M447.7 339.9V355.9" stroke="#ff0000" stroke-width="4.3"/>
<path d="M345.5 339.9V348.7M360.1 339.9V348.7M374.7 339.9V348.7M403.9 339.9V348.7M418.5 339.9V348.7M433.1 339.9V348.7" stroke="#000" stroke-width="2.9"/>
</g>
<g transform="translate(1436,825.4)">
<g clip-path="url(#pc)">
<path transform="translate(328.8 0)scale(3.128 1)" d="M0 333V289h1V289h1V308h1V306h1V292h1V304h1V284h1V299h1V298h1V273h1V291h1V285h1V284h1V250h1V274h1V255h1V250h1V250h1V250h1V257h1V271h1V267h1V291h1V274h1V293h1V308h1V297h1V312h1V321h1V321h-1V325h-1V328h-1V330h-1V329h-1V331h-1V333h-1V333h-1V336h-1V335h-1V337h-1V334h-1V338h-1V336h-1V331h-1V332h-1V334h-1V331h-1V333h-1V331h-1V330h-1V331h-1V330h-1V329h-1V329h-1V330h-1V330h-1V330h-1V333h-1Z" fill="#88b3da"/>
<path transform="translate(328.8 0)scale(3.128 1)" d="M0 325V277h1V301h1V312h1V311h1V310h1V309h1V309h1V307h1V306h1V302h1V298h1V295h1V293h1V287h1V284h1V269h1V263h1V261h1V266h1V268h1V280h1V292h1V301h1V302h1V309h1V312h1V314h1V318h1V321h1V321h-1V323h-1V325h-1V326h-1V326h-1V325h-1V326h-1V326h-1V326h-1V327h-1V326h-1V325h-1V326h-1V325h-1V326h-1V325h-1V325h-1V326h-1V326h-1V325h-1V326h-1V326h-1V326h-1V325h-1V326h-1V326h-1V325h-1V325h-1V325h-1Z" fill="#cdb498"/>
<path transform="translate(328.8 0)scale(3.128 1)" d="M0 322V283h1V304h1V315h1V314h1V313h1V313h1V312h1V310h1V309h1V306h1V302h1V300h1V297h1V292h1V291h1V279h1V274h1V272h1V276h1V278h1V287h1V297h1V305h1V307h1V312h1V315h1V316h1V319h1V321h1V321h-1V321h-1V322h-1V322h-1V322h-1V322h-1V322h-1V322h-1V322h-1V322h-1V322h-1V322h-1V322h-1V322h-1V322h-1V322h-1V322h-1V322h-1V322h-1V322h-1V322h-1V322h-1V322h-1V322h-1V322h-1V322h-1V322h-1V322h-1V322h-1Z" fill="#b3cfd4"/>
<path d="M345.5 256.1V335M374.7 256.1V335M418.5 256.1V335M433.1 256.1V335M327.7 304.1H450.1M327.7 287.2H450.1" stroke="#bababa" stroke-width="1.1" fill="none"/>
<path d="M330.6 256.1V335M389 256.1V335M447.4 256.1V335" stroke="#ff0000" stroke-opacity="0.5" stroke-width="5" fill="none"/>
<path d="M358.4 321L368.9 319.9L376.4 318.9L382.2 320.3L385.5 321.6" fill="none" stroke="#f00" stroke-opacity="0.4" stroke-width="5" stroke-linejoin="round"/>
<g fill="#000" stroke="#000" stroke-linejoin="round"><path d="M330.9 292.6l0.5 0 0.8 22 1.6 4 1.6 0 1.6 0 1.6 0 1.6 1 1.6-1 1.6-2 1.6 1 1.6-2 1.6 2 1.6-2 1.6 1 1.6 0 1.6-3 1.6 0 1.6-2 1.6 1 1.6-2 1.6 1 1.6-4 1.6 1 1.6-3 1.6 0 1.6-3 1.6-2 1.6 1 1.6-3 1.6 0 1.6-5 1.6-7 1.6-1 1.6 1 1.6 4 1.6-1 1.6 0 1.6 2 1.6 1 1.6 9 1.6 3 1.6 3 1.6 4 1.6 2 1.6 1 1.6 1 1.6 1 1.6 1 1.6 0 1.6 2 1.6 0 1.6 0 1.6 0 1.6 1 1.4 0 33.4 0 0 0-33.4 0-1.4 1-1.6-1-1.6 1-1.6 0-1.6 0-1.6 0-1.6 0-1.6 0-1.6-2-1.6-1-1.6 0-1.6-3-1.6-3-1.6-2-1.6 2-1.6-8-1.6-2-1.6 2-1.6-1-1.6 0-1.6-4-1.6-4-1.6 2-1.6 4-1.6 6-1.6-1-1.6 4-1.6-3-1.6 1-1.6 3-1.6 0-1.6 5-1.6-2-1.6 3-1.6-1-1.6 3-1.6-3-1.6 4-1.6-1-1.6 1-1.6 0-1.6 0-1.6 1-1.6-1-1.6 0-1.6-1-1.6 2-1.6 0-1.6-1-1.6 1-1.6 0-1.6 0-1.6-1-0.8-25-0.5 0Z" stroke-width="8.4"/></g>
</g>
<path d="M321.9 251H455.9V339.9H321.9ZM327.7 256.1V335H450.1V256.1Z" fill="#ff0000" fill-rule="evenodd"/>
<path d="M306.3 253.4H321.9M306.3 321H321.9" stroke="#ff0000" stroke-width="4.8"/>
<path d="M314.2 304.1H321.9M314.2 287.2H321.9M314.2 270.3H321.9" stroke="#000" stroke-width="3"/>
<path d="M330.9 339.9V355.9M389.3 339.9V355.9M447.7 339.9V355.9" stroke="#ff0000" stroke-width="4.3"/>
<path d="M345.5 339.9V348.7M360.1 339.9V348.7M374.7 339.9V348.7M403.9 339.9V348.7M418.5 339.9V348.7M433.1 339.9V348.7" stroke="#000" stroke-width="2.9"/>
</g>
<g transform="translate(1615.5,825.4)">
<g clip-path="url(#pc)">
<path transform="translate(328.8 0)scale(3.128 1)" d="M0 334V285h1V285h1V303h1V304h1V301h1V298h1V298h1V296h1V296h1V295h1V268h1V268h1V285h1V250h1V250h1V250h1V259h1V253h1V250h1V260h1V266h1V263h1V262h1V293h1V285h1V283h1V287h1V300h1V302h1V302h1V309h1V308h1V317h1V321h1V321h-1V324h-1V331h-1V331h-1V330h-1V330h-1V330h-1V331h-1V331h-1V332h-1V333h-1V332h-1V333h-1V334h-1V336h-1V333h-1V336h-1V332h-1V336h-1V334h-1V335h-1V334h-1V334h-1V333h-1V333h-1V331h-1V332h-1V333h-1V332h-1V329h-1V331h-1V331h-1V334h-1V334h-1Z" fill="#88b3da"/>
<path transform="translate(328.8 0)scale(3.128 1)" d="M0 325V268h1V295h1V308h1V309h1V306h1V305h1V304h1V302h1V302h1V301h1V299h1V295h1V293h1V283h1V277h1V279h1V274h1V269h1V266h1V272h1V276h1V288h1V296h1V301h1V301h1V305h1V305h1V307h1V308h1V313h1V314h1V313h1V319h1V321h1V321h-1V323h-1V325h-1V325h-1V325h-1V326h-1V327h-1V326h-1V326h-1V325h-1V325h-1V325h-1V326h-1V325h-1V326h-1V326h-1V325h-1V326h-1V326h-1V326h-1V325h-1V325h-1V326h-1V325h-1V326h-1V326h-1V326h-1V326h-1V326h-1V326h-1V326h-1V326h-1V326h-1V325h-1Z" fill="#cdb498"/>
<path transform="translate(328.8 0)scale(3.128 1)" d="M0 322V275h1V298h1V311h1V311h1V310h1V309h1V308h1V305h1V306h1V305h1V303h1V301h1V299h1V292h1V287h1V287h1V284h1V277h1V274h1V280h1V285h1V294h1V300h1V304h1V307h1V310h1V310h1V312h1V313h1V316h1V316h1V316h1V319h1V321h1V321h-1V321h-1V322h-1V322h-1V322h-1V322h-1V322h-1V322h-1V322h-1V322h-1V322h-1V322h-1V322h-1V322h-1V322h-1V322h-1V322h-1V322h-1V322h-1V322h-1V322h-1V322h-1V322h-1V322h-1V322h-1V322h-1V322h-1V322h-1V322h-1V322h-1V322h-1V322h-1V322h-1V322h-1Z" fill="#b3cfd4"/>
<path d="M360.1 256.1V335M403.9 256.1V335M433.1 256.1V335M327.7 304.1H450.1M327.7 287.2H450.1" stroke="#bababa" stroke-width="1.1" fill="none"/>
<path d="M330.6 256.1V335M389 256.1V335M447.4 256.1V335" stroke="#ff0000" stroke-opacity="0.5" stroke-width="5" fill="none"/>
<path d="M364.3 321L374.7 319.9L382.2 318.9L388 320.3L391.4 321.6" fill="none" stroke="#f00" stroke-opacity="0.4" stroke-width="5" stroke-linejoin="round"/>
<g fill="#000" stroke="#000" stroke-linejoin="round"><path d="M330.9 292.2l0.5 0 0.8 22 1.6 2 1.6 1 1.6 0 1.6-2 1.6 0 1.6-1 1.6 2 1.6-1 1.6 0 1.6 0 1.6-2 1.6 0 1.6 1 1.6-1 1.6 0 1.6-2 1.6 2 1.6-1 1.6-1 1.6-3 1.6-1 1.6-2 1.6 1 1.6-1 1.6-3 1.6-1 1.6-5 1.6 1 1.6-2 1.6 1 1.6 0 1.6-6 1.6-2 1.6-2 1.6 3 1.6 7 1.6 1 1.6 4 1.6 4 1.6 0 1.6 3 1.6 0 1.6 1 1.6 1 1.6 2 1.6 2 1.6 0 1.6 1 1.6 0 1.6 2 1.6-1 1.6 2 1.6-1 1.6 1 1.6 1 1.6 1 1.6 0 1.6 0 1.6 1 1.6 0 1.6-1 1.6 1 1.3 0 17.5 0 0 0-17.5 0-1.3 1-1.6-1-1.6 1-1.6 0-1.6 0-1.6 0-1.6 0-1.6 0-1.6-1-1.6 0-1.6 0-1.6-2-1.6 1-1.6-2-1.6 1-1.6 0-1.6-2-1.6-1-1.6-2-1.6-1-1.6 0-1.6 2-1.6-2-1.6 0-1.6-2-1.6-7-1.6 2-1.6-8-1.6 0-1.6 0-1.6 6-1.6 5-1.6 0-1.6-4-1.6 2-1.6 0-1.6 6-1.6 0-1.6 2-1.6-1-1.6-1-1.6 3-1.6-1-1.6 0-1.6 1-1.6 3-1.6-3-1.6 3-1.6-2-1.6 1-1.6 1-1.6 0-1.6 2-1.6 0-1.6-2-1.6 1-1.6 0-1.6 0-1.6-1-1.6 2-1.6 1-1.6-1-1.6-1-0.8-24-0.5 0Z" stroke-width="8.4"/></g>
</g>
<path d="M321.9 251H455.9V339.9H321.9ZM327.7 256.1V335H450.1V256.1Z" fill="#ff0000" fill-rule="evenodd"/>
<path d="M306.3 253.4H321.9M306.3 321H321.9" stroke="#ff0000" stroke-width="4.8"/>
<path d="M314.2 304.1H321.9M314.2 287.2H321.9M314.2 270.3H321.9" stroke="#000" stroke-width="3"/>
<path d="M330.9 339.9V355.9M389.3 339.9V355.9M447.7 339.9V355.9" stroke="#ff0000" stroke-width="4.3"/>
<path d="M345.5 339.9V348.7M360.1 339.9V348.7M374.7 339.9V348.7M403.9 339.9V348.7M418.5 339.9V348.7M433.1 339.9V348.7" stroke="#000" stroke-width="2.9"/>
</g>
<g transform="translate(1795,825.4)">
<g clip-path="url(#pc)">
<path transform="translate(328.8 0)scale(3.128 1)" d="M0 331V286h1V285h1V294h1V303h1V302h1V303h1V300h1V293h1V282h1V294h1V293h1V274h1V284h1V250h1V256h1V257h1V253h1V256h1V262h1V274h1V277h1V279h1V279h1V295h1V300h1V300h1V302h1V304h1V306h1V300h1V317h1V323h-1V328h-1V329h-1V330h-1V332h-1V332h-1V333h-1V330h-1V330h-1V333h-1V331h-1V333h-1V333h-1V337h-1V336h-1V336h-1V333h-1V332h-1V332h-1V331h-1V333h-1V332h-1V333h-1V331h-1V330h-1V332h-1V332h-1V329h-1V330h-1V332h-1V331h-1Z" fill="#88b3da"/>
<path transform="translate(328.8 0)scale(3.128 1)" d="M0 325V268h1V293h1V309h1V308h1V307h1V309h1V305h1V300h1V300h1V301h1V302h1V296h1V291h1V280h1V273h1V272h1V267h1V270h1V273h1V286h1V286h1V289h1V300h1V302h1V306h1V307h1V307h1V310h1V311h1V313h1V319h1V323h-1V326h-1V327h-1V327h-1V326h-1V325h-1V326h-1V325h-1V326h-1V326h-1V326h-1V327h-1V327h-1V326h-1V325h-1V325h-1V325h-1V326h-1V326h-1V325h-1V327h-1V326h-1V326h-1V325h-1V326h-1V326h-1V325h-1V325h-1V325h-1V325h-1V325h-1Z" fill="#cdb498"/>
<path transform="translate(328.8 0)scale(3.128 1)" d="M0 322V281h1V302h1V314h1V312h1V311h1V312h1V308h1V304h1V304h1V305h1V305h1V301h1V296h1V287h1V281h1V280h1V276h1V279h1V282h1V291h1V292h1V295h1V305h1V308h1V310h1V310h1V311h1V314h1V315h1V316h1V320h1V321h-1V322h-1V322h-1V322h-1V322h-1V322h-1V322h-1V322h-1V322h-1V322h-1V322h-1V322h-1V322h-1V322h-1V322h-1V322h-1V322h-1V322h-1V322h-1V322h-1V322h-1V322h-1V322h-1V322h-1V322h-1V322h-1V322h-1V322h-1V322h-1V322h-1V322h-1Z" fill="#b3cfd4"/>
<path d="M345.5 256.1V335M374.7 256.1V335M403.9 256.1V335M418.5 256.1V335M327.7 304.1H450.1M327.7 287.2H450.1" stroke="#bababa" stroke-width="1.1" fill="none"/>
<path d="M330.6 256.1V335M389 256.1V335M447.4 256.1V335" stroke="#ff0000" stroke-opacity="0.5" stroke-width="5" fill="none"/>
<path d="M354.3 321L364.7 319.9L372.2 318.9L378 320.3L381.4 321.6" fill="none" stroke="#f00" stroke-opacity="0.4" stroke-width="5" stroke-linejoin="round"/>
<g fill="#000" stroke="#000" stroke-linejoin="round"><path d="M330.9 292.5l0.5 0 0.8 23 1.6 3 1.6-1 1.6 1 1.6 0 1.6-1 1.6 0 1.6 1 1.6-1 1.6 0 1.6 0 1.6-3 1.6 0 1.6-2 1.6-2 1.6 0 1.6 0 1.6 1 1.6 0 1.6 1 1.6-3 1.6-1 1.6-3 1.6 0 1.6-3 1.6-2 1.6-3 1.6-4 1.6-4 1.6 1 1.6-2 1.6 3 1.6 3 1.6 2 1.6 3 1.6 3 1.6 1 1.6-1 1.6 1 1.6-3 1.6 5 1.6 7 1.6 2 1.6-1 1.6 1 1.6 0 1.6 1 1.6 1 1.6 0 1.6 1 1.6 2 1.6-2 1.6 2 1.6 1 1.6 0 1.6 1 1.6-1 1.6 2 1.6-2 0.6 1 24.6 0 0 0-24.6 0-0.6 1-1.6 0-1.6-1-1.6 1-1.6 0-1.6 0-1.6 0-1.6-1-1.6 0-1.6-1-1.6 0-1.6-1-1.6 1-1.6-1-1.6 0-1.6-1-1.6 2-1.6 0-1.6-7-1.6-2-1.6 3-1.6-1-1.6-1-1.6 0-1.6-3-1.6-5-1.6-1-1.6-3-1.6-1-1.6 4-1.6 1-1.6 0-1.6 4-1.6 4-1.6-3-1.6 3-1.6-1-1.6 5-1.6 0-1.6 1-1.6 1-1.6-2-1.6-1-1.6-1-1.6 1-1.6 2-1.6 3-1.6-2-1.6 3-1.6-1-1.6 1-1.6 1-1.6 0-1.6 0-1.6 0-1.6 0-1.6 0-1.6 0-1.6-4-0.8-22-0.5 0Z" stroke-width="8.4"/></g>
</g>
<path d="M321.9 251H455.9V339.9H321.9ZM327.7 256.1V335H450.1V256.1Z" fill="#ff0000" fill-rule="evenodd"/>
<path d="M306.3 253.4H321.9M306.3 321H321.9" stroke="#ff0000" stroke-width="4.8"/>
<path d="M314.2 304.1H321.9M314.2 287.2H321.9M314.2 270.3H321.9" stroke="#000" stroke-width="3"/>
<path d="M330.9 339.9V355.9M389.3 339.9V355.9M447.7 339.9V355.9" stroke="#ff0000" stroke-width="4.3"/>
<path d="M345.5 339.9V348.7M360.1 339.9V348.7M374.7 339.9V348.7M403.9 339.9V348.7M418.5 339.9V348.7M433.1 339.9V348.7" stroke="#000" stroke-width="2.9"/>
</g>
<g transform="translate(0,943.4)">
<g clip-path="url(#pc)">
<path transform="translate(328.8 0)scale(3.128 1)" d="M0 336V288h1V289h1V308h1V288h1V287h1V301h1V298h1V270h1V289h1V281h1V256h1V272h1V271h1V250h1V261h1V264h1V250h1V274h1V281h1V279h1V297h1V291h1V304h1V299h1V306h1V308h1V315h1V321h1V321h-1V326h-1V329h-1V329h-1V331h-1V332h-1V332h-1V333h-1V333h-1V333h-1V332h-1V334h-1V334h-1V335h-1V332h-1V331h-1V333h-1V333h-1V334h-1V335h-1V334h-1V334h-1V333h-1V331h-1V332h-1V333h-1V334h-1V336h-1Z" fill="#88b3da"/>
<path transform="translate(328.8 0)scale(3.128 1)" d="M0 325V279h1V299h1V313h1V308h1V306h1V306h1V305h1V299h1V297h1V291h1V287h1V284h1V281h1V278h1V273h1V275h1V277h1V283h1V291h1V300h1V304h1V306h1V308h1V311h1V310h1V312h1V317h1V321h1V321h-1V324h-1V325h-1V325h-1V326h-1V327h-1V326h-1V325h-1V325h-1V326h-1V325h-1V326h-1V326h-1V325h-1V325h-1V326h-1V326h-1V326h-1V326h-1V326h-1V325h-1V326h-1V325h-1V326h-1V327h-1V326h-1V326h-1V325h-1Z" fill="#cdb498"/>
<path transform="translate(328.8 0)scale(3.128 1)" d="M0 322V288h1V303h1V315h1V312h1V311h1V310h1V309h1V305h1V302h1V298h1V295h1V291h1V287h1V286h1V284h1V285h1V284h1V289h1V296h1V304h1V307h1V309h1V311h1V313h1V314h1V315h1V318h1V321h1V321h-1V321h-1V322h-1V322h-1V322h-1V322h-1V322h-1V322h-1V322h-1V322h-1V322h-1V322h-1V322h-1V322h-1V322h-1V322h-1V322h-1V322h-1V322h-1V322h-1V322h-1V322h-1V322h-1V322h-1V322h-1V322h-1V322h-1V322h-1Z" fill="#b3cfd4"/>
<path d="M345.5 256.1V335M374.7 256.1V335M418.5 256.1V335M433.1 256.1V335M327.7 304.1H450.1M327.7 287.2H450.1" stroke="#bababa" stroke-width="1.1" fill="none"/>
<path d="M330.6 256.1V335M389 256.1V335M447.4 256.1V335" stroke="#ff0000" stroke-opacity="0.5" stroke-width="5" fill="none"/>
<path d="M347.6 321L358 319.9L365.5 318.9L371.4 320.3L374.7 321.6" fill="none" stroke="#f00" stroke-opacity="0.4" stroke-width="5" stroke-linejoin="round"/>
<g fill="#000" stroke="#000" stroke-linejoin="round"><path d="M330.9 294.1l0.5 0 0.8 21 1.6 4 1.6 0 1.6 1 1.6-3 1.6-1 1.6 0 1.6 0 1.6-1 1.6 1 1.6 0 1.6-2 1.6 0 1.6 0 1.6-3 1.6-1 1.6-1 1.6-3 1.6-2 1.6 0 1.6-1 1.6-3 1.6-1 1.6-5 1.6 0 1.6 0 1.6 2 1.6 2 1.6-2 1.6-1 1.6 4 1.6 0 1.6 1 1.6 3 1.6 5 1.6 2 1.6 2 1.6 0 1.6 1 1.6 1 1.6 2 1.6 1 1.6 0 1.6 1 1.6 0 1.6 1 1.6-1 1.6 2 1.6-1 1.6 2 1.6 0 1.6 0 0.5 0 35.9 0 0 0-35.9 0-0.5 1-1.6-1-1.6 1-1.6-1-1.6 1-1.6 0-1.6-1-1.6 1-1.6-1-1.6 1-1.6 0-1.6-3-1.6-2-1.6 2-1.6-2-1.6-1-1.6 0-1.6-4-1.6-3-1.6-2-1.6 3-1.6 2-1.6-4-1.6 0-1.6 2-1.6-1-1.6-1-1.6-2-1.6-3-1.6 7-1.6-2-1.6 5-1.6 0-1.6-3-1.6 2-1.6 5-1.6-2-1.6 2-1.6 1-1.6 1-1.6 0-1.6 1-1.6 0-1.6 0-1.6-1-1.6 2-1.6 0-1.6 1-1.6 0-1.6 0-1.6 0-1.6-1-0.8-24-0.5 0Z" stroke-width="8.4"/></g>
</g>
<path d="M321.9 251H455.9V339.9H321.9ZM327.7 256.1V335H450.1V256.1Z" fill="#ff0000" fill-rule="evenodd"/>
<path d="M306.3 253.4H321.9M306.3 321H321.9" stroke="#ff0000" stroke-width="4.8"/>
<path d="M314.2 304.1H321.9M314.2 287.2H321.9M314.2 270.3H321.9" stroke="#000" stroke-width="3"/>
<path d="M330.9 339.9V355.9M389.3 339.9V355.9M447.7 339.9V355.9" stroke="#ff0000" stroke-width="4.3"/>
<path d="M345.5 339.9V348.7M360.1 339.9V348.7M374.7 339.9V348.7M403.9 339.9V348.7M418.5 339.9V348.7M433.1 339.9V348.7" stroke="#000" stroke-width="2.9"/>
</g>
<g transform="translate(179.5,943.4)">
<g clip-path="url(#pc)">
<path transform="translate(328.8 0)scale(3.128 1)" d="M0 335V289h1V289h1V301h1V295h1V303h1V291h1V286h1V283h1V287h1V281h1V255h1V277h1V270h1V253h1V272h1V250h1V258h1V262h1V276h1V281h1V290h1V298h1V281h1V302h1V298h1V307h1V310h1V319h1V324h-1V330h-1V332h-1V331h-1V332h-1V329h-1V331h-1V332h-1V331h-1V333h-1V334h-1V332h-1V335h-1V333h-1V334h-1V334h-1V330h-1V331h-1V333h-1V330h-1V331h-1V329h-1V332h-1V330h-1V332h-1V332h-1V333h-1V335h-1Z" fill="#88b3da"/>
<path transform="translate(328.8 0)scale(3.128 1)" d="M0 325V277h1V300h1V314h1V312h1V309h1V304h1V304h1V303h1V296h1V291h1V289h1V287h1V282h1V283h1V282h1V278h1V276h1V276h1V288h1V292h1V299h1V305h1V306h1V309h1V311h1V313h1V314h1V320h1V322h-1V326h-1V326h-1V327h-1V327h-1V326h-1V326h-1V326h-1V326h-1V325h-1V326h-1V324h-1V325h-1V325h-1V325h-1V325h-1V326h-1V326h-1V326h-1V325h-1V325h-1V326h-1V325h-1V326h-1V326h-1V325h-1V326h-1V325h-1Z" fill="#cdb498"/>
<path transform="translate(328.8 0)scale(3.128 1)" d="M0 322V285h1V305h1V317h1V315h1V312h1V310h1V309h1V306h1V302h1V297h1V294h1V292h1V290h1V290h1V289h1V286h1V285h1V284h1V294h1V298h1V303h1V308h1V310h1V313h1V315h1V316h1V317h1V320h1V321h-1V322h-1V322h-1V322h-1V322h-1V322h-1V322h-1V322h-1V322h-1V322h-1V322h-1V322h-1V322h-1V322h-1V322h-1V322h-1V322h-1V322h-1V322h-1V322h-1V322h-1V322h-1V322h-1V322h-1V322h-1V322h-1V322h-1V322h-1Z" fill="#b3cfd4"/>
<path d="M360.1 256.1V335M403.9 256.1V335M433.1 256.1V335M327.7 304.1H450.1M327.7 287.2H450.1" stroke="#bababa" stroke-width="1.1" fill="none"/>
<path d="M330.6 256.1V335M389 256.1V335M447.4 256.1V335" stroke="#ff0000" stroke-opacity="0.5" stroke-width="5" fill="none"/>
<path d="M356.8 321L367.2 319.9L374.7 318.9L380.5 320.3L383.9 321.6" fill="none" stroke="#f00" stroke-opacity="0.4" stroke-width="5" stroke-linejoin="round"/>
<g fill="#000" stroke="#000" stroke-linejoin="round"><path d="M330.9 293.1l0.5 0 0.8 22 1.6 5 1.6 1 1.6-1 1.6 1 1.6-2 1.6-1 1.6-1 1.6-1 1.6 0 1.6-1 1.6-2 1.6 0 1.6 1 1.6-3 1.6-2 1.6-1 1.6 1 1.6-4 1.6 0 1.6-1 1.6-2 1.6-1 1.6 0 1.6-1 1.6-2 1.6-1 1.6-2 1.6 2 1.6-1 1.6-1 1.6 3 1.6 2 1.6 3 1.6 4 1.6 0 1.6 1 1.6 3 1.6 2 1.6 0 1.6 0 1.6 2 1.6 2 1.6 0 1.6 0 1.6 1 1.6 1 1.6 0 1.6 0 1.6 2 1.6 0 1.6 0 1.6 0 0.6 0 34.2 0 0 0-34.2 0-0.6 0-1.6 1-1.6-1-1.6 1-1.6 0-1.6-1-1.6 1-1.6 0-1.6-1-1.6 0-1.6 0-1.6-3-1.6 0-1.6 0-1.6-1-1.6-1-1.6 0-1.6-1-1.6 1-1.6-6-1.6 2-1.6-3-1.6-4-1.6 1-1.6-1-1.6 1-1.6 0-1.6 1-1.6 0-1.6 4-1.6-3-1.6 2-1.6 1-1.6 0-1.6 0-1.6 5-1.6 0-1.6 0-1.6 2-1.6 3-1.6-3-1.6 1-1.6 2-1.6-1-1.6 0-1.6 1-1.6 0-1.6 0-1.6 0-1.6 0-1.6 1-1.6-1-1.6-2-0.8-23-0.5 0Z" stroke-width="8.4"/></g>
</g>
<path d="M321.9 251H455.9V339.9H321.9ZM327.7 256.1V335H450.1V256.1Z" fill="#ff0000" fill-rule="evenodd"/>
<path d="M306.3 253.4H321.9M306.3 321H321.9" stroke="#ff0000" stroke-width="4.8"/>
<path d="M314.2 304.1H321.9M314.2 287.2H321.9M314.2 270.3H321.9" stroke="#000" stroke-width="3"/>
<path d="M330.9 339.9V355.9M389.3 339.9V355.9M447.7 339.9V355.9" stroke="#ff0000" stroke-width="4.3"/>
<path d="M345.5 339.9V348.7M360.1 339.9V348.7M374.7 339.9V348.7M403.9 339.9V348.7M418.5 339.9V348.7M433.1 339.9V348.7" stroke="#000" stroke-width="2.9"/>
</g>
<g transform="translate(359,943.4)">
<g clip-path="url(#pc)">
<path transform="translate(328.8 0)scale(3.128 1)" d="M0 334V288h1V288h1V307h1V300h1V296h1V298h1V295h1V295h1V278h1V273h1V269h1V250h1V250h1V250h1V250h1V250h1V250h1V258h1V255h1V306h1V302h1V297h1V296h1V299h1V291h1V306h1V298h1V310h1V311h1V313h1V321h1V321h-1V325h-1V331h-1V331h-1V329h-1V328h-1V329h-1V330h-1V330h-1V332h-1V332h-1V331h-1V333h-1V332h-1V336h-1V333h-1V333h-1V334h-1V334h-1V336h-1V331h-1V333h-1V332h-1V330h-1V332h-1V331h-1V331h-1V330h-1V332h-1V331h-1V334h-1Z" fill="#88b3da"/>
<path transform="translate(328.8 0)scale(3.128 1)" d="M0 327V277h1V301h1V312h1V307h1V304h1V305h1V302h1V303h1V298h1V294h1V280h1V272h1V267h1V263h1V264h1V259h1V261h1V274h1V294h1V310h1V307h1V303h1V302h1V305h1V307h1V312h1V314h1V314h1V316h1V319h1V321h1V321h-1V323h-1V326h-1V325h-1V325h-1V326h-1V325h-1V326h-1V326h-1V326h-1V325h-1V325h-1V326h-1V325h-1V326h-1V326h-1V327h-1V326h-1V326h-1V326h-1V326h-1V325h-1V325h-1V326h-1V326h-1V326h-1V327h-1V326h-1V325h-1V326h-1V327h-1Z" fill="#cdb498"/>
<path transform="translate(328.8 0)scale(3.128 1)" d="M0 322V284h1V305h1V314h1V310h1V307h1V308h1V307h1V307h1V304h1V299h1V289h1V280h1V276h1V272h1V273h1V270h1V274h1V284h1V299h1V313h1V311h1V308h1V307h1V309h1V310h1V315h1V316h1V317h1V318h1V320h1V321h1V321h-1V321h-1V322h-1V322h-1V322h-1V322h-1V322h-1V322h-1V322h-1V322h-1V322h-1V322h-1V322h-1V322h-1V322h-1V322h-1V322h-1V322h-1V322h-1V322h-1V322h-1V322h-1V322h-1V322h-1V322h-1V322h-1V322h-1V322h-1V322h-1V322h-1V322h-1Z" fill="#b3cfd4"/>
<path d="M345.5 256.1V335M374.7 256.1V335M418.5 256.1V335M327.7 304.1H450.1M327.7 287.2H450.1" stroke="#bababa" stroke-width="1.1" fill="none"/>
<path d="M330.6 256.1V335M389 256.1V335M447.4 256.1V335" stroke="#ff0000" stroke-opacity="0.5" stroke-width="5" fill="none"/>
<path d="M353.8 321L364.3 319.9L371.8 318.9L377.6 320.3L381 321.6" fill="none" stroke="#f00" stroke-opacity="0.4" stroke-width="5" stroke-linejoin="round"/>
<g fill="#000" stroke="#000" stroke-linejoin="round"><path d="M330.9 292.2l0.5 0 0.8 23 1.6 4 1.6 2 1.6-2 1.6-2 1.6-2 1.6-1 1.6-1 1.6-1 1.6 1 1.6-2 1.6 2 1.6-2 1.6 0 1.6 0 1.6-2 1.6-1 1.6-2 1.6-4 1.6 0 1.6-4 1.6-5 1.6-4 1.6-3 1.6 3 1.6-7 1.6 4 1.6-1 1.6-4 1.6 4 1.6 4 1.6 6 1.6 2 1.6 8 1.6 10 1.6 4 1.6 0 1.6-3 1.6 1 1.6-2 1.6-2 1.6 2 1.6-1 1.6 0 1.6 2 1.6 1 1.6 1 1.6 0 1.6 2 1.6 1 1.6 0 1.6-1 1.6 0 1.6 0 1.6 1 1.6-1 1.6 1 1.3 0 27.1 0 0 0-27.1 0-1.3 1-1.6-1-1.6 1-1.6-1-1.6 0-1.6 1-1.6 0-1.6 0-1.6 0-1.6-1-1.6 1-1.6-1-1.6-1-1.6-2-1.6 1-1.6 0-1.6-2-1.6 1-1.6 3-1.6 0-1.6 1-1.6 0-1.6-2-1.6-9-1.6-3-1.6-4-1.6 0-1.6-3-1.6-1-1.6 0-1.6 3-1.6-7-1.6 3-1.6 0-1.6 2-1.6 4-1.6 3-1.6 3-1.6-2-1.6 3-1.6 0-1.6 2-1.6 2-1.6 0-1.6 0-1.6 4-1.6-3-1.6 2-1.6-1-1.6 1-1.6 1-1.6-1-1.6 1-1.6 1-1.6 1-1.6 0-1.6-1-0.8-25-0.5 0Z" stroke-width="8.4"/></g>
</g>
<path d="M321.9 251H455.9V339.9H321.9ZM327.7 256.1V335H450.1V256.1Z" fill="#ff0000" fill-rule="evenodd"/>
<path d="M306.3 253.4H321.9M306.3 321H321.9" stroke="#ff0000" stroke-width="4.8"/>
<path d="M314.2 304.1H321.9M314.2 287.2H321.9M314.2 270.3H321.9" stroke="#000" stroke-width="3"/>
<path d="M330.9 339.9V355.9M389.3 339.9V355.9M447.7 339.9V355.9" stroke="#ff0000" stroke-width="4.3"/>
<path d="M345.5 339.9V348.7M360.1 339.9V348.7M374.7 339.9V348.7M403.9 339.9V348.7M418.5 339.9V348.7M433.1 339.9V348.7" stroke="#000" stroke-width="2.9"/>
</g>
<g transform="translate(538.5,943.4)">
<g clip-path="url(#pc)">
<path transform="translate(328.8 0)scale(3.128 1)" d="M0 333V287h1V286h1V306h1V305h1V289h1V287h1V298h1V284h1V295h1V268h1V289h1V264h1V274h1V250h1V265h1V275h1V275h1V263h1V261h1V264h1V295h1V285h1V294h1V305h1V309h1V311h1V319h1V323h-1V328h-1V331h-1V331h-1V333h-1V332h-1V332h-1V331h-1V331h-1V332h-1V332h-1V330h-1V331h-1V331h-1V332h-1V334h-1V333h-1V330h-1V330h-1V332h-1V331h-1V329h-1V331h-1V329h-1V330h-1V332h-1V333h-1Z" fill="#88b3da"/>
<path transform="translate(328.8 0)scale(3.128 1)" d="M0 325V275h1V296h1V311h1V311h1V310h1V308h1V306h1V307h1V303h1V298h1V296h1V291h1V285h1V279h1V278h1V284h1V282h1V275h1V274h1V295h1V302h1V306h1V309h1V310h1V313h1V315h1V320h1V322h-1V324h-1V326h-1V326h-1V326h-1V325h-1V326h-1V327h-1V325h-1V327h-1V326h-1V327h-1V327h-1V326h-1V326h-1V326h-1V325h-1V326h-1V326h-1V325h-1V326h-1V325h-1V325h-1V325h-1V325h-1V326h-1V325h-1Z" fill="#cdb498"/>
<path transform="translate(328.8 0)scale(3.128 1)" d="M0 322V284h1V302h1V315h1V315h1V313h1V312h1V310h1V310h1V306h1V302h1V301h1V297h1V291h1V286h1V286h1V291h1V290h1V283h1V284h1V301h1V307h1V310h1V313h1V314h1V315h1V317h1V320h1V321h-1V322h-1V322h-1V322h-1V322h-1V322h-1V322h-1V322h-1V322h-1V322h-1V322h-1V322h-1V322h-1V322h-1V322h-1V322h-1V322h-1V322h-1V322h-1V322h-1V322h-1V322h-1V322h-1V322h-1V322h-1V322h-1V322h-1Z" fill="#b3cfd4"/>
<path d="M345.5 256.1V335M360.1 256.1V335M403.9 256.1V335M327.7 304.1H450.1M327.7 287.2H450.1" stroke="#bababa" stroke-width="1.1" fill="none"/>
<path d="M330.6 256.1V335M389 256.1V335M447.4 256.1V335" stroke="#ff0000" stroke-opacity="0.5" stroke-width="5" fill="none"/>
<path d="M361.3 321L371.8 319.9L379.3 318.9L385.1 320.3L388.5 321.6" fill="none" stroke="#f00" stroke-opacity="0.4" stroke-width="5" stroke-linejoin="round"/>
<g fill="#000" stroke="#000" stroke-linejoin="round"><path d="M330.9 293.1l0.5 0 0.8 22 1.6 4 1.6 1 1.6 0 1.6-1 1.6 1 1.6-1 1.6 0 1.6-3 1.6 0 1.6 0 1.6-1 1.6 1 1.6-2 1.6 1 1.6-1 1.6-2 1.6-4 1.6 0 1.6 0 1.6-4 1.6 2 1.6-5 1.6-1 1.6-1 1.6-2 1.6 3 1.6 0 1.6 2 1.6 1 1.6-1 1.6-1 1.6-3 1.6-5 1.6 5 1.6 10 1.6 4 1.6 0 1.6 1 1.6 1 1.6 2 1.6 0 1.6 1 1.6 0 1.6 0 1.6 2 1.6-1 1.6 1 1.6 1 1.6 1 1.6 0 0.5 0 37.5 0 0 0-37.5 0-0.5 1-1.6 0-1.6 0-1.6-1-1.6 0-1.6 1-1.6-1-1.6 1-1.6-1-1.6-1-1.6 1-1.6-3-1.6 1-1.6 0-1.6 0-1.6-3-1.6-11-1.6-4-1.6 7-1.6 2-1.6-1-1.6 1-1.6 0-1.6 0-1.6-1-1.6-1-1.6 0-1.6-1-1.6 2-1.6 7-1.6-3-1.6 1-1.6 0-1.6 2-1.6 2-1.6 2-1.6 0-1.6-2-1.6 4-1.6-1-1.6 0-1.6 0-1.6 0-1.6 1-1.6 0-1.6 0-1.6 0-1.6 0-1.6 0-1.6 0-1.6-2-0.8-24-0.5 0Z" stroke-width="8.4"/></g>
</g>
<path d="M321.9 251H455.9V339.9H321.9ZM327.7 256.1V335H450.1V256.1Z" fill="#ff0000" fill-rule="evenodd"/>
<path d="M306.3 253.4H321.9M306.3 321H321.9" stroke="#ff0000" stroke-width="4.8"/>
<path d="M314.2 304.1H321.9M314.2 287.2H321.9M314.2 270.3H321.9" stroke="#000" stroke-width="3"/>
<path d="M330.9 339.9V355.9M389.3 339.9V355.9M447.7 339.9V355.9" stroke="#ff0000" stroke-width="4.3"/>
<path d="M345.5 339.9V348.7M360.1 339.9V348.7M374.7 339.9V348.7M403.9 339.9V348.7M418.5 339.9V348.7M433.1 339.9V348.7" stroke="#000" stroke-width="2.9"/>
</g>
<g transform="translate(718,943.4)">
<g clip-path="url(#pc)">
<path transform="translate(328.8 0)scale(3.128 1)" d="M0 335V290h1V290h1V298h1V300h1V293h1V304h1V303h1V300h1V292h1V288h1V265h1V275h1V250h1V253h1V253h1V251h1V262h1V268h1V279h1V268h1V282h1V300h1V291h1V306h1V293h1V311h1V312h1V314h1V320h1V322h-1V327h-1V331h-1V331h-1V328h-1V330h-1V330h-1V331h-1V332h-1V331h-1V331h-1V335h-1V336h-1V332h-1V334h-1V334h-1V333h-1V333h-1V330h-1V331h-1V331h-1V333h-1V331h-1V330h-1V330h-1V332h-1V331h-1V334h-1V335h-1Z" fill="#88b3da"/>
<path transform="translate(328.8 0)scale(3.128 1)" d="M0 327V275h1V297h1V312h1V312h1V312h1V310h1V309h1V307h1V301h1V296h1V293h1V288h1V280h1V271h1V267h1V268h1V275h1V280h1V288h1V292h1V302h1V306h1V308h1V311h1V313h1V314h1V315h1V316h1V320h1V321h-1V324h-1V326h-1V325h-1V326h-1V326h-1V327h-1V326h-1V327h-1V326h-1V326h-1V327h-1V326h-1V327h-1V327h-1V326h-1V326h-1V325h-1V325h-1V325h-1V326h-1V325h-1V327h-1V326h-1V326h-1V325h-1V325h-1V325h-1V327h-1Z" fill="#cdb498"/>
<path transform="translate(328.8 0)scale(3.128 1)" d="M0 322V286h1V303h1V316h1V315h1V314h1V313h1V313h1V311h1V306h1V301h1V298h1V294h1V288h1V279h1V274h1V275h1V283h1V289h1V294h1V300h1V306h1V310h1V311h1V315h1V315h1V316h1V317h1V318h1V321h1V321h-1V322h-1V322h-1V322h-1V322h-1V322h-1V322h-1V322h-1V322h-1V322h-1V322h-1V322h-1V322h-1V322h-1V322h-1V322h-1V322h-1V322h-1V322h-1V322h-1V322h-1V322h-1V322h-1V322h-1V322h-1V322h-1V322h-1V322h-1V322h-1Z" fill="#b3cfd4"/>
<path d="M360.1 256.1V335M374.7 256.1V335M403.9 256.1V335M433.1 256.1V335M327.7 304.1H450.1M327.7 287.2H450.1" stroke="#bababa" stroke-width="1.1" fill="none"/>
<path d="M330.6 256.1V335M389 256.1V335M447.4 256.1V335" stroke="#ff0000" stroke-opacity="0.5" stroke-width="5" fill="none"/>
<path d="M353.4 321L363.9 319.9L371.4 318.9L377.2 320.3L380.5 321.6" fill="none" stroke="#f00" stroke-opacity="0.4" stroke-width="5" stroke-linejoin="round"/>
<g fill="#000" stroke="#000" stroke-linejoin="round"><path d="M330.9 295.2l0.5 0 0.8 21 1.6 3 1.6 1 1.6 0 1.6 0 1.6-2 1.6 1 1.6 0 1.6-2 1.6 1 1.6-1 1.6-1 1.6 1 1.6-1 1.6 0 1.6-3 1.6-3 1.6-1 1.6-1 1.6 0 1.6-2 1.6-4 1.6-3 1.6 0 1.6-4 1.6 1 1.6-3 1.6-6 1.6 2 1.6 1 1.6 6 1.6 1 1.6 2 1.6 1 1.6 5 1.6 1 1.6 3 1.6 2 1.6 2 1.6 1 1.6 1 1.6 2 1.6 0 1.6 0 1.6 1 1.6 0 1.6 1 1.6 0 1.6 0 1.6 0 1.6 2 1.6-1 1.6 0 1.6 2 1.5-1 31.7 0 0 0-31.7 0-1.5 1-1.6 0-1.6-1-1.6 1-1.6-1-1.6 0-1.6 0-1.6 0-1.6 1-1.6 0-1.6-1-1.6 0-1.6 1-1.6-2-1.6-2-1.6 1-1.6-2-1.6 0-1.6-4-1.6 0-1.6-5-1.6 0-1.6 0-1.6-3-1.6-4-1.6 3-1.6-5-1.6 4-1.6 1-1.6 0-1.6 3-1.6 1-1.6 3-1.6 2-1.6 4-1.6-2-1.6 0-1.6 3-1.6 1-1.6 1-1.6 0-1.6 0-1.6 1-1.6-1-1.6 2-1.6 0-1.6 0-1.6 0-1.6 0-1.6 0-1.6 0-1.6 0-1.6 0-1.6-4-0.8-19-0.5 0Z" stroke-width="8.4"/></g>
</g>
<path d="M321.9 251H455.9V339.9H321.9ZM327.7 256.1V335H450.1V256.1Z" fill="#ff0000" fill-rule="evenodd"/>
<path d="M306.3 253.4H321.9M306.3 321H321.9" stroke="#ff0000" stroke-width="4.8"/>
<path d="M314.2 304.1H321.9M314.2 287.2H321.9M314.2 270.3H321.9" stroke="#000" stroke-width="3"/>
<path d="M330.9 339.9V355.9M389.3 339.9V355.9M447.7 339.9V355.9" stroke="#ff0000" stroke-width="4.3"/>
<path d="M345.5 339.9V348.7M360.1 339.9V348.7M374.7 339.9V348.7M403.9 339.9V348.7M418.5 339.9V348.7M433.1 339.9V348.7" stroke="#000" stroke-width="2.9"/>
</g>
<g transform="translate(897.5,943.4)">
<g clip-path="url(#pc)">
<path transform="translate(328.8 0)scale(3.128 1)" d="M0 331V291h1V291h1V311h1V310h1V292h1V306h1V302h1V289h1V296h1V286h1V265h1V250h1V250h1V250h1V254h1V250h1V250h1V262h1V259h1V267h1V267h1V295h1V296h1V299h1V305h1V311h1V316h1V323h-1V328h-1V329h-1V332h-1V332h-1V331h-1V332h-1V336h-1V335h-1V332h-1V335h-1V332h-1V332h-1V334h-1V334h-1V331h-1V331h-1V330h-1V330h-1V331h-1V333h-1V332h-1V331h-1V330h-1V330h-1V330h-1V331h-1Z" fill="#88b3da"/>
<path transform="translate(328.8 0)scale(3.128 1)" d="M0 325V279h1V301h1V314h1V314h1V312h1V311h1V308h1V307h1V302h1V295h1V295h1V289h1V286h1V281h1V270h1V264h1V263h1V279h1V277h1V278h1V298h1V303h1V304h1V306h1V309h1V314h1V319h1V322h-1V326h-1V326h-1V326h-1V326h-1V325h-1V325h-1V327h-1V325h-1V326h-1V325h-1V326h-1V325h-1V325h-1V325h-1V326h-1V326h-1V325h-1V327h-1V326h-1V326h-1V325h-1V326h-1V325h-1V325h-1V325h-1V325h-1Z" fill="#cdb498"/>
<path transform="translate(328.8 0)scale(3.128 1)" d="M0 322V285h1V305h1V316h1V316h1V315h1V314h1V312h1V310h1V305h1V300h1V298h1V295h1V291h1V289h1V280h1V274h1V275h1V287h1V287h1V285h1V303h1V308h1V309h1V310h1V313h1V316h1V319h1V321h-1V322h-1V322h-1V322h-1V322h-1V322h-1V322h-1V322h-1V322h-1V322h-1V322h-1V322h-1V322h-1V322h-1V322h-1V322h-1V322h-1V322h-1V322h-1V322h-1V322h-1V322h-1V322h-1V322h-1V322h-1V322h-1V322h-1Z" fill="#b3cfd4"/>
<path d="M345.5 256.1V335M360.1 256.1V335M374.7 256.1V335M403.9 256.1V335M418.5 256.1V335M327.7 304.1H450.1M327.7 287.2H450.1" stroke="#bababa" stroke-width="1.1" fill="none"/>
<path d="M330.6 256.1V335M389 256.1V335M447.4 256.1V335" stroke="#ff0000" stroke-opacity="0.5" stroke-width="5" fill="none"/>
<path d="M356.3 321L366.8 319.9L374.3 318.9L380.1 320.3L383.5 321.6" fill="none" stroke="#f00" stroke-opacity="0.4" stroke-width="5" stroke-linejoin="round"/>
<g fill="#000" stroke="#000" stroke-linejoin="round"><path d="M330.9 295.2l0.5 0 0.8 20 1.6 4 1.6 2 1.6-1 1.6-1 1.6 0 1.6-1 1.6 0 1.6 0 1.6 0 1.6-2 1.6 1 1.6 1 1.6-3 1.6 0 1.6-4 1.6 1 1.6-4 1.6 1 1.6-3 1.6-3 1.6 1 1.6-1 1.6-2 1.6-4 1.6 1 1.6-3 1.6-1 1.6-5 1.6 1 1.6 0 1.6 7 1.6 9 1.6-4 1.6-1 1.6-5 1.6 6 1.6 6 1.6 3 1.6 3 1.6-1 1.6 0 1.6 2 1.6 1 1.6-1 1.6 3 1.6 1 1.6 1 1.6-1 1.6 1 1.6 1 0.9 0 37.1 0 0 0-37.1 0-0.9 1-1.6 0-1.6-1-1.6 1-1.6 0-1.6 0-1.6-3-1.6 1-1.6 0-1.6-3-1.6 0-1.6 3-1.6-5-1.6-2-1.6-5-1.6-1-1.6 5-1.6-1-1.6 4-1.6-6-1.6-5-1.6 0-1.6-3-1.6 6-1.6-2-1.6 5-1.6-3-1.6 1-1.6 3-1.6 2-1.6-4-1.6 5-1.6 1-1.6 0-1.6 1-1.6-1-1.6 5-1.6-2-1.6 4-1.6 0-1.6-1-1.6 1-1.6-1-1.6 0-1.6 0-1.6 0-1.6 0-1.6 1-1.6 0-1.6 0-1.6-1-0.8-22-0.5 0Z" stroke-width="8.4"/></g>
</g>
<path d="M321.9 251H455.9V339.9H321.9ZM327.7 256.1V335H450.1V256.1Z" fill="#ff0000" fill-rule="evenodd"/>
<path d="M306.3 253.4H321.9M306.3 321H321.9" stroke="#ff0000" stroke-width="4.8"/>
<path d="M314.2 304.1H321.9M314.2 287.2H321.9M314.2 270.3H321.9" stroke="#000" stroke-width="3"/>
<path d="M330.9 339.9V355.9M389.3 339.9V355.9M447.7 339.9V355.9" stroke="#ff0000" stroke-width="4.3"/>
<path d="M345.5 339.9V348.7M360.1 339.9V348.7M374.7 339.9V348.7M403.9 339.9V348.7M418.5 339.9V348.7M433.1 339.9V348.7" stroke="#000" stroke-width="2.9"/>
</g>
<g transform="translate(1077,943.4)">
<g clip-path="url(#pc)">
<path transform="translate(328.8 0)scale(3.128 1)" d="M0 337V291h1V290h1V306h1V304h1V283h1V288h1V294h1V278h1V288h1V281h1V250h1V250h1V250h1V252h1V250h1V257h1V250h1V252h1V281h1V271h1V271h1V287h1V287h1V303h1V291h1V309h1V310h1V317h1V323h-1V330h-1V331h-1V330h-1V332h-1V332h-1V331h-1V333h-1V333h-1V333h-1V333h-1V333h-1V337h-1V338h-1V337h-1V335h-1V331h-1V331h-1V333h-1V333h-1V332h-1V332h-1V332h-1V331h-1V330h-1V332h-1V333h-1V337h-1Z" fill="#88b3da"/>
<path transform="translate(328.8 0)scale(3.128 1)" d="M0 325V284h1V300h1V312h1V309h1V306h1V302h1V302h1V301h1V296h1V290h1V289h1V283h1V276h1V269h1V263h1V269h1V278h1V286h1V291h1V298h1V302h1V307h1V307h1V309h1V311h1V313h1V314h1V319h1V323h-1V325h-1V325h-1V325h-1V326h-1V327h-1V327h-1V325h-1V325h-1V326h-1V325h-1V325h-1V325h-1V326h-1V326h-1V326h-1V325h-1V325h-1V325h-1V326h-1V325h-1V325h-1V326h-1V325h-1V325h-1V325h-1V325h-1V325h-1Z" fill="#cdb498"/>
<path transform="translate(328.8 0)scale(3.128 1)" d="M0 322V289h1V304h1V314h1V312h1V309h1V306h1V306h1V305h1V302h1V297h1V295h1V290h1V282h1V277h1V272h1V279h1V285h1V293h1V298h1V304h1V307h1V310h1V310h1V313h1V314h1V315h1V316h1V319h1V321h-1V322h-1V322h-1V322h-1V322h-1V322h-1V322h-1V322h-1V322h-1V322h-1V322h-1V322h-1V322h-1V322h-1V322h-1V322h-1V322h-1V322h-1V322h-1V322h-1V322h-1V322h-1V322h-1V322h-1V322h-1V322h-1V322h-1V322h-1Z" fill="#b3cfd4"/>
<path d="M360.1 256.1V335M418.5 256.1V335M433.1 256.1V335M327.7 304.1H450.1M327.7 287.2H450.1" stroke="#bababa" stroke-width="1.1" fill="none"/>
<path d="M330.6 256.1V335M389 256.1V335M447.4 256.1V335" stroke="#ff0000" stroke-opacity="0.5" stroke-width="5" fill="none"/>
<path d="M350.5 321L360.9 319.9L368.4 318.9L374.3 320.3L377.6 321.6" fill="none" stroke="#f00" stroke-opacity="0.4" stroke-width="5" stroke-linejoin="round"/>
<g fill="#000" stroke="#000" stroke-linejoin="round"><path d="M330.9 294.1l0.5 0 0.8 21 1.6 4 1.6 2 1.6-1 1.6-1 1.6-2 1.6-2 1.6-1 1.6 0 1.6 0 1.6 0 1.6-3 1.6 2 1.6-3 1.6 1 1.6-1 1.6-2 1.6 0 1.6-2 1.6-3 1.6-3 1.6 1 1.6-3 1.6-2 1.6-4 1.6-3 1.6 0 1.6 3 1.6 1 1.6 2 1.6 5 1.6 2 1.6 2 1.6 2 1.6 2 1.6 0 1.6 2 1.6 4 1.6-1 1.6 3 1.6-2 1.6 1 1.6 0 1.6 1 1.6 0 1.6 3 1.6 0 1.6 0 1.6 2 1.6-1 1.6 0 1.6 0 1.6 1 1 0 33.8 0 0 0-33.8 0-1 1-1.6 0-1.6 0-1.6 0-1.6 0-1.6 0-1.6 0-1.6-1-1.6-2-1.6 0-1.6 0-1.6 1-1.6-1-1.6 2-1.6-4-1.6 3-1.6-6-1.6 0-1.6 0-1.6 0-1.6 1-1.6-5-1.6 2-1.6-4-1.6-1-1.6 0-1.6-4-1.6-4-1.6 4-1.6 1-1.6 0-1.6 3-1.6 0-1.6 6-1.6 2-1.6 2-1.6-2-1.6 1-1.6 3-1.6-2-1.6 0-1.6-1-1.6 4-1.6-2-1.6 0-1.6-1-1.6 2-1.6 3-1.6 0-1.6-1-1.6 1-1.6 0-1.6-3-0.8-22-0.5 0Z" stroke-width="8.4"/></g>
</g>
<path d="M321.9 251H455.9V339.9H321.9ZM327.7 256.1V335H450.1V256.1Z" fill="#ff0000" fill-rule="evenodd"/>
<path d="M306.3 253.4H321.9M306.3 321H321.9" stroke="#ff0000" stroke-width="4.8"/>
<path d="M314.2 304.1H321.9M314.2 287.2H321.9M314.2 270.3H321.9" stroke="#000" stroke-width="3"/>
<path d="M330.9 339.9V355.9M389.3 339.9V355.9M447.7 339.9V355.9" stroke="#ff0000" stroke-width="4.3"/>
<path d="M345.5 339.9V348.7M360.1 339.9V348.7M374.7 339.9V348.7M403.9 339.9V348.7M418.5 339.9V348.7M433.1 339.9V348.7" stroke="#000" stroke-width="2.9"/>
</g>
<g transform="translate(1256.5,943.4)">
<g clip-path="url(#pc)">
<path transform="translate(328.8 0)scale(3.128 1)" d="M0 333V289h1V287h1V308h1V299h1V306h1V303h1V301h1V299h1V296h1V297h1V295h1V292h1V283h1V280h1V278h1V252h1V265h1V282h1V281h1V273h1V250h1V284h1V275h1V298h1V298h1V287h1V304h1V297h1V298h1V310h1V306h1V318h1V322h-1V328h-1V330h-1V332h-1V331h-1V331h-1V332h-1V331h-1V330h-1V331h-1V334h-1V335h-1V332h-1V334h-1V332h-1V334h-1V332h-1V331h-1V331h-1V334h-1V332h-1V331h-1V330h-1V333h-1V333h-1V332h-1V330h-1V331h-1V328h-1V330h-1V334h-1V333h-1Z" fill="#88b3da"/>
<path transform="translate(328.8 0)scale(3.128 1)" d="M0 325V281h1V299h1V314h1V313h1V312h1V310h1V308h1V306h1V304h1V302h1V302h1V298h1V292h1V290h1V287h1V286h1V286h1V289h1V290h1V283h1V281h1V293h1V300h1V305h1V305h1V309h1V309h1V311h1V313h1V314h1V316h1V320h1V322h-1V325h-1V326h-1V325h-1V325h-1V326h-1V325h-1V326h-1V326h-1V326h-1V325h-1V326h-1V325h-1V325h-1V325h-1V327h-1V326h-1V326h-1V326h-1V326h-1V326h-1V327h-1V326h-1V325h-1V325h-1V325h-1V326h-1V325h-1V325h-1V325h-1V325h-1V325h-1Z" fill="#cdb498"/>
<path transform="translate(328.8 0)scale(3.128 1)" d="M0 322V286h1V303h1V316h1V316h1V315h1V313h1V311h1V309h1V308h1V307h1V305h1V303h1V298h1V295h1V293h1V292h1V294h1V295h1V294h1V291h1V291h1V300h1V305h1V308h1V308h1V312h1V312h1V313h1V315h1V316h1V318h1V321h1V321h-1V322h-1V322h-1V322h-1V322h-1V322h-1V322h-1V322h-1V322h-1V322h-1V322h-1V322h-1V322h-1V322h-1V322h-1V322h-1V322h-1V322h-1V322h-1V322h-1V322h-1V322h-1V322h-1V322h-1V322h-1V322h-1V322h-1V322h-1V322h-1V322h-1V322h-1V322h-1Z" fill="#b3cfd4"/>
<path d="M345.5 256.1V335M360.1 256.1V335M374.7 256.1V335M403.9 256.1V335M433.1 256.1V335M327.7 304.1H450.1M327.7 287.2H450.1" stroke="#bababa" stroke-width="1.1" fill="none"/>
<path d="M330.6 256.1V335M389 256.1V335M447.4 256.1V335" stroke="#ff0000" stroke-opacity="0.5" stroke-width="5" fill="none"/>
<path d="M368.4 321L378.9 319.9L386.4 318.9L392.2 320.3L395.6 321.6" fill="none" stroke="#f00" stroke-opacity="0.4" stroke-width="5" stroke-linejoin="round"/>
<g fill="#000" stroke="#000" stroke-linejoin="round"><path d="M330.9 293.1l0.5 0 0.8 22 1.6 4 1.6 2 1.6-2 1.6 1 1.6-2 1.6 0 1.6 1 1.6-1 1.6 0 1.6-1 1.6-1 1.6 0 1.6 0 1.6 1 1.6-2 1.6-1 1.6 0 1.6-2 1.6-1 1.6-1 1.6 0 1.6-3 1.6 0 1.6-1 1.6-1 1.6-3 1.6-1 1.6 1 1.6 0 1.6 3 1.6 1 1.6 1 1.6-3 1.6 0 1.6-4 1.6 3 1.6-3 1.6 4 1.6 2 1.6 2 1.6 1 1.6 3 1.6 0 1.6 2 1.6 1 1.6 0 1.6 1 1.6 1 1.6 1 1.6-1 1.6 2 1.6-1 1.6 0 1.6 2 1.6-1 1.6 1 1.6 0 1.6 1 1.6 0 1.5 0 22.1 0 0 0-22.1 0-1.5 1-1.6 0-1.6-1-1.6 1-1.6 0-1.6-1-1.6 1-1.6-1-1.6 1-1.6 0-1.6-1-1.6 0-1.6-1-1.6 0-1.6 0-1.6-2-1.6 0-1.6-1-1.6-3-1.6 0-1.6-1-1.6-2-1.6 1-1.6 0-1.6-4-1.6 6-1.6-1-1.6 2-1.6-4-1.6-1-1.6-1-1.6 1-1.6 1-1.6-2-1.6 2-1.6 2-1.6-1-1.6 2-1.6 3-1.6-1-1.6 2-1.6 0-1.6 2-1.6 0-1.6-1-1.6 2-1.6 0-1.6-2-1.6 0-1.6 0-1.6 2-1.6 1-1.6 0-1.6 0-1.6 0-1.6 0-1.6-1-1.6 1-1.6 0-1.6-2-0.8-24-0.5 0Z" stroke-width="8.4"/></g>
</g>
<path d="M321.9 251H455.9V339.9H321.9ZM327.7 256.1V335H450.1V256.1Z" fill="#ff0000" fill-rule="evenodd"/>
<path d="M306.3 253.4H321.9M306.3 321H321.9" stroke="#ff0000" stroke-width="4.8"/>
<path d="M314.2 304.1H321.9M314.2 287.2H321.9M314.2 270.3H321.9" stroke="#000" stroke-width="3"/>
<path d="M330.9 339.9V355.9M389.3 339.9V355.9M447.7 339.9V355.9" stroke="#ff0000" stroke-width="4.3"/>
<path d="M345.5 339.9V348.7M360.1 339.9V348.7M374.7 339.9V348.7M403.9 339.9V348.7M418.5 339.9V348.7M433.1 339.9V348.7" stroke="#000" stroke-width="2.9"/>
</g>
<g transform="translate(1436,943.4)">
<g clip-path="url(#pc)">
<path transform="translate(328.8 0)scale(3.128 1)" d="M0 336V290h1V290h1V304h1V300h1V291h1V292h1V301h1V301h1V300h1V297h1V282h1V262h1V281h1V268h1V256h1V250h1V254h1V250h1V275h1V279h1V291h1V305h1V302h1V302h1V302h1V307h1V315h1V321h1V321h-1V326h-1V329h-1V332h-1V331h-1V331h-1V333h-1V331h-1V334h-1V334h-1V335h-1V333h-1V332h-1V335h-1V331h-1V332h-1V331h-1V334h-1V332h-1V333h-1V331h-1V331h-1V330h-1V329h-1V331h-1V331h-1V332h-1V336h-1Z" fill="#88b3da"/>
<path transform="translate(328.8 0)scale(3.128 1)" d="M0 327V281h1V300h1V315h1V313h1V310h1V309h1V308h1V307h1V306h1V304h1V302h1V293h1V290h1V280h1V269h1V266h1V270h1V274h1V286h1V288h1V297h1V308h1V307h1V308h1V308h1V312h1V318h1V321h1V321h-1V323h-1V325h-1V325h-1V325h-1V325h-1V325h-1V325h-1V325h-1V325h-1V326h-1V325h-1V325h-1V326h-1V326h-1V326h-1V326h-1V326h-1V326h-1V325h-1V327h-1V326h-1V325h-1V325h-1V325h-1V326h-1V326h-1V327h-1Z" fill="#cdb498"/>
<path transform="translate(328.8 0)scale(3.128 1)" d="M0 322V286h1V303h1V317h1V316h1V313h1V313h1V313h1V311h1V310h1V308h1V305h1V298h1V296h1V289h1V281h1V275h1V279h1V284h1V293h1V296h1V303h1V312h1V311h1V311h1V312h1V314h1V319h1V321h1V321h-1V322h-1V322h-1V322h-1V322h-1V322h-1V322h-1V322h-1V322h-1V322h-1V322h-1V322h-1V322h-1V322h-1V322h-1V322h-1V322h-1V322h-1V322h-1V322h-1V322h-1V322h-1V322h-1V322h-1V322h-1V322h-1V322h-1V322h-1Z" fill="#b3cfd4"/>
<path d="M345.5 256.1V335M374.7 256.1V335M418.5 256.1V335M433.1 256.1V335M327.7 304.1H450.1M327.7 287.2H450.1" stroke="#bababa" stroke-width="1.1" fill="none"/>
<path d="M330.6 256.1V335M389 256.1V335M447.4 256.1V335" stroke="#ff0000" stroke-opacity="0.5" stroke-width="5" fill="none"/>
<path d="M356.8 321L367.2 319.9L374.7 318.9L380.5 320.3L383.9 321.6" fill="none" stroke="#f00" stroke-opacity="0.4" stroke-width="5" stroke-linejoin="round"/>
<g fill="#000" stroke="#000" stroke-linejoin="round"><path d="M330.9 294.1l0.5 0 0.8 21 1.6 5 1.6 1 1.6 1 1.6-1 1.6 0 1.6-1 1.6-1 1.6 0 1.6 0 1.6-1 1.6-1 1.6 1 1.6-1 1.6-2 1.6-1 1.6 0 1.6-2 1.6-2 1.6 2 1.6-2 1.6-3 1.6-2 1.6 0 1.6-1 1.6-3 1.6 0 1.6-4 1.6-4 1.6-1 1.6-2 1.6 4 1.6 4 1.6 3 1.6 0 1.6 0 1.6 3 1.6 7 1.6 4 1.6 0 1.6 2 1.6 0 1.6 0 1.6 1 1.6-1 1.6-1 1.6 2 1.6 2 1.6 1 1.6 0 1.6-1 1.6 1 0.5 0 35.9 0 0 0-35.9 0-0.5 0-1.6 1-1.6 0-1.6 0-1.6 0-1.6-1-1.6-2-1.6 2-1.6 0-1.6 1-1.6 0-1.6 0-1.6-3-1.6 2-1.6-4-1.6-4-1.6-4-1.6 0-1.6 1-1.6 0-1.6-1-1.6-3-1.6 1-1.6-5-1.6 7-1.6 4-1.6 0-1.6 1-1.6-2-1.6-1-1.6 1-1.6 4-1.6 1-1.6 1-1.6 1-1.6 1-1.6-1-1.6 1-1.6 1-1.6 0-1.6 0-1.6 0-1.6 1-1.6 0-1.6 0-1.6-1-1.6 1-1.6 0-1.6 0-1.6 0-1.6 0-1.6-3-0.8-22-0.5 0Z" stroke-width="8.4"/></g>
</g>
<path d="M321.9 251H455.9V339.9H321.9ZM327.7 256.1V335H450.1V256.1Z" fill="#ff0000" fill-rule="evenodd"/>
<path d="M306.3 253.4H321.9M306.3 321H321.9" stroke="#ff0000" stroke-width="4.8"/>
<path d="M314.2 304.1H321.9M314.2 287.2H321.9M314.2 270.3H321.9" stroke="#000" stroke-width="3"/>
<path d="M330.9 339.9V355.9M389.3 339.9V355.9M447.7 339.9V355.9" stroke="#ff0000" stroke-width="4.3"/>
<path d="M345.5 339.9V348.7M360.1 339.9V348.7M374.7 339.9V348.7M403.9 339.9V348.7M418.5 339.9V348.7M433.1 339.9V348.7" stroke="#000" stroke-width="2.9"/>
</g>
<g transform="translate(1615.5,943.4)">
<g clip-path="url(#pc)">
<path transform="translate(328.8 0)scale(3.128 1)" d="M0 336V286h1V287h1V291h1V304h1V300h1V301h1V299h1V296h1V276h1V279h1V272h1V278h1V257h1V272h1V250h1V250h1V255h1V266h1V267h1V250h1V250h1V288h1V292h1V281h1V287h1V285h1V304h1V305h1V294h1V316h1V321h1V321h-1V325h-1V332h-1V332h-1V331h-1V330h-1V331h-1V330h-1V331h-1V334h-1V335h-1V334h-1V331h-1V333h-1V335h-1V332h-1V331h-1V332h-1V331h-1V334h-1V333h-1V332h-1V333h-1V332h-1V330h-1V330h-1V333h-1V333h-1V331h-1V332h-1V336h-1Z" fill="#88b3da"/>
<path transform="translate(328.8 0)scale(3.128 1)" d="M0 325V273h1V299h1V311h1V310h1V307h1V306h1V304h1V301h1V299h1V299h1V297h1V290h1V286h1V284h1V276h1V272h1V270h1V278h1V280h1V277h1V282h1V296h1V299h1V303h1V306h1V309h1V310h1V310h1V312h1V318h1V321h1V321h-1V323h-1V326h-1V326h-1V327h-1V327h-1V326h-1V326h-1V326h-1V325h-1V327h-1V326h-1V325h-1V325h-1V325h-1V325h-1V325h-1V325h-1V326h-1V325h-1V326h-1V327h-1V326h-1V326h-1V326h-1V326h-1V325h-1V326h-1V326h-1V326h-1V325h-1Z" fill="#cdb498"/>
<path transform="translate(328.8 0)scale(3.128 1)" d="M0 322V284h1V304h1V314h1V313h1V311h1V309h1V307h1V306h1V304h1V303h1V302h1V297h1V294h1V291h1V286h1V283h1V279h1V287h1V288h1V285h1V289h1V301h1V303h1V306h1V309h1V311h1V313h1V314h1V316h1V319h1V321h1V321h-1V322h-1V322h-1V322h-1V322h-1V322h-1V322h-1V322h-1V322h-1V322h-1V322h-1V322h-1V322h-1V322h-1V322h-1V322h-1V322h-1V322h-1V322h-1V322h-1V322h-1V322h-1V322h-1V322h-1V322h-1V322h-1V322h-1V322h-1V322h-1V322h-1V322h-1Z" fill="#b3cfd4"/>
<path d="M360.1 256.1V335M403.9 256.1V335M433.1 256.1V335M327.7 304.1H450.1M327.7 287.2H450.1" stroke="#bababa" stroke-width="1.1" fill="none"/>
<path d="M330.6 256.1V335M389 256.1V335M447.4 256.1V335" stroke="#ff0000" stroke-opacity="0.5" stroke-width="5" fill="none"/>
<path d="M356.8 321L367.2 319.9L374.7 318.9L380.5 320.3L383.9 321.6" fill="none" stroke="#f00" stroke-opacity="0.4" stroke-width="5" stroke-linejoin="round"/>
<g fill="#000" stroke="#000" stroke-linejoin="round"><path d="M330.9 292.6l0.5 0 0.8 22 1.6 3 1.6-1 1.6 0 1.6-1 1.6 1 1.6-1 1.6 0 1.6 0 1.6-2 1.6 0 1.6 0 1.6-1 1.6 0 1.6 0 1.6 0 1.6-2 1.6 0 1.6-2 1.6 0 1.6-4 1.6-1 1.6-2 1.6 0 1.6-2 1.6 0 1.6-1 1.6 0 1.6-3 1.6-3 1.6-4 1.6 5 1.6 5 1.6 3 1.6-2 1.6-6 1.6 0 1.6 5 1.6 4 1.6 6 1.6 0 1.6 1 1.6 3 1.6 1 1.6-1 1.6 0 1.6 2 1.6 1 1.6 1 1.6-1 1.6 3 1.6-1 1.6 1 1.6 1 1.6 0 1.6 1 1.6-1 1.6 1 0.1 0 26.7 0 0 0-26.7 0-0.1 1-1.6-1-1.6 1-1.6 0-1.6-1-1.6 1-1.6-1-1.6 1-1.6-3-1.6 1-1.6 0-1.6 0-1.6-1-1.6-2-1.6 3-1.6-2-1.6-1-1.6 0-1.6-3-1.6-3-1.6-1-1.6-3-1.6-4-1.6 4-1.6 4-1.6-4-1.6-4-1.6 1-1.6 2-1.6-1-1.6 6-1.6-1-1.6-3-1.6-1-1.6 3-1.6-1-1.6 2-1.6 2-1.6 2-1.6 1-1.6 2-1.6 0-1.6 1-1.6 0-1.6 2-1.6-2-1.6 0-1.6 1-1.6-1-1.6 2-1.6 0-1.6 0-1.6 2-1.6-1-1.6 0-1.6 0-1.6 1-1.6-3-0.8-23-0.5 0Z" stroke-width="8.4"/></g>
</g>
<path d="M321.9 251H455.9V339.9H321.9ZM327.7 256.1V335H450.1V256.1Z" fill="#ff0000" fill-rule="evenodd"/>
<path d="M306.3 253.4H321.9M306.3 321H321.9" stroke="#ff0000" stroke-width="4.8"/>
<path d="M314.2 304.1H321.9M314.2 287.2H321.9M314.2 270.3H321.9" stroke="#000" stroke-width="3"/>
<path d="M330.9 339.9V355.9M389.3 339.9V355.9M447.7 339.9V355.9" stroke="#ff0000" stroke-width="4.3"/>
<path d="M345.5 339.9V348.7M360.1 339.9V348.7M374.7 339.9V348.7M403.9 339.9V348.7M418.5 339.9V348.7M433.1 339.9V348.7" stroke="#000" stroke-width="2.9"/>
</g>
<g transform="translate(1795,943.4)">
<g clip-path="url(#pc)">
<path transform="translate(328.8 0)scale(3.128 1)" d="M0 334V286h1V287h1V294h1V302h1V288h1V299h1V286h1V284h1V294h1V289h1V282h1V253h1V272h1V271h1V250h1V262h1V264h1V251h1V253h1V276h1V286h1V288h1V294h1V297h1V302h1V287h1V302h1V291h1V307h1V309h1V314h1V321h1V321h-1V326h-1V330h-1V329h-1V330h-1V331h-1V332h-1V332h-1V330h-1V332h-1V333h-1V331h-1V334h-1V335h-1V332h-1V333h-1V335h-1V334h-1V333h-1V333h-1V331h-1V331h-1V333h-1V332h-1V332h-1V329h-1V329h-1V330h-1V332h-1V332h-1V334h-1V334h-1Z" fill="#88b3da"/>
<path transform="translate(328.8 0)scale(3.128 1)" d="M0 326V270h1V297h1V309h1V307h1V307h1V305h1V307h1V307h1V302h1V296h1V291h1V289h1V282h1V282h1V273h1V276h1V276h1V280h1V281h1V285h1V294h1V295h1V301h1V305h1V307h1V306h1V307h1V311h1V313h1V314h1V317h1V321h1V321h-1V323h-1V326h-1V326h-1V326h-1V325h-1V326h-1V326h-1V325h-1V326h-1V326h-1V325h-1V325h-1V325h-1V324h-1V324h-1V325h-1V325h-1V326h-1V325h-1V327h-1V326h-1V327h-1V326h-1V326h-1V325h-1V326h-1V325h-1V326h-1V326h-1V325h-1V326h-1Z" fill="#cdb498"/>
<path transform="translate(328.8 0)scale(3.128 1)" d="M0 322V278h1V301h1V312h1V310h1V310h1V309h1V311h1V310h1V307h1V302h1V297h1V295h1V292h1V290h1V282h1V282h1V281h1V287h1V287h1V291h1V298h1V300h1V306h1V308h1V310h1V310h1V310h1V313h1V315h1V317h1V318h1V321h1V321h-1V322h-1V322h-1V322h-1V322h-1V322h-1V322h-1V322h-1V322h-1V322h-1V322h-1V322h-1V322h-1V322h-1V322h-1V322h-1V322h-1V322h-1V322h-1V322h-1V322h-1V322h-1V322h-1V322h-1V322h-1V322h-1V322h-1V322h-1V322h-1V322h-1V322h-1V322h-1Z" fill="#b3cfd4"/>
<path d="M345.5 256.1V335M374.7 256.1V335M403.9 256.1V335M418.5 256.1V335M327.7 304.1H450.1M327.7 287.2H450.1" stroke="#bababa" stroke-width="1.1" fill="none"/>
<path d="M330.6 256.1V335M389 256.1V335M447.4 256.1V335" stroke="#ff0000" stroke-opacity="0.5" stroke-width="5" fill="none"/>
<path d="M355.9 321L366.4 319.9L373.9 318.9L379.7 320.3L383 321.6" fill="none" stroke="#f00" stroke-opacity="0.4" stroke-width="5" stroke-linejoin="round"/>
<g fill="#000" stroke="#000" stroke-linejoin="round"><path d="M330.9 292.2l0.5 0 0.8 23 1.6 3 1.6 0 1.6-2 1.6 1 1.6-1 1.6 1 1.6-1 1.6-1 1.6 0 1.6 0 1.6 1 1.6 0 1.6 0 1.6 0 1.6-4 1.6 0 1.6-4 1.6 1 1.6-3 1.6-1 1.6-1 1.6 0 1.6-2 1.6-1 1.6-2 1.6-2 1.6-2 1.6 1 1.6-3 1.6 1 1.6-1 1.6 3 1.6 1 1.6 4 1.6 2 1.6 1 1.6 3 1.6 1 1.6-1 1.6 2 1.6 2 1.6 3 1.6-1 1.6 1 1.6 1 1.6 2 1.6 0 1.6-1 1.6 2 1.6 0 1.6 1 1.6 0 1.6 1 1.6 1 1.6 0 1.6 0 1.6-1 1.6 2 1.6-2 0.7 1 22.9 0 0 0-22.9 0-0.7 1-1.6 0-1.6 0-1.6 0-1.6 0-1.6 0-1.6 0-1.6 0-1.6 0-1.6-1-1.6 1-1.6-1-1.6 0-1.6 0-1.6-1-1.6-2-1.6-2-1.6 2-1.6 0-1.6-3-1.6-2-1.6 2-1.6 1-1.6-1-1.6 0-1.6-2-1.6-4-1.6-1-1.6-3-1.6-2-1.6 5-1.6 1-1.6-3-1.6 0-1.6 0-1.6 3-1.6 2-1.6 1-1.6 1-1.6-2-1.6 1-1.6 2-1.6 1-1.6 4-1.6-1-1.6 3-1.6 0-1.6 0-1.6-1-1.6-1-1.6 0-1.6 2-1.6-1-1.6 1-1.6-2-1.6 2-1.6-1-1.6 2-1.6-2-1.6-2-0.8-22-0.5 0Z" stroke-width="8.4"/></g>
</g>
<path d="M321.9 251H455.9V339.9H321.9ZM327.7 256.1V335H450.1V256.1Z" fill="#ff0000" fill-rule="evenodd"/>
<path d="M306.3 253.4H321.9M306.3 321H321.9" stroke="#ff0000" stroke-width="4.8"/>
<path d="M314.2 304.1H321.9M314.2 287.2H321.9M314.2 270.3H321.9" stroke="#000" stroke-width="3"/>
<path d="M330.9 339.9V355.9M389.3 339.9V355.9M447.7 339.9V355.9" stroke="#ff0000" stroke-width="4.3"/>
<path d="M345.5 339.9V348.7M360.1 339.9V348.7M374.7 339.9V348.7M403.9 339.9V348.7M418.5 339.9V348.7M433.1 339.9V348.7" stroke="#000" stroke-width="2.9"/>
</g>
<g transform="translate(0,1061.3)">
<g clip-path="url(#pc)">
<path transform="translate(328.8 0)scale(3.128 1)" d="M0 334V287h1V286h1V296h1V302h1V291h1V299h1V295h1V291h1V284h1V255h1V276h1V250h1V250h1V250h1V270h1V270h1V269h1V250h1V260h1V294h1V281h1V291h1V307h1V310h1V299h1V304h1V313h1V314h1V319h1V322h-1V328h-1V331h-1V331h-1V332h-1V330h-1V329h-1V331h-1V328h-1V329h-1V330h-1V331h-1V334h-1V332h-1V332h-1V333h-1V336h-1V331h-1V331h-1V330h-1V330h-1V331h-1V331h-1V332h-1V333h-1V332h-1V330h-1V332h-1V334h-1Z" fill="#88b3da"/>
<path transform="translate(328.8 0)scale(3.128 1)" d="M0 326V274h1V294h1V310h1V308h1V306h1V305h1V303h1V299h1V294h1V287h1V288h1V282h1V282h1V282h1V282h1V283h1V282h1V283h1V290h1V300h1V305h1V308h1V311h1V313h1V313h1V315h1V315h1V317h1V320h1V321h-1V324h-1V326h-1V326h-1V326h-1V326h-1V325h-1V326h-1V325h-1V325h-1V325h-1V325h-1V326h-1V326h-1V325h-1V326h-1V325h-1V325h-1V326h-1V326h-1V325h-1V326h-1V325h-1V325h-1V325h-1V326h-1V325h-1V327h-1V326h-1Z" fill="#cdb498"/>
<path transform="translate(328.8 0)scale(3.128 1)" d="M0 322V283h1V302h1V313h1V313h1V310h1V309h1V308h1V303h1V300h1V295h1V295h1V292h1V290h1V290h1V290h1V291h1V288h1V289h1V295h1V305h1V310h1V311h1V313h1V315h1V316h1V317h1V317h1V319h1V321h1V321h-1V322h-1V322h-1V322h-1V322h-1V322h-1V322h-1V322h-1V322h-1V322h-1V322h-1V322h-1V322h-1V322h-1V322h-1V322h-1V322h-1V322h-1V322h-1V322h-1V322h-1V322h-1V322h-1V322h-1V322h-1V322h-1V322h-1V322h-1V322h-1Z" fill="#b3cfd4"/>
<path d="M345.5 256.1V335M374.7 256.1V335M418.5 256.1V335M433.1 256.1V335M327.7 304.1H450.1M327.7 287.2H450.1M327.7 270.3H450.1" stroke="#bababa" stroke-width="1.1" fill="none"/>
<path d="M330.6 256.1V335M389 256.1V335M447.4 256.1V335" stroke="#ff0000" stroke-opacity="0.5" stroke-width="5" fill="none"/>
<path d="M360.1 321L370.5 319.9L378 318.9L383.9 320.3L387.2 321.6" fill="none" stroke="#f00" stroke-opacity="0.4" stroke-width="5" stroke-linejoin="round"/>
<g fill="#000" stroke="#000" stroke-linejoin="round"><path d="M330.9 292.8l0.5 0 0.8 22 1.6 3 1.6 1 1.6-1 1.6-1 1.6-1 1.6-1 1.6 1 1.6 0 1.6 0 1.6-2 1.6 0 1.6 1 1.6-2 1.6-3 1.6 1 1.6-5 1.6-1 1.6 0 1.6-3 1.6-1 1.6-1 1.6 1 1.6-1 1.6-2 1.6 1 1.6 0 1.6 1 1.6 2 1.6-3 1.6 0 1.6-3 1.6 2 1.6 4 1.6 3 1.6 5 1.6 5 1.6 0 1.6 0 1.6 0 1.6 2 1.6 0 1.6 1 1.6 0 1.6 0 1.6 1 1.6 0 1.6 2 1.6-1 1.6 0 1.6 2 1.6-1 1.6-1 1.6 2 1.5-1 31.7 0 0 0-31.7 0-1.5 1-1.6-1-1.6 1-1.6 0-1.6 0-1.6 0-1.6-1-1.6 1-1.6-1-1.6 0-1.6 0-1.6 0-1.6 0-1.6 1-1.6-1-1.6 0-1.6-1-1.6 0-1.6-5-1.6-1-1.6-2-1.6-2-1.6-6-1.6 3-1.6 2-1.6 4-1.6-6-1.6 0-1.6 2-1.6-1-1.6 0-1.6 3-1.6-4-1.6 0-1.6 1-1.6 3-1.6 0-1.6 2-1.6 4-1.6 1-1.6 0-1.6 3-1.6-2-1.6-1-1.6 3-1.6-1-1.6 0-1.6-1-1.6 2-1.6 0-1.6 1-1.6 0-1.6 0-1.6-3-0.8-23-0.5 0Z" stroke-width="8.4"/></g>
</g>
<path d="M321.9 251H455.9V339.9H321.9ZM327.7 256.1V335H450.1V256.1Z" fill="#ff0000" fill-rule="evenodd"/>
<path d="M306.3 253.4H321.9M306.3 321H321.9" stroke="#ff0000" stroke-width="4.8"/>
<path d="M314.2 304.1H321.9M314.2 287.2H321.9M314.2 270.3H321.9" stroke="#000" stroke-width="3"/>
<path d="M330.9 339.9V355.9M389.3 339.9V355.9M447.7 339.9V355.9" stroke="#ff0000" stroke-width="4.3"/>
<path d="M345.5 339.9V348.7M360.1 339.9V348.7M374.7 339.9V348.7M403.9 339.9V348.7M418.5 339.9V348.7M433.1 339.9V348.7" stroke="#000" stroke-width="2.9"/>
</g>
<g transform="translate(179.5,1061.3)">
<g clip-path="url(#pc)">
<path transform="translate(328.8 0)scale(3.128 1)" d="M0 331V289h1V289h1V310h1V307h1V306h1V287h1V286h1V292h1V290h1V262h1V275h1V263h1V263h1V275h1V262h1V260h1V278h1V260h1V265h1V307h1V306h1V306h1V304h1V306h1V306h1V308h1V311h1V316h1V323h-1V330h-1V331h-1V330h-1V331h-1V331h-1V330h-1V331h-1V333h-1V334h-1V332h-1V332h-1V336h-1V334h-1V335h-1V331h-1V332h-1V331h-1V334h-1V334h-1V331h-1V331h-1V329h-1V331h-1V331h-1V329h-1V333h-1V331h-1Z" fill="#88b3da"/>
<path transform="translate(328.8 0)scale(3.128 1)" d="M0 326V283h1V301h1V314h1V312h1V312h1V309h1V307h1V301h1V298h1V291h1V287h1V280h1V279h1V285h1V297h1V290h1V288h1V287h1V297h1V312h1V310h1V310h1V308h1V310h1V311h1V312h1V315h1V319h1V322h-1V325h-1V325h-1V325h-1V325h-1V326h-1V326h-1V325h-1V325h-1V326h-1V326h-1V327h-1V326h-1V326h-1V326h-1V327h-1V326h-1V326h-1V325h-1V327h-1V326h-1V326h-1V326h-1V325h-1V325h-1V326h-1V326h-1V326h-1Z" fill="#cdb498"/>
<path transform="translate(328.8 0)scale(3.128 1)" d="M0 322V286h1V304h1V316h1V315h1V315h1V312h1V311h1V306h1V303h1V299h1V295h1V287h1V286h1V291h1V301h1V297h1V294h1V293h1V302h1V314h1V313h1V314h1V313h1V313h1V314h1V316h1V317h1V320h1V321h-1V322h-1V322h-1V322h-1V322h-1V322h-1V322h-1V322h-1V322h-1V322h-1V322h-1V322h-1V322h-1V322h-1V322h-1V322h-1V322h-1V322h-1V322h-1V322h-1V322h-1V322h-1V322h-1V322h-1V322h-1V322h-1V322h-1V322h-1Z" fill="#b3cfd4"/>
<path d="M360.1 256.1V335M403.9 256.1V335M433.1 256.1V335M327.7 304.1H450.1M327.7 287.2H450.1M327.7 270.3H450.1" stroke="#bababa" stroke-width="1.1" fill="none"/>
<path d="M330.6 256.1V335M389 256.1V335M447.4 256.1V335" stroke="#ff0000" stroke-opacity="0.5" stroke-width="5" fill="none"/>
<path d="M344.2 321L354.7 319.9L362.2 318.9L368 320.3L371.4 321.6" fill="none" stroke="#f00" stroke-opacity="0.4" stroke-width="5" stroke-linejoin="round"/>
<g fill="#000" stroke="#000" stroke-linejoin="round"><path d="M330.9 292.8l0.5 0 0.8 22 1.6 4 1.6 2 1.6-2 1.6 1 1.6-2 1.6 1 1.6 0 1.6-1 1.6 0 1.6 0 1.6-1 1.6-1 1.6-4 1.6 1 1.6-1 1.6-2 1.6-4 1.6 1 1.6-5 1.6-2 1.6 1 1.6-2 1.6 1 1.6 2 1.6 3 1.6 4 1.6-2 1.6 0 1.6-1 1.6-5 1.6 2 1.6 3 1.6 4 1.6 3 1.6 5 1.6 1 1.6-2 1.6 1 1.6 0 1.6-1 1.6 0 1.6 2 1.6-1 1.6 0 1.6 1 1.6-1 1.6 2 1.6 0 1.6 0 1.6 1 1.6 0 1.6 1 0.6-1 34.2 0 0 0-34.2 0-0.6 1-1.6 0-1.6 0-1.6-1-1.6 1-1.6-1-1.6 1-1.6 0-1.6-1-1.6 1-1.6-1-1.6 1-1.6-1-1.6 1-1.6 0-1.6-1-1.6 1-1.6 0-1.6-3-1.6-3-1.6-1-1.6-5-1.6 1-1.6 5-1.6 0-1.6-1-1.6 2-1.6-5-1.6 0-1.6-5-1.6 1-1.6 1-1.6 0-1.6 2-1.6 4-1.6-1-1.6 1-1.6 3-1.6 1-1.6 0-1.6 2-1.6 1-1.6-1-1.6 0-1.6 1-1.6 0-1.6-1-1.6 1-1.6 0-1.6 0-1.6-1-1.6 1-1.6-4-0.8-22-0.5 0Z" stroke-width="8.4"/></g>
</g>
<path d="M321.9 251H455.9V339.9H321.9ZM327.7 256.1V335H450.1V256.1Z" fill="#ff0000" fill-rule="evenodd"/>
<path d="M306.3 253.4H321.9M306.3 321H321.9" stroke="#ff0000" stroke-width="4.8"/>
<path d="M314.2 304.1H321.9M314.2 287.2H321.9M314.2 270.3H321.9" stroke="#000" stroke-width="3"/>
<path d="M330.9 339.9V355.9M389.3 339.9V355.9M447.7 339.9V355.9" stroke="#ff0000" stroke-width="4.3"/>
<path d="M345.5 339.9V348.7M360.1 339.9V348.7M374.7 339.9V348.7M403.9 339.9V348.7M418.5 339.9V348.7M433.1 339.9V348.7" stroke="#000" stroke-width="2.9"/>
</g>
<g transform="translate(359,1061.3)">
<g clip-path="url(#pc)">
<path transform="translate(328.8 0)scale(3.128 1)" d="M0 334V290h1V289h1V303h1V299h1V300h1V299h1V297h1V270h1V287h1V251h1V278h1V268h1V261h1V266h1V250h1V272h1V261h1V287h1V292h1V294h1V300h1V286h1V306h1V306h1V308h1V295h1V307h1V311h1V307h1V313h1V321h1V321h-1V325h-1V331h-1V330h-1V332h-1V331h-1V332h-1V330h-1V331h-1V330h-1V333h-1V332h-1V331h-1V332h-1V330h-1V330h-1V332h-1V333h-1V332h-1V332h-1V334h-1V333h-1V332h-1V331h-1V333h-1V330h-1V332h-1V331h-1V329h-1V331h-1V334h-1Z" fill="#88b3da"/>
<path transform="translate(328.8 0)scale(3.128 1)" d="M0 325V280h1V297h1V308h1V304h1V306h1V304h1V302h1V301h1V295h1V291h1V288h1V282h1V276h1V278h1V281h1V284h1V290h1V294h1V299h1V302h1V306h1V308h1V309h1V309h1V311h1V311h1V311h1V314h1V316h1V319h1V321h1V321h-1V323h-1V326h-1V325h-1V326h-1V325h-1V326h-1V325h-1V326h-1V326h-1V325h-1V325h-1V325h-1V326h-1V325h-1V326h-1V325h-1V325h-1V326h-1V326h-1V326h-1V325h-1V325h-1V326h-1V326h-1V325h-1V325h-1V327h-1V326h-1V326h-1V325h-1Z" fill="#cdb498"/>
<path transform="translate(328.8 0)scale(3.128 1)" d="M0 322V286h1V301h1V311h1V308h1V310h1V309h1V308h1V306h1V300h1V296h1V293h1V290h1V285h1V288h1V290h1V291h1V296h1V299h1V304h1V306h1V309h1V311h1V313h1V313h1V314h1V315h1V314h1V317h1V318h1V320h1V321h1V321h-1V321h-1V322h-1V322h-1V322h-1V322h-1V322h-1V322h-1V322h-1V322h-1V322h-1V322h-1V322h-1V322h-1V322h-1V322h-1V322h-1V322h-1V322h-1V322h-1V322h-1V322h-1V322h-1V322h-1V322h-1V322h-1V322h-1V322h-1V322h-1V322h-1V322h-1Z" fill="#b3cfd4"/>
<path d="M345.5 256.1V335M374.7 256.1V335M418.5 256.1V335M327.7 304.1H450.1M327.7 287.2H450.1M327.7 270.3H450.1" stroke="#bababa" stroke-width="1.1" fill="none"/>
<path d="M330.6 256.1V335M389 256.1V335M447.4 256.1V335" stroke="#ff0000" stroke-opacity="0.5" stroke-width="5" fill="none"/>
<path d="M345.5 321L355.9 319.9L363.4 318.9L369.3 320.3L372.6 321.6" fill="none" stroke="#f00" stroke-opacity="0.4" stroke-width="5" stroke-linejoin="round"/>
<g fill="#000" stroke="#000" stroke-linejoin="round"><path d="M330.9 294.9l0.5 0 0.8 20 1.6 3 1.6 0 1.6-1 1.6-1 1.6 0 1.6 0 1.6 0 1.6 0 1.6-2 1.6 1 1.6-2 1.6-1 1.6-2 1.6-1 1.6-2 1.6 0 1.6 0 1.6-2 1.6 0 1.6-2 1.6-4 1.6-1 1.6 1 1.6-1 1.6 2 1.6 1 1.6 1 1.6-1 1.6 3 1.6-1 1.6 2 1.6 2 1.6 2 1.6 1 1.6 0 1.6 2 1.6 1 1.6 1 1.6 1 1.6 0 1.6 1 1.6 1 1.6 0 1.6 0 1.6 1 1.6 0 1.6 1 1.6-1 1.6 1 1.6 1 1.6 0 1.6 0 1.6 0 1.6 0 1.6 2 1.6-1 1.3 0 27.1 0 0 0-27.1 0-1.3 1-1.6 0-1.6-1-1.6 1-1.6 0-1.6 0-1.6 0-1.6 0-1.6 0-1.6 0-1.6-1-1.6-1-1.6 1-1.6-1-1.6 2-1.6-1-1.6 0-1.6-1-1.6-1-1.6 0-1.6-2-1.6-1-1.6 2-1.6-2-1.6-3-1.6 1-1.6-3-1.6 1-1.6-1-1.6 0-1.6 0-1.6 1-1.6-3-1.6 1-1.6-5-1.6 2-1.6 7-1.6-1-1.6 0-1.6 2-1.6-1-1.6-1-1.6 4-1.6-2-1.6 1-1.6 0-1.6 2-1.6 0-1.6 3-1.6-1-1.6-1-1.6 1-1.6 1-1.6 0-1.6 1-1.6 0-1.6-1-0.8-23-0.5 0Z" stroke-width="8.4"/></g>
</g>
<path d="M321.9 251H455.9V339.9H321.9ZM327.7 256.1V335H450.1V256.1Z" fill="#ff0000" fill-rule="evenodd"/>
<path d="M306.3 253.4H321.9M306.3 321H321.9" stroke="#ff0000" stroke-width="4.8"/>
<path d="M314.2 304.1H321.9M314.2 287.2H321.9M314.2 270.3H321.9" stroke="#000" stroke-width="3"/>
<path d="M330.9 339.9V355.9M389.3 339.9V355.9M447.7 339.9V355.9" stroke="#ff0000" stroke-width="4.3"/>
<path d="M345.5 339.9V348.7M360.1 339.9V348.7M374.7 339.9V348.7M403.9 339.9V348.7M418.5 339.9V348.7M433.1 339.9V348.7" stroke="#000" stroke-width="2.9"/>
</g>
<g transform="translate(538.5,1061.3)">
<g clip-path="url(#pc)">
<path transform="translate(328.8 0)scale(3.128 1)" d="M0 334V287h1V288h1V302h1V301h1V304h1V305h1V303h1V301h1V300h1V295h1V289h1V283h1V275h1V250h1V253h1V250h1V272h1V278h1V286h1V291h1V295h1V299h1V291h1V307h1V309h1V301h1V311h1V310h1V309h1V304h1V318h1V323h-1V331h-1V330h-1V332h-1V331h-1V332h-1V332h-1V332h-1V332h-1V331h-1V330h-1V333h-1V333h-1V331h-1V332h-1V333h-1V336h-1V332h-1V332h-1V334h-1V331h-1V333h-1V330h-1V330h-1V332h-1V330h-1V330h-1V329h-1V330h-1V333h-1V334h-1Z" fill="#88b3da"/>
<path transform="translate(328.8 0)scale(3.128 1)" d="M0 326V271h1V296h1V308h1V307h1V309h1V309h1V308h1V307h1V306h1V303h1V300h1V293h1V286h1V277h1V267h1V267h1V281h1V289h1V294h1V301h1V303h1V305h1V308h1V311h1V313h1V313h1V314h1V314h1V314h1V314h1V319h1V322h-1V325h-1V325h-1V327h-1V326h-1V327h-1V326h-1V326h-1V325h-1V325h-1V325h-1V326h-1V326h-1V325h-1V326h-1V326h-1V326h-1V326h-1V325h-1V325h-1V325h-1V325h-1V326h-1V327h-1V326h-1V325h-1V326h-1V326h-1V326h-1V325h-1V326h-1Z" fill="#cdb498"/>
<path transform="translate(328.8 0)scale(3.128 1)" d="M0 322V281h1V303h1V313h1V312h1V313h1V313h1V312h1V311h1V310h1V307h1V304h1V298h1V291h1V282h1V277h1V277h1V289h1V296h1V300h1V306h1V308h1V310h1V312h1V314h1V315h1V315h1V317h1V317h1V317h1V317h1V320h1V321h-1V322h-1V322h-1V322h-1V322h-1V322h-1V322h-1V322h-1V322h-1V322h-1V322h-1V322h-1V322h-1V322h-1V322h-1V322h-1V322h-1V322h-1V322h-1V322h-1V322h-1V322h-1V322h-1V322h-1V322h-1V322h-1V322h-1V322h-1V322h-1V322h-1V322h-1Z" fill="#b3cfd4"/>
<path d="M345.5 256.1V335M360.1 256.1V335M403.9 256.1V335M327.7 304.1H450.1M327.7 287.2H450.1M327.7 270.3H450.1" stroke="#bababa" stroke-width="1.1" fill="none"/>
<path d="M330.6 256.1V335M389 256.1V335M447.4 256.1V335" stroke="#ff0000" stroke-opacity="0.5" stroke-width="5" fill="none"/>
<path d="M352.2 321L362.6 319.9L370.1 318.9L375.9 320.3L379.3 321.6" fill="none" stroke="#f00" stroke-opacity="0.4" stroke-width="5" stroke-linejoin="round"/>
<g fill="#000" stroke="#000" stroke-linejoin="round"><path d="M330.9 294.9l0.5 0 0.8 20 1.6 3 1.6 1 1.6 0 1.6-2 1.6 1 1.6-1 1.6 1 1.6-1 1.6 0 1.6 0 1.6 0 1.6-1 1.6 0 1.6 0 1.6-1 1.6-2 1.6-1 1.6 0 1.6-3 1.6 0 1.6 0 1.6-7 1.6-1 1.6-5 1.6-4 1.6 2 1.6-3 1.6 4 1.6 1 1.6 2 1.6 6 1.6 3 1.6 0 1.6 3 1.6 2 1.6 1 1.6 2 1.6-1 1.6 1 1.6 1 1.6 0 1.6 2 1.6 0 1.6 1 1.6 1 1.6-1 1.6 1 1.6 0 1.6-1 1.6 2 1.6 0 1.6-1 1.6 1 1.6 0 1.6 1 1.6 0 1.6-2 1.6 1 0.6 0 24.6 0 0 0-24.6 0-0.6 1-1.6 0-1.6 0-1.6-1-1.6 1-1.6-1-1.6 0-1.6 1-1.6 0-1.6 0-1.6 0-1.6 0-1.6 0-1.6 0-1.6 0-1.6-1-1.6 0-1.6-2-1.6 1-1.6-1-1.6 0-1.6-1-1.6-1-1.6-2-1.6-1-1.6-1-1.6 1-1.6 0-1.6-6-1.6-2-1.6-2-1.6-3-1.6 5-1.6-2-1.6 2-1.6 7-1.6 0-1.6 4-1.6-3-1.6 0-1.6 3-1.6 0-1.6 2-1.6 1-1.6 1-1.6-1-1.6 1-1.6 0-1.6 1-1.6 0-1.6 0-1.6 0-1.6-1-1.6 0-1.6 0-1.6 1-1.6 0-1.6-1-1.6 0-0.8-23-0.5 0Z" stroke-width="8.4"/></g>
</g>
<path d="M321.9 251H455.9V339.9H321.9ZM327.7 256.1V335H450.1V256.1Z" fill="#ff0000" fill-rule="evenodd"/>
<path d="M306.3 253.4H321.9M306.3 321H321.9" stroke="#ff0000" stroke-width="4.8"/>
<path d="M314.2 304.1H321.9M314.2 287.2H321.9M314.2 270.3H321.9" stroke="#000" stroke-width="3"/>
<path d="M330.9 339.9V355.9M389.3 339.9V355.9M447.7 339.9V355.9" stroke="#ff0000" stroke-width="4.3"/>
<path d="M345.5 339.9V348.7M360.1 339.9V348.7M374.7 339.9V348.7M403.9 339.9V348.7M418.5 339.9V348.7M433.1 339.9V348.7" stroke="#000" stroke-width="2.9"/>
</g>
<g transform="translate(718,1061.3)">
<g clip-path="url(#pc)">
<path transform="translate(328.8 0)scale(3.128 1)" d="M0 338V289h1V287h1V299h1V302h1V299h1V301h1V281h1V287h1V290h1V283h1V273h1V266h1V253h1V250h1V274h1V250h1V274h1V280h1V271h1V298h1V302h1V294h1V302h1V293h1V308h1V297h1V308h1V308h1V320h1V322h-1V327h-1V329h-1V328h-1V330h-1V332h-1V332h-1V330h-1V330h-1V333h-1V334h-1V334h-1V333h-1V332h-1V330h-1V332h-1V334h-1V335h-1V334h-1V332h-1V331h-1V330h-1V333h-1V332h-1V334h-1V333h-1V329h-1V332h-1V338h-1Z" fill="#88b3da"/>
<path transform="translate(328.8 0)scale(3.128 1)" d="M0 324V279h1V298h1V311h1V308h1V304h1V307h1V306h1V306h1V298h1V293h1V283h1V278h1V269h1V274h1V282h1V286h1V287h1V291h1V297h1V304h1V308h1V307h1V308h1V311h1V313h1V314h1V314h1V316h1V320h1V321h-1V325h-1V326h-1V325h-1V325h-1V325h-1V326h-1V325h-1V326h-1V326h-1V326h-1V325h-1V327h-1V326h-1V326h-1V325h-1V326h-1V326h-1V325h-1V325h-1V325h-1V326h-1V326h-1V327h-1V326h-1V325h-1V325h-1V325h-1V324h-1Z" fill="#cdb498"/>
<path transform="translate(328.8 0)scale(3.128 1)" d="M0 322V283h1V303h1V314h1V311h1V308h1V309h1V310h1V309h1V303h1V298h1V289h1V285h1V277h1V282h1V288h1V292h1V293h1V296h1V303h1V309h1V311h1V310h1V311h1V313h1V315h1V315h1V316h1V318h1V321h1V321h-1V322h-1V322h-1V322h-1V322h-1V322h-1V322h-1V322h-1V322h-1V322h-1V322h-1V322h-1V322h-1V322h-1V322h-1V322h-1V322h-1V322h-1V322h-1V322h-1V322h-1V322h-1V322h-1V322h-1V322h-1V322h-1V322h-1V322h-1V322h-1Z" fill="#b3cfd4"/>
<path d="M360.1 256.1V335M374.7 256.1V335M403.9 256.1V335M433.1 256.1V335M327.7 304.1H450.1M327.7 287.2H450.1M327.7 270.3H450.1" stroke="#bababa" stroke-width="1.1" fill="none"/>
<path d="M330.6 256.1V335M389 256.1V335M447.4 256.1V335" stroke="#ff0000" stroke-opacity="0.5" stroke-width="5" fill="none"/>
<path d="M345.1 321L355.5 319.9L363 318.9L368.9 320.3L372.2 321.6" fill="none" stroke="#f00" stroke-opacity="0.4" stroke-width="5" stroke-linejoin="round"/>
<g fill="#000" stroke="#000" stroke-linejoin="round"><path d="M330.9 292.8l0.5 0 0.8 22 1.6 4 1.6 1 1.6-2 1.6 0 1.6-3 1.6-1 1.6 0 1.6 0 1.6 2 1.6-2 1.6 1 1.6 1 1.6 1 1.6-4 1.6-1 1.6-3 1.6-3 1.6-2 1.6-1 1.6-7 1.6-1 1.6-4 1.6 0 1.6 5 1.6 4 1.6 1 1.6 1 1.6 1 1.6-1 1.6-1 1.6 1 1.6 3 1.6 4 1.6 1 1.6 5 1.6 0 1.6 0 1.6 1 1.6 0 1.6 1 1.6 2 1.6-2 1.6 0 1.6 2 1.6-1 1.6 2 1.6-1 1.6 0 1.6 0 1.6 1 1.6 0 1.6 1 1.6 0 1.5 0 31.7 0 0 0-31.7 0-1.5 1-1.6 0-1.6 0-1.6 0-1.6 0-1.6-1-1.6 1-1.6 0-1.6 0-1.6 0-1.6 0-1.6 0-1.6 0-1.6-2-1.6 0-1.6 0-1.6 1-1.6-2-1.6 1-1.6-4-1.6-2-1.6-3-1.6 0-1.6 0-1.6 1-1.6-1-1.6-2-1.6 3-1.6-5-1.6 1-1.6-4-1.6 0-1.6 2-1.6 0-1.6 7-1.6-1-1.6 3-1.6 0-1.6 5-1.6-1-1.6 2-1.6-1-1.6 0-1.6 0-1.6 1-1.6-2-1.6 1-1.6 0-1.6-1-1.6 3-1.6-2-1.6 2-1.6 0-1.6-4-0.8-22-0.5 0Z" stroke-width="8.4"/></g>
</g>
<path d="M321.9 251H455.9V339.9H321.9ZM327.7 256.1V335H450.1V256.1Z" fill="#ff0000" fill-rule="evenodd"/>
<path d="M306.3 253.4H321.9M306.3 321H321.9" stroke="#ff0000" stroke-width="4.8"/>
<path d="M314.2 304.1H321.9M314.2 287.2H321.9M314.2 270.3H321.9" stroke="#000" stroke-width="3"/>
<path d="M330.9 339.9V355.9M389.3 339.9V355.9M447.7 339.9V355.9" stroke="#ff0000" stroke-width="4.3"/>
<path d="M345.5 339.9V348.7M360.1 339.9V348.7M374.7 339.9V348.7M403.9 339.9V348.7M418.5 339.9V348.7M433.1 339.9V348.7" stroke="#000" stroke-width="2.9"/>
</g>
<g transform="translate(897.5,1061.3)">
<g clip-path="url(#pc)">
<path transform="translate(328.8 0)scale(3.128 1)" d="M0 335V291h1V291h1V308h1V307h1V302h1V285h1V301h1V300h1V295h1V260h1V251h1V259h1V269h1V265h1V267h1V268h1V274h1V282h1V261h1V278h1V301h1V301h1V283h1V299h1V304h1V304h1V307h1V308h1V311h1V318h1V324h-1V330h-1V330h-1V332h-1V332h-1V331h-1V330h-1V331h-1V332h-1V332h-1V333h-1V333h-1V333h-1V335h-1V333h-1V334h-1V332h-1V334h-1V331h-1V332h-1V330h-1V330h-1V333h-1V333h-1V331h-1V333h-1V333h-1V333h-1V334h-1V335h-1Z" fill="#88b3da"/>
<path transform="translate(328.8 0)scale(3.128 1)" d="M0 326V284h1V302h1V312h1V310h1V307h1V307h1V307h1V304h1V300h1V295h1V292h1V287h1V283h1V278h1V278h1V279h1V282h1V290h1V292h1V301h1V305h1V306h1V306h1V306h1V309h1V311h1V313h1V314h1V315h1V319h1V322h-1V325h-1V326h-1V326h-1V326h-1V326h-1V326h-1V325h-1V325h-1V325h-1V325h-1V326h-1V326h-1V326h-1V325h-1V325h-1V327h-1V326h-1V325h-1V326h-1V326h-1V326h-1V325h-1V326h-1V325h-1V325h-1V326h-1V325h-1V326h-1V326h-1Z" fill="#cdb498"/>
<path transform="translate(328.8 0)scale(3.128 1)" d="M0 322V289h1V306h1V314h1V312h1V310h1V310h1V309h1V308h1V305h1V300h1V297h1V293h1V289h1V285h1V284h1V285h1V287h1V293h1V297h1V304h1V309h1V310h1V310h1V309h1V312h1V313h1V314h1V316h1V317h1V320h1V321h-1V322h-1V322h-1V322h-1V322h-1V322h-1V322h-1V322h-1V322h-1V322h-1V322h-1V322h-1V322h-1V322h-1V322h-1V322h-1V322h-1V322h-1V322h-1V322h-1V322h-1V322h-1V322h-1V322h-1V322h-1V322h-1V322h-1V322h-1V322h-1V322h-1Z" fill="#b3cfd4"/>
<path d="M345.5 256.1V335M360.1 256.1V335M374.7 256.1V335M403.9 256.1V335M418.5 256.1V335M327.7 304.1H450.1M327.7 287.2H450.1M327.7 270.3H450.1" stroke="#bababa" stroke-width="1.1" fill="none"/>
<path d="M330.6 256.1V335M389 256.1V335M447.4 256.1V335" stroke="#ff0000" stroke-opacity="0.5" stroke-width="5" fill="none"/>
<path d="M354.3 321L364.7 319.9L372.2 318.9L378 320.3L381.4 321.6" fill="none" stroke="#f00" stroke-opacity="0.4" stroke-width="5" stroke-linejoin="round"/>
<g fill="#000" stroke="#000" stroke-linejoin="round"><path d="M330.9 294.9l0.5 0 0.8 20 1.6 3 1.6 0 1.6-1 1.6-1 1.6 1 1.6 0 1.6 0 1.6-2 1.6 1 1.6-1 1.6-2 1.6 0 1.6-1 1.6-1 1.6 0 1.6-2 1.6-2 1.6-1 1.6-1 1.6 0 1.6-5 1.6-1 1.6-2 1.6 1 1.6-1 1.6 1 1.6-2 1.6-1 1.6 0 1.6 2 1.6 4 1.6 2 1.6 3 1.6 1 1.6 5 1.6 1 1.6 0 1.6 0 1.6 2 1.6-1 1.6 2 1.6 0 1.6-1 1.6 1 1.6 1 1.6 1 1.6 1 1.6-1 1.6 0 1.6 1 1.6 2 1.6 0 1.6 1 1.6-1 1.6 0 1.6 1 0.9-1 27.5 0 0 0-27.5 0-0.9 0-1.6 1-1.6 0-1.6 0-1.6 0-1.6 0-1.6 0-1.6 0-1.6 0-1.6 0-1.6 0-1.6-1-1.6-1-1.6-1-1.6 2-1.6-1-1.6-1-1.6 2-1.6-1-1.6-1-1.6 0-1.6-1-1.6-4-1.6-1-1.6-4-1.6 0-1.6-5-1.6-1-1.6 1-1.6 2-1.6 2-1.6-1-1.6 3-1.6-2-1.6 3-1.6 0-1.6 4-1.6-2-1.6-2-1.6 1-1.6 2-1.6 5-1.6-2-1.6-1-1.6 1-1.6 0-1.6 3-1.6 0-1.6-2-1.6 4-1.6-1-1.6 1-1.6-2-1.6 1-1.6 1-1.6 0-1.6-1-0.8-23-0.5 0Z" stroke-width="8.4"/></g>
</g>
<path d="M321.9 251H455.9V339.9H321.9ZM327.7 256.1V335H450.1V256.1Z" fill="#ff0000" fill-rule="evenodd"/>
<path d="M306.3 253.4H321.9M306.3 321H321.9" stroke="#ff0000" stroke-width="4.8"/>
<path d="M314.2 304.1H321.9M314.2 287.2H321.9M314.2 270.3H321.9" stroke="#000" stroke-width="3"/>
<path d="M330.9 339.9V355.9M389.3 339.9V355.9M447.7 339.9V355.9" stroke="#ff0000" stroke-width="4.3"/>
<path d="M345.5 339.9V348.7M360.1 339.9V348.7M374.7 339.9V348.7M403.9 339.9V348.7M418.5 339.9V348.7M433.1 339.9V348.7" stroke="#000" stroke-width="2.9"/>
</g>
<g transform="translate(1077,1061.3)">
<g clip-path="url(#pc)">
<path transform="translate(328.8 0)scale(3.128 1)" d="M0 337V286h1V286h1V298h1V294h1V308h1V307h1V301h1V287h1V297h1V291h1V284h1V276h1V268h1V250h1V250h1V250h1V266h1V281h1V288h1V293h1V297h1V302h1V303h1V307h1V306h1V294h1V312h1V314h1V323h-1V328h-1V331h-1V332h-1V331h-1V331h-1V332h-1V333h-1V334h-1V333h-1V331h-1V334h-1V336h-1V335h-1V337h-1V332h-1V334h-1V334h-1V331h-1V330h-1V332h-1V329h-1V331h-1V328h-1V329h-1V330h-1V332h-1V337h-1Z" fill="#88b3da"/>
<path transform="translate(328.8 0)scale(3.128 1)" d="M0 325V272h1V296h1V313h1V312h1V313h1V312h1V308h1V308h1V305h1V297h1V293h1V285h1V278h1V265h1V258h1V264h1V279h1V289h1V294h1V298h1V304h1V307h1V308h1V310h1V310h1V311h1V315h1V319h1V322h-1V326h-1V326h-1V325h-1V326h-1V326h-1V326h-1V325h-1V325h-1V326h-1V324h-1V325h-1V325h-1V326h-1V326h-1V325h-1V325h-1V325h-1V325h-1V325h-1V325h-1V326h-1V327h-1V326h-1V326h-1V327h-1V326h-1V325h-1Z" fill="#cdb498"/>
<path transform="translate(328.8 0)scale(3.128 1)" d="M0 322V278h1V301h1V315h1V314h1V315h1V314h1V312h1V311h1V307h1V301h1V297h1V291h1V284h1V276h1V270h1V273h1V285h1V295h1V300h1V303h1V308h1V310h1V312h1V313h1V314h1V314h1V317h1V320h1V321h-1V322h-1V322h-1V322h-1V322h-1V322h-1V322h-1V322h-1V322h-1V322h-1V322h-1V322h-1V322h-1V322h-1V322h-1V322h-1V322h-1V322h-1V322h-1V322h-1V322h-1V322h-1V322h-1V322h-1V322h-1V322h-1V322h-1V322h-1Z" fill="#b3cfd4"/>
<path d="M360.1 256.1V335M418.5 256.1V335M433.1 256.1V335M327.7 304.1H450.1M327.7 287.2H450.1M327.7 270.3H450.1" stroke="#bababa" stroke-width="1.1" fill="none"/>
<path d="M330.6 256.1V335M389 256.1V335M447.4 256.1V335" stroke="#ff0000" stroke-opacity="0.5" stroke-width="5" fill="none"/>
<path d="M351.3 321L361.8 319.9L369.3 318.9L375.1 320.3L378.4 321.6" fill="none" stroke="#f00" stroke-opacity="0.4" stroke-width="5" stroke-linejoin="round"/>
<g fill="#000" stroke="#000" stroke-linejoin="round"><path d="M330.9 292.8l0.5 0 0.8 22 1.6 4 1.6 1 1.6 0 1.6 0 1.6 0 1.6 0 1.6-1 1.6-1 1.6-1 1.6-1 1.6 1 1.6-2 1.6-1 1.6 1 1.6-1 1.6-4 1.6 1 1.6-3 1.6-5 1.6 1 1.6-4 1.6-2 1.6-4 1.6-2 1.6-2 1.6 0 1.6-2 1.6 1 1.6 6 1.6 5 1.6 1 1.6 3 1.6 3 1.6 2 1.6 0 1.6 2 1.6 4 1.6-1 1.6 2 1.6 0 1.6-1 1.6 3 1.6 0 1.6-1 1.6 1 1.6 2 1.6-2 1.6 2 1.6-1 1.6 1 1.6 2 1.6-2 1 1 33.8 0 0 0-33.8 0-1 1-1.6-1-1.6 1-1.6 0-1.6 0-1.6 0-1.6 0-1.6-1-1.6 0-1.6 1-1.6-1-1.6-1-1.6 1-1.6-1-1.6-2-1.6 1-1.6-3-1.6-2-1.6 1-1.6 0-1.6-3-1.6 0-1.6 0-1.6-3-1.6-9-1.6 0-1.6 3-1.6 2-1.6 2-1.6-2-1.6 3-1.6 0-1.6 2-1.6 3-1.6 2-1.6 3-1.6-2-1.6 4-1.6 0-1.6-1-1.6 0-1.6 2-1.6-2-1.6 1-1.6 2-1.6 0-1.6 0-1.6 0-1.6 0-1.6-1-1.6 1-1.6 0-1.6-1-0.8-25-0.5 0Z" stroke-width="8.4"/></g>
</g>
<path d="M321.9 251H455.9V339.9H321.9ZM327.7 256.1V335H450.1V256.1Z" fill="#ff0000" fill-rule="evenodd"/>
<path d="M306.3 253.4H321.9M306.3 321H321.9" stroke="#ff0000" stroke-width="4.8"/>
<path d="M314.2 304.1H321.9M314.2 287.2H321.9M314.2 270.3H321.9" stroke="#000" stroke-width="3"/>
<path d="M330.9 339.9V355.9M389.3 339.9V355.9M447.7 339.9V355.9" stroke="#ff0000" stroke-width="4.3"/>
<path d="M345.5 339.9V348.7M360.1 339.9V348.7M374.7 339.9V348.7M403.9 339.9V348.7M418.5 339.9V348.7M433.1 339.9V348.7" stroke="#000" stroke-width="2.9"/>
</g>
<g transform="translate(1256.5,1061.3)">
<g clip-path="url(#pc)">
<path transform="translate(328.8 0)scale(3.128 1)" d="M0 337V290h1V289h1V299h1V304h1V287h1V296h1V295h1V295h1V275h1V286h1V256h1V262h1V262h1V256h1V258h1V268h1V280h1V283h1V292h1V297h1V298h1V305h1V294h1V292h1V307h1V309h1V309h1V311h1V321h1V321h-1V326h-1V330h-1V330h-1V331h-1V332h-1V330h-1V329h-1V330h-1V331h-1V330h-1V332h-1V332h-1V332h-1V334h-1V334h-1V333h-1V336h-1V335h-1V334h-1V331h-1V331h-1V332h-1V330h-1V332h-1V333h-1V333h-1V335h-1V337h-1Z" fill="#88b3da"/>
<path transform="translate(328.8 0)scale(3.128 1)" d="M0 324V280h1V298h1V311h1V309h1V307h1V304h1V302h1V301h1V298h1V294h1V285h1V278h1V273h1V267h1V272h1V283h1V291h1V294h1V300h1V303h1V305h1V310h1V312h1V310h1V311h1V312h1V312h1V316h1V321h1V321h-1V323h-1V326h-1V325h-1V326h-1V327h-1V326h-1V325h-1V326h-1V326h-1V326h-1V325h-1V326h-1V325h-1V325h-1V325h-1V325h-1V326h-1V326h-1V325h-1V326h-1V325h-1V326h-1V326h-1V325h-1V326h-1V326h-1V326h-1V324h-1Z" fill="#cdb498"/>
<path transform="translate(328.8 0)scale(3.128 1)" d="M0 322V284h1V302h1V314h1V312h1V310h1V309h1V307h1V306h1V303h1V299h1V291h1V286h1V283h1V279h1V281h1V289h1V295h1V298h1V304h1V307h1V310h1V313h1V315h1V314h1V314h1V315h1V315h1V319h1V321h1V321h-1V321h-1V322h-1V322h-1V322h-1V322h-1V322h-1V322h-1V322h-1V322h-1V322h-1V322h-1V322h-1V322h-1V322h-1V322h-1V322h-1V322h-1V322h-1V322h-1V322h-1V322h-1V322h-1V322h-1V322h-1V322h-1V322h-1V322h-1V322h-1Z" fill="#b3cfd4"/>
<path d="M345.5 256.1V335M360.1 256.1V335M374.7 256.1V335M403.9 256.1V335M433.1 256.1V335M327.7 304.1H450.1M327.7 287.2H450.1M327.7 270.3H450.1" stroke="#bababa" stroke-width="1.1" fill="none"/>
<path d="M330.6 256.1V335M389 256.1V335M447.4 256.1V335" stroke="#ff0000" stroke-opacity="0.5" stroke-width="5" fill="none"/>
<path d="M346.3 321L356.8 319.9L364.3 318.9L370.1 320.3L373.4 321.6" fill="none" stroke="#f00" stroke-opacity="0.4" stroke-width="5" stroke-linejoin="round"/>
<g fill="#000" stroke="#000" stroke-linejoin="round"><path d="M330.9 294.9l0.5 0 0.8 20 1.6 4 1.6 1 1.6-2 1.6 0 1.6-1 1.6 0 1.6 0 1.6-1 1.6-2 1.6 1 1.6 0 1.6-2 1.6-1 1.6 0 1.6-4 1.6-1 1.6-2 1.6-2 1.6 1 1.6-5 1.6 0 1.6-2 1.6-6 1.6 5 1.6-1 1.6 2 1.6 4 1.6-1 1.6 3 1.6 2 1.6 1 1.6 1 1.6 3 1.6 0 1.6 5 1.6 0 1.6 0 1.6 1 1.6 0 1.6 1 1.6 2 1.6-1 1.6 0 1.6 1 1.6 0 1.6-1 1.6 1 1.6 1 1.6 0 1.6 0 1.6 1 1.6 0 1.6-1 0.7 1 32.5 0 0 0-32.5 0-0.7 1-1.6 0-1.6 0-1.6-1-1.6 1-1.6 0-1.6-1-1.6 1-1.6 0-1.6 0-1.6 0-1.6 0-1.6 0-1.6-3-1.6 1-1.6 1-1.6-1-1.6 1-1.6-1-1.6-4-1.6 0-1.6-1-1.6 0-1.6 0-1.6-2-1.6-5-1.6 3-1.6-3-1.6-4-1.6 5-1.6-7-1.6 7-1.6 3-1.6-2-1.6 4-1.6-4-1.6 3-1.6 0-1.6 3-1.6 1-1.6 1-1.6-1-1.6 2-1.6 1-1.6 0-1.6 1-1.6 1-1.6-1-1.6-1-1.6 2-1.6-1-1.6 1-1.6-1-1.6 0-0.8-23-0.5 0Z" stroke-width="8.4"/></g>
</g>
<path d="M321.9 251H455.9V339.9H321.9ZM327.7 256.1V335H450.1V256.1Z" fill="#ff0000" fill-rule="evenodd"/>
<path d="M306.3 253.4H321.9M306.3 321H321.9" stroke="#ff0000" stroke-width="4.8"/>
<path d="M314.2 304.1H321.9M314.2 287.2H321.9M314.2 270.3H321.9" stroke="#000" stroke-width="3"/>
<path d="M330.9 339.9V355.9M389.3 339.9V355.9M447.7 339.9V355.9" stroke="#ff0000" stroke-width="4.3"/>
<path d="M345.5 339.9V348.7M360.1 339.9V348.7M374.7 339.9V348.7M403.9 339.9V348.7M418.5 339.9V348.7M433.1 339.9V348.7" stroke="#000" stroke-width="2.9"/>
</g>
<g transform="translate(1436,1061.3)">
<g clip-path="url(#pc)">
<path transform="translate(328.8 0)scale(3.128 1)" d="M0 334V289h1V290h1V308h1V297h1V304h1V291h1V302h1V303h1V286h1V293h1V288h1V285h1V253h1V275h1V252h1V261h1V250h1V267h1V282h1V262h1V292h1V299h1V303h1V291h1V305h1V294h1V306h1V307h1V309h1V311h1V310h1V317h1V321h1V321h-1V324h-1V331h-1V329h-1V330h-1V328h-1V329h-1V331h-1V329h-1V331h-1V329h-1V331h-1V332h-1V330h-1V332h-1V332h-1V331h-1V331h-1V333h-1V334h-1V331h-1V331h-1V334h-1V332h-1V333h-1V330h-1V331h-1V331h-1V333h-1V333h-1V332h-1V331h-1V334h-1Z" fill="#88b3da"/>
<path transform="translate(328.8 0)scale(3.128 1)" d="M0 327V270h1V295h1V311h1V310h1V309h1V310h1V309h1V308h1V303h1V300h1V296h1V291h1V287h1V283h1V282h1V272h1V269h1V276h1V291h1V295h1V301h1V307h1V310h1V310h1V310h1V310h1V310h1V312h1V314h1V314h1V315h1V319h1V321h1V321h-1V323h-1V326h-1V325h-1V326h-1V326h-1V326h-1V325h-1V325h-1V326h-1V326h-1V326h-1V326h-1V326h-1V326h-1V326h-1V326h-1V325h-1V326h-1V326h-1V326h-1V326h-1V325h-1V326h-1V326h-1V327h-1V326h-1V327h-1V325h-1V325h-1V326h-1V326h-1V327h-1Z" fill="#cdb498"/>
<path transform="translate(328.8 0)scale(3.128 1)" d="M0 322V277h1V299h1V314h1V313h1V312h1V312h1V312h1V312h1V307h1V304h1V300h1V297h1V295h1V293h1V290h1V281h1V279h1V286h1V296h1V301h1V307h1V311h1V313h1V313h1V313h1V313h1V314h1V315h1V317h1V318h1V318h1V320h1V321h1V321h-1V321h-1V322h-1V322h-1V322h-1V322h-1V322h-1V322h-1V322h-1V322h-1V322h-1V322h-1V322h-1V322h-1V322h-1V322h-1V322h-1V322h-1V322h-1V322h-1V322h-1V322h-1V322h-1V322h-1V322h-1V322h-1V322h-1V322h-1V322h-1V322h-1V322h-1V322h-1V322h-1Z" fill="#b3cfd4"/>
<path d="M345.5 256.1V335M374.7 256.1V335M418.5 256.1V335M433.1 256.1V335M327.7 304.1H450.1M327.7 287.2H450.1M327.7 270.3H450.1" stroke="#bababa" stroke-width="1.1" fill="none"/>
<path d="M330.6 256.1V335M389 256.1V335M447.4 256.1V335" stroke="#ff0000" stroke-opacity="0.5" stroke-width="5" fill="none"/>
<path d="M358 321L368.4 319.9L375.9 318.9L381.8 320.3L385.1 321.6" fill="none" stroke="#f00" stroke-opacity="0.4" stroke-width="5" stroke-linejoin="round"/>
<g fill="#000" stroke="#000" stroke-linejoin="round"><path d="M330.9 297l0.5 0 0.8 18 1.6 4 1.6 2 1.6-1 1.6 0 1.6-1 1.6 0 1.6-2 1.6 1 1.6-1 1.6 0 1.6 0 1.6-1 1.6 0 1.6-1 1.6-1 1.6-1 1.6-2 1.6 1 1.6-3 1.6-1 1.6-1 1.6-2 1.6-2 1.6 2 1.6-4 1.6 0 1.6-1 1.6-1 1.6-2 1.6-4 1.6 2 1.6 5 1.6 5 1.6 1 1.6 2 1.6 2 1.6 1 1.6 2 1.6 1 1.6 2 1.6-1 1.6 3 1.6-2 1.6 0 1.6 3 1.6 0 1.6-1 1.6 0 1.6 0 1.6 1 1.6 2 1.6-1 1.6 1 1.6 0 1.6 0 1.6 0 1.6-1 1.6 1 1.6 1 1.6-1 1.1 0 20.9 0 0 0-20.9 0-1.1 1-1.6-1-1.6 1-1.6 0-1.6 0-1.6 0-1.6 0-1.6 0-1.6 0-1.6-1-1.6 1-1.6-1-1.6 1-1.6 0-1.6-1-1.6 1-1.6-1-1.6 0-1.6 1-1.6-2-1.6 1-1.6-4-1.6 3-1.6-2-1.6-1-1.6-2-1.6 0-1.6-2-1.6-4-1.6-5-1.6 4-1.6 2-1.6 1-1.6-3-1.6 3-1.6-1-1.6 2-1.6-2-1.6 2-1.6 1-1.6 2-1.6-1-1.6 3-1.6 1-1.6 1-1.6 0-1.6 1-1.6 0-1.6 1-1.6-1-1.6 1-1.6 0-1.6 1-1.6-1-1.6 1-1.6 0-1.6 0-1.6 0-1.6 0-1.6 0-1.6-2-0.8-20-0.5 0Z" stroke-width="8.4"/></g>
</g>
<path d="M321.9 251H455.9V339.9H321.9ZM327.7 256.1V335H450.1V256.1Z" fill="#ff0000" fill-rule="evenodd"/>
<path d="M306.3 253.4H321.9M306.3 321H321.9" stroke="#ff0000" stroke-width="4.8"/>
<path d="M314.2 304.1H321.9M314.2 287.2H321.9M314.2 270.3H321.9" stroke="#000" stroke-width="3"/>
<path d="M330.9 339.9V355.9M389.3 339.9V355.9M447.7 339.9V355.9" stroke="#ff0000" stroke-width="4.3"/>
<path d="M345.5 339.9V348.7M360.1 339.9V348.7M374.7 339.9V348.7M403.9 339.9V348.7M418.5 339.9V348.7M433.1 339.9V348.7" stroke="#000" stroke-width="2.9"/>
</g>
<g transform="translate(1615.5,1061.3)">
<g clip-path="url(#pc)">
<path transform="translate(328.8 0)scale(3.128 1)" d="M0 334V288h1V288h1V296h1V301h1V279h1V296h1V293h1V293h1V290h1V288h1V261h1V284h1V283h1V279h1V271h1V250h1V270h1V250h1V266h1V264h1V269h1V282h1V288h1V298h1V277h1V298h1V302h1V308h1V296h1V308h1V315h1V321h1V321h-1V327h-1V332h-1V331h-1V332h-1V332h-1V332h-1V331h-1V330h-1V332h-1V334h-1V335h-1V333h-1V333h-1V335h-1V335h-1V334h-1V334h-1V330h-1V331h-1V333h-1V334h-1V334h-1V331h-1V333h-1V332h-1V329h-1V330h-1V330h-1V332h-1V331h-1V334h-1Z" fill="#88b3da"/>
<path transform="translate(328.8 0)scale(3.128 1)" d="M0 325V273h1V297h1V310h1V307h1V305h1V303h1V300h1V299h1V299h1V297h1V292h1V291h1V290h1V286h1V282h1V281h1V283h1V285h1V279h1V277h1V279h1V290h1V304h1V305h1V302h1V304h1V308h1V313h1V314h1V313h1V317h1V321h1V321h-1V324h-1V325h-1V326h-1V326h-1V325h-1V326h-1V325h-1V325h-1V325h-1V326h-1V325h-1V325h-1V326h-1V325h-1V326h-1V326h-1V326h-1V325h-1V326h-1V326h-1V326h-1V325h-1V325h-1V325h-1V325h-1V325h-1V326h-1V325h-1V325h-1V325h-1V325h-1Z" fill="#cdb498"/>
<path transform="translate(328.8 0)scale(3.128 1)" d="M0 322V284h1V302h1V313h1V311h1V308h1V308h1V307h1V305h1V304h1V302h1V298h1V296h1V294h1V293h1V288h1V288h1V289h1V291h1V286h1V285h1V287h1V299h1V309h1V309h1V307h1V308h1V312h1V316h1V317h1V316h1V319h1V321h1V321h-1V322h-1V322h-1V322h-1V322h-1V322h-1V322h-1V322h-1V322h-1V322h-1V322h-1V322h-1V322h-1V322h-1V322h-1V322h-1V322h-1V322h-1V322h-1V322h-1V322h-1V322h-1V322h-1V322h-1V322h-1V322h-1V322h-1V322h-1V322h-1V322h-1V322h-1V322h-1Z" fill="#b3cfd4"/>
<path d="M360.1 256.1V335M403.9 256.1V335M433.1 256.1V335M327.7 304.1H450.1M327.7 287.2H450.1M327.7 270.3H450.1" stroke="#bababa" stroke-width="1.1" fill="none"/>
<path d="M330.6 256.1V335M389 256.1V335M447.4 256.1V335" stroke="#ff0000" stroke-opacity="0.5" stroke-width="5" fill="none"/>
<path d="M353.8 321L364.3 319.9L371.8 318.9L377.6 320.3L381 321.6" fill="none" stroke="#f00" stroke-opacity="0.4" stroke-width="5" stroke-linejoin="round"/>
<g fill="#000" stroke="#000" stroke-linejoin="round"><path d="M330.9 294.1l0.5 0 0.8 21 1.6 3 1.6 0 1.6 0 1.6-2 1.6 1 1.6-3 1.6-1 1.6 2 1.6-2 1.6 0 1.6 0 1.6-2 1.6 1 1.6 0 1.6 0 1.6-3 1.6-1 1.6 2 1.6-3 1.6 0 1.6-1 1.6 0 1.6-3 1.6-1 1.6-2 1.6-1 1.6-1 1.6-2 1.6 3 1.6 2 1.6-1 1.6 3 1.6-3 1.6 3 1.6-4 1.6 2 1.6-5 1.6 7 1.6 5 1.6 5 1.6 0 1.6 1 1.6-1 1.6 2 1.6-3 1.6 3 1.6 0 1.6 1 1.6 3 1.6 0 1.6 2 1.6-1 1.6 0 1.6 1 1.6 0 1.6-1 1.6 1 1.6 0 1.6 0 0.2 0 23.4 0 0 0-23.4 0-0.2 1-1.6-1-1.6 1-1.6 0-1.6 0-1.6-1-1.6 1-1.6 0-1.6 0-1.6-1-1.6 0-1.6-1-1.6 1-1.6 0-1.6-4-1.6 4-1.6-3-1.6 0-1.6-1-1.6 1-1.6-3-1.6-5-1.6-2-1.6 2-1.6-2-1.6 2-1.6-3-1.6 4-1.6-2-1.6 0-1.6-1-1.6-1-1.6 0-1.6 2-1.6 0-1.6 2-1.6-1-1.6 3-1.6-1-1.6 0-1.6 1-1.6 3-1.6-2-1.6 3-1.6 0-1.6 0-1.6 1-1.6-2-1.6 1-1.6 2-1.6 0-1.6 0-1.6-2-1.6 1-1.6 4-1.6-2-1.6 1-1.6 1-1.6-1-1.6-3-0.8-20-0.5 0Z" stroke-width="8.4"/></g>
</g>
<path d="M321.9 251H455.9V339.9H321.9ZM327.7 256.1V335H450.1V256.1Z" fill="#ff0000" fill-rule="evenodd"/>
<path d="M306.3 253.4H321.9M306.3 321H321.9" stroke="#ff0000" stroke-width="4.8"/>
<path d="M314.2 304.1H321.9M314.2 287.2H321.9M314.2 270.3H321.9" stroke="#000" stroke-width="3"/>
<path d="M330.9 339.9V355.9M389.3 339.9V355.9M447.7 339.9V355.9" stroke="#ff0000" stroke-width="4.3"/>
<path d="M345.5 339.9V348.7M360.1 339.9V348.7M374.7 339.9V348.7M403.9 339.9V348.7M418.5 339.9V348.7M433.1 339.9V348.7" stroke="#000" stroke-width="2.9"/>
</g>
<g transform="translate(1795,1061.3)">
<g clip-path="url(#pc)">
<path transform="translate(328.8 0)scale(3.128 1)" d="M0 333V287h1V286h1V302h1V300h1V296h1V296h1V294h1V293h1V289h1V270h1V263h1V275h1V273h1V283h1V277h1V251h1V265h1V250h1V257h1V267h1V267h1V290h1V298h1V302h1V305h1V305h1V305h1V309h1V303h1V318h1V324h-1V328h-1V330h-1V331h-1V332h-1V330h-1V330h-1V332h-1V330h-1V330h-1V333h-1V334h-1V332h-1V332h-1V334h-1V331h-1V333h-1V332h-1V331h-1V330h-1V332h-1V334h-1V332h-1V330h-1V330h-1V330h-1V330h-1V333h-1V333h-1V333h-1Z" fill="#88b3da"/>
<path transform="translate(328.8 0)scale(3.128 1)" d="M0 325V275h1V297h1V308h1V306h1V303h1V303h1V301h1V301h1V297h1V293h1V287h1V285h1V284h1V292h1V287h1V282h1V279h1V273h1V275h1V280h1V290h1V299h1V304h1V309h1V311h1V311h1V312h1V314h1V315h1V319h1V322h-1V326h-1V326h-1V325h-1V325h-1V326h-1V326h-1V326h-1V327h-1V327h-1V327h-1V325h-1V326h-1V327h-1V326h-1V325h-1V325h-1V326h-1V325h-1V326h-1V326h-1V325h-1V326h-1V326h-1V326h-1V326h-1V325h-1V326h-1V326h-1V325h-1Z" fill="#cdb498"/>
<path transform="translate(328.8 0)scale(3.128 1)" d="M0 322V284h1V302h1V311h1V310h1V308h1V307h1V307h1V305h1V302h1V299h1V294h1V292h1V290h1V296h1V294h1V289h1V286h1V281h1V283h1V289h1V296h1V304h1V308h1V311h1V313h1V314h1V315h1V316h1V317h1V320h1V321h-1V322h-1V322h-1V322h-1V322h-1V322h-1V322h-1V322h-1V322h-1V322h-1V322h-1V322h-1V322h-1V322h-1V322h-1V322h-1V322h-1V322h-1V322h-1V322h-1V322h-1V322h-1V322h-1V322h-1V322h-1V322h-1V322h-1V322h-1V322h-1V322h-1Z" fill="#b3cfd4"/>
<path d="M345.5 256.1V335M374.7 256.1V335M403.9 256.1V335M418.5 256.1V335M327.7 304.1H450.1M327.7 287.2H450.1M327.7 270.3H450.1" stroke="#bababa" stroke-width="1.1" fill="none"/>
<path d="M330.6 256.1V335M389 256.1V335M447.4 256.1V335" stroke="#ff0000" stroke-opacity="0.5" stroke-width="5" fill="none"/>
<path d="M363.4 321L373.9 319.9L381.4 318.9L387.2 320.3L390.5 321.6" fill="none" stroke="#f00" stroke-opacity="0.4" stroke-width="5" stroke-linejoin="round"/>
<g fill="#000" stroke="#000" stroke-linejoin="round"><path d="M330.9 292.6l0.5 0 0.8 22 1.6 3 1.6 0 1.6-2 1.6 0 1.6-1 1.6 1 1.6 0 1.6 0 1.6-3 1.6 0 1.6 0 1.6 0 1.6 1 1.6-3 1.6 0 1.6-2 1.6-2 1.6-1 1.6-4 1.6-2 1.6-1 1.6 2 1.6 3 1.6 1 1.6 0 1.6 1 1.6-3 1.6 2 1.6-2 1.6-3 1.6 0 1.6-2 1.6 0 1.6 0 1.6 1 1.6 3 1.6 5 1.6 4 1.6 0 1.6 1 1.6 1 1.6 2 1.6 2 1.6-2 1.6 1 1.6 0 1.6 2 1.6-1 1.6 0 1.6 2 1.6 1 1.6-1 1.6 0 1.6 2 1.6 0 1.6-1 0.9 1 27.5 0 0 0-27.5 0-0.9 0-1.6 1-1.6 0-1.6 0-1.6 0-1.6 0-1.6 0-1.6-1-1.6 1-1.6-1-1.6 0-1.6-1-1.6 0-1.6 2-1.6-4-1.6 1-1.6-1-1.6-2-1.6 2-1.6-3-1.6-3-1.6-5-1.6 3-1.6-2-1.6 1-1.6 1-1.6 1-1.6 3-1.6-1-1.6-2-1.6 2-1.6-3-1.6 1-1.6 0-1.6-3-1.6 0-1.6 0-1.6 3-1.6 4-1.6-2-1.6 2-1.6 3-1.6-2-1.6 4-1.6 0-1.6-2-1.6 1-1.6-2-1.6 3-1.6 0-1.6 0-1.6-2-1.6 1-1.6 0-1.6 2-1.6 1-1.6-1-0.8-25-0.5 0Z" stroke-width="8.4"/></g>
</g>
<path d="M321.9 251H455.9V339.9H321.9ZM327.7 256.1V335H450.1V256.1Z" fill="#ff0000" fill-rule="evenodd"/>
<path d="M306.3 253.4H321.9M306.3 321H321.9" stroke="#ff0000" stroke-width="4.8"/>
<path d="M314.2 304.1H321.9M314.2 287.2H321.9M314.2 270.3H321.9" stroke="#000" stroke-width="3"/>
<path d="M330.9 339.9V355.9M389.3 339.9V355.9M447.7 339.9V355.9" stroke="#ff0000" stroke-width="4.3"/>
<path d="M345.5 339.9V348.7M360.1 339.9V348.7M374.7 339.9V348.7M403.9 339.9V348.7M418.5 339.9V348.7M433.1 339.9V348.7" stroke="#000" stroke-width="2.9"/>
</g>
</svg></body></html>
